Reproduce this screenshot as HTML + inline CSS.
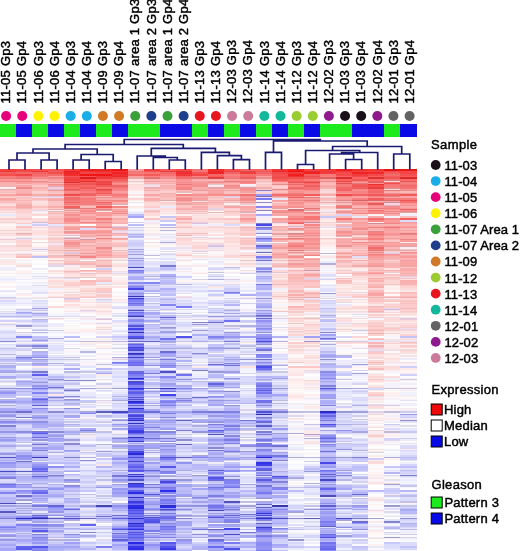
<!DOCTYPE html><html><head><meta charset="utf-8"><style>html,body{margin:0;padding:0;background:#fff;width:520px;height:551px;overflow:hidden}svg{position:absolute;left:0;top:0}text{font-family:"Liberation Sans",sans-serif;stroke:#000;stroke-width:0.45px;paint-order:stroke}</style></head><body>
<svg width="520" height="551" viewBox="0 0 520 551" shape-rendering="crispEdges"><g style="filter:blur(0.45px)">
<path fill="#f04242" d="M0 169h16.02v1h-16.02zM16.02 174h16.02v2h-16.02zM304.37 169h16.02v1h-16.02z"/>
<path fill="#f63f3f" d="M0 170h16.02v1h-16.02zM352.42 171h16.02v1h-16.02zM368.44 171h16.02v1h-16.02z"/>
<path fill="#ed3636" d="M0 171h16.02v1h-16.02zM368.44 170h16.02v1h-16.02z"/>
<path fill="#f35d5d" d="M0 172h16.02v2h-16.02zM160.19 169h16.02v1h-16.02zM400.48 218h16.02v2h-16.02z"/>
<path fill="#f34e4e" d="M0 174h16.02v2h-16.02zM48.06 172h16.02v2h-16.02zM272.33 176h16.02v1h-16.02z"/>
<path fill="#f97e7e" d="M0 176h16.02v1h-16.02zM80.1 200h16.02v1h-16.02zM384.46 187h16.02v1h-16.02z"/>
<path fill="#f37b7b" d="M0 177h16.02v1h-16.02zM384.46 186h16.02v1h-16.02z"/>
<path fill="#ea7e7e" d="M0 178h16.02v1h-16.02zM240.29 181h16.02v1h-16.02z"/>
<path fill="#ff9696" d="M0 179h16.02v2h-16.02zM16.02 179h16.02v1h-16.02zM384.46 209h16.02v1h-16.02zM400.48 203h16.02v1h-16.02z"/>
<path fill="#f08a8a" d="M0 181h16.02v1h-16.02zM16.02 181h16.02v1h-16.02zM304.37 233h16.02v1h-16.02zM336.4 192h16.02v1h-16.02z"/>
<path fill="#f6abab" d="M0 182h16.02v1h-16.02zM16.02 193h16.02v1h-16.02zM400.48 270h16.02v1h-16.02z"/>
<path fill="#fcb1b1" d="M0 183h16.02v1h-16.02zM16.02 192h16.02v1h-16.02z"/>
<path fill="#f9b1b1" d="M0 184h16.02v2h-16.02zM16.02 191h16.02v1h-16.02zM80.1 214h16.02v2h-16.02zM96.12 256h16.02v2h-16.02zM112.13 214h16.02v2h-16.02zM160.19 186h16.02v2h-16.02zM240.29 214h16.02v2h-16.02zM272.33 226h16.02v1h-16.02zM368.44 260h16.02v1h-16.02zM368.44 280h16.02v2h-16.02zM400.48 224h16.02v2h-16.02zM400.48 259h16.02v1h-16.02zM400.48 282h16.02v2h-16.02z"/>
<path fill="#e1babd" d="M0 186h16.02v1h-16.02z"/>
<path fill="#fff0f0" d="M0 187h16.02v1h-16.02zM0 226h16.02v1h-16.02zM16.02 272h16.02v1h-16.02zM32.04 366h16.02v2h-16.02zM48.06 210h16.02v1h-16.02zM48.06 259h16.02v1h-16.02zM64.08 290h16.02v2h-16.02zM80.1 300h16.02v2h-16.02zM80.1 304h16.02v2h-16.02zM80.1 342h16.02v1h-16.02zM96.12 326h16.02v1h-16.02zM96.12 338h16.02v2h-16.02zM96.12 346h16.02v2h-16.02zM112.13 224h16.02v2h-16.02zM128.15 183h16.02v1h-16.02zM144.17 216h16.02v2h-16.02zM144.17 224h16.02v2h-16.02zM160.19 212h16.02v1h-16.02zM160.19 228h16.02v2h-16.02zM176.21 214h16.02v2h-16.02zM192.23 240h16.02v2h-16.02zM208.25 213h16.02v1h-16.02zM208.25 223h16.02v1h-16.02zM208.25 240h16.02v2h-16.02zM224.27 204h16.02v1h-16.02zM224.27 282h16.02v2h-16.02zM240.29 259h16.02v1h-16.02zM240.29 280h16.02v2h-16.02zM272.33 216h16.02v2h-16.02zM272.33 290h16.02v2h-16.02zM272.33 306h16.02v2h-16.02zM288.35 363h16.02v1h-16.02zM288.35 378h16.02v1h-16.02zM288.35 383h16.02v1h-16.02zM304.37 344h16.02v1h-16.02zM304.37 368h16.02v2h-16.02zM304.37 388h16.02v1h-16.02zM336.4 237h16.02v1h-16.02zM336.4 277h16.02v1h-16.02zM336.4 310h16.02v1h-16.02zM336.4 324h16.02v1h-16.02zM336.4 327h16.02v1h-16.02zM352.42 300h16.02v2h-16.02zM352.42 310h16.02v1h-16.02zM352.42 320h16.02v2h-16.02zM368.44 400h16.02v1h-16.02zM368.44 426h16.02v1h-16.02zM368.44 544h16.02v2h-16.02zM384.46 286h16.02v2h-16.02zM384.46 302h16.02v1h-16.02zM384.46 313h16.02v1h-16.02zM384.46 322h16.02v1h-16.02zM384.46 344h16.02v1h-16.02zM384.46 392h16.02v4h-16.02zM400.48 213h16.02v1h-16.02z"/>
<path fill="#ffedf0" d="M0 188h16.02v1h-16.02zM112.13 205h16.02v1h-16.02zM272.33 242h16.02v1h-16.02zM400.48 248h16.02v1h-16.02z"/>
<path fill="#dbb1b4" d="M0 189h16.02v1h-16.02zM112.13 204h16.02v1h-16.02z"/>
<path fill="#f9bdbd" d="M0 190h16.02v1h-16.02zM0 206h16.02v2h-16.02zM16.02 256h16.02v2h-16.02zM48.06 256h16.02v2h-16.02zM80.1 206h16.02v2h-16.02zM112.13 245h16.02v1h-16.02zM112.13 256h16.02v2h-16.02zM240.29 216h16.02v2h-16.02zM288.35 280h16.02v2h-16.02zM368.44 290h16.02v2h-16.02zM368.44 306h16.02v2h-16.02z"/>
<path fill="#fcc0c0" d="M0 191h16.02v1h-16.02zM32.04 206h16.02v2h-16.02zM96.12 237h16.02v1h-16.02zM112.13 244h16.02v1h-16.02zM176.21 216h16.02v2h-16.02zM400.48 293h16.02v1h-16.02z"/>
<path fill="#f6c0c0" d="M0 192h16.02v1h-16.02zM16.02 227h16.02v1h-16.02zM176.21 213h16.02v1h-16.02zM208.25 204h16.02v1h-16.02zM368.44 309h16.02v1h-16.02zM400.48 342h16.02v1h-16.02z"/>
<path fill="#ffcccc" d="M0 193h16.02v1h-16.02zM64.08 249h16.02v1h-16.02zM64.08 260h16.02v1h-16.02zM112.13 242h16.02v1h-16.02zM160.19 192h16.02v1h-16.02zM176.21 223h16.02v1h-16.02zM192.23 210h16.02v1h-16.02zM240.29 223h16.02v1h-16.02zM240.29 226h16.02v1h-16.02zM240.29 239h16.02v1h-16.02zM272.33 231h16.02v1h-16.02zM288.35 285h16.02v1h-16.02zM304.37 296h16.02v1h-16.02zM352.42 235h16.02v1h-16.02zM352.42 249h16.02v1h-16.02zM352.42 261h16.02v1h-16.02zM352.42 297h16.02v1h-16.02zM368.44 298h16.02v1h-16.02zM368.44 363h16.02v1h-16.02zM400.48 343h16.02v1h-16.02z"/>
<path fill="#f9a2a2" d="M0 194h16.02v2h-16.02zM0 198h16.02v2h-16.02zM64.08 216h16.02v2h-16.02zM64.08 222h16.02v1h-16.02zM96.12 220h16.02v2h-16.02zM128.15 176h16.02v2h-16.02zM304.37 193h16.02v1h-16.02zM304.37 274h16.02v2h-16.02zM336.4 256h16.02v2h-16.02zM400.48 244h16.02v1h-16.02zM400.48 263h16.02v3h-16.02z"/>
<path fill="#f6c3c3" d="M0 196h16.02v1h-16.02zM48.06 192h16.02v1h-16.02zM64.08 261h16.02v1h-16.02zM80.1 297h16.02v1h-16.02zM112.13 243h16.02v1h-16.02zM144.17 196h16.02v1h-16.02zM160.19 190h16.02v1h-16.02zM240.29 238h16.02v1h-16.02zM288.35 284h16.02v1h-16.02z"/>
<path fill="#ffcfcf" d="M0 197h16.02v1h-16.02zM32.04 191h16.02v1h-16.02zM64.08 284h16.02v1h-16.02zM80.1 296h16.02v1h-16.02zM144.17 197h16.02v1h-16.02zM160.19 191h16.02v1h-16.02zM176.21 212h16.02v1h-16.02zM176.21 226h16.02v1h-16.02zM288.35 296h16.02v1h-16.02zM288.35 298h16.02v1h-16.02zM288.35 308h16.02v1h-16.02zM288.35 342h16.02v1h-16.02zM304.37 272h16.02v1h-16.02zM336.4 263h16.02v2h-16.02zM368.44 327h16.02v1h-16.02z"/>
<path fill="#f3b1b1" d="M0 200h16.02v1h-16.02zM80.1 245h16.02v1h-16.02zM80.1 250h16.02v1h-16.02zM208.25 200h16.02v1h-16.02z"/>
<path fill="#ffbdbd" d="M0 201h16.02v1h-16.02zM48.06 191h16.02v1h-16.02zM80.1 251h16.02v1h-16.02zM80.1 254h16.02v1h-16.02zM144.17 182h16.02v1h-16.02zM144.17 189h16.02v1h-16.02zM192.23 191h16.02v1h-16.02zM208.25 201h16.02v1h-16.02zM224.27 191h16.02v1h-16.02zM256.31 179h16.02v1h-16.02zM272.33 192h16.02v1h-16.02zM352.42 252h16.02v1h-16.02zM368.44 279h16.02v1h-16.02z"/>
<path fill="#f0c0c0" d="M0 202h16.02v1h-16.02z"/>
<path fill="#ffd5d5" d="M0 203h16.02v1h-16.02zM48.06 233h16.02v1h-16.02zM48.06 253h16.02v1h-16.02zM64.08 273h16.02v1h-16.02zM176.21 239h16.02v1h-16.02zM192.23 212h16.02v1h-16.02zM304.37 325h16.02v1h-16.02zM304.37 331h16.02v1h-16.02zM320.38 189h16.02v1h-16.02zM320.38 203h16.02v1h-16.02zM336.4 249h16.02v1h-16.02zM336.4 272h16.02v1h-16.02zM336.4 279h16.02v1h-16.02zM352.42 267h16.02v1h-16.02zM368.44 332h16.02v1h-16.02zM384.46 293h16.02v1h-16.02zM400.48 310h16.02v1h-16.02zM400.48 347h16.02v1h-16.02z"/>
<path fill="#f9dbdb" d="M0 204h16.02v1h-16.02zM0 210h16.02v1h-16.02zM0 246h16.02v1h-16.02zM48.06 271h16.02v1h-16.02zM112.13 265h16.02v1h-16.02zM128.15 184h16.02v1h-16.02zM176.21 243h16.02v1h-16.02zM224.27 242h16.02v1h-16.02zM240.29 264h16.02v1h-16.02zM288.35 332h16.02v1h-16.02zM320.38 208h16.02v1h-16.02zM384.46 324h16.02v1h-16.02zM400.48 339h16.02v1h-16.02z"/>
<path fill="#ffe1e1" d="M0 205h16.02v1h-16.02zM0 211h16.02v1h-16.02zM0 247h16.02v1h-16.02zM32.04 201h16.02v2h-16.02zM32.04 230h16.02v1h-16.02zM48.06 261h16.02v1h-16.02zM48.06 270h16.02v1h-16.02zM48.06 296h16.02v1h-16.02zM112.13 264h16.02v1h-16.02zM128.15 179h16.02v1h-16.02zM128.15 186h16.02v1h-16.02zM128.15 189h16.02v1h-16.02zM192.23 226h16.02v1h-16.02zM192.23 243h16.02v2h-16.02zM208.25 235h16.02v1h-16.02zM224.27 230h16.02v1h-16.02zM224.27 236h16.02v1h-16.02zM272.33 261h16.02v1h-16.02zM288.35 313h16.02v1h-16.02zM288.35 333h16.02v1h-16.02zM304.37 211h16.02v1h-16.02zM320.38 223h16.02v1h-16.02zM336.4 209h16.02v1h-16.02zM336.4 309h16.02v1h-16.02zM336.4 319h16.02v1h-16.02zM352.42 259h16.02v1h-16.02zM352.42 276h16.02v1h-16.02zM352.42 343h16.02v1h-16.02zM368.44 356h16.02v1h-16.02zM368.44 378h16.02v1h-16.02zM384.46 359h16.02v1h-16.02zM400.48 313h16.02v1h-16.02z"/>
<path fill="#fccccc" d="M0 208h16.02v2h-16.02zM48.06 238h16.02v1h-16.02zM112.13 216h16.02v2h-16.02zM144.17 192h16.02v1h-16.02zM144.17 206h16.02v2h-16.02zM208.25 198h16.02v2h-16.02zM256.31 185h16.02v1h-16.02zM288.35 286h16.02v2h-16.02zM304.37 304h16.02v2h-16.02zM352.42 240h16.02v2h-16.02zM368.44 282h16.02v2h-16.02zM384.46 329h16.02v1h-16.02zM400.48 304h16.02v4h-16.02z"/>
<path fill="#f6dbdb" d="M0 212h16.02v1h-16.02zM288.35 327h16.02v1h-16.02zM352.42 284h16.02v1h-16.02zM368.44 461h16.02v1h-16.02z"/>
<path fill="#ffeded" d="M0 213h16.02v1h-16.02zM0 216h16.02v2h-16.02zM0 228h16.02v2h-16.02zM16.02 294h16.02v2h-16.02zM32.04 226h16.02v1h-16.02zM32.04 228h16.02v2h-16.02zM32.04 254h16.02v1h-16.02zM48.06 272h16.02v1h-16.02zM48.06 285h16.02v1h-16.02zM64.08 288h16.02v2h-16.02zM80.1 308h16.02v1h-16.02zM80.1 330h16.02v1h-16.02zM96.12 303h16.02v1h-16.02zM96.12 313h16.02v1h-16.02zM96.12 343h16.02v1h-16.02zM96.12 374h16.02v2h-16.02zM112.13 258h16.02v1h-16.02zM112.13 267h16.02v1h-16.02zM112.13 280h16.02v2h-16.02zM112.13 300h16.02v2h-16.02zM144.17 239h16.02v1h-16.02zM160.19 201h16.02v1h-16.02zM176.21 193h16.02v1h-16.02zM176.21 256h16.02v2h-16.02zM192.23 366h16.02v2h-16.02zM224.27 203h16.02v1h-16.02zM224.27 251h16.02v1h-16.02zM240.29 262h16.02v1h-16.02zM256.31 218h16.02v2h-16.02zM288.35 304h16.02v2h-16.02zM288.35 322h16.02v1h-16.02zM288.35 325h16.02v1h-16.02zM288.35 338h16.02v1h-16.02zM288.35 348h16.02v1h-16.02zM288.35 359h16.02v1h-16.02zM288.35 368h16.02v3h-16.02zM288.35 380h16.02v2h-16.02zM288.35 419h16.02v1h-16.02zM304.37 320h16.02v2h-16.02zM304.37 347h16.02v1h-16.02zM304.37 382h16.02v1h-16.02zM304.37 394h16.02v2h-16.02zM320.38 205h16.02v1h-16.02zM320.38 220h16.02v2h-16.02zM320.38 245h16.02v1h-16.02zM336.4 284h16.02v1h-16.02zM336.4 286h16.02v2h-16.02zM336.4 330h16.02v1h-16.02zM352.42 268h16.02v2h-16.02zM352.42 280h16.02v2h-16.02zM368.44 365h16.02v1h-16.02zM368.44 419h16.02v1h-16.02zM368.44 460h16.02v1h-16.02zM384.46 288h16.02v2h-16.02zM384.46 332h16.02v1h-16.02zM384.46 355h16.02v2h-16.02zM384.46 381h16.02v1h-16.02zM384.46 419h16.02v1h-16.02zM400.48 322h16.02v1h-16.02zM400.48 333h16.02v1h-16.02z"/>
<path fill="#eaeafc" d="M0 214h16.02v2h-16.02zM0 278h16.02v2h-16.02zM32.04 304h16.02v2h-16.02zM48.06 324h16.02v1h-16.02zM48.06 368h16.02v2h-16.02zM64.08 360h16.02v2h-16.02zM80.1 392h16.02v4h-16.02zM96.12 282h16.02v2h-16.02zM96.12 488h16.02v2h-16.02zM128.15 228h16.02v2h-16.02zM160.19 206h16.02v2h-16.02zM160.19 240h16.02v2h-16.02zM176.21 268h16.02v2h-16.02zM176.21 298h16.02v1h-16.02zM176.21 328h16.02v1h-16.02zM192.23 298h16.02v1h-16.02zM192.23 376h16.02v2h-16.02zM192.23 394h16.02v2h-16.02zM208.25 366h16.02v2h-16.02zM208.25 394h16.02v2h-16.02zM224.27 353h16.02v1h-16.02zM224.27 472h16.02v2h-16.02zM240.29 468h16.02v2h-16.02zM272.33 406h16.02v2h-16.02zM288.35 492h16.02v2h-16.02zM288.35 535h16.02v1h-16.02zM288.35 548h16.02v2h-16.02zM304.37 464h16.02v2h-16.02zM304.37 490h16.02v2h-16.02zM304.37 524h16.02v2h-16.02zM320.38 428h16.02v2h-16.02zM336.4 304h16.02v2h-16.02zM336.4 360h16.02v2h-16.02zM336.4 383h16.02v2h-16.02zM336.4 394h16.02v2h-16.02zM352.42 216h16.02v2h-16.02zM352.42 530h16.02v2h-16.02zM368.44 550h16.02v1h-16.02zM400.48 358h16.02v2h-16.02z"/>
<path fill="#fccfcf" d="M0 218h16.02v2h-16.02zM48.06 214h16.02v2h-16.02zM48.06 246h16.02v1h-16.02zM48.06 248h16.02v2h-16.02zM64.08 282h16.02v2h-16.02zM80.1 290h16.02v2h-16.02zM96.12 279h16.02v1h-16.02zM208.25 206h16.02v2h-16.02zM224.27 212h16.02v2h-16.02zM272.33 186h16.02v2h-16.02zM272.33 280h16.02v2h-16.02zM368.44 314h16.02v1h-16.02zM368.44 334h16.02v2h-16.02zM384.46 306h16.02v2h-16.02z"/>
<path fill="#fce1e1" d="M0 220h16.02v2h-16.02zM16.02 248h16.02v2h-16.02zM32.04 231h16.02v1h-16.02zM32.04 238h16.02v1h-16.02zM48.06 282h16.02v2h-16.02zM64.08 286h16.02v2h-16.02zM192.23 214h16.02v2h-16.02zM192.23 231h16.02v1h-16.02zM192.23 256h16.02v2h-16.02zM208.25 220h16.02v2h-16.02zM224.27 245h16.02v2h-16.02zM240.29 366h16.02v2h-16.02zM288.35 268h16.02v2h-16.02zM304.37 338h16.02v1h-16.02zM304.37 443h16.02v1h-16.02zM336.4 288h16.02v2h-16.02zM352.42 282h16.02v2h-16.02zM352.42 286h16.02v4h-16.02zM368.44 354h16.02v1h-16.02zM384.46 268h16.02v2h-16.02z"/>
<path fill="#f3d5d5" d="M0 222h16.02v1h-16.02zM48.06 237h16.02v1h-16.02zM208.25 238h16.02v1h-16.02zM304.37 302h16.02v1h-16.02zM384.46 299h16.02v1h-16.02zM384.46 327h16.02v1h-16.02zM384.46 330h16.02v1h-16.02zM400.48 330h16.02v1h-16.02z"/>
<path fill="#ffeaea" d="M0 223h16.02v1h-16.02zM0 255h16.02v1h-16.02zM0 263h16.02v1h-16.02zM32.04 235h16.02v1h-16.02zM48.06 236h16.02v1h-16.02zM48.06 279h16.02v1h-16.02zM80.1 286h16.02v2h-16.02zM96.12 276h16.02v1h-16.02zM96.12 328h16.02v1h-16.02zM128.15 206h16.02v2h-16.02zM176.21 236h16.02v1h-16.02zM176.21 252h16.02v1h-16.02zM208.25 242h16.02v1h-16.02zM224.27 252h16.02v1h-16.02zM240.29 261h16.02v1h-16.02zM256.31 208h16.02v1h-16.02zM272.33 224h16.02v2h-16.02zM272.33 278h16.02v1h-16.02zM272.33 293h16.02v1h-16.02zM288.35 303h16.02v1h-16.02zM288.35 326h16.02v1h-16.02zM288.35 344h16.02v1h-16.02zM288.35 372h16.02v1h-16.02zM304.37 430h16.02v1h-16.02zM304.37 432h16.02v1h-16.02zM320.38 213h16.02v1h-16.02zM320.38 231h16.02v2h-16.02zM320.38 240h16.02v2h-16.02zM336.4 293h16.02v1h-16.02zM336.4 328h16.02v1h-16.02zM352.42 285h16.02v1h-16.02zM352.42 327h16.02v1h-16.02zM368.44 313h16.02v1h-16.02zM368.44 498h16.02v1h-16.02zM368.44 530h16.02v2h-16.02zM384.46 298h16.02v1h-16.02zM384.46 346h16.02v1h-16.02zM400.48 331h16.02v1h-16.02zM400.48 344h16.02v1h-16.02zM400.48 368h16.02v2h-16.02z"/>
<path fill="#fff6f6" d="M0 224h16.02v2h-16.02zM0 244h16.02v1h-16.02zM0 252h16.02v1h-16.02zM0 265h16.02v1h-16.02zM0 282h16.02v2h-16.02zM16.02 251h16.02v1h-16.02zM16.02 276h16.02v1h-16.02zM32.04 243h16.02v1h-16.02zM48.06 274h16.02v2h-16.02zM48.06 300h16.02v2h-16.02zM64.08 293h16.02v1h-16.02zM64.08 330h16.02v1h-16.02zM64.08 406h16.02v2h-16.02zM80.1 260h16.02v1h-16.02zM80.1 328h16.02v1h-16.02zM96.12 309h16.02v1h-16.02zM96.12 325h16.02v1h-16.02zM96.12 356h16.02v1h-16.02zM96.12 366h16.02v2h-16.02zM112.13 262h16.02v1h-16.02zM144.17 228h16.02v2h-16.02zM144.17 231h16.02v2h-16.02zM144.17 243h16.02v1h-16.02zM144.17 247h16.02v1h-16.02zM160.19 214h16.02v2h-16.02zM176.21 261h16.02v1h-16.02zM176.21 270h16.02v1h-16.02zM192.23 280h16.02v2h-16.02zM240.29 328h16.02v1h-16.02zM240.29 343h16.02v1h-16.02zM288.35 354h16.02v2h-16.02zM288.35 392h16.02v2h-16.02zM304.37 405h16.02v1h-16.02zM304.37 409h16.02v1h-16.02zM304.37 437h16.02v1h-16.02zM320.38 228h16.02v2h-16.02zM320.38 280h16.02v2h-16.02zM336.4 298h16.02v1h-16.02zM336.4 316h16.02v1h-16.02zM336.4 347h16.02v1h-16.02zM352.42 290h16.02v2h-16.02zM352.42 322h16.02v1h-16.02zM368.44 383h16.02v1h-16.02zM368.44 409h16.02v1h-16.02zM368.44 416h16.02v1h-16.02zM368.44 445h16.02v1h-16.02zM368.44 450h16.02v1h-16.02zM368.44 464h16.02v2h-16.02zM384.46 290h16.02v2h-16.02zM384.46 406h16.02v2h-16.02zM400.48 357h16.02v1h-16.02zM400.48 371h16.02v1h-16.02z"/>
<path fill="#fcf0f0" d="M0 227h16.02v1h-16.02zM0 236h16.02v1h-16.02zM16.02 271h16.02v1h-16.02zM64.08 331h16.02v1h-16.02zM80.1 329h16.02v1h-16.02zM96.12 324h16.02v1h-16.02zM112.13 296h16.02v1h-16.02zM144.17 246h16.02v1h-16.02zM208.25 254h16.02v1h-16.02zM240.29 329h16.02v1h-16.02zM272.33 343h16.02v1h-16.02zM288.35 382h16.02v1h-16.02zM288.35 387h16.02v1h-16.02zM288.35 398h16.02v1h-16.02zM352.42 347h16.02v1h-16.02zM368.44 417h16.02v1h-16.02zM368.44 444h16.02v1h-16.02zM384.46 435h16.02v1h-16.02z"/>
<path fill="#f3d2d2" d="M0 230h16.02v1h-16.02zM16.02 230h16.02v1h-16.02zM48.06 263h16.02v1h-16.02zM224.27 227h16.02v1h-16.02zM320.38 197h16.02v1h-16.02zM320.38 222h16.02v1h-16.02zM384.46 343h16.02v1h-16.02z"/>
<path fill="#ffe7e7" d="M0 231h16.02v2h-16.02zM0 234h16.02v1h-16.02zM0 249h16.02v1h-16.02zM0 251h16.02v1h-16.02zM0 260h16.02v1h-16.02zM16.02 264h16.02v1h-16.02zM48.06 293h16.02v1h-16.02zM80.1 276h16.02v1h-16.02zM96.12 211h16.02v1h-16.02zM112.13 249h16.02v1h-16.02zM128.15 180h16.02v1h-16.02zM160.19 210h16.02v1h-16.02zM176.21 230h16.02v1h-16.02zM176.21 245h16.02v1h-16.02zM208.25 231h16.02v1h-16.02zM208.25 239h16.02v1h-16.02zM224.27 226h16.02v1h-16.02zM224.27 235h16.02v1h-16.02zM224.27 243h16.02v2h-16.02zM224.27 247h16.02v1h-16.02zM224.27 254h16.02v1h-16.02zM272.33 299h16.02v1h-16.02zM272.33 310h16.02v1h-16.02zM288.35 330h16.02v1h-16.02zM288.35 352h16.02v1h-16.02zM288.35 397h16.02v1h-16.02zM304.37 323h16.02v1h-16.02zM304.37 329h16.02v1h-16.02zM304.37 381h16.02v1h-16.02zM320.38 196h16.02v1h-16.02zM320.38 234h16.02v1h-16.02zM352.42 309h16.02v1h-16.02zM368.44 316h16.02v1h-16.02zM368.44 398h16.02v1h-16.02zM368.44 482h16.02v1h-16.02zM400.48 242h16.02v1h-16.02zM400.48 315h16.02v1h-16.02z"/>
<path fill="#f0d2d2" d="M0 233h16.02v1h-16.02zM320.38 212h16.02v1h-16.02zM400.48 345h16.02v1h-16.02z"/>
<path fill="#f6dede" d="M0 235h16.02v1h-16.02zM0 254h16.02v1h-16.02zM32.04 227h16.02v1h-16.02zM32.04 255h16.02v1h-16.02zM112.13 266h16.02v1h-16.02zM272.33 292h16.02v1h-16.02zM320.38 204h16.02v1h-16.02zM368.44 499h16.02v1h-16.02z"/>
<path fill="#fff3f3" d="M0 237h16.02v1h-16.02zM0 286h16.02v2h-16.02zM16.02 236h16.02v1h-16.02zM16.02 270h16.02v1h-16.02zM32.04 246h16.02v1h-16.02zM48.06 290h16.02v2h-16.02zM48.06 294h16.02v2h-16.02zM64.08 236h16.02v1h-16.02zM64.08 303h16.02v1h-16.02zM64.08 310h16.02v1h-16.02zM80.1 303h16.02v1h-16.02zM96.12 285h16.02v1h-16.02zM112.13 261h16.02v1h-16.02zM112.13 268h16.02v2h-16.02zM112.13 279h16.02v1h-16.02zM112.13 297h16.02v1h-16.02zM128.15 191h16.02v1h-16.02zM176.21 280h16.02v2h-16.02zM192.23 252h16.02v1h-16.02zM208.25 255h16.02v1h-16.02zM224.27 216h16.02v2h-16.02zM224.27 265h16.02v1h-16.02zM240.29 271h16.02v1h-16.02zM256.31 204h16.02v2h-16.02zM272.33 342h16.02v1h-16.02zM288.35 384h16.02v3h-16.02zM288.35 399h16.02v1h-16.02zM304.37 315h16.02v1h-16.02zM304.37 354h16.02v1h-16.02zM320.38 236h16.02v2h-16.02zM320.38 247h16.02v1h-16.02zM336.4 368h16.02v2h-16.02zM352.42 303h16.02v3h-16.02zM352.42 328h16.02v1h-16.02zM352.42 366h16.02v2h-16.02zM368.44 214h16.02v2h-16.02zM368.44 384h16.02v1h-16.02zM368.44 415h16.02v1h-16.02zM368.44 457h16.02v1h-16.02zM368.44 468h16.02v2h-16.02zM368.44 472h16.02v3h-16.02zM368.44 532h16.02v2h-16.02zM384.46 334h16.02v2h-16.02zM384.46 409h16.02v1h-16.02zM384.46 434h16.02v1h-16.02zM384.46 458h16.02v2h-16.02zM400.48 370h16.02v1h-16.02zM400.48 372h16.02v1h-16.02z"/>
<path fill="#ffe4ed" d="M0 238h16.02v1h-16.02zM96.12 293h16.02v1h-16.02z"/>
<path fill="#e7ccd5" d="M0 239h16.02v1h-16.02zM96.12 292h16.02v1h-16.02z"/>
<path fill="#fce7e7" d="M0 240h16.02v2h-16.02zM0 256h16.02v2h-16.02zM0 261h16.02v2h-16.02zM48.06 273h16.02v1h-16.02zM48.06 394h16.02v2h-16.02zM64.08 268h16.02v2h-16.02zM96.12 304h16.02v2h-16.02zM96.12 312h16.02v1h-16.02zM96.12 342h16.02v1h-16.02zM112.13 274h16.02v2h-16.02zM144.17 238h16.02v1h-16.02zM176.21 237h16.02v1h-16.02zM208.25 256h16.02v2h-16.02zM208.25 286h16.02v2h-16.02zM224.27 248h16.02v2h-16.02zM224.27 253h16.02v1h-16.02zM288.35 373h16.02v1h-16.02zM304.37 334h16.02v2h-16.02zM304.37 433h16.02v1h-16.02zM320.38 233h16.02v1h-16.02zM320.38 244h16.02v1h-16.02zM336.4 268h16.02v2h-16.02zM368.44 304h16.02v2h-16.02zM400.48 290h16.02v2h-16.02z"/>
<path fill="#f3e4e7" d="M0 242h16.02v1h-16.02zM192.23 273h16.02v1h-16.02zM304.37 349h16.02v1h-16.02zM304.37 387h16.02v1h-16.02zM352.42 333h16.02v1h-16.02zM368.44 420h16.02v1h-16.02zM400.48 355h16.02v1h-16.02z"/>
<path fill="#fff6f9" d="M0 243h16.02v1h-16.02zM32.04 212h16.02v1h-16.02zM80.1 322h16.02v1h-16.02zM96.12 315h16.02v1h-16.02zM304.37 348h16.02v1h-16.02zM368.44 421h16.02v2h-16.02zM368.44 515h16.02v1h-16.02zM400.48 354h16.02v1h-16.02zM400.48 391h16.02v1h-16.02z"/>
<path fill="#f0dee1" d="M0 245h16.02v1h-16.02zM304.37 358h16.02v1h-16.02zM368.44 358h16.02v1h-16.02z"/>
<path fill="#fce4e4" d="M0 248h16.02v1h-16.02zM16.02 220h16.02v2h-16.02zM48.06 292h16.02v1h-16.02zM64.08 274h16.02v2h-16.02zM64.08 280h16.02v2h-16.02zM80.1 294h16.02v2h-16.02zM80.1 306h16.02v2h-16.02zM96.12 286h16.02v2h-16.02zM112.13 282h16.02v2h-16.02zM112.13 286h16.02v2h-16.02zM128.15 194h16.02v2h-16.02zM176.21 224h16.02v2h-16.02zM176.21 228h16.02v2h-16.02zM176.21 231h16.02v1h-16.02zM192.23 216h16.02v2h-16.02zM208.25 214h16.02v4h-16.02zM208.25 228h16.02v2h-16.02zM272.33 298h16.02v1h-16.02zM288.35 353h16.02v1h-16.02zM288.35 360h16.02v2h-16.02zM288.35 374h16.02v2h-16.02zM288.35 396h16.02v1h-16.02zM304.37 290h16.02v2h-16.02zM304.37 360h16.02v2h-16.02zM304.37 363h16.02v1h-16.02zM320.38 218h16.02v2h-16.02zM320.38 230h16.02v1h-16.02zM320.38 235h16.02v1h-16.02zM320.38 242h16.02v2h-16.02zM320.38 256h16.02v2h-16.02zM336.4 306h16.02v2h-16.02zM368.44 355h16.02v1h-16.02zM368.44 374h16.02v2h-16.02zM384.46 347h16.02v1h-16.02z"/>
<path fill="#f9dede" d="M0 250h16.02v1h-16.02zM16.02 265h16.02v1h-16.02zM96.12 311h16.02v1h-16.02zM160.19 211h16.02v1h-16.02zM176.21 244h16.02v1h-16.02zM192.23 239h16.02v1h-16.02zM208.25 230h16.02v1h-16.02zM240.29 253h16.02v1h-16.02zM304.37 328h16.02v1h-16.02zM352.42 279h16.02v1h-16.02zM400.48 314h16.02v1h-16.02zM400.48 352h16.02v1h-16.02z"/>
<path fill="#f9eded" d="M0 253h16.02v1h-16.02zM96.12 308h16.02v1h-16.02zM304.37 408h16.02v1h-16.02zM336.4 346h16.02v1h-16.02zM368.44 390h16.02v1h-16.02zM400.48 373h16.02v1h-16.02zM400.48 396h16.02v1h-16.02z"/>
<path fill="#fcfcff" d="M0 258h16.02v1h-16.02zM0 306h16.02v2h-16.02zM0 310h16.02v1h-16.02zM0 343h16.02v1h-16.02zM16.02 280h16.02v2h-16.02zM16.02 292h16.02v1h-16.02zM16.02 362h16.02v1h-16.02zM16.02 366h16.02v2h-16.02zM32.04 258h16.02v1h-16.02zM32.04 272h16.02v1h-16.02zM32.04 299h16.02v1h-16.02zM48.06 304h16.02v2h-16.02zM48.06 329h16.02v1h-16.02zM48.06 334h16.02v2h-16.02zM48.06 354h16.02v1h-16.02zM64.08 339h16.02v1h-16.02zM64.08 342h16.02v2h-16.02zM64.08 353h16.02v1h-16.02zM64.08 472h16.02v2h-16.02zM80.1 315h16.02v1h-16.02zM80.1 354h16.02v1h-16.02zM80.1 357h16.02v2h-16.02zM80.1 383h16.02v2h-16.02zM80.1 387h16.02v1h-16.02zM80.1 399h16.02v1h-16.02zM80.1 427h16.02v1h-16.02zM96.12 360h16.02v2h-16.02zM96.12 378h16.02v1h-16.02zM96.12 399h16.02v1h-16.02zM96.12 404h16.02v1h-16.02zM96.12 523h16.02v1h-16.02zM112.13 304h16.02v2h-16.02zM112.13 317h16.02v1h-16.02zM112.13 327h16.02v1h-16.02zM112.13 333h16.02v1h-16.02zM112.13 350h16.02v1h-16.02zM112.13 355h16.02v1h-16.02zM112.13 443h16.02v1h-16.02zM112.13 501h16.02v1h-16.02zM128.15 203h16.02v1h-16.02zM128.15 220h16.02v2h-16.02zM144.17 252h16.02v1h-16.02zM144.17 260h16.02v1h-16.02zM144.17 294h16.02v2h-16.02zM160.19 250h16.02v1h-16.02zM160.19 260h16.02v1h-16.02zM160.19 311h16.02v1h-16.02zM176.21 294h16.02v2h-16.02zM192.23 268h16.02v2h-16.02zM192.23 277h16.02v1h-16.02zM192.23 293h16.02v1h-16.02zM192.23 363h16.02v1h-16.02zM192.23 387h16.02v1h-16.02zM192.23 405h16.02v1h-16.02zM192.23 483h16.02v1h-16.02zM208.25 236h16.02v1h-16.02zM208.25 273h16.02v1h-16.02zM224.27 374h16.02v2h-16.02zM240.29 268h16.02v2h-16.02zM240.29 306h16.02v2h-16.02zM240.29 538h16.02v1h-16.02zM272.33 326h16.02v1h-16.02zM272.33 332h16.02v2h-16.02zM272.33 339h16.02v1h-16.02zM272.33 349h16.02v1h-16.02zM288.35 402h16.02v1h-16.02zM288.35 417h16.02v1h-16.02zM288.35 420h16.02v1h-16.02zM288.35 466h16.02v2h-16.02zM288.35 494h16.02v1h-16.02zM304.37 256h16.02v2h-16.02zM304.37 451h16.02v1h-16.02zM304.37 456h16.02v1h-16.02zM304.37 481h16.02v1h-16.02zM304.37 497h16.02v1h-16.02zM304.37 501h16.02v2h-16.02zM304.37 530h16.02v2h-16.02zM304.37 541h16.02v1h-16.02zM320.38 260h16.02v1h-16.02zM336.4 303h16.02v1h-16.02zM336.4 358h16.02v1h-16.02zM336.4 370h16.02v1h-16.02zM336.4 387h16.02v1h-16.02zM336.4 402h16.02v1h-16.02zM336.4 435h16.02v1h-16.02zM352.42 349h16.02v1h-16.02zM352.42 497h16.02v1h-16.02zM368.44 453h16.02v1h-16.02zM368.44 503h16.02v1h-16.02zM368.44 506h16.02v1h-16.02zM368.44 508h16.02v1h-16.02zM368.44 513h16.02v1h-16.02zM368.44 528h16.02v1h-16.02zM368.44 542h16.02v2h-16.02zM384.46 445h16.02v4h-16.02zM384.46 451h16.02v1h-16.02zM384.46 464h16.02v2h-16.02zM384.46 498h16.02v1h-16.02zM384.46 510h16.02v1h-16.02zM384.46 514h16.02v1h-16.02zM384.46 517h16.02v2h-16.02zM384.46 535h16.02v1h-16.02zM384.46 541h16.02v1h-16.02zM400.48 401h16.02v1h-16.02zM400.48 423h16.02v1h-16.02zM400.48 427h16.02v1h-16.02zM400.48 441h16.02v1h-16.02zM400.48 461h16.02v1h-16.02zM400.48 488h16.02v2h-16.02zM400.48 541h16.02v1h-16.02z"/>
<path fill="#ededf6" d="M0 259h16.02v1h-16.02zM0 342h16.02v1h-16.02zM80.1 355h16.02v2h-16.02zM80.1 398h16.02v1h-16.02zM112.13 326h16.02v1h-16.02zM192.23 292h16.02v1h-16.02zM288.35 403h16.02v1h-16.02zM304.37 449h16.02v1h-16.02zM320.38 261h16.02v1h-16.02zM352.42 381h16.02v1h-16.02z"/>
<path fill="#f9eaea" d="M0 264h16.02v1h-16.02zM32.04 247h16.02v1h-16.02zM128.15 190h16.02v1h-16.02zM144.17 233h16.02v1h-16.02zM240.29 258h16.02v1h-16.02zM272.33 302h16.02v1h-16.02zM352.42 302h16.02v1h-16.02zM368.44 385h16.02v1h-16.02zM368.44 451h16.02v1h-16.02zM368.44 475h16.02v1h-16.02z"/>
<path fill="#fcf6ff" d="M0 266h16.02v1h-16.02zM64.08 345h16.02v1h-16.02zM80.1 364h16.02v1h-16.02zM96.12 355h16.02v1h-16.02zM112.13 353h16.02v1h-16.02zM240.29 308h16.02v1h-16.02zM352.42 352h16.02v1h-16.02zM352.42 358h16.02v1h-16.02zM384.46 414h16.02v1h-16.02z"/>
<path fill="#f0edf6" d="M0 267h16.02v1h-16.02zM48.06 326h16.02v1h-16.02zM64.08 344h16.02v1h-16.02zM80.1 365h16.02v1h-16.02zM80.1 520h16.02v1h-16.02zM96.12 354h16.02v1h-16.02zM176.21 259h16.02v1h-16.02zM208.25 237h16.02v1h-16.02zM224.27 259h16.02v1h-16.02zM240.29 293h16.02v1h-16.02zM240.29 309h16.02v1h-16.02zM384.46 476h16.02v1h-16.02z"/>
<path fill="#ededfc" d="M0 268h16.02v2h-16.02zM0 304h16.02v2h-16.02zM32.04 268h16.02v2h-16.02zM32.04 282h16.02v2h-16.02zM32.04 290h16.02v2h-16.02zM64.08 392h16.02v2h-16.02zM80.1 379h16.02v1h-16.02zM80.1 466h16.02v2h-16.02zM80.1 530h16.02v2h-16.02zM96.12 428h16.02v2h-16.02zM96.12 460h16.02v1h-16.02zM96.12 544h16.02v2h-16.02zM112.13 382h16.02v1h-16.02zM112.13 385h16.02v1h-16.02zM144.17 366h16.02v2h-16.02zM160.19 392h16.02v2h-16.02zM176.21 282h16.02v2h-16.02zM192.23 282h16.02v2h-16.02zM192.23 288h16.02v2h-16.02zM192.23 304h16.02v2h-16.02zM192.23 374h16.02v2h-16.02zM208.25 224h16.02v2h-16.02zM224.27 280h16.02v2h-16.02zM240.29 392h16.02v2h-16.02zM240.29 460h16.02v1h-16.02zM240.29 462h16.02v2h-16.02zM288.35 428h16.02v2h-16.02zM304.37 542h16.02v2h-16.02zM320.38 286h16.02v2h-16.02zM352.42 374h16.02v2h-16.02zM400.48 405h16.02v1h-16.02zM400.48 479h16.02v1h-16.02zM400.48 492h16.02v2h-16.02z"/>
<path fill="#f6eded" d="M0 270h16.02v1h-16.02zM16.02 263h16.02v1h-16.02zM64.08 318h16.02v1h-16.02zM128.15 200h16.02v1h-16.02zM176.21 265h16.02v1h-16.02zM192.23 266h16.02v1h-16.02zM336.4 314h16.02v1h-16.02zM368.44 373h16.02v1h-16.02zM368.44 514h16.02v1h-16.02zM368.44 522h16.02v1h-16.02z"/>
<path fill="#fffcfc" d="M0 271h16.02v1h-16.02zM0 274h16.02v2h-16.02zM0 293h16.02v1h-16.02zM16.02 258h16.02v1h-16.02zM16.02 268h16.02v2h-16.02zM16.02 306h16.02v2h-16.02zM16.02 331h16.02v1h-16.02zM32.04 216h16.02v2h-16.02zM32.04 240h16.02v2h-16.02zM32.04 260h16.02v1h-16.02zM32.04 270h16.02v1h-16.02zM48.06 268h16.02v2h-16.02zM48.06 310h16.02v1h-16.02zM64.08 319h16.02v1h-16.02zM64.08 322h16.02v1h-16.02zM64.08 324h16.02v1h-16.02zM80.1 224h16.02v2h-16.02zM80.1 268h16.02v2h-16.02zM80.1 278h16.02v2h-16.02zM80.1 325h16.02v1h-16.02zM80.1 347h16.02v1h-16.02zM96.12 344h16.02v1h-16.02zM96.12 352h16.02v1h-16.02zM112.13 276h16.02v1h-16.02zM112.13 290h16.02v2h-16.02zM112.13 298h16.02v1h-16.02zM128.15 196h16.02v1h-16.02zM128.15 201h16.02v1h-16.02zM144.17 226h16.02v1h-16.02zM176.21 263h16.02v1h-16.02zM176.21 334h16.02v2h-16.02zM192.23 254h16.02v1h-16.02zM192.23 271h16.02v1h-16.02zM192.23 274h16.02v2h-16.02zM224.27 261h16.02v1h-16.02zM240.29 300h16.02v2h-16.02zM240.29 318h16.02v1h-16.02zM272.33 350h16.02v1h-16.02zM288.35 365h16.02v1h-16.02zM288.35 391h16.02v1h-16.02zM288.35 401h16.02v1h-16.02zM288.35 409h16.02v1h-16.02zM288.35 451h16.02v1h-16.02zM288.35 462h16.02v2h-16.02zM304.37 374h16.02v2h-16.02zM304.37 421h16.02v2h-16.02zM304.37 455h16.02v1h-16.02zM320.38 249h16.02v1h-16.02zM320.38 251h16.02v1h-16.02zM320.38 282h16.02v2h-16.02zM336.4 315h16.02v1h-16.02zM336.4 338h16.02v1h-16.02zM336.4 376h16.02v2h-16.02zM352.42 334h16.02v2h-16.02zM352.42 338h16.02v1h-16.02zM352.42 344h16.02v1h-16.02zM352.42 357h16.02v1h-16.02zM368.44 372h16.02v1h-16.02zM368.44 403h16.02v1h-16.02zM368.44 424h16.02v1h-16.02zM368.44 428h16.02v2h-16.02zM368.44 454h16.02v1h-16.02zM368.44 485h16.02v1h-16.02zM368.44 488h16.02v2h-16.02zM368.44 523h16.02v1h-16.02zM368.44 540h16.02v1h-16.02zM384.46 374h16.02v2h-16.02zM384.46 461h16.02v1h-16.02zM384.46 530h16.02v2h-16.02zM400.48 360h16.02v2h-16.02zM400.48 376h16.02v2h-16.02zM400.48 381h16.02v1h-16.02z"/>
<path fill="#fff9fc" d="M0 272h16.02v1h-16.02zM0 322h16.02v1h-16.02zM64.08 328h16.02v1h-16.02zM112.13 311h16.02v1h-16.02zM160.19 232h16.02v1h-16.02zM176.21 264h16.02v1h-16.02zM176.21 371h16.02v1h-16.02zM224.27 262h16.02v1h-16.02zM240.29 442h16.02v1h-16.02zM256.31 200h16.02v1h-16.02zM256.31 212h16.02v1h-16.02zM272.33 325h16.02v1h-16.02zM272.33 344h16.02v1h-16.02zM288.35 341h16.02v1h-16.02zM336.4 344h16.02v1h-16.02zM384.46 443h16.02v1h-16.02zM384.46 539h16.02v1h-16.02z"/>
<path fill="#f9f0f3" d="M0 273h16.02v1h-16.02zM384.46 436h16.02v1h-16.02zM384.46 442h16.02v1h-16.02zM400.48 390h16.02v1h-16.02z"/>
<path fill="#f0f0f9" d="M0 276h16.02v1h-16.02zM48.06 323h16.02v1h-16.02zM80.1 538h16.02v1h-16.02zM96.12 398h16.02v1h-16.02zM112.13 332h16.02v1h-16.02zM112.13 351h16.02v1h-16.02zM224.27 276h16.02v1h-16.02zM224.27 296h16.02v1h-16.02zM240.29 284h16.02v1h-16.02zM288.35 522h16.02v1h-16.02zM288.35 533h16.02v1h-16.02zM304.37 480h16.02v1h-16.02zM320.38 270h16.02v1h-16.02zM368.44 529h16.02v1h-16.02zM400.48 384h16.02v1h-16.02z"/>
<path fill="#f6f6ff" d="M0 277h16.02v1h-16.02zM0 294h16.02v2h-16.02zM0 398h16.02v1h-16.02zM16.02 274h16.02v2h-16.02zM16.02 282h16.02v2h-16.02zM16.02 368h16.02v2h-16.02zM16.02 418h16.02v1h-16.02zM16.02 443h16.02v1h-16.02zM32.04 274h16.02v2h-16.02zM32.04 277h16.02v1h-16.02zM32.04 279h16.02v1h-16.02zM32.04 334h16.02v2h-16.02zM32.04 349h16.02v1h-16.02zM48.06 267h16.02v1h-16.02zM48.06 314h16.02v1h-16.02zM48.06 331h16.02v1h-16.02zM48.06 333h16.02v1h-16.02zM48.06 370h16.02v1h-16.02zM48.06 372h16.02v1h-16.02zM48.06 464h16.02v2h-16.02zM64.08 427h16.02v1h-16.02zM80.1 320h16.02v2h-16.02zM80.1 333h16.02v1h-16.02zM80.1 348h16.02v1h-16.02zM80.1 360h16.02v2h-16.02zM80.1 403h16.02v1h-16.02zM80.1 441h16.02v1h-16.02zM80.1 455h16.02v1h-16.02zM80.1 458h16.02v2h-16.02zM80.1 492h16.02v2h-16.02zM80.1 533h16.02v1h-16.02zM96.12 340h16.02v1h-16.02zM96.12 389h16.02v1h-16.02zM96.12 406h16.02v2h-16.02zM96.12 430h16.02v1h-16.02zM96.12 524h16.02v2h-16.02zM112.13 303h16.02v1h-16.02zM112.13 324h16.02v1h-16.02zM144.17 236h16.02v1h-16.02zM144.17 323h16.02v1h-16.02zM144.17 389h16.02v1h-16.02zM144.17 398h16.02v1h-16.02zM160.19 226h16.02v1h-16.02zM160.19 231h16.02v1h-16.02zM160.19 368h16.02v2h-16.02zM160.19 430h16.02v1h-16.02zM176.21 274h16.02v2h-16.02zM176.21 278h16.02v1h-16.02zM176.21 308h16.02v1h-16.02zM176.21 310h16.02v1h-16.02zM176.21 330h16.02v1h-16.02zM176.21 333h16.02v1h-16.02zM176.21 372h16.02v1h-16.02zM176.21 460h16.02v1h-16.02zM192.23 258h16.02v1h-16.02zM192.23 285h16.02v1h-16.02zM192.23 294h16.02v3h-16.02zM192.23 436h16.02v1h-16.02zM192.23 453h16.02v1h-16.02zM192.23 541h16.02v1h-16.02zM208.25 292h16.02v1h-16.02zM208.25 306h16.02v2h-16.02zM208.25 343h16.02v1h-16.02zM208.25 353h16.02v1h-16.02zM208.25 380h16.02v1h-16.02zM224.27 404h16.02v1h-16.02zM240.29 278h16.02v1h-16.02zM240.29 288h16.02v2h-16.02zM240.29 302h16.02v1h-16.02zM240.29 355h16.02v1h-16.02zM240.29 371h16.02v1h-16.02zM240.29 404h16.02v1h-16.02zM240.29 472h16.02v2h-16.02zM240.29 475h16.02v1h-16.02zM240.29 499h16.02v2h-16.02zM240.29 528h16.02v1h-16.02zM256.31 211h16.02v1h-16.02zM256.31 242h16.02v1h-16.02zM256.31 253h16.02v1h-16.02zM272.33 304h16.02v2h-16.02zM272.33 312h16.02v2h-16.02zM272.33 334h16.02v2h-16.02zM288.35 406h16.02v2h-16.02zM288.35 438h16.02v1h-16.02zM288.35 445h16.02v2h-16.02zM288.35 458h16.02v2h-16.02zM288.35 464h16.02v2h-16.02zM288.35 468h16.02v2h-16.02zM288.35 503h16.02v1h-16.02zM288.35 513h16.02v1h-16.02zM288.35 532h16.02v1h-16.02zM288.35 538h16.02v1h-16.02zM304.37 288h16.02v2h-16.02zM304.37 458h16.02v2h-16.02zM304.37 517h16.02v1h-16.02zM320.38 258h16.02v2h-16.02zM320.38 268h16.02v2h-16.02zM320.38 340h16.02v1h-16.02zM336.4 483h16.02v1h-16.02zM352.42 372h16.02v1h-16.02zM352.42 378h16.02v1h-16.02zM352.42 418h16.02v1h-16.02zM352.42 437h16.02v1h-16.02zM352.42 483h16.02v1h-16.02zM368.44 319h16.02v1h-16.02zM384.46 336h16.02v2h-16.02zM384.46 420h16.02v1h-16.02zM384.46 454h16.02v1h-16.02zM384.46 507h16.02v1h-16.02zM384.46 524h16.02v2h-16.02zM400.48 413h16.02v1h-16.02zM400.48 434h16.02v1h-16.02zM400.48 483h16.02v1h-16.02zM400.48 487h16.02v1h-16.02zM400.48 533h16.02v1h-16.02zM400.48 539h16.02v1h-16.02zM400.48 550h16.02v1h-16.02z"/>
<path fill="#f3f3ff" d="M0 280h16.02v2h-16.02zM0 308h16.02v1h-16.02zM0 328h16.02v1h-16.02zM16.02 300h16.02v2h-16.02zM16.02 304h16.02v2h-16.02zM16.02 323h16.02v1h-16.02zM16.02 352h16.02v1h-16.02zM16.02 379h16.02v1h-16.02zM16.02 501h16.02v2h-16.02zM32.04 288h16.02v2h-16.02zM32.04 318h16.02v1h-16.02zM32.04 327h16.02v1h-16.02zM48.06 336h16.02v2h-16.02zM64.08 314h16.02v1h-16.02zM64.08 320h16.02v2h-16.02zM64.08 366h16.02v2h-16.02zM64.08 387h16.02v1h-16.02zM80.1 381h16.02v1h-16.02zM80.1 456h16.02v1h-16.02zM80.1 462h16.02v2h-16.02zM80.1 508h16.02v1h-16.02zM96.12 365h16.02v1h-16.02zM96.12 382h16.02v1h-16.02zM96.12 396h16.02v1h-16.02zM96.12 423h16.02v1h-16.02zM96.12 449h16.02v1h-16.02zM96.12 537h16.02v1h-16.02zM112.13 314h16.02v1h-16.02zM128.15 226h16.02v1h-16.02zM144.17 280h16.02v2h-16.02zM144.17 302h16.02v1h-16.02zM144.17 455h16.02v1h-16.02zM160.19 256h16.02v2h-16.02zM160.19 272h16.02v1h-16.02zM160.19 474h16.02v1h-16.02zM176.21 292h16.02v1h-16.02zM176.21 320h16.02v2h-16.02zM176.21 362h16.02v1h-16.02zM176.21 497h16.02v1h-16.02zM192.23 300h16.02v2h-16.02zM192.23 345h16.02v2h-16.02zM192.23 372h16.02v1h-16.02zM192.23 380h16.02v1h-16.02zM192.23 418h16.02v1h-16.02zM192.23 423h16.02v1h-16.02zM192.23 474h16.02v1h-16.02zM192.23 532h16.02v1h-16.02zM192.23 538h16.02v1h-16.02zM208.25 258h16.02v1h-16.02zM208.25 282h16.02v2h-16.02zM208.25 314h16.02v1h-16.02zM224.27 299h16.02v1h-16.02zM224.27 323h16.02v2h-16.02zM224.27 541h16.02v1h-16.02zM240.29 224h16.02v2h-16.02zM240.29 330h16.02v1h-16.02zM240.29 368h16.02v2h-16.02zM240.29 372h16.02v1h-16.02zM240.29 385h16.02v1h-16.02zM240.29 509h16.02v1h-16.02zM240.29 527h16.02v1h-16.02zM240.29 530h16.02v2h-16.02zM240.29 540h16.02v1h-16.02zM256.31 220h16.02v2h-16.02zM272.33 320h16.02v2h-16.02zM272.33 360h16.02v2h-16.02zM288.35 455h16.02v1h-16.02zM288.35 501h16.02v1h-16.02zM304.37 439h16.02v1h-16.02zM304.37 484h16.02v1h-16.02zM304.37 504h16.02v1h-16.02zM304.37 523h16.02v1h-16.02zM304.37 548h16.02v2h-16.02zM320.38 284h16.02v1h-16.02zM336.4 405h16.02v1h-16.02zM336.4 538h16.02v1h-16.02zM352.42 376h16.02v2h-16.02zM352.42 394h16.02v2h-16.02zM368.44 492h16.02v2h-16.02zM368.44 524h16.02v2h-16.02zM384.46 216h16.02v2h-16.02zM384.46 379h16.02v1h-16.02zM384.46 385h16.02v1h-16.02zM384.46 468h16.02v2h-16.02zM384.46 481h16.02v1h-16.02zM384.46 487h16.02v1h-16.02zM384.46 513h16.02v1h-16.02zM384.46 550h16.02v1h-16.02zM400.48 392h16.02v2h-16.02zM400.48 404h16.02v1h-16.02zM400.48 437h16.02v1h-16.02zM400.48 444h16.02v1h-16.02zM400.48 481h16.02v1h-16.02zM400.48 530h16.02v2h-16.02z"/>
<path fill="#ffffff" d="M0 284h16.02v1h-16.02zM0 288h16.02v2h-16.02zM32.04 261h16.02v2h-16.02zM32.04 265h16.02v2h-16.02zM48.06 302h16.02v2h-16.02zM48.06 320h16.02v3h-16.02zM64.08 347h16.02v1h-16.02zM80.1 314h16.02v1h-16.02zM80.1 336h16.02v2h-16.02zM96.12 317h16.02v1h-16.02zM96.12 392h16.02v2h-16.02zM112.13 288h16.02v2h-16.02zM144.17 240h16.02v2h-16.02zM144.17 256h16.02v2h-16.02zM160.19 222h16.02v2h-16.02zM160.19 252h16.02v1h-16.02zM192.23 261h16.02v2h-16.02zM192.23 550h16.02v1h-16.02zM224.27 270h16.02v1h-16.02zM224.27 274h16.02v2h-16.02zM240.29 274h16.02v2h-16.02zM288.35 461h16.02v1h-16.02zM288.35 484h16.02v1h-16.02zM288.35 497h16.02v1h-16.02zM288.35 523h16.02v1h-16.02zM304.37 392h16.02v2h-16.02zM304.37 447h16.02v2h-16.02zM304.37 544h16.02v2h-16.02zM336.4 332h16.02v1h-16.02zM336.4 334h16.02v2h-16.02zM352.42 350h16.02v1h-16.02zM352.42 472h16.02v2h-16.02zM368.44 336h16.02v2h-16.02zM368.44 447h16.02v1h-16.02zM368.44 486h16.02v2h-16.02zM368.44 517h16.02v1h-16.02zM400.48 406h16.02v2h-16.02z"/>
<path fill="#fcf9fc" d="M0 285h16.02v1h-16.02zM16.02 284h16.02v1h-16.02zM48.06 298h16.02v2h-16.02zM48.06 312h16.02v1h-16.02zM64.08 350h16.02v1h-16.02zM112.13 277h16.02v1h-16.02zM144.17 248h16.02v1h-16.02zM176.21 262h16.02v1h-16.02zM208.25 252h16.02v2h-16.02zM240.29 276h16.02v1h-16.02zM256.31 234h16.02v2h-16.02zM272.33 322h16.02v1h-16.02zM304.37 390h16.02v1h-16.02zM304.37 400h16.02v4h-16.02zM304.37 420h16.02v1h-16.02zM336.4 350h16.02v2h-16.02zM336.4 380h16.02v1h-16.02zM352.42 345h16.02v1h-16.02zM352.42 386h16.02v1h-16.02zM368.44 471h16.02v1h-16.02zM384.46 402h16.02v2h-16.02z"/>
<path fill="#e7e7fc" d="M0 290h16.02v2h-16.02zM0 334h16.02v2h-16.02zM0 353h16.02v1h-16.02zM16.02 468h16.02v2h-16.02zM48.06 224h16.02v2h-16.02zM48.06 360h16.02v2h-16.02zM64.08 374h16.02v2h-16.02zM64.08 437h16.02v1h-16.02zM80.1 415h16.02v1h-16.02zM80.1 468h16.02v2h-16.02zM96.12 300h16.02v2h-16.02zM96.12 434h16.02v2h-16.02zM112.13 334h16.02v2h-16.02zM112.13 387h16.02v1h-16.02zM112.13 392h16.02v2h-16.02zM128.15 212h16.02v2h-16.02zM176.21 288h16.02v2h-16.02zM192.23 530h16.02v2h-16.02zM208.25 406h16.02v2h-16.02zM240.29 290h16.02v2h-16.02zM272.33 198h16.02v2h-16.02zM272.33 374h16.02v2h-16.02zM288.35 336h16.02v2h-16.02zM288.35 534h16.02v1h-16.02zM304.37 488h16.02v2h-16.02zM336.4 392h16.02v2h-16.02zM336.4 542h16.02v2h-16.02zM352.42 402h16.02v1h-16.02zM352.42 406h16.02v2h-16.02zM368.44 546h16.02v2h-16.02zM400.48 428h16.02v2h-16.02z"/>
<path fill="#fcf6f6" d="M0 292h16.02v1h-16.02zM16.02 259h16.02v1h-16.02zM32.04 245h16.02v1h-16.02zM32.04 253h16.02v1h-16.02zM64.08 325h16.02v2h-16.02zM80.1 324h16.02v1h-16.02zM96.12 380h16.02v1h-16.02zM272.33 351h16.02v1h-16.02zM288.35 356h16.02v1h-16.02zM288.35 364h16.02v1h-16.02zM288.35 390h16.02v1h-16.02zM288.35 400h16.02v1h-16.02zM304.37 453h16.02v2h-16.02zM304.37 474h16.02v1h-16.02zM336.4 353h16.02v1h-16.02zM368.44 425h16.02v1h-16.02zM368.44 484h16.02v1h-16.02zM368.44 541h16.02v1h-16.02z"/>
<path fill="#f0f0ff" d="M0 296h16.02v1h-16.02zM16.02 302h16.02v1h-16.02zM16.02 308h16.02v1h-16.02zM16.02 351h16.02v1h-16.02zM16.02 354h16.02v1h-16.02zM32.04 311h16.02v1h-16.02zM32.04 328h16.02v1h-16.02zM32.04 430h16.02v1h-16.02zM48.06 288h16.02v2h-16.02zM48.06 352h16.02v1h-16.02zM48.06 362h16.02v1h-16.02zM48.06 516h16.02v1h-16.02zM64.08 358h16.02v1h-16.02zM80.1 350h16.02v1h-16.02zM80.1 353h16.02v1h-16.02zM80.1 378h16.02v1h-16.02zM80.1 410h16.02v1h-16.02zM80.1 433h16.02v1h-16.02zM80.1 503h16.02v1h-16.02zM96.12 385h16.02v1h-16.02zM96.12 427h16.02v1h-16.02zM96.12 461h16.02v1h-16.02zM96.12 494h16.02v1h-16.02zM112.13 340h16.02v1h-16.02zM112.13 383h16.02v2h-16.02zM128.15 238h16.02v1h-16.02zM144.17 259h16.02v1h-16.02zM144.17 358h16.02v1h-16.02zM144.17 456h16.02v1h-16.02zM176.21 285h16.02v1h-16.02zM176.21 312h16.02v1h-16.02zM176.21 517h16.02v1h-16.02zM192.23 359h16.02v1h-16.02zM192.23 454h16.02v1h-16.02zM208.25 263h16.02v1h-16.02zM208.25 277h16.02v1h-16.02zM224.27 308h16.02v1h-16.02zM240.29 324h16.02v1h-16.02zM240.29 411h16.02v2h-16.02zM240.29 419h16.02v1h-16.02zM240.29 461h16.02v1h-16.02zM240.29 483h16.02v1h-16.02zM256.31 265h16.02v1h-16.02zM272.33 268h16.02v2h-16.02zM272.33 527h16.02v1h-16.02zM288.35 456h16.02v1h-16.02zM288.35 517h16.02v1h-16.02zM288.35 521h16.02v1h-16.02zM304.37 425h16.02v1h-16.02zM304.37 479h16.02v1h-16.02zM304.37 495h16.02v1h-16.02zM304.37 520h16.02v1h-16.02zM304.37 538h16.02v1h-16.02zM336.4 354h16.02v1h-16.02zM336.4 385h16.02v1h-16.02zM336.4 410h16.02v1h-16.02zM336.4 442h16.02v1h-16.02zM336.4 453h16.02v2h-16.02zM336.4 481h16.02v1h-16.02zM336.4 499h16.02v2h-16.02zM336.4 528h16.02v1h-16.02zM352.42 331h16.02v1h-16.02zM352.42 389h16.02v1h-16.02zM352.42 396h16.02v1h-16.02zM352.42 414h16.02v1h-16.02zM352.42 417h16.02v1h-16.02zM352.42 435h16.02v1h-16.02zM352.42 475h16.02v1h-16.02zM384.46 456h16.02v1h-16.02zM400.48 214h16.02v2h-16.02zM400.48 478h16.02v1h-16.02zM400.48 504h16.02v1h-16.02z"/>
<path fill="#cfcfea" d="M0 297h16.02v1h-16.02zM16.02 419h16.02v1h-16.02zM32.04 326h16.02v1h-16.02zM96.12 383h16.02v1h-16.02zM240.29 498h16.02v1h-16.02zM352.42 415h16.02v2h-16.02z"/>
<path fill="#e1d5e7" d="M0 298h16.02v1h-16.02zM80.1 434h16.02v1h-16.02z"/>
<path fill="#f3eafc" d="M0 299h16.02v1h-16.02zM112.13 272h16.02v1h-16.02z"/>
<path fill="#d8d8fc" d="M0 300h16.02v2h-16.02zM0 406h16.02v2h-16.02zM0 443h16.02v1h-16.02zM0 488h16.02v2h-16.02zM32.04 406h16.02v2h-16.02zM48.06 374h16.02v2h-16.02zM64.08 447h16.02v3h-16.02zM64.08 454h16.02v1h-16.02zM64.08 492h16.02v2h-16.02zM80.1 420h16.02v2h-16.02zM80.1 488h16.02v2h-16.02zM96.12 474h16.02v1h-16.02zM96.12 509h16.02v1h-16.02zM96.12 542h16.02v2h-16.02zM112.13 364h16.02v1h-16.02zM112.13 376h16.02v2h-16.02zM112.13 394h16.02v2h-16.02zM112.13 468h16.02v2h-16.02zM144.17 350h16.02v1h-16.02zM160.19 334h16.02v2h-16.02zM176.21 304h16.02v2h-16.02zM176.21 325h16.02v1h-16.02zM176.21 422h16.02v1h-16.02zM176.21 546h16.02v2h-16.02zM192.23 417h16.02v1h-16.02zM224.27 376h16.02v2h-16.02zM288.35 542h16.02v2h-16.02zM320.38 348h16.02v2h-16.02zM336.4 214h16.02v2h-16.02zM336.4 546h16.02v2h-16.02zM336.4 550h16.02v1h-16.02zM352.42 423h16.02v1h-16.02zM352.42 542h16.02v2h-16.02zM368.44 388h16.02v1h-16.02zM400.48 447h16.02v1h-16.02zM400.48 548h16.02v2h-16.02z"/>
<path fill="#e7e7ff" d="M0 302h16.02v1h-16.02zM0 314h16.02v1h-16.02zM16.02 373h16.02v1h-16.02zM32.04 323h16.02v1h-16.02zM48.06 339h16.02v1h-16.02zM48.06 523h16.02v1h-16.02zM64.08 340h16.02v1h-16.02zM64.08 385h16.02v1h-16.02zM64.08 435h16.02v1h-16.02zM64.08 484h16.02v1h-16.02zM64.08 533h16.02v1h-16.02zM80.1 405h16.02v1h-16.02zM80.1 423h16.02v1h-16.02zM80.1 438h16.02v1h-16.02zM80.1 474h16.02v1h-16.02zM80.1 484h16.02v1h-16.02zM80.1 519h16.02v1h-16.02zM80.1 526h16.02v1h-16.02zM96.12 414h16.02v1h-16.02zM96.12 445h16.02v1h-16.02zM96.12 477h16.02v1h-16.02zM96.12 481h16.02v1h-16.02zM96.12 533h16.02v1h-16.02zM112.13 380h16.02v1h-16.02zM112.13 401h16.02v1h-16.02zM112.13 450h16.02v1h-16.02zM144.17 309h16.02v1h-16.02zM144.17 343h16.02v1h-16.02zM144.17 387h16.02v1h-16.02zM160.19 285h16.02v1h-16.02zM160.19 477h16.02v1h-16.02zM176.21 302h16.02v1h-16.02zM176.21 344h16.02v1h-16.02zM176.21 441h16.02v1h-16.02zM192.23 328h16.02v1h-16.02zM192.23 332h16.02v1h-16.02zM192.23 517h16.02v1h-16.02zM208.25 284h16.02v1h-16.02zM224.27 314h16.02v1h-16.02zM224.27 342h16.02v1h-16.02zM224.27 380h16.02v1h-16.02zM240.29 391h16.02v1h-16.02zM240.29 510h16.02v1h-16.02zM256.31 333h16.02v1h-16.02zM272.33 357h16.02v1h-16.02zM288.35 479h16.02v1h-16.02zM288.35 504h16.02v1h-16.02zM288.35 509h16.02v1h-16.02zM288.35 536h16.02v1h-16.02zM304.37 477h16.02v1h-16.02zM304.37 527h16.02v1h-16.02zM304.37 534h16.02v1h-16.02zM320.38 322h16.02v1h-16.02zM320.38 433h16.02v1h-16.02zM336.4 390h16.02v1h-16.02zM336.4 504h16.02v1h-16.02zM336.4 514h16.02v1h-16.02zM352.42 365h16.02v1h-16.02zM352.42 382h16.02v1h-16.02zM352.42 401h16.02v1h-16.02zM352.42 413h16.02v1h-16.02zM352.42 451h16.02v1h-16.02zM384.46 523h16.02v1h-16.02zM400.48 452h16.02v1h-16.02zM400.48 528h16.02v1h-16.02z"/>
<path fill="#e1e1f9" d="M0 303h16.02v1h-16.02zM48.06 345h16.02v1h-16.02zM80.1 439h16.02v1h-16.02zM144.17 267h16.02v1h-16.02zM144.17 342h16.02v1h-16.02zM192.23 333h16.02v1h-16.02zM272.33 451h16.02v1h-16.02zM320.38 323h16.02v1h-16.02zM336.4 398h16.02v1h-16.02zM336.4 451h16.02v1h-16.02z"/>
<path fill="#f0f0fc" d="M0 309h16.02v1h-16.02zM0 329h16.02v1h-16.02zM16.02 224h16.02v2h-16.02zM16.02 286h16.02v4h-16.02zM32.04 286h16.02v2h-16.02zM48.06 373h16.02v1h-16.02zM96.12 376h16.02v2h-16.02zM96.12 394h16.02v2h-16.02zM96.12 530h16.02v2h-16.02zM112.13 360h16.02v2h-16.02zM144.17 220h16.02v2h-16.02zM192.23 224h16.02v2h-16.02zM192.23 344h16.02v1h-16.02zM192.23 360h16.02v2h-16.02zM208.25 259h16.02v1h-16.02zM208.25 288h16.02v2h-16.02zM208.25 462h16.02v2h-16.02zM224.27 294h16.02v2h-16.02zM224.27 306h16.02v2h-16.02zM240.29 286h16.02v2h-16.02zM240.29 334h16.02v2h-16.02zM240.29 360h16.02v2h-16.02zM240.29 406h16.02v2h-16.02zM256.31 216h16.02v2h-16.02zM272.33 288h16.02v2h-16.02zM288.35 488h16.02v2h-16.02zM288.35 520h16.02v1h-16.02zM304.37 550h16.02v1h-16.02zM320.38 294h16.02v2h-16.02zM336.4 452h16.02v1h-16.02zM336.4 462h16.02v2h-16.02zM336.4 548h16.02v2h-16.02zM352.42 360h16.02v2h-16.02zM384.46 421h16.02v1h-16.02zM384.46 486h16.02v1h-16.02zM400.48 394h16.02v2h-16.02zM400.48 462h16.02v2h-16.02z"/>
<path fill="#dedef0" d="M0 311h16.02v1h-16.02zM32.04 276h16.02v1h-16.02zM32.04 285h16.02v1h-16.02zM112.13 344h16.02v1h-16.02zM192.23 284h16.02v1h-16.02zM240.29 357h16.02v1h-16.02zM272.33 327h16.02v1h-16.02zM304.37 516h16.02v1h-16.02zM352.42 314h16.02v1h-16.02zM352.42 362h16.02v1h-16.02zM400.48 425h16.02v1h-16.02z"/>
<path fill="#ededff" d="M0 312h16.02v1h-16.02zM0 379h16.02v1h-16.02zM16.02 299h16.02v1h-16.02zM16.02 339h16.02v1h-16.02zM16.02 347h16.02v1h-16.02zM16.02 387h16.02v1h-16.02zM16.02 447h16.02v2h-16.02zM32.04 461h16.02v1h-16.02zM32.04 503h16.02v1h-16.02zM32.04 533h16.02v1h-16.02zM48.06 325h16.02v1h-16.02zM48.06 344h16.02v1h-16.02zM48.06 351h16.02v1h-16.02zM48.06 364h16.02v1h-16.02zM48.06 390h16.02v1h-16.02zM48.06 453h16.02v2h-16.02zM48.06 483h16.02v1h-16.02zM64.08 379h16.02v1h-16.02zM64.08 423h16.02v1h-16.02zM80.1 389h16.02v1h-16.02zM80.1 495h16.02v2h-16.02zM80.1 498h16.02v1h-16.02zM96.12 370h16.02v1h-16.02zM96.12 420h16.02v1h-16.02zM96.12 441h16.02v1h-16.02zM96.12 484h16.02v1h-16.02zM112.13 370h16.02v1h-16.02zM112.13 378h16.02v1h-16.02zM112.13 391h16.02v1h-16.02zM144.17 266h16.02v1h-16.02zM144.17 277h16.02v1h-16.02zM144.17 292h16.02v1h-16.02zM144.17 344h16.02v1h-16.02zM144.17 404h16.02v1h-16.02zM160.19 237h16.02v1h-16.02zM160.19 296h16.02v1h-16.02zM176.21 299h16.02v1h-16.02zM176.21 329h16.02v1h-16.02zM176.21 364h16.02v1h-16.02zM176.21 433h16.02v1h-16.02zM176.21 435h16.02v1h-16.02zM176.21 483h16.02v1h-16.02zM192.23 299h16.02v1h-16.02zM192.23 308h16.02v1h-16.02zM192.23 371h16.02v1h-16.02zM208.25 278h16.02v1h-16.02zM224.27 351h16.02v2h-16.02zM240.29 338h16.02v1h-16.02zM240.29 340h16.02v1h-16.02zM240.29 427h16.02v1h-16.02zM240.29 504h16.02v1h-16.02zM240.29 521h16.02v2h-16.02zM256.31 222h16.02v1h-16.02zM256.31 250h16.02v1h-16.02zM256.31 266h16.02v1h-16.02zM256.31 408h16.02v1h-16.02zM256.31 442h16.02v1h-16.02zM272.33 340h16.02v1h-16.02zM272.33 373h16.02v1h-16.02zM272.33 381h16.02v1h-16.02zM272.33 401h16.02v2h-16.02zM272.33 419h16.02v1h-16.02zM272.33 450h16.02v1h-16.02zM288.35 448h16.02v1h-16.02zM288.35 474h16.02v1h-16.02zM288.35 486h16.02v1h-16.02zM288.35 541h16.02v1h-16.02zM320.38 318h16.02v1h-16.02zM320.38 346h16.02v1h-16.02zM336.4 364h16.02v1h-16.02zM336.4 378h16.02v1h-16.02zM336.4 382h16.02v1h-16.02zM336.4 389h16.02v1h-16.02zM336.4 397h16.02v1h-16.02zM336.4 510h16.02v1h-16.02zM336.4 541h16.02v1h-16.02zM352.42 408h16.02v1h-16.02zM352.42 420h16.02v1h-16.02zM384.46 471h16.02v1h-16.02zM384.46 497h16.02v1h-16.02zM384.46 503h16.02v1h-16.02zM400.48 410h16.02v1h-16.02zM400.48 477h16.02v1h-16.02zM400.48 515h16.02v1h-16.02z"/>
<path fill="#cfcfed" d="M0 313h16.02v1h-16.02zM48.06 455h16.02v1h-16.02zM80.1 502h16.02v1h-16.02zM96.12 384h16.02v1h-16.02zM96.12 440h16.02v1h-16.02zM112.13 403h16.02v1h-16.02zM240.29 520h16.02v1h-16.02zM240.29 523h16.02v1h-16.02zM400.48 438h16.02v1h-16.02z"/>
<path fill="#dbdbf6" d="M0 315h16.02v1h-16.02zM0 331h16.02v1h-16.02zM32.04 292h16.02v1h-16.02zM80.1 404h16.02v1h-16.02zM96.12 390h16.02v1h-16.02zM96.12 540h16.02v1h-16.02zM112.13 409h16.02v1h-16.02zM112.13 423h16.02v1h-16.02zM176.21 452h16.02v1h-16.02zM192.23 329h16.02v1h-16.02zM272.33 405h16.02v1h-16.02zM304.37 498h16.02v1h-16.02zM352.42 400h16.02v1h-16.02zM352.42 427h16.02v1h-16.02zM352.42 443h16.02v1h-16.02z"/>
<path fill="#bdbdea" d="M0 316h16.02v1h-16.02zM16.02 445h16.02v1h-16.02zM64.08 505h16.02v1h-16.02zM144.17 460h16.02v1h-16.02zM192.23 354h16.02v1h-16.02zM208.25 341h16.02v1h-16.02zM224.27 344h16.02v1h-16.02zM272.33 426h16.02v1h-16.02zM400.48 496h16.02v1h-16.02z"/>
<path fill="#dbdbff" d="M0 317h16.02v1h-16.02zM0 449h16.02v1h-16.02zM0 537h16.02v1h-16.02zM16.02 314h16.02v1h-16.02zM16.02 425h16.02v1h-16.02zM16.02 444h16.02v1h-16.02zM16.02 483h16.02v1h-16.02zM16.02 504h16.02v1h-16.02zM32.04 523h16.02v1h-16.02zM48.06 470h16.02v1h-16.02zM80.1 396h16.02v1h-16.02zM80.1 424h16.02v1h-16.02zM80.1 479h16.02v2h-16.02zM96.12 433h16.02v1h-16.02zM112.13 513h16.02v1h-16.02zM128.15 255h16.02v1h-16.02zM144.17 430h16.02v1h-16.02zM144.17 451h16.02v1h-16.02zM144.17 461h16.02v1h-16.02zM176.21 354h16.02v1h-16.02zM176.21 533h16.02v1h-16.02zM192.23 325h16.02v1h-16.02zM192.23 352h16.02v1h-16.02zM192.23 355h16.02v1h-16.02zM192.23 424h16.02v1h-16.02zM208.25 302h16.02v1h-16.02zM208.25 309h16.02v1h-16.02zM208.25 325h16.02v1h-16.02zM208.25 329h16.02v1h-16.02zM208.25 373h16.02v1h-16.02zM208.25 423h16.02v1h-16.02zM208.25 533h16.02v1h-16.02zM224.27 349h16.02v1h-16.02zM224.27 446h16.02v1h-16.02zM224.27 453h16.02v1h-16.02zM224.27 500h16.02v1h-16.02zM240.29 358h16.02v1h-16.02zM240.29 507h16.02v1h-16.02zM240.29 534h16.02v1h-16.02zM256.31 232h16.02v1h-16.02zM256.31 249h16.02v1h-16.02zM256.31 358h16.02v1h-16.02zM320.38 431h16.02v1h-16.02zM336.4 372h16.02v1h-16.02zM336.4 416h16.02v1h-16.02zM336.4 439h16.02v2h-16.02zM336.4 477h16.02v1h-16.02zM336.4 512h16.02v1h-16.02zM336.4 532h16.02v1h-16.02zM352.42 499h16.02v2h-16.02zM400.48 474h16.02v1h-16.02zM400.48 500h16.02v1h-16.02zM400.48 522h16.02v1h-16.02z"/>
<path fill="#fcf9ff" d="M0 318h16.02v1h-16.02zM16.02 329h16.02v1h-16.02zM16.02 396h16.02v1h-16.02zM48.06 327h16.02v1h-16.02zM80.1 521h16.02v1h-16.02zM112.13 293h16.02v1h-16.02zM112.13 319h16.02v1h-16.02zM128.15 209h16.02v1h-16.02zM144.17 418h16.02v1h-16.02zM160.19 246h16.02v1h-16.02zM176.21 258h16.02v1h-16.02zM176.21 314h16.02v1h-16.02zM192.23 327h16.02v1h-16.02zM192.23 442h16.02v1h-16.02zM208.25 265h16.02v2h-16.02zM208.25 297h16.02v1h-16.02zM224.27 258h16.02v1h-16.02zM272.33 314h16.02v1h-16.02zM272.33 370h16.02v1h-16.02zM288.35 452h16.02v1h-16.02zM288.35 481h16.02v1h-16.02zM288.35 526h16.02v1h-16.02zM304.37 413h16.02v1h-16.02zM304.37 417h16.02v1h-16.02zM320.38 277h16.02v1h-16.02zM336.4 436h16.02v1h-16.02zM336.4 522h16.02v1h-16.02zM352.42 385h16.02v1h-16.02zM368.44 410h16.02v1h-16.02zM368.44 536h16.02v1h-16.02zM384.46 373h16.02v1h-16.02zM384.46 389h16.02v1h-16.02zM384.46 397h16.02v1h-16.02zM384.46 474h16.02v1h-16.02zM384.46 477h16.02v2h-16.02zM400.48 535h16.02v2h-16.02z"/>
<path fill="#f3f0f6" d="M0 319h16.02v1h-16.02zM112.13 352h16.02v1h-16.02zM176.21 342h16.02v1h-16.02zM208.25 264h16.02v1h-16.02zM208.25 298h16.02v1h-16.02zM272.33 353h16.02v1h-16.02zM304.37 496h16.02v1h-16.02zM384.46 396h16.02v1h-16.02zM400.48 383h16.02v1h-16.02z"/>
<path fill="#d2d2f9" d="M0 320h16.02v2h-16.02zM0 442h16.02v1h-16.02zM16.02 544h16.02v2h-16.02zM48.06 460h16.02v1h-16.02zM48.06 468h16.02v2h-16.02zM64.08 455h16.02v1h-16.02zM96.12 425h16.02v1h-16.02zM112.13 368h16.02v2h-16.02zM128.15 274h16.02v2h-16.02zM144.17 274h16.02v2h-16.02zM144.17 288h16.02v2h-16.02zM160.19 320h16.02v2h-16.02zM176.21 366h16.02v2h-16.02zM176.21 394h16.02v2h-16.02zM192.23 490h16.02v2h-16.02zM192.23 542h16.02v2h-16.02zM208.25 360h16.02v2h-16.02zM208.25 464h16.02v2h-16.02zM240.29 312h16.02v2h-16.02zM240.29 382h16.02v1h-16.02zM240.29 492h16.02v2h-16.02zM272.33 398h16.02v1h-16.02zM272.33 462h16.02v2h-16.02zM272.33 498h16.02v1h-16.02zM320.38 311h16.02v1h-16.02zM320.38 408h16.02v1h-16.02zM336.4 417h16.02v1h-16.02zM336.4 420h16.02v2h-16.02zM336.4 544h16.02v2h-16.02zM352.42 428h16.02v2h-16.02z"/>
<path fill="#f3e7e7" d="M0 323h16.02v1h-16.02zM112.13 299h16.02v1h-16.02zM192.23 255h16.02v1h-16.02zM368.44 370h16.02v1h-16.02z"/>
<path fill="#d2d2f0" d="M0 324h16.02v1h-16.02zM48.06 365h16.02v1h-16.02zM80.1 475h16.02v1h-16.02zM96.12 498h16.02v1h-16.02zM144.17 386h16.02v1h-16.02zM224.27 381h16.02v1h-16.02zM288.35 537h16.02v1h-16.02z"/>
<path fill="#eaeaff" d="M0 325h16.02v1h-16.02zM0 345h16.02v2h-16.02zM0 355h16.02v2h-16.02zM32.04 302h16.02v1h-16.02zM32.04 333h16.02v1h-16.02zM32.04 441h16.02v1h-16.02zM32.04 511h16.02v2h-16.02zM48.06 341h16.02v1h-16.02zM64.08 356h16.02v1h-16.02zM64.08 420h16.02v1h-16.02zM64.08 436h16.02v1h-16.02zM64.08 538h16.02v1h-16.02zM80.1 414h16.02v1h-16.02zM96.12 413h16.02v1h-16.02zM96.12 446h16.02v1h-16.02zM96.12 499h16.02v2h-16.02zM96.12 534h16.02v1h-16.02zM112.13 330h16.02v1h-16.02zM112.13 386h16.02v1h-16.02zM112.13 402h16.02v1h-16.02zM112.13 449h16.02v1h-16.02zM128.15 231h16.02v2h-16.02zM144.17 265h16.02v1h-16.02zM144.17 297h16.02v1h-16.02zM144.17 381h16.02v1h-16.02zM160.19 255h16.02v1h-16.02zM160.19 271h16.02v1h-16.02zM160.19 314h16.02v1h-16.02zM176.21 327h16.02v1h-16.02zM176.21 358h16.02v1h-16.02zM176.21 436h16.02v1h-16.02zM176.21 513h16.02v1h-16.02zM192.23 314h16.02v1h-16.02zM192.23 461h16.02v1h-16.02zM208.25 379h16.02v1h-16.02zM208.25 389h16.02v1h-16.02zM224.27 390h16.02v1h-16.02zM240.29 317h16.02v1h-16.02zM240.29 347h16.02v1h-16.02zM240.29 349h16.02v2h-16.02zM240.29 353h16.02v1h-16.02zM240.29 389h16.02v1h-16.02zM240.29 435h16.02v2h-16.02zM240.29 441h16.02v1h-16.02zM240.29 450h16.02v1h-16.02zM256.31 230h16.02v1h-16.02zM256.31 353h16.02v1h-16.02zM256.31 430h16.02v1h-16.02zM272.33 404h16.02v1h-16.02zM272.33 504h16.02v1h-16.02zM288.35 519h16.02v1h-16.02zM304.37 510h16.02v1h-16.02zM304.37 519h16.02v1h-16.02zM320.38 262h16.02v1h-16.02zM320.38 313h16.02v1h-16.02zM320.38 345h16.02v1h-16.02zM320.38 362h16.02v1h-16.02zM336.4 503h16.02v1h-16.02zM336.4 534h16.02v1h-16.02zM352.42 403h16.02v1h-16.02zM352.42 442h16.02v1h-16.02zM352.42 504h16.02v1h-16.02zM368.44 340h16.02v1h-16.02zM384.46 425h16.02v1h-16.02zM384.46 485h16.02v1h-16.02zM384.46 533h16.02v1h-16.02zM400.48 433h16.02v1h-16.02zM400.48 439h16.02v1h-16.02zM400.48 517h16.02v1h-16.02z"/>
<path fill="#f3eaf3" d="M0 326h16.02v1h-16.02zM96.12 331h16.02v1h-16.02zM96.12 402h16.02v1h-16.02zM144.17 272h16.02v1h-16.02zM304.37 415h16.02v1h-16.02zM400.48 418h16.02v1h-16.02z"/>
<path fill="#f9f0f9" d="M0 327h16.02v1h-16.02zM32.04 250h16.02v1h-16.02zM80.1 345h16.02v1h-16.02zM304.37 399h16.02v1h-16.02zM304.37 414h16.02v1h-16.02z"/>
<path fill="#e4e4ff" d="M0 330h16.02v1h-16.02zM0 351h16.02v1h-16.02zM0 362h16.02v1h-16.02zM0 404h16.02v1h-16.02zM0 533h16.02v1h-16.02zM16.02 340h16.02v1h-16.02zM32.04 293h16.02v1h-16.02zM32.04 317h16.02v1h-16.02zM32.04 358h16.02v1h-16.02zM48.06 356h16.02v1h-16.02zM48.06 442h16.02v1h-16.02zM48.06 450h16.02v1h-16.02zM64.08 381h16.02v1h-16.02zM80.1 504h16.02v1h-16.02zM80.1 510h16.02v1h-16.02zM80.1 514h16.02v1h-16.02zM96.12 391h16.02v1h-16.02zM96.12 436h16.02v1h-16.02zM96.12 450h16.02v1h-16.02zM96.12 478h16.02v1h-16.02zM96.12 497h16.02v1h-16.02zM96.12 541h16.02v1h-16.02zM112.13 408h16.02v1h-16.02zM112.13 427h16.02v1h-16.02zM112.13 435h16.02v2h-16.02zM144.17 262h16.02v1h-16.02zM144.17 311h16.02v1h-16.02zM144.17 378h16.02v1h-16.02zM144.17 453h16.02v1h-16.02zM144.17 483h16.02v1h-16.02zM144.17 497h16.02v1h-16.02zM160.19 343h16.02v1h-16.02zM160.19 478h16.02v1h-16.02zM160.19 541h16.02v1h-16.02zM176.21 316h16.02v1h-16.02zM176.21 339h16.02v1h-16.02zM176.21 383h16.02v1h-16.02zM176.21 408h16.02v1h-16.02zM176.21 453h16.02v2h-16.02zM192.23 317h16.02v1h-16.02zM192.23 323h16.02v1h-16.02zM192.23 331h16.02v1h-16.02zM192.23 433h16.02v1h-16.02zM192.23 481h16.02v1h-16.02zM192.23 514h16.02v1h-16.02zM192.23 526h16.02v1h-16.02zM208.25 357h16.02v1h-16.02zM224.27 285h16.02v1h-16.02zM224.27 523h16.02v1h-16.02zM240.29 314h16.02v1h-16.02zM256.31 262h16.02v1h-16.02zM272.33 383h16.02v1h-16.02zM272.33 391h16.02v1h-16.02zM272.33 421h16.02v1h-16.02zM272.33 424h16.02v1h-16.02zM272.33 461h16.02v1h-16.02zM272.33 494h16.02v1h-16.02zM304.37 514h16.02v1h-16.02zM320.38 278h16.02v1h-16.02zM320.38 327h16.02v1h-16.02zM320.38 331h16.02v1h-16.02zM320.38 333h16.02v1h-16.02zM336.4 399h16.02v1h-16.02zM336.4 456h16.02v1h-16.02zM352.42 425h16.02v2h-16.02zM352.42 438h16.02v1h-16.02zM352.42 453h16.02v2h-16.02zM352.42 480h16.02v1h-16.02zM400.48 454h16.02v1h-16.02z"/>
<path fill="#d5d5f6" d="M0 332h16.02v1h-16.02zM16.02 315h16.02v1h-16.02zM48.06 498h16.02v1h-16.02zM64.08 496h16.02v1h-16.02zM80.1 397h16.02v1h-16.02zM112.13 405h16.02v1h-16.02zM240.29 416h16.02v1h-16.02zM304.37 513h16.02v1h-16.02zM304.37 529h16.02v1h-16.02zM352.42 440h16.02v1h-16.02zM352.42 532h16.02v1h-16.02z"/>
<path fill="#dedeff" d="M0 333h16.02v1h-16.02zM0 339h16.02v1h-16.02zM0 380h16.02v1h-16.02zM16.02 494h16.02v1h-16.02zM16.02 521h16.02v1h-16.02zM32.04 309h16.02v1h-16.02zM32.04 324h16.02v1h-16.02zM48.06 403h16.02v2h-16.02zM48.06 410h16.02v1h-16.02zM64.08 373h16.02v1h-16.02zM64.08 478h16.02v1h-16.02zM64.08 497h16.02v1h-16.02zM80.1 453h16.02v1h-16.02zM80.1 461h16.02v1h-16.02zM80.1 513h16.02v1h-16.02zM112.13 397h16.02v1h-16.02zM112.13 404h16.02v1h-16.02zM112.13 414h16.02v1h-16.02zM112.13 421h16.02v1h-16.02zM112.13 471h16.02v1h-16.02zM128.15 248h16.02v1h-16.02zM128.15 342h16.02v1h-16.02zM144.17 271h16.02v1h-16.02zM144.17 318h16.02v1h-16.02zM144.17 331h16.02v1h-16.02zM144.17 408h16.02v1h-16.02zM144.17 449h16.02v1h-16.02zM144.17 511h16.02v2h-16.02zM160.19 357h16.02v1h-16.02zM176.21 323h16.02v1h-16.02zM176.21 349h16.02v1h-16.02zM176.21 431h16.02v1h-16.02zM176.21 450h16.02v1h-16.02zM176.21 471h16.02v1h-16.02zM176.21 477h16.02v2h-16.02zM176.21 511h16.02v1h-16.02zM192.23 339h16.02v1h-16.02zM192.23 408h16.02v1h-16.02zM192.23 427h16.02v1h-16.02zM208.25 340h16.02v1h-16.02zM208.25 435h16.02v1h-16.02zM208.25 449h16.02v1h-16.02zM224.27 303h16.02v1h-16.02zM224.27 312h16.02v1h-16.02zM224.27 317h16.02v1h-16.02zM224.27 345h16.02v2h-16.02zM224.27 445h16.02v1h-16.02zM224.27 454h16.02v1h-16.02zM240.29 333h16.02v1h-16.02zM240.29 344h16.02v1h-16.02zM240.29 417h16.02v1h-16.02zM240.29 449h16.02v1h-16.02zM240.29 513h16.02v1h-16.02zM272.33 387h16.02v1h-16.02zM272.33 427h16.02v1h-16.02zM272.33 431h16.02v2h-16.02zM288.35 528h16.02v1h-16.02zM304.37 512h16.02v1h-16.02zM320.38 302h16.02v1h-16.02zM320.38 527h16.02v1h-16.02zM336.4 413h16.02v1h-16.02zM336.4 423h16.02v1h-16.02zM336.4 471h16.02v1h-16.02zM352.42 484h16.02v1h-16.02zM352.42 519h16.02v2h-16.02zM352.42 541h16.02v1h-16.02zM384.46 520h16.02v1h-16.02zM384.46 529h16.02v1h-16.02zM400.48 421h16.02v1h-16.02zM400.48 484h16.02v1h-16.02zM400.48 497h16.02v1h-16.02zM400.48 521h16.02v1h-16.02z"/>
<path fill="#e4e4fc" d="M0 336h16.02v2h-16.02zM0 352h16.02v1h-16.02zM16.02 434h16.02v2h-16.02zM48.06 347h16.02v1h-16.02zM64.08 530h16.02v2h-16.02zM80.1 366h16.02v2h-16.02zM80.1 472h16.02v2h-16.02zM96.12 548h16.02v2h-16.02zM112.13 374h16.02v2h-16.02zM112.13 498h16.02v2h-16.02zM192.23 392h16.02v2h-16.02zM240.29 394h16.02v2h-16.02zM256.31 282h16.02v2h-16.02zM256.31 374h16.02v2h-16.02zM272.33 422h16.02v1h-16.02zM272.33 548h16.02v2h-16.02zM304.37 428h16.02v2h-16.02zM304.37 472h16.02v2h-16.02zM320.38 306h16.02v2h-16.02zM336.4 450h16.02v1h-16.02zM336.4 490h16.02v2h-16.02zM384.46 548h16.02v2h-16.02zM400.48 453h16.02v1h-16.02z"/>
<path fill="#c9c9f0" d="M0 338h16.02v1h-16.02zM48.06 383h16.02v1h-16.02zM224.27 302h16.02v1h-16.02zM224.27 455h16.02v1h-16.02zM240.29 512h16.02v1h-16.02zM272.33 386h16.02v1h-16.02zM352.42 485h16.02v1h-16.02z"/>
<path fill="#d8d8ff" d="M0 340h16.02v1h-16.02zM0 349h16.02v1h-16.02zM0 479h16.02v1h-16.02zM0 482h16.02v1h-16.02zM16.02 324h16.02v1h-16.02zM16.02 348h16.02v1h-16.02zM16.02 405h16.02v1h-16.02zM16.02 415h16.02v1h-16.02zM16.02 514h16.02v1h-16.02zM32.04 312h16.02v1h-16.02zM32.04 370h16.02v1h-16.02zM32.04 485h16.02v1h-16.02zM48.06 381h16.02v1h-16.02zM48.06 502h16.02v1h-16.02zM64.08 441h16.02v1h-16.02zM64.08 504h16.02v1h-16.02zM64.08 541h16.02v1h-16.02zM80.1 471h16.02v1h-16.02zM80.1 483h16.02v1h-16.02zM80.1 486h16.02v1h-16.02zM80.1 517h16.02v1h-16.02zM96.12 513h16.02v1h-16.02zM96.12 527h16.02v1h-16.02zM112.13 453h16.02v2h-16.02zM112.13 523h16.02v1h-16.02zM128.15 250h16.02v1h-16.02zM144.17 349h16.02v1h-16.02zM144.17 352h16.02v1h-16.02zM144.17 514h16.02v1h-16.02zM144.17 532h16.02v1h-16.02zM144.17 541h16.02v1h-16.02zM160.19 264h16.02v1h-16.02zM160.19 312h16.02v1h-16.02zM160.19 399h16.02v1h-16.02zM176.21 397h16.02v1h-16.02zM176.21 449h16.02v1h-16.02zM176.21 503h16.02v1h-16.02zM176.21 520h16.02v1h-16.02zM192.23 349h16.02v1h-16.02zM192.23 385h16.02v1h-16.02zM192.23 513h16.02v1h-16.02zM192.23 536h16.02v1h-16.02zM208.25 311h16.02v1h-16.02zM208.25 323h16.02v1h-16.02zM208.25 363h16.02v1h-16.02zM224.27 398h16.02v1h-16.02zM224.27 477h16.02v2h-16.02zM240.29 327h16.02v1h-16.02zM240.29 365h16.02v1h-16.02zM256.31 299h16.02v1h-16.02zM256.31 302h16.02v1h-16.02zM256.31 309h16.02v1h-16.02zM256.31 476h16.02v1h-16.02zM272.33 414h16.02v1h-16.02zM272.33 470h16.02v1h-16.02zM320.38 350h16.02v1h-16.02zM320.38 399h16.02v1h-16.02zM320.38 443h16.02v1h-16.02zM336.4 415h16.02v1h-16.02zM336.4 478h16.02v1h-16.02zM352.42 390h16.02v1h-16.02zM352.42 456h16.02v1h-16.02zM400.48 416h16.02v1h-16.02zM400.48 507h16.02v1h-16.02zM400.48 527h16.02v1h-16.02z"/>
<path fill="#8d8dd2" d="M0 341h16.02v1h-16.02zM144.17 533h16.02v1h-16.02z"/>
<path fill="#dedef6" d="M0 344h16.02v1h-16.02zM32.04 303h16.02v1h-16.02zM96.12 447h16.02v1h-16.02zM96.12 535h16.02v1h-16.02zM176.21 359h16.02v1h-16.02zM240.29 388h16.02v1h-16.02zM304.37 511h16.02v1h-16.02zM336.4 391h16.02v1h-16.02zM336.4 511h16.02v1h-16.02z"/>
<path fill="#e4e4f9" d="M0 347h16.02v1h-16.02zM48.06 340h16.02v1h-16.02zM48.06 353h16.02v1h-16.02zM112.13 381h16.02v1h-16.02zM160.19 236h16.02v1h-16.02zM240.29 339h16.02v1h-16.02zM240.29 341h16.02v1h-16.02zM288.35 449h16.02v1h-16.02zM304.37 476h16.02v1h-16.02zM336.4 396h16.02v1h-16.02zM336.4 540h16.02v1h-16.02zM368.44 341h16.02v1h-16.02zM384.46 470h16.02v1h-16.02z"/>
<path fill="#c0c0ed" d="M0 348h16.02v1h-16.02zM16.02 515h16.02v1h-16.02zM48.06 503h16.02v1h-16.02zM80.1 445h16.02v1h-16.02zM80.1 487h16.02v1h-16.02zM96.12 432h16.02v1h-16.02zM112.13 455h16.02v1h-16.02zM160.19 313h16.02v1h-16.02zM160.19 398h16.02v1h-16.02zM224.27 347h16.02v1h-16.02zM336.4 432h16.02v1h-16.02zM336.4 438h16.02v1h-16.02zM336.4 513h16.02v1h-16.02zM400.48 501h16.02v1h-16.02z"/>
<path fill="#d8d8f6" d="M0 350h16.02v1h-16.02zM0 450h16.02v1h-16.02zM48.06 501h16.02v1h-16.02zM64.08 453h16.02v1h-16.02zM80.1 422h16.02v1h-16.02zM80.1 485h16.02v1h-16.02zM96.12 437h16.02v1h-16.02zM176.21 317h16.02v1h-16.02zM240.29 379h16.02v1h-16.02zM272.33 420h16.02v1h-16.02zM288.35 470h16.02v1h-16.02zM352.42 452h16.02v1h-16.02zM384.46 508h16.02v1h-16.02zM400.48 450h16.02v1h-16.02z"/>
<path fill="#b7b7e1" d="M0 354h16.02v1h-16.02zM272.33 341h16.02v1h-16.02zM272.33 403h16.02v1h-16.02zM352.42 450h16.02v1h-16.02zM400.48 529h16.02v1h-16.02z"/>
<path fill="#d5d5f0" d="M0 357h16.02v1h-16.02zM16.02 338h16.02v1h-16.02zM128.15 230h16.02v1h-16.02zM128.15 233h16.02v1h-16.02zM160.19 254h16.02v1h-16.02zM160.19 270h16.02v1h-16.02zM240.29 410h16.02v1h-16.02zM240.29 434h16.02v1h-16.02zM288.35 475h16.02v1h-16.02zM320.38 312h16.02v1h-16.02zM352.42 421h16.02v1h-16.02zM400.48 476h16.02v1h-16.02z"/>
<path fill="#cfcfff" d="M0 358h16.02v1h-16.02zM0 435h16.02v2h-16.02zM0 507h16.02v1h-16.02zM16.02 370h16.02v1h-16.02zM16.02 475h16.02v1h-16.02zM48.06 401h16.02v1h-16.02zM48.06 414h16.02v1h-16.02zM48.06 513h16.02v1h-16.02zM64.08 364h16.02v1h-16.02zM64.08 456h16.02v1h-16.02zM64.08 475h16.02v1h-16.02zM80.1 537h16.02v1h-16.02zM144.17 385h16.02v1h-16.02zM144.17 402h16.02v1h-16.02zM144.17 474h16.02v1h-16.02zM144.17 481h16.02v1h-16.02zM160.19 349h16.02v1h-16.02zM160.19 387h16.02v1h-16.02zM160.19 409h16.02v1h-16.02zM160.19 494h16.02v1h-16.02zM176.21 356h16.02v1h-16.02zM176.21 378h16.02v1h-16.02zM192.23 444h16.02v1h-16.02zM192.23 449h16.02v1h-16.02zM192.23 509h16.02v1h-16.02zM192.23 519h16.02v1h-16.02zM208.25 354h16.02v1h-16.02zM208.25 410h16.02v1h-16.02zM256.31 416h16.02v1h-16.02zM256.31 506h16.02v1h-16.02zM256.31 522h16.02v1h-16.02zM272.33 379h16.02v1h-16.02zM272.33 416h16.02v1h-16.02zM272.33 515h16.02v1h-16.02zM272.33 539h16.02v1h-16.02zM304.37 470h16.02v1h-16.02zM304.37 486h16.02v1h-16.02zM336.4 509h16.02v1h-16.02zM352.42 430h16.02v1h-16.02zM352.42 445h16.02v1h-16.02zM352.42 502h16.02v1h-16.02zM352.42 537h16.02v1h-16.02zM400.48 494h16.02v1h-16.02z"/>
<path fill="#b4b4ea" d="M0 359h16.02v1h-16.02zM48.06 388h16.02v1h-16.02zM48.06 532h16.02v1h-16.02zM48.06 540h16.02v1h-16.02zM320.38 499h16.02v1h-16.02z"/>
<path fill="#c3c3f9" d="M0 360h16.02v2h-16.02zM32.04 314h16.02v2h-16.02zM32.04 336h16.02v3h-16.02zM32.04 544h16.02v2h-16.02zM48.06 428h16.02v2h-16.02zM64.08 488h16.02v2h-16.02zM64.08 524h16.02v2h-16.02zM112.13 524h16.02v2h-16.02zM112.13 542h16.02v2h-16.02zM144.17 326h16.02v1h-16.02zM160.19 290h16.02v2h-16.02zM160.19 462h16.02v2h-16.02zM208.25 344h16.02v1h-16.02zM208.25 428h16.02v2h-16.02zM224.27 468h16.02v2h-16.02zM240.29 524h16.02v2h-16.02zM256.31 236h16.02v2h-16.02zM256.31 300h16.02v2h-16.02zM272.33 490h16.02v2h-16.02zM272.33 524h16.02v2h-16.02zM272.33 550h16.02v1h-16.02zM320.38 329h16.02v1h-16.02zM320.38 455h16.02v1h-16.02zM336.4 366h16.02v2h-16.02zM336.4 468h16.02v2h-16.02zM352.42 458h16.02v2h-16.02zM352.42 490h16.02v2h-16.02zM352.42 526h16.02v1h-16.02zM352.42 546h16.02v2h-16.02zM400.48 336h16.02v2h-16.02zM400.48 546h16.02v2h-16.02z"/>
<path fill="#bdbde7" d="M0 363h16.02v1h-16.02zM144.17 310h16.02v1h-16.02zM192.23 409h16.02v1h-16.02zM192.23 480h16.02v1h-16.02zM208.25 437h16.02v1h-16.02zM240.29 315h16.02v1h-16.02zM272.33 425h16.02v1h-16.02z"/>
<path fill="#e1e1ff" d="M0 364h16.02v1h-16.02zM0 373h16.02v1h-16.02zM0 418h16.02v1h-16.02zM0 451h16.02v1h-16.02zM16.02 436h16.02v1h-16.02zM16.02 522h16.02v1h-16.02zM48.06 349h16.02v1h-16.02zM48.06 358h16.02v1h-16.02zM48.06 382h16.02v1h-16.02zM48.06 409h16.02v1h-16.02zM48.06 499h16.02v2h-16.02zM64.08 414h16.02v1h-16.02zM64.08 442h16.02v1h-16.02zM64.08 452h16.02v1h-16.02zM64.08 477h16.02v1h-16.02zM64.08 527h16.02v1h-16.02zM80.1 370h16.02v1h-16.02zM80.1 447h16.02v1h-16.02zM80.1 500h16.02v1h-16.02zM96.12 452h16.02v1h-16.02zM96.12 504h16.02v1h-16.02zM112.13 338h16.02v1h-16.02zM112.13 422h16.02v1h-16.02zM128.15 247h16.02v1h-16.02zM144.17 400h16.02v1h-16.02zM160.19 248h16.02v1h-16.02zM160.19 325h16.02v2h-16.02zM176.21 340h16.02v1h-16.02zM176.21 350h16.02v1h-16.02zM176.21 384h16.02v1h-16.02zM176.21 403h16.02v1h-16.02zM176.21 427h16.02v1h-16.02zM192.23 303h16.02v1h-16.02zM192.23 487h16.02v1h-16.02zM208.25 313h16.02v1h-16.02zM208.25 436h16.02v1h-16.02zM224.27 329h16.02v1h-16.02zM224.27 499h16.02v1h-16.02zM240.29 378h16.02v1h-16.02zM240.29 485h16.02v2h-16.02zM240.29 497h16.02v1h-16.02zM256.31 261h16.02v1h-16.02zM256.31 345h16.02v2h-16.02zM256.31 373h16.02v1h-16.02zM256.31 381h16.02v1h-16.02zM272.33 384h16.02v1h-16.02zM288.35 471h16.02v1h-16.02zM304.37 499h16.02v1h-16.02zM304.37 528h16.02v1h-16.02zM320.38 358h16.02v1h-16.02zM320.38 497h16.02v1h-16.02zM336.4 461h16.02v1h-16.02zM336.4 497h16.02v1h-16.02zM352.42 410h16.02v1h-16.02zM352.42 433h16.02v1h-16.02zM352.42 441h16.02v1h-16.02zM352.42 447h16.02v2h-16.02zM352.42 479h16.02v1h-16.02zM352.42 533h16.02v1h-16.02zM384.46 500h16.02v1h-16.02zM384.46 509h16.02v1h-16.02zM400.48 430h16.02v1h-16.02zM400.48 451h16.02v1h-16.02z"/>
<path fill="#aeaee1" d="M0 365h16.02v1h-16.02zM16.02 505h16.02v1h-16.02zM176.21 348h16.02v1h-16.02zM176.21 402h16.02v1h-16.02zM176.21 470h16.02v1h-16.02zM192.23 426h16.02v1h-16.02zM240.29 535h16.02v1h-16.02z"/>
<path fill="#aeaef6" d="M0 366h16.02v2h-16.02zM16.02 452h16.02v1h-16.02zM32.04 410h16.02v1h-16.02zM32.04 508h16.02v2h-16.02zM48.06 424h16.02v2h-16.02zM48.06 548h16.02v2h-16.02zM64.08 368h16.02v2h-16.02zM64.08 466h16.02v2h-16.02zM144.17 376h16.02v2h-16.02zM144.17 548h16.02v2h-16.02zM160.19 274h16.02v2h-16.02zM160.19 288h16.02v2h-16.02zM240.29 294h16.02v2h-16.02zM240.29 542h16.02v2h-16.02zM240.29 546h16.02v2h-16.02zM256.31 288h16.02v2h-16.02zM272.33 492h16.02v2h-16.02zM320.38 401h16.02v1h-16.02z"/>
<path fill="#c9c9f9" d="M0 368h16.02v2h-16.02zM0 494h16.02v1h-16.02zM16.02 374h16.02v2h-16.02zM16.02 394h16.02v2h-16.02zM16.02 406h16.02v2h-16.02zM64.08 376h16.02v2h-16.02zM80.1 542h16.02v2h-16.02zM80.1 546h16.02v2h-16.02zM96.12 454h16.02v1h-16.02zM112.13 336h16.02v2h-16.02zM112.13 399h16.02v1h-16.02zM112.13 466h16.02v2h-16.02zM128.15 366h16.02v4h-16.02zM128.15 472h16.02v2h-16.02zM144.17 490h16.02v2h-16.02zM144.17 550h16.02v1h-16.02zM160.19 220h16.02v2h-16.02zM160.19 336h16.02v2h-16.02zM176.21 530h16.02v2h-16.02zM208.25 290h16.02v2h-16.02zM224.27 462h16.02v2h-16.02zM224.27 488h16.02v2h-16.02zM320.38 216h16.02v2h-16.02zM320.38 316h16.02v1h-16.02zM320.38 336h16.02v2h-16.02zM336.4 374h16.02v2h-16.02zM384.46 490h16.02v2h-16.02zM384.46 542h16.02v2h-16.02zM400.48 458h16.02v2h-16.02z"/>
<path fill="#ababf9" d="M0 370h16.02v1h-16.02zM144.17 444h16.02v1h-16.02zM272.33 496h16.02v1h-16.02z"/>
<path fill="#a5a5f3" d="M0 371h16.02v1h-16.02zM16.02 529h16.02v1h-16.02zM32.04 498h16.02v1h-16.02zM48.06 440h16.02v1h-16.02zM64.08 416h16.02v1h-16.02zM144.17 313h16.02v1h-16.02zM144.17 421h16.02v1h-16.02zM144.17 445h16.02v1h-16.02zM192.23 421h16.02v1h-16.02zM208.25 405h16.02v1h-16.02zM256.31 539h16.02v1h-16.02zM272.33 511h16.02v1h-16.02z"/>
<path fill="#a8a8db" d="M0 372h16.02v1h-16.02zM48.06 338h16.02v1h-16.02zM64.08 415h16.02v1h-16.02zM352.42 432h16.02v1h-16.02z"/>
<path fill="#dbdbfc" d="M0 374h16.02v2h-16.02zM16.02 427h16.02v1h-16.02zM80.1 228h16.02v2h-16.02zM80.1 464h16.02v2h-16.02zM128.15 256h16.02v2h-16.02zM144.17 351h16.02v1h-16.02zM144.17 360h16.02v2h-16.02zM144.17 374h16.02v2h-16.02zM160.19 262h16.02v2h-16.02zM160.19 306h16.02v2h-16.02zM160.19 374h16.02v2h-16.02zM176.21 300h16.02v2h-16.02zM176.21 376h16.02v2h-16.02zM176.21 406h16.02v2h-16.02zM176.21 472h16.02v2h-16.02zM192.23 290h16.02v2h-16.02zM192.23 306h16.02v2h-16.02zM192.23 356h16.02v2h-16.02zM192.23 406h16.02v2h-16.02zM192.23 524h16.02v2h-16.02zM208.25 300h16.02v2h-16.02zM208.25 333h16.02v1h-16.02zM224.27 224h16.02v2h-16.02zM240.29 476h16.02v1h-16.02zM256.31 274h16.02v2h-16.02zM256.31 290h16.02v2h-16.02zM256.31 297h16.02v1h-16.02zM272.33 358h16.02v2h-16.02zM288.35 472h16.02v2h-16.02zM320.38 406h16.02v2h-16.02zM336.4 427h16.02v1h-16.02zM336.4 464h16.02v2h-16.02zM336.4 524h16.02v2h-16.02zM384.46 428h16.02v2h-16.02zM384.46 544h16.02v4h-16.02zM400.48 220h16.02v2h-16.02zM400.48 446h16.02v1h-16.02zM400.48 498h16.02v2h-16.02zM400.48 542h16.02v4h-16.02z"/>
<path fill="#a8a8f6" d="M0 376h16.02v2h-16.02zM0 409h16.02v1h-16.02zM0 550h16.02v1h-16.02zM16.02 540h16.02v2h-16.02zM48.06 448h16.02v2h-16.02zM80.1 428h16.02v2h-16.02zM112.13 490h16.02v2h-16.02zM112.13 495h16.02v1h-16.02zM128.15 550h16.02v1h-16.02zM144.17 312h16.02v1h-16.02zM160.19 355h16.02v1h-16.02zM160.19 451h16.02v1h-16.02zM160.19 461h16.02v1h-16.02zM160.19 550h16.02v1h-16.02zM176.21 542h16.02v2h-16.02zM192.23 420h16.02v1h-16.02zM208.25 404h16.02v1h-16.02zM224.27 546h16.02v2h-16.02zM256.31 214h16.02v2h-16.02zM256.31 322h16.02v1h-16.02zM256.31 394h16.02v2h-16.02zM256.31 538h16.02v1h-16.02zM272.33 510h16.02v1h-16.02zM272.33 544h16.02v2h-16.02zM320.38 376h16.02v2h-16.02zM320.38 464h16.02v2h-16.02zM336.4 488h16.02v2h-16.02z"/>
<path fill="#babade" d="M0 378h16.02v1h-16.02zM80.1 352h16.02v1h-16.02zM176.21 284h16.02v1h-16.02z"/>
<path fill="#cfcff3" d="M0 381h16.02v1h-16.02zM0 448h16.02v1h-16.02zM32.04 325h16.02v1h-16.02zM48.06 408h16.02v1h-16.02zM64.08 476h16.02v1h-16.02zM80.1 501h16.02v1h-16.02zM112.13 415h16.02v1h-16.02zM144.17 330h16.02v1h-16.02zM176.21 426h16.02v1h-16.02zM240.29 332h16.02v1h-16.02zM352.42 446h16.02v1h-16.02zM352.42 501h16.02v1h-16.02z"/>
<path fill="#e1e1f0" d="M0 382h16.02v1h-16.02zM0 385h16.02v1h-16.02zM80.1 385h16.02v2h-16.02zM96.12 379h16.02v1h-16.02zM112.13 313h16.02v1h-16.02zM112.13 316h16.02v1h-16.02zM352.42 348h16.02v1h-16.02zM384.46 499h16.02v1h-16.02zM400.48 400h16.02v1h-16.02zM400.48 460h16.02v1h-16.02z"/>
<path fill="#f9f9ff" d="M0 383h16.02v2h-16.02zM16.02 278h16.02v1h-16.02zM16.02 318h16.02v1h-16.02zM32.04 284h16.02v1h-16.02zM32.04 294h16.02v2h-16.02zM32.04 331h16.02v1h-16.02zM32.04 350h16.02v1h-16.02zM48.06 317h16.02v1h-16.02zM48.06 366h16.02v2h-16.02zM48.06 406h16.02v2h-16.02zM64.08 334h16.02v2h-16.02zM64.08 362h16.02v1h-16.02zM64.08 370h16.02v1h-16.02zM64.08 483h16.02v1h-16.02zM64.08 521h16.02v2h-16.02zM80.1 334h16.02v2h-16.02zM80.1 368h16.02v2h-16.02zM80.1 373h16.02v1h-16.02zM80.1 390h16.02v1h-16.02zM80.1 539h16.02v2h-16.02zM96.12 349h16.02v1h-16.02zM96.12 408h16.02v1h-16.02zM96.12 418h16.02v1h-16.02zM96.12 442h16.02v2h-16.02zM112.13 309h16.02v1h-16.02zM112.13 312h16.02v1h-16.02zM112.13 328h16.02v1h-16.02zM112.13 345h16.02v2h-16.02zM112.13 349h16.02v1h-16.02zM112.13 356h16.02v1h-16.02zM112.13 366h16.02v2h-16.02zM112.13 389h16.02v1h-16.02zM112.13 502h16.02v1h-16.02zM128.15 210h16.02v1h-16.02zM128.15 223h16.02v1h-16.02zM144.17 237h16.02v1h-16.02zM144.17 251h16.02v1h-16.02zM144.17 442h16.02v1h-16.02zM176.21 273h16.02v1h-16.02zM176.21 418h16.02v1h-16.02zM192.23 278h16.02v1h-16.02zM192.23 310h16.02v2h-16.02zM192.23 320h16.02v2h-16.02zM192.23 435h16.02v1h-16.02zM208.25 260h16.02v1h-16.02zM208.25 280h16.02v2h-16.02zM208.25 523h16.02v1h-16.02zM224.27 277h16.02v1h-16.02zM224.27 297h16.02v1h-16.02zM224.27 330h16.02v1h-16.02zM224.27 461h16.02v1h-16.02zM240.29 251h16.02v1h-16.02zM240.29 282h16.02v2h-16.02zM240.29 285h16.02v1h-16.02zM240.29 304h16.02v2h-16.02zM240.29 323h16.02v1h-16.02zM240.29 356h16.02v1h-16.02zM240.29 374h16.02v2h-16.02zM240.29 387h16.02v1h-16.02zM240.29 438h16.02v1h-16.02zM240.29 503h16.02v1h-16.02zM256.31 499h16.02v2h-16.02zM272.33 366h16.02v2h-16.02zM272.33 443h16.02v1h-16.02zM288.35 410h16.02v1h-16.02zM288.35 424h16.02v1h-16.02zM288.35 441h16.02v1h-16.02zM288.35 498h16.02v1h-16.02zM288.35 530h16.02v2h-16.02zM288.35 550h16.02v1h-16.02zM304.37 376h16.02v2h-16.02zM304.37 445h16.02v1h-16.02zM304.37 460h16.02v1h-16.02zM304.37 462h16.02v2h-16.02zM304.37 482h16.02v1h-16.02zM320.38 252h16.02v1h-16.02zM320.38 271h16.02v1h-16.02zM320.38 292h16.02v1h-16.02zM336.4 274h16.02v2h-16.02zM336.4 349h16.02v1h-16.02zM336.4 530h16.02v2h-16.02zM352.42 315h16.02v1h-16.02zM352.42 363h16.02v1h-16.02zM352.42 371h16.02v1h-16.02zM352.42 380h16.02v1h-16.02zM352.42 538h16.02v1h-16.02zM352.42 544h16.02v2h-16.02zM368.44 466h16.02v2h-16.02zM368.44 519h16.02v1h-16.02zM368.44 548h16.02v2h-16.02zM384.46 400h16.02v2h-16.02zM384.46 452h16.02v1h-16.02zM384.46 504h16.02v1h-16.02zM384.46 536h16.02v1h-16.02zM400.48 385h16.02v1h-16.02zM400.48 424h16.02v1h-16.02zM400.48 442h16.02v1h-16.02z"/>
<path fill="#dedefc" d="M0 386h16.02v1h-16.02zM0 480h16.02v1h-16.02zM16.02 310h16.02v2h-16.02zM16.02 426h16.02v1h-16.02zM16.02 472h16.02v2h-16.02zM32.04 300h16.02v2h-16.02zM32.04 368h16.02v2h-16.02zM80.1 376h16.02v2h-16.02zM80.1 406h16.02v2h-16.02zM80.1 544h16.02v2h-16.02zM96.12 462h16.02v2h-16.02zM96.12 492h16.02v2h-16.02zM112.13 320h16.02v2h-16.02zM112.13 406h16.02v2h-16.02zM144.17 406h16.02v2h-16.02zM160.19 286h16.02v2h-16.02zM176.21 286h16.02v2h-16.02zM176.21 392h16.02v2h-16.02zM192.23 336h16.02v2h-16.02zM192.23 351h16.02v1h-16.02zM192.23 364h16.02v2h-16.02zM192.23 462h16.02v2h-16.02zM192.23 472h16.02v2h-16.02zM208.25 304h16.02v2h-16.02zM208.25 327h16.02v1h-16.02zM208.25 368h16.02v2h-16.02zM224.27 286h16.02v2h-16.02zM240.29 380h16.02v1h-16.02zM240.29 397h16.02v1h-16.02zM240.29 477h16.02v1h-16.02zM240.29 548h16.02v2h-16.02zM272.33 355h16.02v1h-16.02zM288.35 524h16.02v2h-16.02zM320.38 274h16.02v2h-16.02zM320.38 325h16.02v1h-16.02zM336.4 428h16.02v2h-16.02zM352.42 392h16.02v2h-16.02zM352.42 398h16.02v1h-16.02zM352.42 510h16.02v1h-16.02z"/>
<path fill="#dbdbf9" d="M0 387h16.02v1h-16.02zM0 481h16.02v1h-16.02zM48.06 348h16.02v1h-16.02zM112.13 339h16.02v1h-16.02zM192.23 302h16.02v1h-16.02zM192.23 350h16.02v1h-16.02zM208.25 326h16.02v1h-16.02zM240.29 381h16.02v1h-16.02zM240.29 396h16.02v1h-16.02zM272.33 354h16.02v1h-16.02zM320.38 324h16.02v1h-16.02zM352.42 399h16.02v1h-16.02zM384.46 501h16.02v1h-16.02z"/>
<path fill="#9090d5" d="M0 388h16.02v1h-16.02zM192.23 534h16.02v1h-16.02z"/>
<path fill="#d2d2ff" d="M0 389h16.02v1h-16.02zM0 504h16.02v1h-16.02zM0 523h16.02v1h-16.02zM16.02 451h16.02v1h-16.02zM16.02 460h16.02v1h-16.02zM16.02 470h16.02v1h-16.02zM16.02 509h16.02v1h-16.02zM48.06 389h16.02v1h-16.02zM48.06 413h16.02v1h-16.02zM48.06 417h16.02v2h-16.02zM48.06 420h16.02v1h-16.02zM48.06 430h16.02v1h-16.02zM48.06 533h16.02v1h-16.02zM48.06 536h16.02v1h-16.02zM48.06 541h16.02v1h-16.02zM64.08 382h16.02v1h-16.02zM64.08 388h16.02v1h-16.02zM64.08 413h16.02v1h-16.02zM64.08 438h16.02v1h-16.02zM64.08 445h16.02v1h-16.02zM80.1 534h16.02v1h-16.02zM96.12 503h16.02v1h-16.02zM112.13 410h16.02v1h-16.02zM144.17 278h16.02v1h-16.02zM144.17 284h16.02v1h-16.02zM144.17 355h16.02v2h-16.02zM160.19 418h16.02v1h-16.02zM160.19 435h16.02v2h-16.02zM176.21 390h16.02v1h-16.02zM176.21 410h16.02v1h-16.02zM176.21 414h16.02v1h-16.02zM176.21 421h16.02v1h-16.02zM176.21 438h16.02v1h-16.02zM176.21 445h16.02v1h-16.02zM176.21 475h16.02v1h-16.02zM192.23 396h16.02v1h-16.02zM192.23 507h16.02v1h-16.02zM208.25 351h16.02v1h-16.02zM208.25 358h16.02v1h-16.02zM224.27 339h16.02v1h-16.02zM224.27 356h16.02v1h-16.02zM224.27 362h16.02v1h-16.02zM224.27 434h16.02v1h-16.02zM224.27 474h16.02v1h-16.02zM224.27 527h16.02v1h-16.02zM256.31 273h16.02v1h-16.02zM256.31 351h16.02v1h-16.02zM256.31 399h16.02v1h-16.02zM256.31 437h16.02v1h-16.02zM256.31 505h16.02v1h-16.02zM256.31 521h16.02v1h-16.02zM272.33 364h16.02v1h-16.02zM272.33 389h16.02v1h-16.02zM272.33 397h16.02v1h-16.02zM272.33 413h16.02v1h-16.02zM272.33 474h16.02v1h-16.02zM272.33 500h16.02v1h-16.02zM288.35 476h16.02v1h-16.02zM320.38 498h16.02v1h-16.02zM352.42 404h16.02v1h-16.02zM352.42 460h16.02v1h-16.02zM352.42 514h16.02v1h-16.02zM400.48 456h16.02v1h-16.02zM400.48 471h16.02v1h-16.02zM400.48 519h16.02v1h-16.02z"/>
<path fill="#b4b4ff" d="M0 390h16.02v1h-16.02zM0 502h16.02v1h-16.02zM112.13 516h16.02v1h-16.02zM128.15 311h16.02v1h-16.02zM128.15 339h16.02v2h-16.02zM144.17 505h16.02v1h-16.02zM160.19 362h16.02v1h-16.02zM160.19 397h16.02v1h-16.02zM160.19 447h16.02v2h-16.02zM192.23 413h16.02v1h-16.02zM192.23 496h16.02v1h-16.02zM208.25 401h16.02v1h-16.02zM208.25 438h16.02v1h-16.02zM224.27 379h16.02v1h-16.02zM224.27 410h16.02v1h-16.02zM256.31 314h16.02v1h-16.02zM256.31 404h16.02v1h-16.02zM256.31 433h16.02v1h-16.02zM256.31 533h16.02v1h-16.02zM272.33 410h16.02v1h-16.02zM320.38 421h16.02v1h-16.02z"/>
<path fill="#a2a2ed" d="M0 391h16.02v1h-16.02zM16.02 312h16.02v1h-16.02zM32.04 521h16.02v1h-16.02zM112.13 517h16.02v1h-16.02zM208.25 338h16.02v1h-16.02zM256.31 325h16.02v1h-16.02zM256.31 532h16.02v1h-16.02zM320.38 356h16.02v1h-16.02z"/>
<path fill="#9393f3" d="M0 392h16.02v2h-16.02zM0 462h16.02v2h-16.02zM112.13 458h16.02v2h-16.02zM128.15 358h16.02v1h-16.02zM160.19 366h16.02v2h-16.02zM176.21 462h16.02v2h-16.02zM256.31 336h16.02v2h-16.02zM256.31 546h16.02v4h-16.02z"/>
<path fill="#babaf6" d="M0 394h16.02v2h-16.02zM0 500h16.02v1h-16.02zM16.02 360h16.02v2h-16.02zM144.17 317h16.02v1h-16.02zM144.17 383h16.02v1h-16.02zM144.17 466h16.02v2h-16.02zM224.27 550h16.02v1h-16.02zM256.31 294h16.02v2h-16.02zM272.33 521h16.02v1h-16.02zM320.38 448h16.02v1h-16.02zM352.42 535h16.02v1h-16.02zM400.48 512h16.02v1h-16.02z"/>
<path fill="#c0c0f6" d="M0 396h16.02v1h-16.02zM32.04 339h16.02v1h-16.02zM144.17 333h16.02v1h-16.02zM176.21 535h16.02v1h-16.02zM192.23 451h16.02v1h-16.02zM240.29 362h16.02v1h-16.02zM272.33 449h16.02v1h-16.02zM352.42 487h16.02v1h-16.02zM352.42 527h16.02v1h-16.02z"/>
<path fill="#c6c6fc" d="M0 397h16.02v1h-16.02zM32.04 391h16.02v1h-16.02zM96.12 515h16.02v1h-16.02zM128.15 262h16.02v1h-16.02zM128.15 265h16.02v1h-16.02zM176.21 534h16.02v1h-16.02zM192.23 450h16.02v1h-16.02zM240.29 363h16.02v1h-16.02zM272.33 448h16.02v1h-16.02zM352.42 486h16.02v1h-16.02zM352.42 517h16.02v1h-16.02z"/>
<path fill="#b4b4db" d="M0 399h16.02v1h-16.02zM160.19 475h16.02v1h-16.02zM192.23 419h16.02v1h-16.02z"/>
<path fill="#aeaeff" d="M0 400h16.02v1h-16.02zM0 441h16.02v1h-16.02zM16.02 423h16.02v1h-16.02zM32.04 387h16.02v1h-16.02zM32.04 404h16.02v1h-16.02zM32.04 535h16.02v2h-16.02zM48.06 434h16.02v1h-16.02zM80.1 431h16.02v1h-16.02zM128.15 297h16.02v1h-16.02zM144.17 426h16.02v1h-16.02zM144.17 516h16.02v1h-16.02zM208.25 420h16.02v1h-16.02zM208.25 425h16.02v1h-16.02zM224.27 424h16.02v1h-16.02zM224.27 514h16.02v1h-16.02zM224.27 518h16.02v1h-16.02zM256.31 285h16.02v1h-16.02zM256.31 343h16.02v1h-16.02zM256.31 403h16.02v1h-16.02zM256.31 508h16.02v1h-16.02zM256.31 516h16.02v1h-16.02zM272.33 508h16.02v1h-16.02zM320.38 450h16.02v1h-16.02zM320.38 486h16.02v1h-16.02z"/>
<path fill="#9999ea" d="M0 401h16.02v1h-16.02zM0 440h16.02v1h-16.02zM32.04 540h16.02v1h-16.02z"/>
<path fill="#9999e1" d="M0 402h16.02v1h-16.02zM0 416h16.02v1h-16.02zM32.04 382h16.02v1h-16.02zM48.06 526h16.02v1h-16.02zM208.25 386h16.02v1h-16.02zM208.25 416h16.02v1h-16.02zM208.25 515h16.02v1h-16.02zM240.29 516h16.02v1h-16.02z"/>
<path fill="#c3c3ff" d="M0 403h16.02v1h-16.02zM0 413h16.02v1h-16.02zM0 461h16.02v1h-16.02zM0 538h16.02v1h-16.02zM16.02 439h16.02v1h-16.02zM16.02 481h16.02v1h-16.02zM32.04 383h16.02v2h-16.02zM32.04 420h16.02v1h-16.02zM32.04 451h16.02v1h-16.02zM32.04 454h16.02v1h-16.02zM48.06 437h16.02v1h-16.02zM48.06 444h16.02v1h-16.02zM48.06 527h16.02v1h-16.02zM64.08 470h16.02v1h-16.02zM112.13 474h16.02v1h-16.02zM128.15 261h16.02v1h-16.02zM144.17 325h16.02v1h-16.02zM144.17 339h16.02v2h-16.02zM144.17 423h16.02v1h-16.02zM160.19 333h16.02v1h-16.02zM160.19 373h16.02v1h-16.02zM160.19 382h16.02v1h-16.02zM176.21 504h16.02v1h-16.02zM176.21 514h16.02v1h-16.02zM208.25 346h16.02v1h-16.02zM208.25 481h16.02v1h-16.02zM208.25 514h16.02v1h-16.02zM224.27 358h16.02v1h-16.02zM224.27 536h16.02v1h-16.02zM224.27 538h16.02v1h-16.02zM240.29 533h16.02v1h-16.02zM256.31 331h16.02v1h-16.02zM256.31 435h16.02v1h-16.02zM256.31 460h16.02v1h-16.02zM256.31 471h16.02v1h-16.02zM272.33 441h16.02v1h-16.02zM320.38 453h16.02v1h-16.02zM336.4 526h16.02v1h-16.02zM400.48 508h16.02v1h-16.02z"/>
<path fill="#b1b1e1" d="M0 405h16.02v1h-16.02zM0 419h16.02v1h-16.02zM256.31 347h16.02v1h-16.02z"/>
<path fill="#ababf6" d="M0 408h16.02v1h-16.02zM0 530h16.02v2h-16.02zM16.02 526h16.02v2h-16.02zM32.04 462h16.02v2h-16.02zM112.13 462h16.02v2h-16.02zM112.13 494h16.02v1h-16.02zM128.15 278h16.02v2h-16.02zM144.17 336h16.02v2h-16.02zM144.17 468h16.02v2h-16.02zM144.17 492h16.02v2h-16.02zM160.19 354h16.02v1h-16.02zM208.25 458h16.02v2h-16.02zM208.25 548h16.02v2h-16.02zM256.31 323h16.02v1h-16.02zM256.31 458h16.02v2h-16.02zM256.31 524h16.02v2h-16.02zM320.38 514h16.02v2h-16.02zM320.38 530h16.02v2h-16.02zM336.4 472h16.02v2h-16.02z"/>
<path fill="#a8a8ff" d="M0 410h16.02v1h-16.02zM16.02 410h16.02v1h-16.02zM16.02 485h16.02v1h-16.02zM32.04 356h16.02v1h-16.02zM32.04 416h16.02v1h-16.02zM32.04 423h16.02v1h-16.02zM32.04 456h16.02v1h-16.02zM64.08 481h16.02v1h-16.02zM64.08 487h16.02v1h-16.02zM128.15 351h16.02v1h-16.02zM128.15 404h16.02v1h-16.02zM128.15 435h16.02v1h-16.02zM144.17 433h16.02v1h-16.02zM176.21 389h16.02v1h-16.02zM176.21 401h16.02v1h-16.02zM208.25 471h16.02v1h-16.02zM208.25 497h16.02v1h-16.02zM224.27 442h16.02v1h-16.02zM224.27 450h16.02v1h-16.02zM256.31 363h16.02v1h-16.02zM256.31 438h16.02v1h-16.02zM256.31 454h16.02v1h-16.02zM320.38 379h16.02v1h-16.02z"/>
<path fill="#8d8de7" d="M0 411h16.02v1h-16.02zM32.04 417h16.02v1h-16.02zM32.04 528h16.02v1h-16.02zM64.08 486h16.02v1h-16.02zM112.13 535h16.02v1h-16.02zM208.25 535h16.02v1h-16.02zM240.29 445h16.02v1h-16.02zM320.38 378h16.02v1h-16.02z"/>
<path fill="#8d8ddb" d="M0 412h16.02v1h-16.02zM16.02 431h16.02v1h-16.02z"/>
<path fill="#a8a8fc" d="M0 414h16.02v1h-16.02zM0 528h16.02v1h-16.02zM16.02 359h16.02v1h-16.02zM32.04 449h16.02v1h-16.02zM160.19 385h16.02v1h-16.02zM160.19 514h16.02v1h-16.02zM352.42 507h16.02v1h-16.02z"/>
<path fill="#9696ed" d="M0 415h16.02v1h-16.02zM0 529h16.02v1h-16.02zM0 535h16.02v1h-16.02zM48.06 511h16.02v1h-16.02zM160.19 515h16.02v1h-16.02z"/>
<path fill="#c6c6ff" d="M0 417h16.02v1h-16.02zM0 444h16.02v1h-16.02zM16.02 385h16.02v1h-16.02zM16.02 413h16.02v1h-16.02zM16.02 420h16.02v1h-16.02zM16.02 430h16.02v1h-16.02zM32.04 481h16.02v2h-16.02zM48.06 519h16.02v1h-16.02zM64.08 425h16.02v1h-16.02zM80.1 528h16.02v1h-16.02zM96.12 470h16.02v1h-16.02zM112.13 511h16.02v1h-16.02zM144.17 534h16.02v1h-16.02zM144.17 538h16.02v1h-16.02zM160.19 267h16.02v1h-16.02zM160.19 381h16.02v1h-16.02zM176.21 481h16.02v1h-16.02zM192.23 430h16.02v1h-16.02zM208.25 387h16.02v1h-16.02zM208.25 417h16.02v2h-16.02zM208.25 475h16.02v1h-16.02zM224.27 340h16.02v1h-16.02zM224.27 401h16.02v1h-16.02zM224.27 431h16.02v2h-16.02zM224.27 456h16.02v1h-16.02zM272.33 486h16.02v1h-16.02z"/>
<path fill="#b7b7ff" d="M0 420h16.02v1h-16.02zM0 470h16.02v1h-16.02zM16.02 313h16.02v1h-16.02zM48.06 514h16.02v1h-16.02zM64.08 535h16.02v1h-16.02zM112.13 425h16.02v1h-16.02zM112.13 447h16.02v1h-16.02zM112.13 477h16.02v1h-16.02zM112.13 509h16.02v1h-16.02zM144.17 485h16.02v2h-16.02zM160.19 316h16.02v1h-16.02zM160.19 340h16.02v1h-16.02zM160.19 370h16.02v1h-16.02zM160.19 423h16.02v1h-16.02zM160.19 454h16.02v1h-16.02zM160.19 511h16.02v2h-16.02zM160.19 521h16.02v2h-16.02zM160.19 535h16.02v2h-16.02zM176.21 399h16.02v1h-16.02zM176.21 508h16.02v1h-16.02zM192.23 410h16.02v1h-16.02zM208.25 339h16.02v1h-16.02zM224.27 364h16.02v1h-16.02zM224.27 414h16.02v1h-16.02zM224.27 427h16.02v1h-16.02zM224.27 437h16.02v1h-16.02zM224.27 494h16.02v1h-16.02zM256.31 324h16.02v1h-16.02zM256.31 327h16.02v1h-16.02zM256.31 397h16.02v1h-16.02zM256.31 483h16.02v2h-16.02zM272.33 454h16.02v1h-16.02zM272.33 513h16.02v1h-16.02zM272.33 519h16.02v1h-16.02zM272.33 537h16.02v1h-16.02zM320.38 387h16.02v1h-16.02zM320.38 427h16.02v1h-16.02zM320.38 504h16.02v1h-16.02z"/>
<path fill="#8a8ade" d="M0 421h16.02v1h-16.02zM64.08 534h16.02v1h-16.02zM160.19 520h16.02v1h-16.02zM160.19 523h16.02v1h-16.02zM160.19 534h16.02v1h-16.02zM176.21 509h16.02v1h-16.02zM224.27 436h16.02v1h-16.02z"/>
<path fill="#8a8ae7" d="M0 422h16.02v1h-16.02zM160.19 496h16.02v1h-16.02zM224.27 507h16.02v1h-16.02zM320.38 372h16.02v1h-16.02z"/>
<path fill="#a5a5ff" d="M0 423h16.02v1h-16.02zM32.04 389h16.02v1h-16.02zM32.04 436h16.02v1h-16.02zM32.04 529h16.02v1h-16.02zM64.08 519h16.02v1h-16.02zM80.1 412h16.02v1h-16.02zM112.13 519h16.02v1h-16.02zM128.15 352h16.02v1h-16.02zM128.15 421h16.02v2h-16.02zM128.15 424h16.02v1h-16.02zM128.15 436h16.02v1h-16.02zM144.17 410h16.02v1h-16.02zM144.17 439h16.02v1h-16.02zM160.19 364h16.02v1h-16.02zM160.19 497h16.02v1h-16.02zM208.25 534h16.02v1h-16.02zM224.27 506h16.02v1h-16.02zM240.29 444h16.02v1h-16.02zM320.38 475h16.02v1h-16.02zM320.38 477h16.02v1h-16.02zM320.38 481h16.02v1h-16.02zM320.38 494h16.02v1h-16.02z"/>
<path fill="#d5d5ff" d="M0 424h16.02v1h-16.02zM16.02 317h16.02v1h-16.02zM16.02 365h16.02v1h-16.02zM16.02 416h16.02v1h-16.02zM16.02 498h16.02v1h-16.02zM16.02 532h16.02v1h-16.02zM32.04 414h16.02v1h-16.02zM32.04 486h16.02v1h-16.02zM48.06 399h16.02v1h-16.02zM48.06 427h16.02v1h-16.02zM48.06 535h16.02v1h-16.02zM64.08 461h16.02v1h-16.02zM64.08 495h16.02v1h-16.02zM64.08 507h16.02v1h-16.02zM80.1 444h16.02v1h-16.02zM96.12 438h16.02v1h-16.02zM96.12 521h16.02v1h-16.02zM96.12 529h16.02v1h-16.02zM112.13 497h16.02v1h-16.02zM128.15 253h16.02v1h-16.02zM128.15 259h16.02v1h-16.02zM144.17 346h16.02v1h-16.02zM144.17 362h16.02v1h-16.02zM144.17 397h16.02v1h-16.02zM144.17 415h16.02v2h-16.02zM160.19 303h16.02v1h-16.02zM160.19 308h16.02v1h-16.02zM160.19 329h16.02v2h-16.02zM176.21 346h16.02v1h-16.02zM176.21 380h16.02v1h-16.02zM176.21 446h16.02v1h-16.02zM176.21 499h16.02v2h-16.02zM176.21 507h16.02v1h-16.02zM176.21 519h16.02v1h-16.02zM176.21 538h16.02v1h-16.02zM192.23 391h16.02v1h-16.02zM192.23 399h16.02v2h-16.02zM192.23 403h16.02v1h-16.02zM192.23 415h16.02v1h-16.02zM192.23 470h16.02v1h-16.02zM192.23 510h16.02v1h-16.02zM192.23 535h16.02v1h-16.02zM208.25 317h16.02v1h-16.02zM208.25 331h16.02v1h-16.02zM208.25 398h16.02v1h-16.02zM208.25 498h16.02v1h-16.02zM208.25 538h16.02v1h-16.02zM224.27 311h16.02v1h-16.02zM224.27 504h16.02v1h-16.02zM240.29 415h16.02v1h-16.02zM240.29 447h16.02v1h-16.02zM240.29 455h16.02v2h-16.02zM256.31 226h16.02v1h-16.02zM304.37 508h16.02v1h-16.02zM320.38 309h16.02v1h-16.02zM320.38 314h16.02v1h-16.02zM336.4 425h16.02v1h-16.02zM336.4 433h16.02v1h-16.02zM336.4 474h16.02v1h-16.02zM336.4 484h16.02v1h-16.02zM336.4 507h16.02v1h-16.02zM352.42 471h16.02v1h-16.02zM400.48 415h16.02v1h-16.02z"/>
<path fill="#8484cc" d="M0 425h16.02v1h-16.02zM0 478h16.02v1h-16.02z"/>
<path fill="#8181d5" d="M0 426h16.02v1h-16.02zM16.02 357h16.02v1h-16.02zM272.33 487h16.02v1h-16.02zM320.38 385h16.02v1h-16.02zM320.38 405h16.02v1h-16.02z"/>
<path fill="#c0c0ff" d="M0 427h16.02v1h-16.02zM0 430h16.02v1h-16.02zM0 475h16.02v1h-16.02zM0 510h16.02v1h-16.02zM0 519h16.02v1h-16.02zM16.02 356h16.02v1h-16.02zM16.02 389h16.02v1h-16.02zM16.02 537h16.02v2h-16.02zM32.04 341h16.02v1h-16.02zM32.04 344h16.02v1h-16.02zM32.04 347h16.02v1h-16.02zM32.04 419h16.02v1h-16.02zM32.04 514h16.02v1h-16.02zM48.06 477h16.02v1h-16.02zM48.06 504h16.02v1h-16.02zM64.08 529h16.02v1h-16.02zM80.1 507h16.02v1h-16.02zM96.12 519h16.02v1h-16.02zM112.13 444h16.02v1h-16.02zM128.15 237h16.02v1h-16.02zM128.15 266h16.02v1h-16.02zM128.15 284h16.02v1h-16.02zM128.15 370h16.02v1h-16.02zM144.17 364h16.02v1h-16.02zM144.17 477h16.02v1h-16.02zM144.17 499h16.02v2h-16.02zM160.19 425h16.02v1h-16.02zM176.21 536h16.02v1h-16.02zM208.25 414h16.02v1h-16.02zM208.25 433h16.02v1h-16.02zM208.25 451h16.02v1h-16.02zM224.27 382h16.02v1h-16.02zM224.27 385h16.02v2h-16.02zM240.29 494h16.02v1h-16.02zM256.31 279h16.02v1h-16.02zM256.31 312h16.02v1h-16.02zM256.31 319h16.02v1h-16.02zM272.33 447h16.02v1h-16.02zM272.33 483h16.02v1h-16.02zM320.38 380h16.02v1h-16.02zM320.38 404h16.02v1h-16.02zM320.38 456h16.02v1h-16.02zM352.42 495h16.02v1h-16.02zM352.42 528h16.02v1h-16.02z"/>
<path fill="#babaf9" d="M0 428h16.02v2h-16.02zM0 472h16.02v2h-16.02zM0 490h16.02v2h-16.02zM0 515h16.02v1h-16.02zM0 542h16.02v2h-16.02zM0 546h16.02v2h-16.02zM16.02 398h16.02v2h-16.02zM48.06 376h16.02v2h-16.02zM48.06 462h16.02v2h-16.02zM48.06 550h16.02v1h-16.02zM64.08 462h16.02v2h-16.02zM64.08 490h16.02v2h-16.02zM64.08 500h16.02v1h-16.02zM64.08 515h16.02v1h-16.02zM112.13 472h16.02v2h-16.02zM112.13 548h16.02v2h-16.02zM144.17 428h16.02v2h-16.02zM144.17 488h16.02v2h-16.02zM160.19 224h16.02v2h-16.02zM176.21 492h16.02v2h-16.02zM192.23 464h16.02v4h-16.02zM208.25 374h16.02v2h-16.02zM208.25 492h16.02v2h-16.02zM240.29 490h16.02v2h-16.02zM272.33 376h16.02v2h-16.02zM320.38 366h16.02v2h-16.02zM336.4 486h16.02v1h-16.02zM352.42 534h16.02v1h-16.02zM368.44 490h16.02v2h-16.02zM400.48 513h16.02v1h-16.02z"/>
<path fill="#9696e1" d="M0 431h16.02v1h-16.02zM0 539h16.02v1h-16.02zM176.21 515h16.02v1h-16.02z"/>
<path fill="#9696e4" d="M0 432h16.02v1h-16.02zM0 453h16.02v1h-16.02zM32.04 526h16.02v1h-16.02zM160.19 445h16.02v1h-16.02z"/>
<path fill="#bdbdff" d="M0 433h16.02v1h-16.02zM32.04 373h16.02v1h-16.02zM32.04 438h16.02v1h-16.02zM32.04 494h16.02v1h-16.02zM32.04 501h16.02v1h-16.02zM48.06 497h16.02v1h-16.02zM64.08 517h16.02v1h-16.02zM112.13 456h16.02v1h-16.02zM112.13 532h16.02v1h-16.02zM128.15 318h16.02v1h-16.02zM144.17 441h16.02v1h-16.02zM160.19 277h16.02v1h-16.02zM160.19 318h16.02v1h-16.02zM160.19 379h16.02v1h-16.02zM176.21 487h16.02v1h-16.02zM208.25 390h16.02v1h-16.02zM208.25 455h16.02v2h-16.02zM208.25 503h16.02v1h-16.02zM224.27 333h16.02v1h-16.02zM224.27 373h16.02v1h-16.02zM224.27 535h16.02v1h-16.02zM240.29 422h16.02v1h-16.02zM240.29 515h16.02v1h-16.02zM256.31 259h16.02v1h-16.02zM256.31 311h16.02v1h-16.02zM256.31 371h16.02v1h-16.02zM256.31 447h16.02v2h-16.02zM272.33 444h16.02v1h-16.02zM272.33 479h16.02v2h-16.02zM272.33 507h16.02v1h-16.02zM272.33 534h16.02v1h-16.02zM320.38 384h16.02v1h-16.02zM336.4 431h16.02v1h-16.02z"/>
<path fill="#c6c6f3" d="M0 434h16.02v1h-16.02zM16.02 404h16.02v1h-16.02zM144.17 347h16.02v1h-16.02zM144.17 396h16.02v1h-16.02zM144.17 417h16.02v1h-16.02zM160.19 437h16.02v1h-16.02zM192.23 445h16.02v1h-16.02zM192.23 511h16.02v1h-16.02zM208.25 330h16.02v1h-16.02zM208.25 359h16.02v1h-16.02z"/>
<path fill="#9c9cde" d="M0 437h16.02v1h-16.02zM144.17 357h16.02v1h-16.02zM336.4 536h16.02v1h-16.02z"/>
<path fill="#b1b1ff" d="M0 438h16.02v1h-16.02zM16.02 454h16.02v1h-16.02zM16.02 497h16.02v1h-16.02zM32.04 475h16.02v1h-16.02zM32.04 479h16.02v1h-16.02zM32.04 541h16.02v1h-16.02zM96.12 507h16.02v1h-16.02zM112.13 439h16.02v1h-16.02zM112.13 481h16.02v1h-16.02zM128.15 273h16.02v1h-16.02zM128.15 413h16.02v1h-16.02zM160.19 470h16.02v1h-16.02zM224.27 516h16.02v1h-16.02zM256.31 424h16.02v1h-16.02zM256.31 534h16.02v1h-16.02zM320.38 485h16.02v1h-16.02zM320.38 502h16.02v1h-16.02zM320.38 507h16.02v1h-16.02z"/>
<path fill="#9c9cea" d="M0 439h16.02v1h-16.02zM32.04 474h16.02v1h-16.02zM112.13 424h16.02v1h-16.02z"/>
<path fill="#a8a8e7" d="M0 445h16.02v2h-16.02zM32.04 363h16.02v1h-16.02zM64.08 400h16.02v1h-16.02zM224.27 419h16.02v1h-16.02zM256.31 379h16.02v1h-16.02z"/>
<path fill="#ccccff" d="M0 447h16.02v1h-16.02zM0 455h16.02v1h-16.02zM0 508h16.02v1h-16.02zM16.02 344h16.02v1h-16.02zM16.02 390h16.02v1h-16.02zM16.02 507h16.02v1h-16.02zM16.02 511h16.02v1h-16.02zM16.02 534h16.02v1h-16.02zM32.04 446h16.02v1h-16.02zM48.06 520h16.02v1h-16.02zM48.06 529h16.02v1h-16.02zM64.08 401h16.02v2h-16.02zM64.08 405h16.02v1h-16.02zM64.08 410h16.02v1h-16.02zM64.08 503h16.02v1h-16.02zM64.08 512h16.02v1h-16.02zM96.12 410h16.02v1h-16.02zM96.12 417h16.02v1h-16.02zM112.13 514h16.02v1h-16.02zM112.13 521h16.02v1h-16.02zM128.15 308h16.02v1h-16.02zM128.15 380h16.02v1h-16.02zM128.15 442h16.02v1h-16.02zM144.17 315h16.02v1h-16.02zM144.17 329h16.02v1h-16.02zM144.17 390h16.02v1h-16.02zM160.19 279h16.02v1h-16.02zM160.19 345h16.02v1h-16.02zM160.19 350h16.02v1h-16.02zM160.19 410h16.02v1h-16.02zM176.21 425h16.02v1h-16.02zM176.21 456h16.02v1h-16.02zM192.23 477h16.02v2h-16.02zM192.23 494h16.02v1h-16.02zM192.23 504h16.02v1h-16.02zM208.25 445h16.02v1h-16.02zM208.25 512h16.02v1h-16.02zM240.29 402h16.02v1h-16.02zM240.29 424h16.02v1h-16.02zM256.31 270h16.02v1h-16.02zM256.31 317h16.02v1h-16.02zM256.31 415h16.02v1h-16.02zM272.33 503h16.02v1h-16.02zM320.38 353h16.02v1h-16.02zM320.38 410h16.02v1h-16.02zM336.4 537h16.02v1h-16.02zM352.42 508h16.02v1h-16.02zM384.46 526h16.02v1h-16.02z"/>
<path fill="#babaff" d="M0 452h16.02v1h-16.02zM0 513h16.02v1h-16.02zM16.02 433h16.02v1h-16.02zM32.04 354h16.02v1h-16.02zM32.04 497h16.02v1h-16.02zM32.04 527h16.02v1h-16.02zM48.06 386h16.02v1h-16.02zM48.06 396h16.02v1h-16.02zM64.08 433h16.02v1h-16.02zM64.08 536h16.02v1h-16.02zM96.12 486h16.02v1h-16.02zM112.13 478h16.02v1h-16.02zM112.13 485h16.02v1h-16.02zM112.13 504h16.02v1h-16.02zM128.15 317h16.02v1h-16.02zM128.15 481h16.02v2h-16.02zM144.17 372h16.02v1h-16.02zM144.17 413h16.02v1h-16.02zM160.19 358h16.02v1h-16.02zM160.19 416h16.02v1h-16.02zM160.19 439h16.02v2h-16.02zM160.19 444h16.02v1h-16.02zM160.19 533h16.02v1h-16.02zM176.21 387h16.02v1h-16.02zM176.21 413h16.02v1h-16.02zM208.25 349h16.02v1h-16.02zM208.25 442h16.02v1h-16.02zM224.27 423h16.02v1h-16.02zM224.27 503h16.02v1h-16.02zM240.29 421h16.02v1h-16.02zM240.29 471h16.02v1h-16.02zM256.31 364h16.02v1h-16.02zM256.31 419h16.02v1h-16.02zM256.31 423h16.02v1h-16.02zM256.31 427h16.02v1h-16.02zM272.33 453h16.02v1h-16.02zM272.33 522h16.02v1h-16.02zM288.35 510h16.02v1h-16.02zM320.38 391h16.02v1h-16.02zM320.38 447h16.02v1h-16.02zM320.38 510h16.02v1h-16.02zM320.38 529h16.02v1h-16.02zM320.38 541h16.02v1h-16.02zM400.48 511h16.02v1h-16.02z"/>
<path fill="#9999de" d="M0 454h16.02v1h-16.02zM208.25 371h16.02v1h-16.02zM304.37 471h16.02v1h-16.02z"/>
<path fill="#c9c9ff" d="M0 456h16.02v1h-16.02zM0 496h16.02v1h-16.02zM0 541h16.02v1h-16.02zM16.02 380h16.02v1h-16.02zM16.02 408h16.02v1h-16.02zM16.02 512h16.02v1h-16.02zM32.04 362h16.02v1h-16.02zM32.04 380h16.02v1h-16.02zM32.04 397h16.02v1h-16.02zM32.04 413h16.02v1h-16.02zM32.04 445h16.02v1h-16.02zM32.04 507h16.02v1h-16.02zM48.06 378h16.02v1h-16.02zM48.06 384h16.02v1h-16.02zM48.06 433h16.02v1h-16.02zM48.06 474h16.02v1h-16.02zM48.06 485h16.02v2h-16.02zM64.08 391h16.02v1h-16.02zM64.08 397h16.02v1h-16.02zM64.08 409h16.02v1h-16.02zM64.08 430h16.02v1h-16.02zM96.12 372h16.02v1h-16.02zM96.12 517h16.02v1h-16.02zM112.13 487h16.02v1h-16.02zM128.15 235h16.02v1h-16.02zM128.15 444h16.02v1h-16.02zM160.19 298h16.02v1h-16.02zM176.21 404h16.02v1h-16.02zM192.23 340h16.02v1h-16.02zM192.23 379h16.02v1h-16.02zM192.23 389h16.02v1h-16.02zM192.23 499h16.02v2h-16.02zM192.23 503h16.02v1h-16.02zM208.25 370h16.02v1h-16.02zM208.25 446h16.02v1h-16.02zM208.25 511h16.02v1h-16.02zM208.25 537h16.02v1h-16.02zM224.27 370h16.02v1h-16.02zM224.27 402h16.02v1h-16.02zM224.27 418h16.02v1h-16.02zM224.27 511h16.02v2h-16.02zM240.29 517h16.02v1h-16.02zM240.29 519h16.02v1h-16.02zM256.31 244h16.02v1h-16.02zM256.31 378h16.02v1h-16.02zM272.33 485h16.02v1h-16.02zM320.38 370h16.02v1h-16.02zM320.38 483h16.02v1h-16.02zM336.4 448h16.02v1h-16.02zM352.42 476h16.02v1h-16.02z"/>
<path fill="#5454ba" d="M0 457h16.02v1h-16.02z"/>
<path fill="#bdbdf9" d="M0 458h16.02v2h-16.02zM16.02 464h16.02v2h-16.02zM16.02 542h16.02v2h-16.02zM32.04 472h16.02v2h-16.02zM48.06 472h16.02v2h-16.02zM64.08 336h16.02v2h-16.02zM64.08 544h16.02v2h-16.02zM128.15 214h16.02v2h-16.02zM128.15 224h16.02v2h-16.02zM144.17 316h16.02v1h-16.02zM144.17 382h16.02v1h-16.02zM144.17 507h16.02v1h-16.02zM160.19 268h16.02v2h-16.02zM160.19 280h16.02v2h-16.02zM160.19 294h16.02v2h-16.02zM160.19 414h16.02v1h-16.02zM176.21 468h16.02v2h-16.02zM192.23 458h16.02v2h-16.02zM192.23 468h16.02v2h-16.02zM208.25 320h16.02v2h-16.02zM208.25 466h16.02v2h-16.02zM224.27 360h16.02v2h-16.02zM224.27 530h16.02v2h-16.02zM240.29 452h16.02v2h-16.02zM256.31 292h16.02v1h-16.02zM272.33 434h16.02v2h-16.02zM272.33 458h16.02v2h-16.02zM272.33 520h16.02v1h-16.02zM288.35 490h16.02v2h-16.02zM304.37 468h16.02v2h-16.02zM320.38 320h16.02v2h-16.02zM320.38 423h16.02v1h-16.02zM352.42 466h16.02v2h-16.02z"/>
<path fill="#b1b1f0" d="M0 460h16.02v1h-16.02zM16.02 536h16.02v1h-16.02zM224.27 537h16.02v1h-16.02zM256.31 278h16.02v1h-16.02z"/>
<path fill="#a2a2f6" d="M0 464h16.02v2h-16.02zM16.02 492h16.02v2h-16.02zM48.06 509h16.02v1h-16.02zM112.13 544h16.02v2h-16.02zM128.15 216h16.02v2h-16.02zM144.17 502h16.02v1h-16.02zM144.17 546h16.02v2h-16.02zM176.21 522h16.02v1h-16.02zM192.23 488h16.02v2h-16.02zM224.27 497h16.02v1h-16.02zM224.27 524h16.02v2h-16.02zM240.29 466h16.02v2h-16.02zM256.31 240h16.02v2h-16.02zM256.31 541h16.02v1h-16.02zM272.33 394h16.02v2h-16.02zM304.37 336h16.02v2h-16.02zM320.38 334h16.02v2h-16.02zM320.38 396h16.02v1h-16.02zM320.38 472h16.02v2h-16.02z"/>
<path fill="#a5a5f6" d="M0 466h16.02v2h-16.02zM0 516h16.02v1h-16.02zM0 544h16.02v2h-16.02zM0 548h16.02v2h-16.02zM48.06 530h16.02v2h-16.02zM48.06 546h16.02v2h-16.02zM64.08 546h16.02v2h-16.02zM112.13 428h16.02v2h-16.02zM112.13 526h16.02v1h-16.02zM128.15 294h16.02v2h-16.02zM128.15 406h16.02v2h-16.02zM144.17 320h16.02v2h-16.02zM144.17 435h16.02v1h-16.02zM160.19 450h16.02v1h-16.02zM176.21 485h16.02v1h-16.02zM176.21 524h16.02v2h-16.02zM208.25 550h16.02v1h-16.02zM224.27 492h16.02v2h-16.02zM256.31 306h16.02v2h-16.02zM256.31 540h16.02v1h-16.02z"/>
<path fill="#d5d5f9" d="M0 468h16.02v2h-16.02zM16.02 320h16.02v2h-16.02zM64.08 446h16.02v1h-16.02zM96.12 336h16.02v2h-16.02zM96.12 475h16.02v1h-16.02zM112.13 365h16.02v1h-16.02zM128.15 240h16.02v2h-16.02zM144.17 319h16.02v1h-16.02zM176.21 324h16.02v1h-16.02zM176.21 423h16.02v1h-16.02zM176.21 458h16.02v2h-16.02zM208.25 268h16.02v2h-16.02zM208.25 408h16.02v1h-16.02zM224.27 300h16.02v2h-16.02zM224.27 355h16.02v1h-16.02zM272.33 542h16.02v2h-16.02zM288.35 507h16.02v1h-16.02zM304.37 537h16.02v1h-16.02zM320.38 360h16.02v2h-16.02zM320.38 368h16.02v2h-16.02zM336.4 336h16.02v2h-16.02zM336.4 466h16.02v2h-16.02zM352.42 422h16.02v1h-16.02zM352.42 524h16.02v2h-16.02zM352.42 550h16.02v1h-16.02zM368.44 389h16.02v1h-16.02zM400.48 472h16.02v2h-16.02z"/>
<path fill="#4b4bbd" d="M0 471h16.02v1h-16.02zM0 503h16.02v1h-16.02z"/>
<path fill="#ababed" d="M0 474h16.02v1h-16.02zM144.17 440h16.02v1h-16.02zM176.21 537h16.02v1h-16.02zM208.25 443h16.02v1h-16.02zM208.25 454h16.02v1h-16.02zM224.27 383h16.02v2h-16.02zM240.29 423h16.02v1h-16.02z"/>
<path fill="#9c9cff" d="M0 476h16.02v1h-16.02zM32.04 477h16.02v1h-16.02zM160.19 353h16.02v1h-16.02zM160.19 389h16.02v1h-16.02zM160.19 504h16.02v1h-16.02zM224.27 293h16.02v1h-16.02zM224.27 438h16.02v1h-16.02zM256.31 487h16.02v1h-16.02zM320.38 445h16.02v1h-16.02z"/>
<path fill="#8181e7" d="M0 477h16.02v1h-16.02z"/>
<path fill="#a8a8e1" d="M0 483h16.02v1h-16.02zM32.04 313h16.02v1h-16.02zM208.25 499h16.02v1h-16.02zM224.27 505h16.02v1h-16.02zM240.29 457h16.02v1h-16.02z"/>
<path fill="#7272e7" d="M0 484h16.02v1h-16.02zM320.38 470h16.02v1h-16.02z"/>
<path fill="#8484fc" d="M0 485h16.02v1h-16.02zM128.15 313h16.02v1h-16.02zM256.31 389h16.02v1h-16.02z"/>
<path fill="#8787f0" d="M0 486h16.02v1h-16.02z"/>
<path fill="#8a8af3" d="M0 487h16.02v1h-16.02zM32.04 466h16.02v2h-16.02zM128.15 320h16.02v2h-16.02zM128.15 376h16.02v2h-16.02zM128.15 458h16.02v2h-16.02zM128.15 530h16.02v2h-16.02zM160.19 492h16.02v2h-16.02zM224.27 471h16.02v1h-16.02zM256.31 228h16.02v2h-16.02zM256.31 268h16.02v2h-16.02zM256.31 544h16.02v2h-16.02zM320.38 550h16.02v1h-16.02z"/>
<path fill="#8181f0" d="M0 492h16.02v2h-16.02zM208.25 336h16.02v2h-16.02zM224.27 521h16.02v1h-16.02z"/>
<path fill="#ccccfc" d="M0 495h16.02v1h-16.02zM64.08 511h16.02v1h-16.02zM112.13 460h16.02v1h-16.02zM160.19 346h16.02v1h-16.02zM176.21 417h16.02v1h-16.02zM176.21 527h16.02v1h-16.02zM320.38 317h16.02v1h-16.02z"/>
<path fill="#babaf0" d="M0 497h16.02v1h-16.02zM0 509h16.02v1h-16.02zM48.06 521h16.02v1h-16.02zM64.08 404h16.02v1h-16.02zM96.12 416h16.02v1h-16.02zM176.21 405h16.02v1h-16.02zM176.21 424h16.02v1h-16.02zM224.27 403h16.02v1h-16.02zM240.29 425h16.02v1h-16.02zM384.46 527h16.02v1h-16.02z"/>
<path fill="#b1b1f3" d="M0 498h16.02v1h-16.02zM16.02 478h16.02v1h-16.02zM32.04 352h16.02v1h-16.02zM272.33 437h16.02v1h-16.02z"/>
<path fill="#b7b7fc" d="M0 499h16.02v1h-16.02zM64.08 499h16.02v1h-16.02zM160.19 453h16.02v1h-16.02zM176.21 529h16.02v1h-16.02zM224.27 397h16.02v1h-16.02zM256.31 277h16.02v1h-16.02zM320.38 365h16.02v1h-16.02z"/>
<path fill="#b7b7f6" d="M0 501h16.02v1h-16.02zM0 514h16.02v1h-16.02zM16.02 466h16.02v2h-16.02zM32.04 360h16.02v2h-16.02zM48.06 544h16.02v2h-16.02zM64.08 548h16.02v2h-16.02zM96.12 368h16.02v2h-16.02zM96.12 466h16.02v2h-16.02zM144.17 370h16.02v1h-16.02zM144.17 458h16.02v2h-16.02zM144.17 506h16.02v1h-16.02zM160.19 282h16.02v2h-16.02zM160.19 360h16.02v2h-16.02zM160.19 464h16.02v2h-16.02zM176.21 490h16.02v2h-16.02zM208.25 376h16.02v2h-16.02zM208.25 402h16.02v2h-16.02zM224.27 394h16.02v2h-16.02zM240.29 428h16.02v2h-16.02zM256.31 293h16.02v1h-16.02zM320.38 422h16.02v1h-16.02zM336.4 487h16.02v1h-16.02zM384.46 472h16.02v2h-16.02zM400.48 490h16.02v2h-16.02z"/>
<path fill="#a2a2de" d="M0 505h16.02v1h-16.02zM320.38 398h16.02v1h-16.02z"/>
<path fill="#a2a2e1" d="M0 506h16.02v1h-16.02zM208.25 513h16.02v1h-16.02zM336.4 508h16.02v1h-16.02z"/>
<path fill="#5757c0" d="M0 511h16.02v2h-16.02z"/>
<path fill="#9f9ff3" d="M0 517h16.02v1h-16.02zM48.06 508h16.02v1h-16.02zM144.17 434h16.02v1h-16.02zM144.17 447h16.02v1h-16.02zM144.17 503h16.02v1h-16.02zM224.27 416h16.02v1h-16.02zM224.27 496h16.02v1h-16.02zM320.38 397h16.02v1h-16.02z"/>
<path fill="#7b7bd2" d="M0 518h16.02v1h-16.02z"/>
<path fill="#c3c3f6" d="M0 520h16.02v1h-16.02zM64.08 510h16.02v1h-16.02z"/>
<path fill="#c6c6f9" d="M0 521h16.02v1h-16.02zM0 524h16.02v2h-16.02zM16.02 550h16.02v1h-16.02zM32.04 320h16.02v2h-16.02zM32.04 394h16.02v2h-16.02zM32.04 458h16.02v2h-16.02zM48.06 458h16.02v2h-16.02zM48.06 490h16.02v2h-16.02zM80.1 400h16.02v2h-16.02zM80.1 490h16.02v2h-16.02zM96.12 455h16.02v1h-16.02zM96.12 458h16.02v2h-16.02zM112.13 398h16.02v1h-16.02zM128.15 306h16.02v2h-16.02zM144.17 327h16.02v1h-16.02zM144.17 464h16.02v2h-16.02zM160.19 216h16.02v2h-16.02zM176.21 464h16.02v4h-16.02zM176.21 544h16.02v2h-16.02zM176.21 548h16.02v2h-16.02zM208.25 334h16.02v2h-16.02zM208.25 345h16.02v1h-16.02zM224.27 392h16.02v2h-16.02zM240.29 550h16.02v1h-16.02zM256.31 280h16.02v2h-16.02zM272.33 466h16.02v2h-16.02zM272.33 472h16.02v2h-16.02zM288.35 546h16.02v2h-16.02zM320.38 328h16.02v1h-16.02zM320.38 454h16.02v1h-16.02zM336.4 492h16.02v2h-16.02zM384.46 466h16.02v2h-16.02z"/>
<path fill="#c6c6f6" d="M0 522h16.02v1h-16.02zM16.02 440h16.02v1h-16.02zM32.04 453h16.02v1h-16.02zM48.06 415h16.02v2h-16.02zM112.13 461h16.02v1h-16.02zM160.19 347h16.02v1h-16.02zM160.19 408h16.02v1h-16.02zM160.19 539h16.02v1h-16.02zM176.21 526h16.02v1h-16.02zM208.25 355h16.02v1h-16.02zM352.42 503h16.02v1h-16.02z"/>
<path fill="#9090fc" d="M0 526h16.02v1h-16.02zM128.15 271h16.02v1h-16.02zM128.15 448h16.02v1h-16.02zM320.38 436h16.02v1h-16.02z"/>
<path fill="#7e7eea" d="M0 527h16.02v1h-16.02zM320.38 522h16.02v1h-16.02z"/>
<path fill="#c3c3ea" d="M0 532h16.02v1h-16.02zM48.06 359h16.02v1h-16.02zM96.12 476h16.02v1h-16.02zM160.19 324h16.02v1h-16.02zM224.27 343h16.02v1h-16.02z"/>
<path fill="#a5a5fc" d="M0 534h16.02v1h-16.02zM48.06 510h16.02v1h-16.02z"/>
<path fill="#9999d5" d="M0 536h16.02v1h-16.02zM128.15 343h16.02v1h-16.02zM192.23 324h16.02v1h-16.02zM336.4 412h16.02v1h-16.02z"/>
<path fill="#9696db" d="M0 540h16.02v1h-16.02z"/>
<path fill="#f34848" d="M16.02 169h16.02v1h-16.02zM16.02 171h16.02v1h-16.02zM272.33 172h16.02v2h-16.02z"/>
<path fill="#f04848" d="M16.02 170h16.02v1h-16.02zM96.12 182h16.02v1h-16.02z"/>
<path fill="#f36969" d="M16.02 172h16.02v2h-16.02zM128.15 174h16.02v2h-16.02zM160.19 172h16.02v2h-16.02zM208.25 174h16.02v2h-16.02zM368.44 191h16.02v1h-16.02zM384.46 194h16.02v2h-16.02z"/>
<path fill="#f67272" d="M16.02 176h16.02v1h-16.02zM160.19 174h16.02v2h-16.02zM304.37 188h16.02v2h-16.02z"/>
<path fill="#f36f6f" d="M16.02 177h16.02v1h-16.02z"/>
<path fill="#e47575" d="M16.02 178h16.02v1h-16.02z"/>
<path fill="#ff9999" d="M16.02 180h16.02v1h-16.02zM48.06 176h16.02v1h-16.02zM96.12 226h16.02v1h-16.02zM128.15 170h16.02v1h-16.02zM304.37 232h16.02v1h-16.02z"/>
<path fill="#f69c9c" d="M16.02 182h16.02v1h-16.02zM352.42 196h16.02v1h-16.02zM352.42 222h16.02v1h-16.02zM384.46 245h16.02v1h-16.02z"/>
<path fill="#f99f9f" d="M16.02 183h16.02v1h-16.02zM80.1 216h16.02v2h-16.02zM96.12 213h16.02v1h-16.02zM128.15 169h16.02v1h-16.02zM192.23 198h16.02v2h-16.02zM304.37 230h16.02v2h-16.02zM384.46 220h16.02v2h-16.02zM384.46 228h16.02v2h-16.02z"/>
<path fill="#ffbaba" d="M16.02 184h16.02v1h-16.02zM32.04 189h16.02v1h-16.02zM64.08 209h16.02v1h-16.02zM64.08 211h16.02v1h-16.02zM80.1 234h16.02v1h-16.02zM80.1 247h16.02v2h-16.02zM160.19 182h16.02v1h-16.02zM208.25 180h16.02v1h-16.02zM208.25 203h16.02v1h-16.02zM240.29 193h16.02v1h-16.02zM240.29 210h16.02v1h-16.02zM272.33 204h16.02v1h-16.02zM272.33 244h16.02v1h-16.02zM272.33 249h16.02v1h-16.02zM288.35 267h16.02v1h-16.02zM304.37 292h16.02v1h-16.02zM320.38 184h16.02v1h-16.02zM400.48 254h16.02v1h-16.02z"/>
<path fill="#f0abab" d="M16.02 185h16.02v1h-16.02zM80.1 242h16.02v1h-16.02zM288.35 266h16.02v1h-16.02zM304.37 266h16.02v1h-16.02zM352.42 265h16.02v1h-16.02zM368.44 278h16.02v1h-16.02z"/>
<path fill="#ffa2a2" d="M16.02 186h16.02v1h-16.02zM64.08 233h16.02v1h-16.02zM80.1 205h16.02v1h-16.02zM112.13 210h16.02v1h-16.02zM112.13 212h16.02v1h-16.02zM288.35 201h16.02v1h-16.02zM304.37 234h16.02v1h-16.02zM304.37 254h16.02v1h-16.02zM320.38 179h16.02v1h-16.02zM352.42 205h16.02v1h-16.02zM352.42 212h16.02v1h-16.02zM352.42 238h16.02v1h-16.02zM352.42 243h16.02v1h-16.02zM368.44 209h16.02v1h-16.02zM368.44 253h16.02v1h-16.02zM400.48 235h16.02v1h-16.02z"/>
<path fill="#ed8d8d" d="M16.02 187h16.02v1h-16.02zM96.12 248h16.02v1h-16.02zM176.21 200h16.02v1h-16.02zM336.4 196h16.02v1h-16.02zM352.42 204h16.02v1h-16.02zM352.42 242h16.02v1h-16.02zM368.44 252h16.02v1h-16.02z"/>
<path fill="#e78d8d" d="M16.02 188h16.02v1h-16.02z"/>
<path fill="#ffb1b1" d="M16.02 189h16.02v1h-16.02zM64.08 247h16.02v1h-16.02zM96.12 246h16.02v1h-16.02zM96.12 250h16.02v1h-16.02zM144.17 179h16.02v1h-16.02zM160.19 179h16.02v1h-16.02zM192.23 180h16.02v1h-16.02zM304.37 203h16.02v1h-16.02zM304.37 262h16.02v1h-16.02zM336.4 213h16.02v1h-16.02zM336.4 252h16.02v1h-16.02zM352.42 245h16.02v1h-16.02zM368.44 201h16.02v1h-16.02zM368.44 262h16.02v1h-16.02zM368.44 292h16.02v1h-16.02zM384.46 239h16.02v1h-16.02zM400.48 231h16.02v1h-16.02z"/>
<path fill="#f9b4b4" d="M16.02 190h16.02v1h-16.02zM96.12 244h16.02v1h-16.02zM224.27 198h16.02v2h-16.02zM272.33 227h16.02v1h-16.02zM272.33 240h16.02v2h-16.02zM288.35 278h16.02v1h-16.02zM288.35 306h16.02v2h-16.02zM304.37 260h16.02v2h-16.02zM320.38 182h16.02v1h-16.02zM336.4 224h16.02v2h-16.02zM336.4 228h16.02v2h-16.02zM352.42 220h16.02v2h-16.02zM368.44 224h16.02v2h-16.02zM368.44 261h16.02v1h-16.02zM384.46 224h16.02v2h-16.02zM384.46 264h16.02v3h-16.02z"/>
<path fill="#f69696" d="M16.02 194h16.02v2h-16.02zM80.1 233h16.02v1h-16.02zM176.21 180h16.02v1h-16.02zM192.23 183h16.02v1h-16.02zM240.29 218h16.02v2h-16.02zM304.37 240h16.02v2h-16.02z"/>
<path fill="#ffd2d2" d="M16.02 196h16.02v1h-16.02zM16.02 210h16.02v1h-16.02zM16.02 235h16.02v1h-16.02zM16.02 255h16.02v1h-16.02zM32.04 192h16.02v1h-16.02zM48.06 251h16.02v1h-16.02zM64.08 258h16.02v1h-16.02zM80.1 265h16.02v1h-16.02zM96.12 272h16.02v1h-16.02zM96.12 297h16.02v1h-16.02zM160.19 203h16.02v1h-16.02zM176.21 234h16.02v1h-16.02zM224.27 210h16.02v1h-16.02zM240.29 231h16.02v2h-16.02zM272.33 202h16.02v1h-16.02zM272.33 235h16.02v1h-16.02zM272.33 267h16.02v1h-16.02zM288.35 254h16.02v1h-16.02zM288.35 293h16.02v1h-16.02zM304.37 251h16.02v1h-16.02zM336.4 259h16.02v1h-16.02zM336.4 267h16.02v1h-16.02zM352.42 262h16.02v1h-16.02zM368.44 277h16.02v1h-16.02zM368.44 322h16.02v1h-16.02zM368.44 324h16.02v1h-16.02zM368.44 328h16.02v1h-16.02zM384.46 251h16.02v1h-16.02zM384.46 260h16.02v1h-16.02zM400.48 326h16.02v1h-16.02z"/>
<path fill="#f0bdbd" d="M16.02 197h16.02v1h-16.02zM48.06 250h16.02v1h-16.02zM224.27 211h16.02v1h-16.02zM336.4 262h16.02v1h-16.02z"/>
<path fill="#fcc6c6" d="M16.02 198h16.02v2h-16.02zM48.06 203h16.02v2h-16.02zM48.06 216h16.02v2h-16.02zM96.12 228h16.02v2h-16.02zM144.17 218h16.02v2h-16.02zM240.29 228h16.02v2h-16.02zM240.29 235h16.02v1h-16.02zM288.35 282h16.02v2h-16.02zM304.37 282h16.02v4h-16.02zM304.37 300h16.02v2h-16.02zM304.37 366h16.02v2h-16.02zM368.44 300h16.02v2h-16.02zM368.44 394h16.02v2h-16.02z"/>
<path fill="#f6b7b7" d="M16.02 200h16.02v1h-16.02zM64.08 263h16.02v1h-16.02zM80.1 263h16.02v1h-16.02zM112.13 255h16.02v1h-16.02zM160.19 196h16.02v1h-16.02zM272.33 265h16.02v1h-16.02zM288.35 258h16.02v1h-16.02zM288.35 277h16.02v1h-16.02zM368.44 284h16.02v1h-16.02z"/>
<path fill="#ffc0c0" d="M16.02 201h16.02v2h-16.02zM64.08 254h16.02v1h-16.02zM64.08 262h16.02v1h-16.02zM80.1 243h16.02v1h-16.02zM112.13 208h16.02v1h-16.02zM160.19 189h16.02v1h-16.02zM192.23 192h16.02v1h-16.02zM192.23 205h16.02v1h-16.02zM224.27 189h16.02v1h-16.02zM240.29 203h16.02v1h-16.02zM272.33 191h16.02v1h-16.02zM272.33 264h16.02v1h-16.02zM288.35 251h16.02v1h-16.02zM288.35 261h16.02v2h-16.02zM304.37 196h16.02v1h-16.02zM304.37 267h16.02v1h-16.02zM336.4 203h16.02v2h-16.02zM352.42 264h16.02v1h-16.02zM368.44 267h16.02v1h-16.02z"/>
<path fill="#f6baba" d="M16.02 203h16.02v1h-16.02zM400.48 292h16.02v1h-16.02z"/>
<path fill="#ffb4b4" d="M16.02 204h16.02v1h-16.02zM96.12 196h16.02v1h-16.02zM160.19 180h16.02v1h-16.02zM176.21 196h16.02v1h-16.02zM272.33 197h16.02v1h-16.02zM304.37 204h16.02v1h-16.02z"/>
<path fill="#f3a8a8" d="M16.02 205h16.02v1h-16.02zM304.37 263h16.02v1h-16.02zM352.42 231h16.02v1h-16.02zM352.42 244h16.02v1h-16.02z"/>
<path fill="#f9abab" d="M16.02 206h16.02v2h-16.02zM48.06 198h16.02v2h-16.02zM112.13 198h16.02v2h-16.02zM112.13 218h16.02v2h-16.02zM112.13 228h16.02v2h-16.02zM144.17 198h16.02v2h-16.02zM176.21 209h16.02v1h-16.02zM192.23 188h16.02v1h-16.02zM192.23 206h16.02v2h-16.02zM240.29 208h16.02v1h-16.02zM272.33 182h16.02v1h-16.02zM304.37 206h16.02v2h-16.02zM304.37 236h16.02v1h-16.02zM304.37 252h16.02v1h-16.02zM320.38 194h16.02v2h-16.02zM336.4 220h16.02v2h-16.02zM336.4 240h16.02v2h-16.02zM368.44 216h16.02v2h-16.02zM368.44 240h16.02v2h-16.02zM400.48 268h16.02v2h-16.02z"/>
<path fill="#f3baba" d="M16.02 208h16.02v1h-16.02zM144.17 211h16.02v1h-16.02zM352.42 273h16.02v1h-16.02zM368.44 339h16.02v1h-16.02zM400.48 308h16.02v1h-16.02z"/>
<path fill="#ffc9c9" d="M16.02 209h16.02v1h-16.02zM16.02 226h16.02v1h-16.02zM48.06 193h16.02v1h-16.02zM48.06 208h16.02v1h-16.02zM112.13 253h16.02v1h-16.02zM144.17 191h16.02v1h-16.02zM208.25 205h16.02v1h-16.02zM256.31 189h16.02v1h-16.02zM272.33 232h16.02v1h-16.02zM304.37 277h16.02v1h-16.02zM368.44 296h16.02v1h-16.02zM368.44 308h16.02v1h-16.02zM368.44 338h16.02v1h-16.02zM384.46 278h16.02v1h-16.02zM384.46 296h16.02v1h-16.02zM400.48 251h16.02v1h-16.02zM400.48 302h16.02v1h-16.02zM400.48 309h16.02v1h-16.02z"/>
<path fill="#f9cfcf" d="M16.02 211h16.02v1h-16.02zM32.04 209h16.02v1h-16.02zM48.06 247h16.02v1h-16.02zM64.08 272h16.02v1h-16.02zM176.21 238h16.02v1h-16.02zM224.27 208h16.02v1h-16.02zM256.31 182h16.02v1h-16.02zM304.37 330h16.02v1h-16.02zM336.4 251h16.02v1h-16.02z"/>
<path fill="#f9d2d2" d="M16.02 212h16.02v1h-16.02zM64.08 297h16.02v1h-16.02zM192.23 247h16.02v1h-16.02zM208.25 227h16.02v1h-16.02zM224.27 223h16.02v1h-16.02zM384.46 292h16.02v1h-16.02zM400.48 350h16.02v1h-16.02z"/>
<path fill="#fcd5d5" d="M16.02 213h16.02v1h-16.02zM32.04 214h16.02v2h-16.02zM48.06 240h16.02v2h-16.02zM64.08 224h16.02v2h-16.02zM64.08 294h16.02v2h-16.02zM80.1 266h16.02v2h-16.02zM128.15 198h16.02v2h-16.02zM224.27 256h16.02v2h-16.02zM256.31 192h16.02v2h-16.02zM288.35 328h16.02v1h-16.02zM288.35 334h16.02v2h-16.02zM288.35 346h16.02v2h-16.02zM304.37 343h16.02v1h-16.02zM320.38 214h16.02v2h-16.02zM352.42 306h16.02v2h-16.02zM352.42 336h16.02v2h-16.02zM368.44 303h16.02v1h-16.02zM368.44 360h16.02v2h-16.02zM368.44 366h16.02v2h-16.02zM368.44 376h16.02v2h-16.02zM368.44 392h16.02v2h-16.02zM384.46 280h16.02v4h-16.02zM400.48 299h16.02v1h-16.02z"/>
<path fill="#fcdede" d="M16.02 214h16.02v2h-16.02zM32.04 203h16.02v1h-16.02zM32.04 218h16.02v2h-16.02zM32.04 233h16.02v1h-16.02zM64.08 304h16.02v2h-16.02zM96.12 306h16.02v2h-16.02zM112.13 240h16.02v2h-16.02zM128.15 187h16.02v2h-16.02zM144.17 205h16.02v1h-16.02zM160.19 208h16.02v1h-16.02zM192.23 227h16.02v3h-16.02zM208.25 234h16.02v1h-16.02zM224.27 220h16.02v2h-16.02zM224.27 231h16.02v1h-16.02zM224.27 237h16.02v1h-16.02zM272.33 274h16.02v2h-16.02zM272.33 277h16.02v1h-16.02zM272.33 286h16.02v2h-16.02zM272.33 294h16.02v2h-16.02zM336.4 300h16.02v2h-16.02zM336.4 320h16.02v2h-16.02zM352.42 325h16.02v1h-16.02zM384.46 358h16.02v1h-16.02zM384.46 368h16.02v2h-16.02zM384.46 376h16.02v2h-16.02zM400.48 320h16.02v2h-16.02z"/>
<path fill="#fcdbdb" d="M16.02 216h16.02v2h-16.02zM16.02 228h16.02v2h-16.02zM32.04 204h16.02v2h-16.02zM48.06 280h16.02v2h-16.02zM48.06 286h16.02v2h-16.02zM48.06 306h16.02v2h-16.02zM80.1 288h16.02v2h-16.02zM96.12 259h16.02v1h-16.02zM144.17 204h16.02v1h-16.02zM144.17 214h16.02v2h-16.02zM160.19 209h16.02v1h-16.02zM160.19 218h16.02v2h-16.02zM192.23 218h16.02v4h-16.02zM192.23 235h16.02v1h-16.02zM224.27 228h16.02v2h-16.02zM224.27 240h16.02v2h-16.02zM240.29 256h16.02v2h-16.02zM272.33 276h16.02v1h-16.02zM288.35 300h16.02v2h-16.02zM288.35 314h16.02v2h-16.02zM304.37 357h16.02v1h-16.02zM320.38 224h16.02v2h-16.02zM352.42 324h16.02v1h-16.02zM368.44 320h16.02v2h-16.02zM368.44 406h16.02v2h-16.02zM368.44 462h16.02v2h-16.02zM384.46 315h16.02v1h-16.02zM384.46 320h16.02v2h-16.02zM400.48 288h16.02v2h-16.02z"/>
<path fill="#fcc9c9" d="M16.02 218h16.02v2h-16.02zM96.12 262h16.02v1h-16.02zM96.12 288h16.02v4h-16.02zM96.12 294h16.02v2h-16.02zM176.21 211h16.02v1h-16.02zM208.25 218h16.02v2h-16.02zM240.29 234h16.02v1h-16.02zM288.35 366h16.02v2h-16.02zM304.37 308h16.02v1h-16.02zM320.38 206h16.02v2h-16.02zM352.42 214h16.02v2h-16.02zM368.44 352h16.02v1h-16.02zM384.46 240h16.02v2h-16.02zM384.46 300h16.02v2h-16.02zM384.46 328h16.02v1h-16.02zM400.48 294h16.02v2h-16.02z"/>
<path fill="#ffdbdb" d="M16.02 222h16.02v1h-16.02zM64.08 296h16.02v1h-16.02zM80.1 259h16.02v1h-16.02zM112.13 247h16.02v1h-16.02zM144.17 203h16.02v1h-16.02zM144.17 213h16.02v1h-16.02zM176.21 254h16.02v1h-16.02zM192.23 201h16.02v1h-16.02zM208.25 226h16.02v1h-16.02zM224.27 222h16.02v1h-16.02zM224.27 232h16.02v1h-16.02zM224.27 239h16.02v1h-16.02zM240.29 249h16.02v1h-16.02zM272.33 237h16.02v1h-16.02zM288.35 310h16.02v1h-16.02zM304.37 319h16.02v1h-16.02zM304.37 327h16.02v1h-16.02zM320.38 191h16.02v2h-16.02zM336.4 271h16.02v1h-16.02zM368.44 344h16.02v1h-16.02zM368.44 434h16.02v1h-16.02zM384.46 189h16.02v1h-16.02zM384.46 276h16.02v1h-16.02zM384.46 318h16.02v1h-16.02zM400.48 324h16.02v1h-16.02zM400.48 351h16.02v1h-16.02z"/>
<path fill="#f6cccc" d="M16.02 223h16.02v1h-16.02zM16.02 245h16.02v1h-16.02zM48.06 231h16.02v1h-16.02zM48.06 252h16.02v1h-16.02zM192.23 213h16.02v1h-16.02zM288.35 318h16.02v1h-16.02zM304.37 324h16.02v1h-16.02zM368.44 435h16.02v1h-16.02z"/>
<path fill="#ffe4e4" d="M16.02 231h16.02v1h-16.02zM32.04 239h16.02v1h-16.02zM48.06 262h16.02v1h-16.02zM64.08 276h16.02v1h-16.02zM80.1 292h16.02v1h-16.02zM96.12 310h16.02v1h-16.02zM160.19 205h16.02v1h-16.02zM176.21 242h16.02v1h-16.02zM192.23 230h16.02v1h-16.02zM192.23 238h16.02v1h-16.02zM192.23 249h16.02v1h-16.02zM240.29 252h16.02v1h-16.02zM240.29 265h16.02v1h-16.02zM272.33 262h16.02v1h-16.02zM288.35 351h16.02v1h-16.02zM304.37 303h16.02v1h-16.02zM304.37 332h16.02v1h-16.02zM304.37 339h16.02v1h-16.02zM304.37 362h16.02v1h-16.02zM304.37 442h16.02v1h-16.02zM320.38 209h16.02v1h-16.02zM352.42 278h16.02v1h-16.02zM368.44 386h16.02v1h-16.02zM368.44 437h16.02v1h-16.02zM384.46 285h16.02v1h-16.02zM384.46 325h16.02v2h-16.02zM384.46 331h16.02v1h-16.02zM384.46 342h16.02v1h-16.02zM400.48 338h16.02v1h-16.02zM400.48 353h16.02v1h-16.02z"/>
<path fill="#ffdede" d="M16.02 232h16.02v1h-16.02zM16.02 247h16.02v1h-16.02zM32.04 232h16.02v1h-16.02zM48.06 254h16.02v1h-16.02zM96.12 258h16.02v1h-16.02zM112.13 251h16.02v1h-16.02zM128.15 185h16.02v1h-16.02zM176.21 232h16.02v1h-16.02zM192.23 232h16.02v1h-16.02zM240.29 245h16.02v2h-16.02zM240.29 254h16.02v1h-16.02zM272.33 259h16.02v1h-16.02zM272.33 297h16.02v1h-16.02zM288.35 231h16.02v1h-16.02zM304.37 310h16.02v1h-16.02zM304.37 356h16.02v1h-16.02zM320.38 239h16.02v1h-16.02zM368.44 381h16.02v1h-16.02zM400.48 279h16.02v1h-16.02z"/>
<path fill="#e7b4b4" d="M16.02 233h16.02v1h-16.02z"/>
<path fill="#f3c3c3" d="M16.02 234h16.02v1h-16.02zM336.4 248h16.02v1h-16.02zM336.4 278h16.02v1h-16.02z"/>
<path fill="#f6e7e7" d="M16.02 237h16.02v1h-16.02zM112.13 263h16.02v1h-16.02zM304.37 404h16.02v1h-16.02zM336.4 317h16.02v1h-16.02z"/>
<path fill="#e1cfe1" d="M16.02 238h16.02v1h-16.02z"/>
<path fill="#eddbf0" d="M16.02 239h16.02v1h-16.02zM48.06 197h16.02v1h-16.02z"/>
<path fill="#fcd2d2" d="M16.02 240h16.02v2h-16.02zM48.06 228h16.02v2h-16.02zM64.08 300h16.02v2h-16.02zM80.1 274h16.02v2h-16.02zM96.12 278h16.02v1h-16.02zM176.21 220h16.02v2h-16.02zM272.33 282h16.02v2h-16.02zM288.35 224h16.02v2h-16.02zM288.35 272h16.02v2h-16.02zM288.35 288h16.02v2h-16.02zM288.35 329h16.02v1h-16.02zM304.37 306h16.02v2h-16.02zM304.37 342h16.02v1h-16.02zM336.4 250h16.02v1h-16.02zM352.42 294h16.02v2h-16.02zM368.44 302h16.02v1h-16.02zM384.46 304h16.02v2h-16.02zM400.48 286h16.02v2h-16.02zM400.48 334h16.02v2h-16.02z"/>
<path fill="#f9d5d5" d="M16.02 242h16.02v1h-16.02zM192.23 242h16.02v1h-16.02zM224.27 238h16.02v1h-16.02zM272.33 270h16.02v1h-16.02zM336.4 342h16.02v1h-16.02zM384.46 319h16.02v1h-16.02zM400.48 325h16.02v1h-16.02z"/>
<path fill="#ffd8d8" d="M16.02 243h16.02v2h-16.02zM32.04 208h16.02v1h-16.02zM48.06 230h16.02v1h-16.02zM48.06 234h16.02v1h-16.02zM64.08 270h16.02v1h-16.02zM80.1 285h16.02v1h-16.02zM96.12 267h16.02v1h-16.02zM192.23 246h16.02v1h-16.02zM224.27 209h16.02v1h-16.02zM256.31 183h16.02v1h-16.02zM272.33 209h16.02v1h-16.02zM272.33 271h16.02v1h-16.02zM272.33 285h16.02v1h-16.02zM288.35 232h16.02v1h-16.02zM288.35 319h16.02v1h-16.02zM320.38 201h16.02v1h-16.02zM336.4 343h16.02v1h-16.02zM352.42 236h16.02v1h-16.02zM384.46 181h16.02v1h-16.02z"/>
<path fill="#f3cccc" d="M16.02 246h16.02v1h-16.02zM80.1 258h16.02v1h-16.02zM288.35 311h16.02v1h-16.02z"/>
<path fill="#f0dbdb" d="M16.02 250h16.02v1h-16.02zM32.04 242h16.02v1h-16.02zM304.37 317h16.02v1h-16.02z"/>
<path fill="#f9f0f6" d="M16.02 252h16.02v1h-16.02zM80.1 362h16.02v1h-16.02zM96.12 362h16.02v1h-16.02zM96.12 386h16.02v1h-16.02zM288.35 404h16.02v1h-16.02zM320.38 266h16.02v1h-16.02zM336.4 408h16.02v1h-16.02zM352.42 355h16.02v1h-16.02zM368.44 438h16.02v3h-16.02z"/>
<path fill="#f6eaf0" d="M16.02 253h16.02v1h-16.02zM32.04 297h16.02v1h-16.02zM64.08 267h16.02v1h-16.02zM176.21 266h16.02v1h-16.02zM192.23 265h16.02v1h-16.02zM304.37 427h16.02v1h-16.02zM320.38 210h16.02v1h-16.02zM368.44 441h16.02v1h-16.02zM368.44 477h16.02v2h-16.02zM400.48 408h16.02v1h-16.02z"/>
<path fill="#f6c6c6" d="M16.02 254h16.02v1h-16.02zM96.12 273h16.02v1h-16.02zM176.21 227h16.02v1h-16.02zM240.29 222h16.02v1h-16.02zM240.29 233h16.02v1h-16.02zM336.4 265h16.02v2h-16.02zM352.42 263h16.02v1h-16.02zM384.46 261h16.02v1h-16.02z"/>
<path fill="#f6edf0" d="M16.02 260h16.02v1h-16.02zM80.1 299h16.02v1h-16.02zM240.29 297h16.02v1h-16.02zM336.4 345h16.02v1h-16.02zM368.44 423h16.02v1h-16.02zM368.44 455h16.02v1h-16.02zM368.44 481h16.02v1h-16.02zM384.46 370h16.02v1h-16.02zM400.48 380h16.02v1h-16.02z"/>
<path fill="#fff9f9" d="M16.02 261h16.02v2h-16.02zM16.02 290h16.02v2h-16.02zM16.02 296h16.02v1h-16.02zM16.02 330h16.02v1h-16.02zM32.04 244h16.02v1h-16.02zM32.04 252h16.02v1h-16.02zM32.04 280h16.02v2h-16.02zM64.08 309h16.02v1h-16.02zM64.08 327h16.02v1h-16.02zM80.1 298h16.02v1h-16.02zM96.12 320h16.02v2h-16.02zM96.12 334h16.02v2h-16.02zM96.12 357h16.02v1h-16.02zM96.12 381h16.02v1h-16.02zM112.13 285h16.02v1h-16.02zM112.13 294h16.02v2h-16.02zM128.15 218h16.02v2h-16.02zM144.17 244h16.02v1h-16.02zM160.19 245h16.02v1h-16.02zM192.23 267h16.02v1h-16.02zM208.25 211h16.02v1h-16.02zM208.25 233h16.02v1h-16.02zM240.29 236h16.02v1h-16.02zM240.29 296h16.02v1h-16.02zM272.33 300h16.02v2h-16.02zM272.33 303h16.02v1h-16.02zM272.33 309h16.02v1h-16.02zM272.33 328h16.02v1h-16.02zM288.35 316h16.02v1h-16.02zM288.35 357h16.02v1h-16.02zM288.35 376h16.02v2h-16.02zM288.35 389h16.02v1h-16.02zM288.35 434h16.02v1h-16.02zM288.35 442h16.02v2h-16.02zM288.35 482h16.02v1h-16.02zM304.37 316h16.02v1h-16.02zM304.37 379h16.02v1h-16.02zM304.37 452h16.02v1h-16.02zM304.37 475h16.02v1h-16.02zM320.38 254h16.02v1h-16.02zM336.4 313h16.02v1h-16.02zM336.4 352h16.02v1h-16.02zM352.42 319h16.02v1h-16.02zM352.42 332h16.02v1h-16.02zM352.42 346h16.02v1h-16.02zM352.42 368h16.02v2h-16.02zM352.42 462h16.02v2h-16.02zM368.44 371h16.02v1h-16.02zM368.44 391h16.02v1h-16.02zM368.44 448h16.02v1h-16.02zM368.44 496h16.02v1h-16.02zM368.44 505h16.02v1h-16.02zM368.44 520h16.02v1h-16.02zM368.44 534h16.02v2h-16.02zM368.44 539h16.02v1h-16.02zM384.46 294h16.02v2h-16.02zM384.46 338h16.02v1h-16.02zM384.46 351h16.02v2h-16.02zM384.46 437h16.02v1h-16.02zM384.46 460h16.02v1h-16.02zM384.46 462h16.02v2h-16.02zM400.48 316h16.02v1h-16.02zM400.48 386h16.02v1h-16.02zM400.48 397h16.02v1h-16.02z"/>
<path fill="#f0e1e4" d="M16.02 266h16.02v1h-16.02zM112.13 271h16.02v1h-16.02zM352.42 299h16.02v1h-16.02zM368.44 500h16.02v1h-16.02z"/>
<path fill="#fff3f6" d="M16.02 267h16.02v1h-16.02zM32.04 296h16.02v1h-16.02zM112.13 270h16.02v1h-16.02zM176.21 251h16.02v1h-16.02zM192.23 272h16.02v1h-16.02zM272.33 363h16.02v1h-16.02zM304.37 352h16.02v1h-16.02zM304.37 440h16.02v1h-16.02zM352.42 298h16.02v1h-16.02zM368.44 359h16.02v1h-16.02zM368.44 479h16.02v1h-16.02zM368.44 501h16.02v1h-16.02zM400.48 348h16.02v1h-16.02z"/>
<path fill="#fceded" d="M16.02 273h16.02v1h-16.02zM48.06 258h16.02v1h-16.02zM64.08 302h16.02v1h-16.02zM80.1 309h16.02v1h-16.02zM80.1 343h16.02v1h-16.02zM112.13 278h16.02v1h-16.02zM144.17 230h16.02v1h-16.02zM288.35 324h16.02v1h-16.02zM288.35 371h16.02v1h-16.02zM304.37 389h16.02v1h-16.02zM320.38 246h16.02v1h-16.02zM368.44 382h16.02v1h-16.02zM368.44 401h16.02v1h-16.02zM368.44 456h16.02v1h-16.02zM384.46 357h16.02v1h-16.02zM384.46 408h16.02v1h-16.02z"/>
<path fill="#fcf3f3" d="M16.02 277h16.02v1h-16.02zM64.08 308h16.02v1h-16.02zM288.35 435h16.02v1h-16.02zM288.35 483h16.02v1h-16.02zM304.37 378h16.02v1h-16.02zM368.44 504h16.02v1h-16.02z"/>
<path fill="#ededf9" d="M16.02 279h16.02v1h-16.02zM16.02 293h16.02v1h-16.02zM16.02 319h16.02v1h-16.02zM48.06 332h16.02v1h-16.02zM112.13 325h16.02v1h-16.02zM192.23 297h16.02v1h-16.02zM192.23 404h16.02v1h-16.02zM288.35 447h16.02v1h-16.02zM384.46 378h16.02v1h-16.02zM400.48 480h16.02v1h-16.02zM400.48 538h16.02v1h-16.02z"/>
<path fill="#f9f3f9" d="M16.02 285h16.02v1h-16.02zM32.04 236h16.02v1h-16.02zM64.08 351h16.02v1h-16.02zM96.12 358h16.02v1h-16.02zM112.13 342h16.02v1h-16.02zM160.19 239h16.02v1h-16.02zM176.21 343h16.02v1h-16.02zM208.25 270h16.02v1h-16.02zM240.29 184h16.02v1h-16.02zM272.33 330h16.02v2h-16.02zM288.35 436h16.02v1h-16.02zM304.37 397h16.02v1h-16.02zM304.37 418h16.02v1h-16.02zM352.42 317h16.02v1h-16.02zM384.46 386h16.02v2h-16.02zM384.46 399h16.02v1h-16.02zM400.48 399h16.02v1h-16.02z"/>
<path fill="#f9f0f0" d="M16.02 297h16.02v1h-16.02zM96.12 353h16.02v1h-16.02zM128.15 197h16.02v1h-16.02zM144.17 245h16.02v1h-16.02zM160.19 244h16.02v1h-16.02zM224.27 260h16.02v1h-16.02zM272.33 324h16.02v1h-16.02zM288.35 340h16.02v1h-16.02zM288.35 388h16.02v1h-16.02zM320.38 255h16.02v1h-16.02zM352.42 339h16.02v1h-16.02zM352.42 356h16.02v1h-16.02zM368.44 402h16.02v1h-16.02zM384.46 538h16.02v1h-16.02zM400.48 387h16.02v1h-16.02z"/>
<path fill="#e4e4f6" d="M16.02 298h16.02v1h-16.02zM16.02 303h16.02v1h-16.02zM80.1 509h16.02v1h-16.02zM176.21 432h16.02v1h-16.02zM192.23 358h16.02v1h-16.02zM288.35 500h16.02v1h-16.02zM336.4 404h16.02v1h-16.02zM336.4 539h16.02v1h-16.02z"/>
<path fill="#cccce7" d="M16.02 309h16.02v1h-16.02zM64.08 426h16.02v1h-16.02zM96.12 422h16.02v1h-16.02zM400.48 412h16.02v1h-16.02z"/>
<path fill="#b7b7ea" d="M16.02 316h16.02v1h-16.02zM144.17 353h16.02v1h-16.02zM176.21 381h16.02v1h-16.02zM336.4 479h16.02v1h-16.02z"/>
<path fill="#e7e7f9" d="M16.02 322h16.02v1h-16.02zM48.06 391h16.02v1h-16.02zM112.13 379h16.02v1h-16.02zM112.13 390h16.02v1h-16.02zM224.27 322h16.02v1h-16.02zM304.37 478h16.02v1h-16.02zM304.37 539h16.02v1h-16.02zM336.4 455h16.02v1h-16.02zM352.42 409h16.02v1h-16.02zM352.42 434h16.02v1h-16.02z"/>
<path fill="#9999d8" d="M16.02 325h16.02v1h-16.02zM128.15 258h16.02v1h-16.02zM208.25 372h16.02v1h-16.02zM304.37 509h16.02v1h-16.02z"/>
<path fill="#9c99c9" d="M16.02 326h16.02v1h-16.02z"/>
<path fill="#f6f3ff" d="M16.02 327h16.02v1h-16.02zM64.08 398h16.02v1h-16.02zM112.13 418h16.02v1h-16.02zM160.19 442h16.02v1h-16.02zM208.25 528h16.02v1h-16.02zM288.35 432h16.02v1h-16.02zM384.46 410h16.02v1h-16.02z"/>
<path fill="#e1deed" d="M16.02 328h16.02v1h-16.02zM16.02 397h16.02v1h-16.02zM64.08 316h16.02v1h-16.02zM288.35 515h16.02v1h-16.02zM336.4 403h16.02v1h-16.02zM384.46 475h16.02v1h-16.02z"/>
<path fill="#d5cfe4" d="M16.02 332h16.02v1h-16.02zM64.08 419h16.02v1h-16.02zM96.12 299h16.02v1h-16.02z"/>
<path fill="#f6f0ff" d="M16.02 333h16.02v1h-16.02zM80.1 451h16.02v1h-16.02zM96.12 322h16.02v1h-16.02zM144.17 254h16.02v1h-16.02zM240.29 408h16.02v1h-16.02zM272.33 319h16.02v1h-16.02zM384.46 413h16.02v1h-16.02z"/>
<path fill="#e1e1fc" d="M16.02 334h16.02v2h-16.02zM32.04 306h16.02v2h-16.02zM48.06 346h16.02v1h-16.02zM64.08 394h16.02v2h-16.02zM64.08 468h16.02v2h-16.02zM80.1 374h16.02v2h-16.02zM80.1 448h16.02v2h-16.02zM80.1 550h16.02v1h-16.02zM96.12 468h16.02v2h-16.02zM96.12 490h16.02v2h-16.02zM96.12 550h16.02v1h-16.02zM112.13 306h16.02v2h-16.02zM112.13 372h16.02v2h-16.02zM128.15 280h16.02v2h-16.02zM144.17 304h16.02v2h-16.02zM144.17 394h16.02v2h-16.02zM160.19 258h16.02v1h-16.02zM176.21 290h16.02v2h-16.02zM176.21 442h16.02v2h-16.02zM192.23 286h16.02v2h-16.02zM208.25 274h16.02v2h-16.02zM224.27 268h16.02v2h-16.02zM240.29 464h16.02v2h-16.02zM240.29 479h16.02v3h-16.02zM240.29 488h16.02v2h-16.02zM272.33 368h16.02v2h-16.02zM272.33 423h16.02v1h-16.02zM288.35 544h16.02v2h-16.02zM304.37 492h16.02v2h-16.02zM320.38 288h16.02v4h-16.02zM320.38 304h16.02v2h-16.02zM336.4 419h16.02v1h-16.02zM352.42 256h16.02v2h-16.02zM352.42 488h16.02v2h-16.02zM400.48 468h16.02v2h-16.02z"/>
<path fill="#8484f3" d="M16.02 336h16.02v2h-16.02zM144.17 282h16.02v2h-16.02zM160.19 304h16.02v2h-16.02zM160.19 376h16.02v2h-16.02zM160.19 472h16.02v2h-16.02zM208.25 472h16.02v2h-16.02zM224.27 482h16.02v2h-16.02z"/>
<path fill="#d5d5f3" d="M16.02 341h16.02v1h-16.02zM32.04 316h16.02v1h-16.02zM32.04 322h16.02v1h-16.02zM48.06 451h16.02v1h-16.02zM64.08 526h16.02v1h-16.02zM144.17 308h16.02v1h-16.02zM144.17 380h16.02v1h-16.02zM176.21 303h16.02v1h-16.02zM176.21 409h16.02v1h-16.02zM240.29 351h16.02v2h-16.02zM240.29 390h16.02v1h-16.02zM240.29 440h16.02v1h-16.02zM256.31 263h16.02v1h-16.02zM288.35 505h16.02v1h-16.02zM304.37 535h16.02v1h-16.02zM320.38 330h16.02v1h-16.02zM352.42 383h16.02v1h-16.02zM352.42 439h16.02v1h-16.02zM384.46 532h16.02v1h-16.02z"/>
<path fill="#f9f0fc" d="M16.02 342h16.02v1h-16.02zM64.08 333h16.02v1h-16.02zM272.33 317h16.02v1h-16.02z"/>
<path fill="#ede7f0" d="M16.02 343h16.02v1h-16.02zM80.1 416h16.02v1h-16.02zM272.33 316h16.02v1h-16.02zM320.38 296h16.02v1h-16.02z"/>
<path fill="#9f9fe1" d="M16.02 345h16.02v1h-16.02zM16.02 513h16.02v1h-16.02zM32.04 447h16.02v1h-16.02zM176.21 357h16.02v1h-16.02zM192.23 388h16.02v1h-16.02zM192.23 498h16.02v1h-16.02zM224.27 371h16.02v1h-16.02z"/>
<path fill="#9f9fd2" d="M16.02 346h16.02v1h-16.02z"/>
<path fill="#d2d2f6" d="M16.02 349h16.02v1h-16.02zM80.1 425h16.02v1h-16.02zM80.1 478h16.02v1h-16.02zM144.17 270h16.02v1h-16.02zM176.21 355h16.02v1h-16.02zM192.23 384h16.02v1h-16.02zM208.25 324h16.02v1h-16.02zM208.25 328h16.02v1h-16.02zM224.27 399h16.02v1h-16.02zM224.27 444h16.02v1h-16.02zM256.31 308h16.02v1h-16.02zM320.38 303h16.02v1h-16.02zM336.4 422h16.02v1h-16.02zM352.42 449h16.02v1h-16.02z"/>
<path fill="#d2d2ed" d="M16.02 350h16.02v1h-16.02zM128.15 227h16.02v1h-16.02zM240.29 413h16.02v1h-16.02z"/>
<path fill="#eaeaf9" d="M16.02 353h16.02v1h-16.02zM64.08 315h16.02v1h-16.02zM64.08 386h16.02v1h-16.02zM128.15 239h16.02v1h-16.02zM208.25 262h16.02v1h-16.02zM240.29 418h16.02v1h-16.02zM288.35 444h16.02v1h-16.02z"/>
<path fill="#c6c6e7" d="M16.02 355h16.02v1h-16.02zM48.06 482h16.02v1h-16.02zM64.08 359h16.02v1h-16.02zM64.08 422h16.02v1h-16.02zM96.12 495h16.02v1h-16.02zM176.21 313h16.02v1h-16.02z"/>
<path fill="#9999ed" d="M16.02 358h16.02v1h-16.02zM208.25 440h16.02v1h-16.02zM352.42 506h16.02v1h-16.02z"/>
<path fill="#cfcfe4" d="M16.02 363h16.02v1h-16.02z"/>
<path fill="#c9c9f3" d="M16.02 364h16.02v1h-16.02zM32.04 484h16.02v1h-16.02zM48.06 534h16.02v1h-16.02zM128.15 252h16.02v1h-16.02zM176.21 447h16.02v2h-16.02zM208.25 303h16.02v1h-16.02zM240.29 414h16.02v1h-16.02zM336.4 373h16.02v1h-16.02z"/>
<path fill="#aeaee7" d="M16.02 371h16.02v1h-16.02zM80.1 535h16.02v1h-16.02zM272.33 514h16.02v1h-16.02zM336.4 506h16.02v1h-16.02z"/>
<path fill="#b1b1de" d="M16.02 372h16.02v1h-16.02zM64.08 434h16.02v1h-16.02zM64.08 539h16.02v1h-16.02zM160.19 342h16.02v1h-16.02zM192.23 515h16.02v2h-16.02zM240.29 316h16.02v1h-16.02zM320.38 263h16.02v1h-16.02zM336.4 505h16.02v1h-16.02z"/>
<path fill="#c0c0f9" d="M16.02 376h16.02v2h-16.02zM32.04 256h16.02v2h-16.02zM32.04 488h16.02v2h-16.02zM48.06 392h16.02v2h-16.02zM48.06 492h16.02v2h-16.02zM112.13 464h16.02v2h-16.02zM128.15 290h16.02v2h-16.02zM144.17 392h16.02v2h-16.02zM144.17 524h16.02v2h-16.02zM176.21 488h16.02v2h-16.02zM192.23 544h16.02v2h-16.02zM208.25 392h16.02v2h-16.02zM224.27 406h16.02v2h-16.02zM224.27 532h16.02v2h-16.02zM240.29 544h16.02v2h-16.02zM256.31 360h16.02v2h-16.02zM256.31 406h16.02v2h-16.02zM272.33 464h16.02v2h-16.02zM352.42 468h16.02v2h-16.02zM400.48 466h16.02v2h-16.02zM400.48 524h16.02v2h-16.02z"/>
<path fill="#e1e1f6" d="M16.02 378h16.02v1h-16.02zM16.02 449h16.02v1h-16.02zM48.06 350h16.02v1h-16.02zM80.1 499h16.02v1h-16.02zM112.13 371h16.02v1h-16.02zM144.17 258h16.02v1h-16.02zM144.17 264h16.02v1h-16.02zM176.21 512h16.02v1h-16.02zM224.27 350h16.02v1h-16.02zM240.29 482h16.02v1h-16.02zM240.29 541h16.02v1h-16.02zM256.31 231h16.02v1h-16.02z"/>
<path fill="#a2a2e4" d="M16.02 381h16.02v1h-16.02zM192.23 501h16.02v2h-16.02zM224.27 510h16.02v1h-16.02z"/>
<path fill="#b1b1f6" d="M16.02 382h16.02v1h-16.02zM16.02 462h16.02v2h-16.02zM16.02 476h16.02v2h-16.02zM16.02 530h16.02v2h-16.02zM32.04 426h16.02v2h-16.02zM112.13 441h16.02v1h-16.02zM112.13 530h16.02v2h-16.02zM144.17 290h16.02v2h-16.02zM176.21 360h16.02v2h-16.02zM176.21 550h16.02v1h-16.02zM192.23 334h16.02v2h-16.02zM192.23 546h16.02v4h-16.02zM208.25 490h16.02v2h-16.02zM208.25 530h16.02v2h-16.02zM208.25 544h16.02v2h-16.02zM256.31 304h16.02v2h-16.02zM256.31 428h16.02v2h-16.02zM320.38 458h16.02v2h-16.02zM320.38 492h16.02v2h-16.02z"/>
<path fill="#b4b4f9" d="M16.02 383h16.02v1h-16.02zM16.02 479h16.02v1h-16.02zM208.25 526h16.02v1h-16.02zM336.4 356h16.02v1h-16.02z"/>
<path fill="#b7b7f0" d="M16.02 384h16.02v1h-16.02zM16.02 480h16.02v1h-16.02zM224.27 457h16.02v1h-16.02zM352.42 477h16.02v1h-16.02z"/>
<path fill="#c9c9ea" d="M16.02 386h16.02v1h-16.02zM176.21 434h16.02v1h-16.02zM272.33 372h16.02v1h-16.02zM336.4 379h16.02v1h-16.02zM400.48 432h16.02v1h-16.02z"/>
<path fill="#8d8dde" d="M16.02 388h16.02v1h-16.02z"/>
<path fill="#b1b1ea" d="M16.02 391h16.02v1h-16.02zM64.08 403h16.02v1h-16.02zM128.15 234h16.02v1h-16.02z"/>
<path fill="#ccccf9" d="M16.02 392h16.02v2h-16.02zM48.06 542h16.02v2h-16.02zM64.08 550h16.02v1h-16.02zM96.12 511h16.02v1h-16.02zM128.15 243h16.02v1h-16.02zM144.17 306h16.02v2h-16.02zM144.17 368h16.02v2h-16.02zM176.21 352h16.02v2h-16.02zM176.21 428h16.02v2h-16.02zM192.23 368h16.02v2h-16.02zM192.23 428h16.02v2h-16.02zM192.23 438h16.02v4h-16.02zM192.23 521h16.02v1h-16.02zM208.25 294h16.02v2h-16.02zM224.27 288h16.02v4h-16.02zM224.27 318h16.02v1h-16.02zM224.27 490h16.02v2h-16.02zM240.29 320h16.02v2h-16.02zM240.29 398h16.02v4h-16.02zM272.33 530h16.02v2h-16.02zM320.38 392h16.02v2h-16.02zM320.38 468h16.02v2h-16.02zM352.42 548h16.02v2h-16.02z"/>
<path fill="#b1b1fc" d="M16.02 400h16.02v1h-16.02zM32.04 365h16.02v1h-16.02zM32.04 520h16.02v1h-16.02zM128.15 322h16.02v1h-16.02zM144.17 425h16.02v1h-16.02zM144.17 527h16.02v1h-16.02zM208.25 426h16.02v1h-16.02zM320.38 357h16.02v1h-16.02z"/>
<path fill="#a8a8f0" d="M16.02 401h16.02v2h-16.02zM32.04 355h16.02v1h-16.02zM48.06 447h16.02v1h-16.02zM112.13 446h16.02v1h-16.02zM112.13 508h16.02v1h-16.02zM208.25 453h16.02v1h-16.02zM272.33 517h16.02v1h-16.02zM336.4 495h16.02v1h-16.02z"/>
<path fill="#b4b4fc" d="M16.02 403h16.02v1h-16.02zM48.06 446h16.02v1h-16.02zM128.15 276h16.02v1h-16.02zM208.25 452h16.02v1h-16.02zM272.33 516h16.02v1h-16.02zM336.4 494h16.02v1h-16.02z"/>
<path fill="#aeaeea" d="M16.02 409h16.02v1h-16.02zM48.06 487h16.02v1h-16.02zM80.1 536h16.02v1h-16.02zM160.19 299h16.02v1h-16.02zM192.23 341h16.02v1h-16.02zM320.38 482h16.02v1h-16.02z"/>
<path fill="#6f6fd8" d="M16.02 411h16.02v1h-16.02zM144.17 411h16.02v1h-16.02zM144.17 438h16.02v1h-16.02zM160.19 391h16.02v1h-16.02z"/>
<path fill="#7272c9" d="M16.02 412h16.02v1h-16.02zM32.04 444h16.02v1h-16.02zM112.13 515h16.02v1h-16.02z"/>
<path fill="#c6c6f0" d="M16.02 414h16.02v1h-16.02zM16.02 482h16.02v1h-16.02zM112.13 512h16.02v1h-16.02zM192.23 512h16.02v1h-16.02zM336.4 441h16.02v1h-16.02zM336.4 476h16.02v1h-16.02z"/>
<path fill="#7878c6" d="M16.02 417h16.02v1h-16.02zM32.04 371h16.02v1h-16.02z"/>
<path fill="#9393de" d="M16.02 421h16.02v1h-16.02zM32.04 385h16.02v1h-16.02zM176.21 480h16.02v1h-16.02zM176.21 505h16.02v1h-16.02zM192.23 431h16.02v1h-16.02z"/>
<path fill="#9393e7" d="M16.02 422h16.02v1h-16.02zM32.04 386h16.02v1h-16.02zM128.15 293h16.02v1h-16.02zM256.31 342h16.02v1h-16.02zM256.31 509h16.02v1h-16.02z"/>
<path fill="#ccccf3" d="M16.02 424h16.02v1h-16.02zM80.1 481h16.02v2h-16.02zM96.12 512h16.02v1h-16.02zM96.12 526h16.02v1h-16.02zM160.19 302h16.02v1h-16.02zM176.21 451h16.02v1h-16.02zM208.25 308h16.02v1h-16.02zM240.29 364h16.02v1h-16.02zM272.33 430h16.02v1h-16.02zM336.4 533h16.02v1h-16.02zM352.42 540h16.02v1h-16.02z"/>
<path fill="#cfcff9" d="M16.02 428h16.02v2h-16.02zM16.02 488h16.02v2h-16.02zM32.04 224h16.02v2h-16.02zM32.04 376h16.02v2h-16.02zM32.04 428h16.02v2h-16.02zM48.06 456h16.02v1h-16.02zM64.08 458h16.02v2h-16.02zM64.08 464h16.02v2h-16.02zM96.12 268h16.02v2h-16.02zM96.12 472h16.02v2h-16.02zM160.19 300h16.02v2h-16.02zM176.21 276h16.02v1h-16.02zM192.23 382h16.02v2h-16.02zM192.23 492h16.02v2h-16.02zM224.27 366h16.02v4h-16.02zM224.27 544h16.02v2h-16.02zM272.33 468h16.02v2h-16.02zM272.33 540h16.02v2h-16.02zM304.37 466h16.02v2h-16.02zM336.4 406h16.02v2h-16.02zM336.4 458h16.02v2h-16.02zM336.4 517h16.02v1h-16.02zM352.42 464h16.02v2h-16.02zM368.44 458h16.02v2h-16.02zM384.46 488h16.02v2h-16.02zM384.46 492h16.02v2h-16.02zM400.48 366h16.02v2h-16.02zM400.48 374h16.02v2h-16.02z"/>
<path fill="#8d8de1" d="M16.02 432h16.02v1h-16.02zM48.06 515h16.02v1h-16.02zM128.15 272h16.02v1h-16.02zM256.31 482h16.02v1h-16.02z"/>
<path fill="#c0c0ea" d="M16.02 437h16.02v1h-16.02zM80.1 446h16.02v1h-16.02zM240.29 345h16.02v1h-16.02zM240.29 487h16.02v1h-16.02zM256.31 372h16.02v1h-16.02zM256.31 380h16.02v1h-16.02zM288.35 529h16.02v1h-16.02z"/>
<path fill="#babaf3" d="M16.02 438h16.02v1h-16.02zM32.04 443h16.02v1h-16.02zM96.12 471h16.02v1h-16.02zM96.12 514h16.02v1h-16.02zM320.38 382h16.02v1h-16.02z"/>
<path fill="#cfcffc" d="M16.02 441h16.02v1h-16.02zM96.12 510h16.02v1h-16.02zM128.15 242h16.02v1h-16.02zM128.15 245h16.02v1h-16.02zM160.19 292h16.02v1h-16.02zM160.19 538h16.02v1h-16.02zM192.23 520h16.02v1h-16.02zM208.25 483h16.02v1h-16.02zM224.27 319h16.02v1h-16.02zM336.4 445h16.02v2h-16.02z"/>
<path fill="#c6c6e4" d="M16.02 442h16.02v1h-16.02zM32.04 310h16.02v1h-16.02zM96.12 388h16.02v1h-16.02zM176.21 332h16.02v1h-16.02zM240.29 354h16.02v1h-16.02zM304.37 424h16.02v1h-16.02zM400.48 486h16.02v1h-16.02z"/>
<path fill="#c0c0e4" d="M16.02 446h16.02v1h-16.02zM32.04 502h16.02v1h-16.02zM80.1 494h16.02v1h-16.02zM96.12 485h16.02v1h-16.02zM240.29 526h16.02v1h-16.02z"/>
<path fill="#c0c0f0" d="M16.02 450h16.02v1h-16.02zM48.06 419h16.02v1h-16.02zM48.06 421h16.02v1h-16.02zM64.08 365h16.02v1h-16.02zM64.08 412h16.02v1h-16.02zM144.17 285h16.02v1h-16.02zM160.19 309h16.02v1h-16.02zM192.23 401h16.02v2h-16.02zM192.23 471h16.02v1h-16.02zM256.31 398h16.02v1h-16.02zM272.33 396h16.02v1h-16.02zM320.38 308h16.02v1h-16.02zM352.42 515h16.02v1h-16.02z"/>
<path fill="#b1b1f9" d="M16.02 453h16.02v1h-16.02zM32.04 411h16.02v1h-16.02zM240.29 537h16.02v1h-16.02zM256.31 503h16.02v1h-16.02zM320.38 400h16.02v1h-16.02zM320.38 538h16.02v1h-16.02z"/>
<path fill="#9090e4" d="M16.02 455h16.02v1h-16.02zM320.38 503h16.02v1h-16.02z"/>
<path fill="#8d8df0" d="M16.02 456h16.02v1h-16.02zM32.04 400h16.02v1h-16.02z"/>
<path fill="#9696f9" d="M16.02 457h16.02v1h-16.02z"/>
<path fill="#9696f3" d="M16.02 458h16.02v2h-16.02zM32.04 538h16.02v2h-16.02zM32.04 542h16.02v2h-16.02zM48.06 488h16.02v2h-16.02zM112.13 488h16.02v2h-16.02zM224.27 336h16.02v2h-16.02zM256.31 194h16.02v2h-16.02z"/>
<path fill="#6f6fc3" d="M16.02 461h16.02v1h-16.02zM192.23 397h16.02v1h-16.02zM208.25 539h16.02v1h-16.02z"/>
<path fill="#5d5dba" d="M16.02 471h16.02v1h-16.02z"/>
<path fill="#babaed" d="M16.02 474h16.02v1h-16.02zM144.17 384h16.02v1h-16.02zM144.17 480h16.02v1h-16.02zM176.21 474h16.02v1h-16.02zM176.21 501h16.02v1h-16.02zM224.27 338h16.02v1h-16.02zM272.33 475h16.02v1h-16.02zM352.42 536h16.02v1h-16.02z"/>
<path fill="#9393ea" d="M16.02 484h16.02v1h-16.02zM32.04 402h16.02v1h-16.02zM320.38 435h16.02v1h-16.02z"/>
<path fill="#a8a8f9" d="M16.02 486h16.02v1h-16.02zM16.02 528h16.02v1h-16.02zM32.04 435h16.02v1h-16.02zM64.08 417h16.02v1h-16.02zM64.08 451h16.02v1h-16.02zM208.25 520h16.02v1h-16.02z"/>
<path fill="#9f9ff0" d="M16.02 487h16.02v1h-16.02zM64.08 450h16.02v1h-16.02zM224.27 420h16.02v1h-16.02z"/>
<path fill="#9090f3" d="M16.02 490h16.02v2h-16.02zM128.15 282h16.02v2h-16.02zM128.15 334h16.02v2h-16.02zM144.17 544h16.02v2h-16.02zM208.25 488h16.02v2h-16.02zM256.31 320h16.02v2h-16.02zM256.31 472h16.02v2h-16.02z"/>
<path fill="#7272c0" d="M16.02 495h16.02v1h-16.02zM256.31 359h16.02v1h-16.02z"/>
<path fill="#6f6fd2" d="M16.02 496h16.02v1h-16.02z"/>
<path fill="#9f9fde" d="M16.02 499h16.02v1h-16.02zM64.08 439h16.02v1h-16.02z"/>
<path fill="#a2a2cf" d="M16.02 500h16.02v1h-16.02zM352.42 373h16.02v1h-16.02zM368.44 518h16.02v1h-16.02z"/>
<path fill="#8787c0" d="M16.02 503h16.02v1h-16.02z"/>
<path fill="#ababe7" d="M16.02 506h16.02v1h-16.02zM48.06 400h16.02v1h-16.02zM112.13 520h16.02v1h-16.02zM128.15 309h16.02v1h-16.02zM144.17 403h16.02v1h-16.02zM160.19 386h16.02v1h-16.02z"/>
<path fill="#a8a8e4" d="M16.02 508h16.02v1h-16.02zM176.21 411h16.02v1h-16.02zM224.27 526h16.02v1h-16.02zM288.35 477h16.02v1h-16.02zM352.42 431h16.02v1h-16.02z"/>
<path fill="#ababea" d="M16.02 510h16.02v1h-16.02zM64.08 431h16.02v1h-16.02zM224.27 433h16.02v1h-16.02z"/>
<path fill="#9393f6" d="M16.02 516h16.02v1h-16.02zM32.04 401h16.02v1h-16.02z"/>
<path fill="#9090f0" d="M16.02 517h16.02v1h-16.02zM128.15 330h16.02v1h-16.02z"/>
<path fill="#2d2dc0" d="M16.02 518h16.02v1h-16.02z"/>
<path fill="#8a8aff" d="M16.02 519h16.02v1h-16.02zM48.06 507h16.02v1h-16.02zM128.15 390h16.02v1h-16.02zM128.15 477h16.02v1h-16.02zM208.25 516h16.02v1h-16.02zM224.27 486h16.02v1h-16.02z"/>
<path fill="#9393d2" d="M16.02 520h16.02v1h-16.02zM64.08 479h16.02v1h-16.02zM256.31 344h16.02v1h-16.02z"/>
<path fill="#c3c3ed" d="M16.02 523h16.02v1h-16.02zM352.42 498h16.02v1h-16.02zM400.48 506h16.02v1h-16.02zM400.48 526h16.02v1h-16.02z"/>
<path fill="#8181f3" d="M16.02 524h16.02v2h-16.02zM32.04 392h16.02v2h-16.02zM32.04 550h16.02v1h-16.02zM128.15 360h16.02v2h-16.02zM128.15 394h16.02v2h-16.02zM160.19 488h16.02v2h-16.02zM224.27 520h16.02v1h-16.02zM272.33 488h16.02v2h-16.02zM320.38 544h16.02v2h-16.02z"/>
<path fill="#b4b4e7" d="M16.02 533h16.02v1h-16.02zM128.15 251h16.02v1h-16.02zM144.17 540h16.02v1h-16.02zM192.23 414h16.02v1h-16.02zM256.31 272h16.02v1h-16.02zM320.38 315h16.02v1h-16.02zM400.48 523h16.02v1h-16.02z"/>
<path fill="#b4b4ed" d="M16.02 535h16.02v1h-16.02zM32.04 396h16.02v1h-16.02zM48.06 484h16.02v1h-16.02zM64.08 502h16.02v1h-16.02zM144.17 314h16.02v1h-16.02zM144.17 539h16.02v1h-16.02zM240.29 403h16.02v1h-16.02zM272.33 484h16.02v1h-16.02z"/>
<path fill="#a8a8ea" d="M16.02 539h16.02v1h-16.02zM32.04 418h16.02v1h-16.02zM64.08 471h16.02v1h-16.02zM208.25 347h16.02v1h-16.02zM320.38 381h16.02v1h-16.02z"/>
<path fill="#6060ed" d="M16.02 546h16.02v2h-16.02zM256.31 468h16.02v2h-16.02zM320.38 488h16.02v2h-16.02z"/>
<path fill="#5d5ded" d="M16.02 548h16.02v2h-16.02zM32.04 374h16.02v2h-16.02zM128.15 466h16.02v2h-16.02z"/>
<path fill="#f35151" d="M32.04 169h16.02v1h-16.02zM224.27 169h16.02v1h-16.02zM272.33 174h16.02v2h-16.02zM400.48 174h16.02v2h-16.02z"/>
<path fill="#fc4e4e" d="M32.04 170h16.02v1h-16.02z"/>
<path fill="#e73939" d="M32.04 171h16.02v1h-16.02z"/>
<path fill="#f36363" d="M32.04 172h16.02v2h-16.02zM224.27 172h16.02v2h-16.02zM240.29 169h16.02v1h-16.02zM256.31 169h16.02v1h-16.02zM256.31 172h16.02v2h-16.02zM336.4 189h16.02v1h-16.02zM352.42 194h16.02v2h-16.02z"/>
<path fill="#f36c6c" d="M32.04 174h16.02v2h-16.02zM48.06 174h16.02v2h-16.02zM64.08 198h16.02v2h-16.02zM368.44 218h16.02v2h-16.02zM384.46 174h16.02v2h-16.02z"/>
<path fill="#f07878" d="M32.04 176h16.02v1h-16.02z"/>
<path fill="#fc8484" d="M32.04 177h16.02v1h-16.02zM112.13 189h16.02v1h-16.02z"/>
<path fill="#ea8d8d" d="M32.04 178h16.02v1h-16.02zM272.33 212h16.02v1h-16.02zM368.44 242h16.02v1h-16.02z"/>
<path fill="#ffabab" d="M32.04 179h16.02v2h-16.02zM208.25 179h16.02v1h-16.02zM272.33 213h16.02v1h-16.02zM272.33 246h16.02v1h-16.02zM288.35 213h16.02v1h-16.02zM304.37 226h16.02v1h-16.02zM304.37 249h16.02v1h-16.02zM336.4 210h16.02v1h-16.02zM368.44 243h16.02v2h-16.02zM368.44 251h16.02v1h-16.02zM384.46 191h16.02v1h-16.02zM400.48 232h16.02v1h-16.02z"/>
<path fill="#ea9090" d="M32.04 181h16.02v1h-16.02zM368.44 245h16.02v1h-16.02z"/>
<path fill="#f09c9c" d="M32.04 182h16.02v1h-16.02zM224.27 182h16.02v1h-16.02z"/>
<path fill="#ffaeae" d="M32.04 183h16.02v1h-16.02zM64.08 226h16.02v1h-16.02zM96.12 253h16.02v1h-16.02zM208.25 189h16.02v1h-16.02zM224.27 183h16.02v1h-16.02zM288.35 249h16.02v1h-16.02zM304.37 258h16.02v1h-16.02zM336.4 230h16.02v1h-16.02zM336.4 243h16.02v2h-16.02zM352.42 209h16.02v1h-16.02zM384.46 192h16.02v1h-16.02z"/>
<path fill="#f3b7b7" d="M32.04 184h16.02v1h-16.02zM48.06 213h16.02v1h-16.02zM96.12 243h16.02v1h-16.02zM256.31 181h16.02v1h-16.02zM288.35 270h16.02v1h-16.02zM304.37 276h16.02v1h-16.02zM352.42 250h16.02v1h-16.02zM368.44 311h16.02v1h-16.02zM384.46 263h16.02v1h-16.02zM400.48 284h16.02v1h-16.02z"/>
<path fill="#ffc6c6" d="M32.04 185h16.02v2h-16.02zM48.06 201h16.02v1h-16.02zM48.06 212h16.02v1h-16.02zM64.08 230h16.02v1h-16.02zM64.08 251h16.02v1h-16.02zM80.1 237h16.02v1h-16.02zM96.12 242h16.02v1h-16.02zM96.12 261h16.02v1h-16.02zM144.17 210h16.02v1h-16.02zM224.27 201h16.02v1h-16.02zM256.31 180h16.02v1h-16.02zM256.31 186h16.02v1h-16.02zM272.33 185h16.02v1h-16.02zM272.33 188h16.02v1h-16.02zM272.33 251h16.02v1h-16.02zM288.35 271h16.02v1h-16.02zM352.42 251h16.02v1h-16.02zM352.42 272h16.02v1h-16.02zM368.44 271h16.02v1h-16.02zM368.44 331h16.02v1h-16.02zM400.48 267h16.02v1h-16.02zM400.48 285h16.02v1h-16.02z"/>
<path fill="#f0b1b1" d="M32.04 187h16.02v1h-16.02zM80.1 270h16.02v1h-16.02zM144.17 200h16.02v1h-16.02zM192.23 204h16.02v1h-16.02z"/>
<path fill="#f6b1b1" d="M32.04 188h16.02v1h-16.02zM80.1 246h16.02v1h-16.02zM80.1 249h16.02v1h-16.02zM272.33 205h16.02v1h-16.02zM272.33 245h16.02v1h-16.02zM336.4 260h16.02v1h-16.02zM384.46 258h16.02v1h-16.02zM400.48 273h16.02v1h-16.02z"/>
<path fill="#f3bdbd" d="M32.04 190h16.02v1h-16.02zM176.21 222h16.02v1h-16.02zM352.42 248h16.02v1h-16.02z"/>
<path fill="#f6c9c9" d="M32.04 193h16.02v1h-16.02zM368.44 323h16.02v1h-16.02zM368.44 325h16.02v1h-16.02zM400.48 311h16.02v1h-16.02zM400.48 327h16.02v1h-16.02z"/>
<path fill="#f9aeae" d="M32.04 194h16.02v2h-16.02zM48.06 206h16.02v2h-16.02zM96.12 224h16.02v2h-16.02zM176.21 208h16.02v1h-16.02zM240.29 220h16.02v2h-16.02zM272.33 183h16.02v1h-16.02zM288.35 294h16.02v2h-16.02zM304.37 214h16.02v2h-16.02zM304.37 253h16.02v1h-16.02zM368.44 228h16.02v2h-16.02zM368.44 286h16.02v2h-16.02zM384.46 214h16.02v2h-16.02zM384.46 256h16.02v2h-16.02zM400.48 280h16.02v2h-16.02z"/>
<path fill="#e7ccd8" d="M32.04 196h16.02v1h-16.02z"/>
<path fill="#f6dbe7" d="M32.04 197h16.02v1h-16.02z"/>
<path fill="#f9baba" d="M32.04 198h16.02v2h-16.02zM48.06 218h16.02v2h-16.02zM64.08 256h16.02v2h-16.02zM80.1 280h16.02v2h-16.02zM96.12 236h16.02v1h-16.02zM112.13 220h16.02v2h-16.02zM272.33 228h16.02v2h-16.02zM320.38 198h16.02v2h-16.02zM336.4 280h16.02v2h-16.02zM368.44 368h16.02v2h-16.02z"/>
<path fill="#f3cfcf" d="M32.04 200h16.02v1h-16.02zM48.06 297h16.02v1h-16.02zM368.44 379h16.02v1h-16.02zM368.44 436h16.02v1h-16.02z"/>
<path fill="#eadbea" d="M32.04 210h16.02v1h-16.02z"/>
<path fill="#f3e4f3" d="M32.04 211h16.02v1h-16.02z"/>
<path fill="#f3e7ea" d="M32.04 213h16.02v1h-16.02zM272.33 329h16.02v1h-16.02zM272.33 362h16.02v1h-16.02zM400.48 317h16.02v1h-16.02z"/>
<path fill="#fcd8d8" d="M32.04 220h16.02v2h-16.02zM176.21 240h16.02v2h-16.02zM192.23 234h16.02v1h-16.02zM224.27 214h16.02v2h-16.02zM288.35 320h16.02v2h-16.02zM304.37 326h16.02v1h-16.02zM336.4 294h16.02v2h-16.02zM368.44 288h16.02v2h-16.02zM384.46 314h16.02v1h-16.02zM384.46 366h16.02v2h-16.02zM400.48 298h16.02v1h-16.02z"/>
<path fill="#ccc0de" d="M32.04 222h16.02v1h-16.02z"/>
<path fill="#f3e7ff" d="M32.04 223h16.02v1h-16.02zM224.27 327h16.02v1h-16.02z"/>
<path fill="#f9e4e4" d="M32.04 234h16.02v1h-16.02zM48.06 278h16.02v1h-16.02zM112.13 259h16.02v1h-16.02zM272.33 279h16.02v1h-16.02zM288.35 358h16.02v1h-16.02zM336.4 285h16.02v1h-16.02zM336.4 331h16.02v1h-16.02zM384.46 354h16.02v1h-16.02zM400.48 332h16.02v1h-16.02z"/>
<path fill="#f6f3f6" d="M32.04 237h16.02v1h-16.02zM384.46 383h16.02v1h-16.02z"/>
<path fill="#f3eaff" d="M32.04 248h16.02v1h-16.02zM48.06 538h16.02v1h-16.02zM240.29 272h16.02v1h-16.02zM384.46 404h16.02v1h-16.02zM384.46 430h16.02v1h-16.02zM384.46 433h16.02v1h-16.02zM384.46 494h16.02v1h-16.02z"/>
<path fill="#cfc6de" d="M32.04 249h16.02v1h-16.02z"/>
<path fill="#f0e7f3" d="M32.04 251h16.02v1h-16.02zM192.23 342h16.02v1h-16.02z"/>
<path fill="#f3f3f9" d="M32.04 259h16.02v1h-16.02zM48.06 328h16.02v1h-16.02zM80.1 443h16.02v1h-16.02zM112.13 318h16.02v1h-16.02zM192.23 276h16.02v1h-16.02zM272.33 338h16.02v1h-16.02zM304.37 444h16.02v1h-16.02zM368.44 509h16.02v1h-16.02zM368.44 512h16.02v1h-16.02z"/>
<path fill="#f9f9fc" d="M32.04 263h16.02v2h-16.02zM64.08 338h16.02v1h-16.02zM96.12 350h16.02v1h-16.02zM288.35 460h16.02v1h-16.02zM304.37 391h16.02v1h-16.02zM304.37 446h16.02v1h-16.02zM304.37 450h16.02v1h-16.02zM336.4 359h16.02v1h-16.02zM352.42 387h16.02v1h-16.02zM368.44 507h16.02v1h-16.02z"/>
<path fill="#fcfcfc" d="M32.04 267h16.02v1h-16.02zM80.1 327h16.02v1h-16.02zM128.15 205h16.02v1h-16.02zM368.44 470h16.02v1h-16.02zM368.44 495h16.02v1h-16.02zM384.46 540h16.02v1h-16.02z"/>
<path fill="#fcf9f9" d="M32.04 271h16.02v1h-16.02zM48.06 308h16.02v1h-16.02zM48.06 311h16.02v1h-16.02zM64.08 346h16.02v1h-16.02zM192.23 260h16.02v1h-16.02zM192.23 270h16.02v1h-16.02zM224.27 271h16.02v1h-16.02zM240.29 277h16.02v1h-16.02zM240.29 319h16.02v1h-16.02zM304.37 423h16.02v1h-16.02zM336.4 333h16.02v1h-16.02zM336.4 339h16.02v1h-16.02zM352.42 351h16.02v1h-16.02zM368.44 446h16.02v1h-16.02zM368.44 516h16.02v1h-16.02zM384.46 391h16.02v1h-16.02z"/>
<path fill="#edeaf3" d="M32.04 273h16.02v1h-16.02zM80.1 338h16.02v1h-16.02zM288.35 422h16.02v1h-16.02zM288.35 480h16.02v1h-16.02zM368.44 537h16.02v1h-16.02zM400.48 440h16.02v1h-16.02z"/>
<path fill="#e7e7f6" d="M32.04 278h16.02v1h-16.02zM112.13 302h16.02v1h-16.02zM144.17 454h16.02v1h-16.02zM192.23 434h16.02v1h-16.02zM192.23 539h16.02v2h-16.02zM208.25 293h16.02v1h-16.02zM240.29 405h16.02v1h-16.02zM400.48 532h16.02v1h-16.02z"/>
<path fill="#e4e4f0" d="M32.04 298h16.02v1h-16.02zM112.13 354h16.02v1h-16.02zM112.13 500h16.02v1h-16.02zM160.19 247h16.02v1h-16.02zM160.19 253h16.02v1h-16.02zM192.23 362h16.02v1h-16.02zM304.37 500h16.02v1h-16.02zM384.46 519h16.02v1h-16.02z"/>
<path fill="#a2a2db" d="M32.04 308h16.02v1h-16.02zM144.17 448h16.02v1h-16.02zM240.29 506h16.02v1h-16.02zM272.33 433h16.02v1h-16.02zM336.4 470h16.02v1h-16.02z"/>
<path fill="#b7b7de" d="M32.04 319h16.02v1h-16.02zM32.04 460h16.02v1h-16.02zM144.17 276h16.02v1h-16.02zM336.4 355h16.02v1h-16.02z"/>
<path fill="#d8d8f0" d="M32.04 329h16.02v1h-16.02zM80.1 497h16.02v1h-16.02zM144.17 345h16.02v1h-16.02zM160.19 297h16.02v1h-16.02zM240.29 373h16.02v1h-16.02zM272.33 526h16.02v1h-16.02z"/>
<path fill="#c3c3e1" d="M32.04 330h16.02v1h-16.02zM96.12 431h16.02v1h-16.02zM176.21 373h16.02v1h-16.02z"/>
<path fill="#babae1" d="M32.04 332h16.02v1h-16.02zM80.1 351h16.02v1h-16.02zM112.13 448h16.02v1h-16.02zM240.29 426h16.02v1h-16.02zM320.38 363h16.02v1h-16.02zM336.4 480h16.02v1h-16.02z"/>
<path fill="#9f9fe4" d="M32.04 340h16.02v1h-16.02zM48.06 436h16.02v1h-16.02zM160.19 383h16.02v1h-16.02z"/>
<path fill="#f9f6ff" d="M32.04 342h16.02v1h-16.02zM48.06 342h16.02v1h-16.02zM64.08 312h16.02v1h-16.02zM64.08 317h16.02v1h-16.02zM64.08 349h16.02v1h-16.02zM80.1 339h16.02v2h-16.02zM80.1 522h16.02v1h-16.02zM96.12 457h16.02v1h-16.02zM96.12 538h16.02v1h-16.02zM112.13 483h16.02v1h-16.02zM160.19 235h16.02v1h-16.02zM224.27 389h16.02v1h-16.02zM240.29 431h16.02v2h-16.02zM272.33 533h16.02v1h-16.02zM288.35 423h16.02v1h-16.02zM288.35 514h16.02v1h-16.02zM304.37 410h16.02v1h-16.02zM304.37 507h16.02v1h-16.02zM320.38 299h16.02v1h-16.02zM336.4 340h16.02v1h-16.02zM336.4 521h16.02v1h-16.02zM352.42 513h16.02v1h-16.02zM384.46 417h16.02v1h-16.02z"/>
<path fill="#eae4f0" d="M32.04 343h16.02v1h-16.02zM176.21 319h16.02v1h-16.02zM304.37 372h16.02v1h-16.02zM320.38 343h16.02v1h-16.02z"/>
<path fill="#8484d8" d="M32.04 345h16.02v1h-16.02zM64.08 516h16.02v1h-16.02zM272.33 482h16.02v1h-16.02z"/>
<path fill="#8484d5" d="M32.04 346h16.02v1h-16.02zM32.04 450h16.02v1h-16.02z"/>
<path fill="#a5a5d2" d="M32.04 348h16.02v1h-16.02zM208.25 522h16.02v1h-16.02zM288.35 512h16.02v1h-16.02z"/>
<path fill="#b4b4d8" d="M32.04 351h16.02v1h-16.02zM160.19 230h16.02v1h-16.02zM304.37 483h16.02v1h-16.02z"/>
<path fill="#babafc" d="M32.04 353h16.02v1h-16.02z"/>
<path fill="#9090ea" d="M32.04 357h16.02v1h-16.02z"/>
<path fill="#9f9fd5" d="M32.04 359h16.02v1h-16.02zM80.1 505h16.02v1h-16.02z"/>
<path fill="#a5a5f0" d="M32.04 364h16.02v1h-16.02zM128.15 323h16.02v1h-16.02zM144.17 424h16.02v1h-16.02zM144.17 436h16.02v1h-16.02zM160.19 396h16.02v1h-16.02z"/>
<path fill="#7878d2" d="M32.04 372h16.02v1h-16.02z"/>
<path fill="#b7b7f3" d="M32.04 378h16.02v1h-16.02zM48.06 423h16.02v1h-16.02zM48.06 479h16.02v2h-16.02zM144.17 324h16.02v1h-16.02zM144.17 479h16.02v1h-16.02zM160.19 427h16.02v1h-16.02z"/>
<path fill="#c0c0fc" d="M32.04 379h16.02v1h-16.02zM160.19 426h16.02v1h-16.02zM320.38 383h16.02v1h-16.02zM320.38 449h16.02v1h-16.02z"/>
<path fill="#b7b7ed" d="M32.04 381h16.02v1h-16.02zM64.08 474h16.02v1h-16.02zM192.23 495h16.02v1h-16.02zM304.37 487h16.02v1h-16.02z"/>
<path fill="#7575db" d="M32.04 388h16.02v1h-16.02zM128.15 425h16.02v1h-16.02zM320.38 476h16.02v1h-16.02z"/>
<path fill="#bdbdf3" d="M32.04 390h16.02v1h-16.02zM48.06 385h16.02v1h-16.02zM64.08 513h16.02v1h-16.02zM112.13 486h16.02v1h-16.02zM128.15 263h16.02v2h-16.02zM160.19 323h16.02v1h-16.02zM192.23 378h16.02v1h-16.02zM192.23 447h16.02v1h-16.02z"/>
<path fill="#8181ff" d="M32.04 398h16.02v1h-16.02z"/>
<path fill="#6363e1" d="M32.04 399h16.02v1h-16.02z"/>
<path fill="#ababff" d="M32.04 403h16.02v1h-16.02zM32.04 409h16.02v1h-16.02zM32.04 519h16.02v1h-16.02zM128.15 292h16.02v1h-16.02zM192.23 528h16.02v1h-16.02zM208.25 365h16.02v1h-16.02zM208.25 413h16.02v1h-16.02zM208.25 441h16.02v1h-16.02zM208.25 486h16.02v1h-16.02zM208.25 494h16.02v1h-16.02zM224.27 508h16.02v1h-16.02zM256.31 474h16.02v1h-16.02zM320.38 434h16.02v1h-16.02z"/>
<path fill="#6060cc" d="M32.04 405h16.02v1h-16.02z"/>
<path fill="#8787e1" d="M32.04 408h16.02v1h-16.02zM32.04 537h16.02v1h-16.02zM272.33 509h16.02v1h-16.02z"/>
<path fill="#b1b1ed" d="M32.04 412h16.02v1h-16.02zM48.06 528h16.02v1h-16.02zM64.08 424h16.02v1h-16.02zM160.19 380h16.02v1h-16.02zM320.38 452h16.02v1h-16.02z"/>
<path fill="#ababe4" d="M32.04 415h16.02v1h-16.02zM112.13 496h16.02v1h-16.02zM144.17 348h16.02v1h-16.02zM160.19 328h16.02v1h-16.02zM160.19 348h16.02v1h-16.02zM192.23 537h16.02v1h-16.02z"/>
<path fill="#9090db" d="M32.04 421h16.02v1h-16.02zM48.06 379h16.02v1h-16.02zM336.4 449h16.02v1h-16.02zM336.4 527h16.02v1h-16.02z"/>
<path fill="#9090e7" d="M32.04 422h16.02v1h-16.02zM64.08 480h16.02v1h-16.02z"/>
<path fill="#a8a8f3" d="M32.04 424h16.02v1h-16.02zM48.06 495h16.02v1h-16.02zM144.17 526h16.02v1h-16.02zM144.17 529h16.02v1h-16.02zM208.25 500h16.02v1h-16.02zM208.25 519h16.02v1h-16.02zM256.31 502h16.02v1h-16.02zM272.33 497h16.02v1h-16.02z"/>
<path fill="#aeaef9" d="M32.04 425h16.02v1h-16.02zM32.04 499h16.02v1h-16.02zM48.06 441h16.02v1h-16.02zM48.06 494h16.02v1h-16.02zM144.17 420h16.02v1h-16.02zM144.17 437h16.02v1h-16.02zM144.17 528h16.02v1h-16.02zM208.25 501h16.02v1h-16.02zM208.25 518h16.02v1h-16.02zM256.31 452h16.02v1h-16.02zM320.38 402h16.02v1h-16.02zM320.38 461h16.02v1h-16.02zM320.38 533h16.02v1h-16.02z"/>
<path fill="#7b7bbd" d="M32.04 431h16.02v1h-16.02z"/>
<path fill="#7272fc" d="M32.04 432h16.02v1h-16.02z"/>
<path fill="#5a5ae1" d="M32.04 433h16.02v1h-16.02z"/>
<path fill="#a2a2f3" d="M32.04 434h16.02v1h-16.02zM112.13 527h16.02v1h-16.02zM160.19 460h16.02v1h-16.02zM176.21 484h16.02v1h-16.02zM176.21 523h16.02v1h-16.02zM208.25 521h16.02v1h-16.02z"/>
<path fill="#6c6cd5" d="M32.04 437h16.02v1h-16.02z"/>
<path fill="#9393e1" d="M32.04 439h16.02v1h-16.02zM128.15 319h16.02v1h-16.02zM256.31 418h16.02v1h-16.02zM272.33 535h16.02v1h-16.02zM336.4 430h16.02v1h-16.02z"/>
<path fill="#9696cf" d="M32.04 440h16.02v1h-16.02zM192.23 432h16.02v1h-16.02z"/>
<path fill="#c3c3fc" d="M32.04 442h16.02v1h-16.02zM48.06 478h16.02v1h-16.02zM48.06 481h16.02v1h-16.02zM144.17 332h16.02v1h-16.02zM144.17 478h16.02v1h-16.02zM160.19 322h16.02v1h-16.02zM192.23 446h16.02v1h-16.02z"/>
<path fill="#9c9cf0" d="M32.04 448h16.02v1h-16.02zM48.06 438h16.02v1h-16.02zM160.19 384h16.02v1h-16.02z"/>
<path fill="#c9c9fc" d="M32.04 452h16.02v1h-16.02z"/>
<path fill="#aeaeed" d="M32.04 455h16.02v1h-16.02zM32.04 483h16.02v1h-16.02zM64.08 528h16.02v1h-16.02zM112.13 510h16.02v1h-16.02zM128.15 236h16.02v1h-16.02zM208.25 419h16.02v1h-16.02zM224.27 539h16.02v1h-16.02z"/>
<path fill="#3939b7" d="M32.04 457h16.02v1h-16.02z"/>
<path fill="#9999f3" d="M32.04 464h16.02v2h-16.02zM112.13 492h16.02v2h-16.02zM160.19 530h16.02v2h-16.02zM256.31 490h16.02v2h-16.02zM272.33 428h16.02v2h-16.02zM320.38 374h16.02v2h-16.02zM320.38 518h16.02v2h-16.02z"/>
<path fill="#6666f0" d="M32.04 468h16.02v2h-16.02zM32.04 492h16.02v2h-16.02zM128.15 544h16.02v2h-16.02zM256.31 529h16.02v1h-16.02z"/>
<path fill="#7e7eff" d="M32.04 470h16.02v1h-16.02zM128.15 456h16.02v1h-16.02z"/>
<path fill="#6060e1" d="M32.04 471h16.02v1h-16.02z"/>
<path fill="#6363d5" d="M32.04 476h16.02v1h-16.02z"/>
<path fill="#9f9fed" d="M32.04 478h16.02v1h-16.02zM160.19 363h16.02v1h-16.02z"/>
<path fill="#b4b4f0" d="M32.04 480h16.02v1h-16.02zM48.06 445h16.02v1h-16.02zM80.1 529h16.02v1h-16.02zM144.17 338h16.02v1h-16.02zM240.29 495h16.02v1h-16.02zM256.31 330h16.02v1h-16.02z"/>
<path fill="#9696d8" d="M32.04 487h16.02v1h-16.02zM176.21 506h16.02v1h-16.02zM256.31 477h16.02v1h-16.02zM272.33 388h16.02v1h-16.02z"/>
<path fill="#7b7bf0" d="M32.04 490h16.02v2h-16.02zM144.17 530h16.02v2h-16.02zM256.31 444h16.02v1h-16.02zM256.31 550h16.02v1h-16.02z"/>
<path fill="#a2a2ea" d="M32.04 495h16.02v2h-16.02zM144.17 501h16.02v1h-16.02zM160.19 276h16.02v1h-16.02zM160.19 341h16.02v1h-16.02zM240.29 470h16.02v1h-16.02zM256.31 326h16.02v1h-16.02zM272.33 452h16.02v1h-16.02zM288.35 511h16.02v1h-16.02zM320.38 511h16.02v1h-16.02z"/>
<path fill="#aeaef0" d="M32.04 500h16.02v1h-16.02zM112.13 457h16.02v1h-16.02zM160.19 424h16.02v1h-16.02zM208.25 502h16.02v1h-16.02z"/>
<path fill="#a2a2ff" d="M32.04 504h16.02v1h-16.02zM112.13 534h16.02v1h-16.02zM112.13 538h16.02v1h-16.02zM144.17 536h16.02v1h-16.02zM160.19 390h16.02v1h-16.02zM160.19 412h16.02v1h-16.02zM160.19 433h16.02v1h-16.02zM160.19 498h16.02v1h-16.02zM192.23 456h16.02v1h-16.02zM224.27 413h16.02v1h-16.02zM224.27 441h16.02v1h-16.02zM224.27 484h16.02v1h-16.02zM256.31 387h16.02v1h-16.02zM256.31 410h16.02v1h-16.02zM256.31 413h16.02v1h-16.02zM320.38 373h16.02v1h-16.02zM320.38 478h16.02v1h-16.02z"/>
<path fill="#7b7bde" d="M32.04 505h16.02v1h-16.02zM144.17 432h16.02v1h-16.02zM224.27 440h16.02v1h-16.02zM224.27 451h16.02v1h-16.02z"/>
<path fill="#7b7bcf" d="M32.04 506h16.02v1h-16.02zM160.19 266h16.02v1h-16.02z"/>
<path fill="#bdbde4" d="M32.04 510h16.02v1h-16.02zM112.13 451h16.02v1h-16.02zM144.17 293h16.02v1h-16.02zM144.17 296h16.02v1h-16.02zM272.33 400h16.02v1h-16.02z"/>
<path fill="#b4b4de" d="M32.04 513h16.02v1h-16.02zM80.1 432h16.02v1h-16.02zM96.12 444h16.02v1h-16.02zM112.13 341h16.02v1h-16.02zM192.23 460h16.02v1h-16.02z"/>
<path fill="#6969c9" d="M32.04 515h16.02v1h-16.02zM48.06 505h16.02v1h-16.02zM256.31 318h16.02v1h-16.02zM352.42 494h16.02v1h-16.02z"/>
<path fill="#9090ff" d="M32.04 516h16.02v1h-16.02zM112.13 541h16.02v1h-16.02zM128.15 355h16.02v2h-16.02zM128.15 396h16.02v1h-16.02zM128.15 400h16.02v1h-16.02zM128.15 450h16.02v1h-16.02zM256.31 239h16.02v1h-16.02zM256.31 247h16.02v1h-16.02zM256.31 478h16.02v1h-16.02z"/>
<path fill="#5151d2" d="M32.04 517h16.02v1h-16.02zM128.15 399h16.02v1h-16.02zM128.15 479h16.02v1h-16.02z"/>
<path fill="#3030b1" d="M32.04 518h16.02v1h-16.02z"/>
<path fill="#a5a5db" d="M32.04 522h16.02v1h-16.02zM128.15 249h16.02v1h-16.02zM224.27 313h16.02v1h-16.02zM240.29 484h16.02v1h-16.02z"/>
<path fill="#7e7ef0" d="M32.04 524h16.02v2h-16.02zM96.12 546h16.02v2h-16.02zM128.15 300h16.02v2h-16.02zM128.15 374h16.02v2h-16.02zM128.15 468h16.02v2h-16.02zM176.21 306h16.02v2h-16.02zM256.31 530h16.02v2h-16.02z"/>
<path fill="#5a5aed" d="M32.04 530h16.02v2h-16.02zM128.15 392h16.02v2h-16.02zM128.15 490h16.02v2h-16.02z"/>
<path fill="#aeaed8" d="M32.04 532h16.02v1h-16.02zM48.06 363h16.02v1h-16.02zM80.1 457h16.02v1h-16.02zM304.37 438h16.02v1h-16.02z"/>
<path fill="#7e7edb" d="M32.04 534h16.02v1h-16.02zM144.17 427h16.02v1h-16.02zM160.19 471h16.02v1h-16.02zM224.27 425h16.02v1h-16.02z"/>
<path fill="#5454ed" d="M32.04 546h16.02v2h-16.02zM160.19 546h16.02v2h-16.02zM176.21 336h16.02v2h-16.02z"/>
<path fill="#8787f3" d="M32.04 548h16.02v2h-16.02zM128.15 286h16.02v2h-16.02zM128.15 304h16.02v2h-16.02zM128.15 387h16.02v1h-16.02zM256.31 206h16.02v2h-16.02zM320.38 524h16.02v2h-16.02z"/>
<path fill="#f35454" d="M48.06 169h16.02v1h-16.02zM192.23 172h16.02v2h-16.02z"/>
<path fill="#f05454" d="M48.06 170h16.02v1h-16.02zM384.46 177h16.02v1h-16.02z"/>
<path fill="#f65a5a" d="M48.06 171h16.02v1h-16.02zM352.42 187h16.02v1h-16.02zM384.46 176h16.02v1h-16.02z"/>
<path fill="#ed8484" d="M48.06 177h16.02v1h-16.02zM64.08 204h16.02v1h-16.02z"/>
<path fill="#ea8787" d="M48.06 178h16.02v1h-16.02zM80.1 222h16.02v1h-16.02zM288.35 200h16.02v1h-16.02zM400.48 234h16.02v1h-16.02z"/>
<path fill="#ff9f9f" d="M48.06 179h16.02v1h-16.02zM96.12 223h16.02v1h-16.02zM96.12 249h16.02v1h-16.02zM304.37 242h16.02v1h-16.02zM304.37 245h16.02v1h-16.02zM336.4 197h16.02v1h-16.02zM352.42 201h16.02v1h-16.02zM368.44 226h16.02v1h-16.02zM384.46 212h16.02v1h-16.02zM400.48 226h16.02v1h-16.02zM400.48 253h16.02v1h-16.02z"/>
<path fill="#f6a5a5" d="M48.06 180h16.02v1h-16.02zM112.13 238h16.02v1h-16.02zM368.44 259h16.02v1h-16.02zM384.46 230h16.02v1h-16.02z"/>
<path fill="#f9a8a8" d="M48.06 181h16.02v1h-16.02zM64.08 240h16.02v2h-16.02zM80.1 240h16.02v2h-16.02zM96.12 198h16.02v2h-16.02zM176.21 218h16.02v2h-16.02zM272.33 220h16.02v2h-16.02zM272.33 256h16.02v2h-16.02zM304.37 220h16.02v2h-16.02zM304.37 228h16.02v2h-16.02zM304.37 265h16.02v1h-16.02zM368.44 258h16.02v1h-16.02zM384.46 231h16.02v1h-16.02zM400.48 206h16.02v2h-16.02z"/>
<path fill="#e79696" d="M48.06 182h16.02v1h-16.02zM336.4 246h16.02v1h-16.02z"/>
<path fill="#ffb7b7" d="M48.06 183h16.02v1h-16.02zM80.1 252h16.02v1h-16.02zM144.17 180h16.02v1h-16.02zM176.21 202h16.02v1h-16.02zM288.35 237h16.02v1h-16.02zM288.35 253h16.02v1h-16.02zM336.4 201h16.02v1h-16.02zM336.4 247h16.02v1h-16.02zM352.42 230h16.02v1h-16.02zM352.42 254h16.02v1h-16.02zM368.44 230h16.02v1h-16.02zM384.46 236h16.02v1h-16.02zM384.46 247h16.02v2h-16.02zM400.48 191h16.02v2h-16.02zM400.48 296h16.02v1h-16.02z"/>
<path fill="#f09090" d="M48.06 184h16.02v1h-16.02zM400.48 252h16.02v1h-16.02z"/>
<path fill="#ff9c9c" d="M48.06 185h16.02v1h-16.02zM80.1 209h16.02v1h-16.02zM96.12 205h16.02v1h-16.02zM96.12 208h16.02v1h-16.02zM112.13 191h16.02v1h-16.02zM224.27 179h16.02v2h-16.02zM256.31 176h16.02v1h-16.02zM304.37 209h16.02v1h-16.02zM352.42 182h16.02v1h-16.02zM384.46 210h16.02v1h-16.02z"/>
<path fill="#d8abbd" d="M48.06 186h16.02v1h-16.02z"/>
<path fill="#f6c9de" d="M48.06 187h16.02v1h-16.02z"/>
<path fill="#f3ccde" d="M48.06 188h16.02v1h-16.02z"/>
<path fill="#deb7c9" d="M48.06 189h16.02v1h-16.02z"/>
<path fill="#eda2a2" d="M48.06 190h16.02v1h-16.02zM272.33 193h16.02v1h-16.02zM272.33 248h16.02v1h-16.02z"/>
<path fill="#f99c9c" d="M48.06 194h16.02v2h-16.02zM64.08 228h16.02v2h-16.02zM80.1 218h16.02v2h-16.02zM96.12 254h16.02v1h-16.02zM272.33 206h16.02v2h-16.02zM272.33 218h16.02v2h-16.02zM288.35 220h16.02v2h-16.02zM400.48 240h16.02v2h-16.02z"/>
<path fill="#decce1" d="M48.06 196h16.02v1h-16.02z"/>
<path fill="#edabab" d="M48.06 200h16.02v1h-16.02zM64.08 250h16.02v1h-16.02zM96.12 265h16.02v1h-16.02zM112.13 209h16.02v1h-16.02z"/>
<path fill="#f9c3c3" d="M48.06 202h16.02v1h-16.02zM48.06 205h16.02v1h-16.02zM368.44 353h16.02v1h-16.02zM400.48 303h16.02v1h-16.02z"/>
<path fill="#edaeae" d="M48.06 209h16.02v1h-16.02zM80.1 236h16.02v1h-16.02zM144.17 190h16.02v1h-16.02zM256.31 187h16.02v2h-16.02z"/>
<path fill="#e4bdbd" d="M48.06 211h16.02v1h-16.02zM176.21 192h16.02v1h-16.02z"/>
<path fill="#fcc3c3" d="M48.06 220h16.02v2h-16.02zM80.1 282h16.02v2h-16.02zM96.12 270h16.02v1h-16.02zM160.19 198h16.02v2h-16.02zM176.21 206h16.02v2h-16.02zM224.27 192h16.02v1h-16.02zM224.27 218h16.02v2h-16.02zM240.29 240h16.02v4h-16.02zM288.35 240h16.02v2h-16.02zM304.37 268h16.02v2h-16.02zM304.37 294h16.02v2h-16.02zM336.4 255h16.02v1h-16.02zM336.4 282h16.02v2h-16.02zM352.42 274h16.02v2h-16.02zM368.44 268h16.02v2h-16.02zM368.44 274h16.02v2h-16.02zM384.46 274h16.02v2h-16.02zM400.48 300h16.02v2h-16.02z"/>
<path fill="#ffc3c3" d="M48.06 222h16.02v1h-16.02zM80.1 244h16.02v1h-16.02zM80.1 271h16.02v1h-16.02zM96.12 264h16.02v1h-16.02zM144.17 201h16.02v1h-16.02zM160.19 184h16.02v1h-16.02zM176.21 205h16.02v1h-16.02zM208.25 196h16.02v1h-16.02zM288.35 259h16.02v1h-16.02zM368.44 310h16.02v1h-16.02zM368.44 347h16.02v1h-16.02zM384.46 262h16.02v1h-16.02zM384.46 271h16.02v1h-16.02z"/>
<path fill="#f3b4b4" d="M48.06 223h16.02v1h-16.02zM160.19 185h16.02v1h-16.02zM160.19 188h16.02v1h-16.02zM192.23 193h16.02v1h-16.02zM368.44 270h16.02v1h-16.02zM368.44 346h16.02v1h-16.02zM384.46 270h16.02v1h-16.02z"/>
<path fill="#e7ccde" d="M48.06 226h16.02v1h-16.02z"/>
<path fill="#edd2e4" d="M48.06 227h16.02v1h-16.02zM384.46 252h16.02v1h-16.02z"/>
<path fill="#f9cccc" d="M48.06 232h16.02v1h-16.02zM64.08 259h16.02v1h-16.02zM96.12 296h16.02v1h-16.02zM144.17 193h16.02v1h-16.02zM160.19 202h16.02v1h-16.02zM288.35 343h16.02v1h-16.02zM336.4 258h16.02v1h-16.02zM368.44 276h16.02v1h-16.02zM368.44 315h16.02v1h-16.02zM400.48 346h16.02v1h-16.02z"/>
<path fill="#f3c9c9" d="M48.06 235h16.02v1h-16.02zM176.21 255h16.02v1h-16.02zM240.29 247h16.02v2h-16.02zM272.33 236h16.02v1h-16.02zM336.4 270h16.02v1h-16.02z"/>
<path fill="#f9c6c6" d="M48.06 239h16.02v1h-16.02zM96.12 263h16.02v1h-16.02zM304.37 309h16.02v1h-16.02zM352.42 296h16.02v1h-16.02zM384.46 279h16.02v1h-16.02z"/>
<path fill="#eacfd8" d="M48.06 242h16.02v1h-16.02z"/>
<path fill="#fce4ed" d="M48.06 243h16.02v1h-16.02z"/>
<path fill="#f9e4ed" d="M48.06 244h16.02v1h-16.02z"/>
<path fill="#edd5e1" d="M48.06 245h16.02v1h-16.02z"/>
<path fill="#edc0c0" d="M48.06 255h16.02v1h-16.02zM112.13 246h16.02v1h-16.02zM240.29 255h16.02v1h-16.02zM304.37 318h16.02v1h-16.02z"/>
<path fill="#f0c6c6" d="M48.06 260h16.02v1h-16.02zM192.23 233h16.02v1h-16.02zM272.33 258h16.02v1h-16.02zM272.33 296h16.02v1h-16.02zM400.48 278h16.02v1h-16.02z"/>
<path fill="#ead5e7" d="M48.06 264h16.02v1h-16.02zM400.48 329h16.02v1h-16.02z"/>
<path fill="#ead5e4" d="M48.06 265h16.02v1h-16.02z"/>
<path fill="#dbdbed" d="M48.06 266h16.02v1h-16.02zM160.19 251h16.02v1h-16.02zM192.23 386h16.02v1h-16.02zM288.35 416h16.02v1h-16.02zM384.46 511h16.02v1h-16.02z"/>
<path fill="#f9f3ff" d="M48.06 276h16.02v1h-16.02zM64.08 418h16.02v1h-16.02zM80.1 417h16.02v1h-16.02zM96.12 298h16.02v1h-16.02zM112.13 431h16.02v1h-16.02zM176.21 318h16.02v1h-16.02zM192.23 318h16.02v1h-16.02zM224.27 266h16.02v1h-16.02zM224.27 278h16.02v1h-16.02zM288.35 413h16.02v2h-16.02zM304.37 373h16.02v1h-16.02zM320.38 342h16.02v1h-16.02zM384.46 441h16.02v1h-16.02zM400.48 503h16.02v1h-16.02z"/>
<path fill="#ded8ea" d="M48.06 277h16.02v1h-16.02zM288.35 415h16.02v1h-16.02zM336.4 323h16.02v1h-16.02z"/>
<path fill="#f6e1e1" d="M48.06 284h16.02v1h-16.02zM160.19 213h16.02v1h-16.02zM240.29 270h16.02v1h-16.02zM288.35 418h16.02v1h-16.02zM304.37 355h16.02v1h-16.02zM336.4 276h16.02v1h-16.02zM384.46 380h16.02v1h-16.02z"/>
<path fill="#fffcff" d="M48.06 309h16.02v1h-16.02zM80.1 326h16.02v1h-16.02zM80.1 442h16.02v1h-16.02zM96.12 351h16.02v1h-16.02zM128.15 204h16.02v1h-16.02zM192.23 313h16.02v1h-16.02zM240.29 292h16.02v1h-16.02zM336.4 401h16.02v1h-16.02zM368.44 494h16.02v1h-16.02zM384.46 423h16.02v1h-16.02zM400.48 402h16.02v1h-16.02z"/>
<path fill="#f9f6f9" d="M48.06 313h16.02v1h-16.02zM128.15 192h16.02v1h-16.02zM128.15 208h16.02v1h-16.02zM288.35 430h16.02v1h-16.02zM336.4 381h16.02v1h-16.02zM400.48 398h16.02v1h-16.02zM400.48 540h16.02v1h-16.02z"/>
<path fill="#f3f3fc" d="M48.06 315h16.02v1h-16.02zM80.1 349h16.02v1h-16.02zM112.13 329h16.02v1h-16.02zM128.15 211h16.02v1h-16.02zM144.17 250h16.02v1h-16.02zM160.19 273h16.02v1h-16.02zM176.21 279h16.02v1h-16.02zM176.21 311h16.02v1h-16.02zM192.23 373h16.02v1h-16.02zM208.25 342h16.02v1h-16.02zM240.29 250h16.02v1h-16.02zM240.29 370h16.02v1h-16.02zM288.35 425h16.02v1h-16.02zM288.35 439h16.02v2h-16.02zM288.35 454h16.02v1h-16.02zM288.35 502h16.02v1h-16.02zM336.4 482h16.02v1h-16.02zM352.42 379h16.02v1h-16.02zM352.42 436h16.02v1h-16.02zM384.46 384h16.02v1h-16.02zM384.46 449h16.02v1h-16.02zM384.46 455h16.02v1h-16.02zM400.48 435h16.02v2h-16.02zM400.48 482h16.02v1h-16.02z"/>
<path fill="#d5d5ea" d="M48.06 316h16.02v1h-16.02zM96.12 409h16.02v1h-16.02zM208.25 352h16.02v1h-16.02zM240.29 439h16.02v1h-16.02zM368.44 452h16.02v1h-16.02z"/>
<path fill="#edd8e1" d="M48.06 318h16.02v1h-16.02z"/>
<path fill="#fceaf0" d="M48.06 319h16.02v1h-16.02zM400.48 363h16.02v1h-16.02z"/>
<path fill="#c9c9e4" d="M48.06 330h16.02v1h-16.02zM80.1 372h16.02v1h-16.02zM96.12 341h16.02v1h-16.02zM352.42 419h16.02v1h-16.02z"/>
<path fill="#e7e1f0" d="M48.06 343h16.02v1h-16.02zM112.13 430h16.02v1h-16.02z"/>
<path fill="#e4e4f3" d="M48.06 355h16.02v1h-16.02zM144.17 261h16.02v1h-16.02zM192.23 259h16.02v1h-16.02zM192.23 452h16.02v1h-16.02zM224.27 331h16.02v1h-16.02zM272.33 442h16.02v1h-16.02zM400.48 443h16.02v1h-16.02z"/>
<path fill="#d2d2f3" d="M48.06 357h16.02v1h-16.02zM48.06 402h16.02v1h-16.02zM64.08 532h16.02v1h-16.02zM80.1 511h16.02v2h-16.02zM128.15 246h16.02v1h-16.02zM144.17 401h16.02v1h-16.02zM144.17 482h16.02v1h-16.02zM176.21 455h16.02v1h-16.02zM192.23 316h16.02v1h-16.02zM192.23 338h16.02v1h-16.02zM224.27 315h16.02v1h-16.02zM224.27 498h16.02v1h-16.02zM304.37 515h16.02v1h-16.02zM320.38 279h16.02v1h-16.02zM352.42 481h16.02v1h-16.02zM400.48 455h16.02v1h-16.02z"/>
<path fill="#f6f6fc" d="M48.06 371h16.02v1h-16.02zM80.1 332h16.02v1h-16.02zM80.1 391h16.02v1h-16.02zM96.12 316h16.02v1h-16.02zM176.21 272h16.02v1h-16.02zM192.23 263h16.02v1h-16.02zM240.29 279h16.02v1h-16.02zM240.29 386h16.02v1h-16.02zM336.4 348h16.02v1h-16.02zM368.44 318h16.02v1h-16.02zM368.44 502h16.02v1h-16.02zM384.46 453h16.02v1h-16.02z"/>
<path fill="#bdbded" d="M48.06 380h16.02v1h-16.02zM48.06 398h16.02v1h-16.02zM48.06 471h16.02v1h-16.02zM48.06 537h16.02v1h-16.02zM64.08 506h16.02v1h-16.02zM80.1 516h16.02v1h-16.02zM144.17 363h16.02v1h-16.02zM176.21 498h16.02v1h-16.02zM192.23 348h16.02v1h-16.02zM192.23 398h16.02v1h-16.02zM240.29 454h16.02v1h-16.02zM320.38 351h16.02v1h-16.02zM336.4 485h16.02v1h-16.02zM400.48 470h16.02v1h-16.02z"/>
<path fill="#7272d2" d="M48.06 387h16.02v1h-16.02z"/>
<path fill="#7e7ed5" d="M48.06 397h16.02v1h-16.02zM256.31 446h16.02v1h-16.02z"/>
<path fill="#c6c6ed" d="M48.06 405h16.02v1h-16.02zM80.1 371h16.02v1h-16.02zM80.1 452h16.02v1h-16.02zM208.25 356h16.02v1h-16.02zM224.27 328h16.02v1h-16.02zM400.48 485h16.02v1h-16.02z"/>
<path fill="#8a8acc" d="M48.06 411h16.02v1h-16.02zM64.08 443h16.02v1h-16.02zM208.25 448h16.02v1h-16.02z"/>
<path fill="#8a8ad2" d="M48.06 412h16.02v1h-16.02zM48.06 431h16.02v1h-16.02zM64.08 444h16.02v1h-16.02zM224.27 435h16.02v1h-16.02z"/>
<path fill="#bdbdfc" d="M48.06 422h16.02v1h-16.02zM144.17 371h16.02v1h-16.02zM192.23 484h16.02v1h-16.02zM272.33 436h16.02v1h-16.02z"/>
<path fill="#b1b1e7" d="M48.06 426h16.02v1h-16.02zM64.08 389h16.02v1h-16.02zM160.19 419h16.02v1h-16.02zM224.27 310h16.02v1h-16.02zM224.27 357h16.02v1h-16.02zM352.42 405h16.02v1h-16.02z"/>
<path fill="#8a8ad5" d="M48.06 432h16.02v1h-16.02z"/>
<path fill="#9c9ced" d="M48.06 435h16.02v1h-16.02zM320.38 484h16.02v1h-16.02z"/>
<path fill="#a5a5f9" d="M48.06 439h16.02v1h-16.02zM144.17 446h16.02v1h-16.02zM160.19 421h16.02v1h-16.02zM224.27 417h16.02v1h-16.02zM224.27 421h16.02v1h-16.02z"/>
<path fill="#babae4" d="M48.06 443h16.02v1h-16.02zM48.06 522h16.02v1h-16.02zM96.12 415h16.02v1h-16.02zM112.13 426h16.02v1h-16.02zM160.19 315h16.02v1h-16.02zM352.42 424h16.02v1h-16.02z"/>
<path fill="#ababd8" d="M48.06 452h16.02v1h-16.02zM80.1 411h16.02v1h-16.02zM256.31 267h16.02v1h-16.02zM256.31 409h16.02v1h-16.02zM384.46 457h16.02v1h-16.02z"/>
<path fill="#d2d2fc" d="M48.06 457h16.02v1h-16.02zM80.1 477h16.02v1h-16.02zM176.21 277h16.02v1h-16.02zM192.23 523h16.02v1h-16.02zM272.33 399h16.02v1h-16.02zM272.33 499h16.02v1h-16.02z"/>
<path fill="#d5d5fc" d="M48.06 461h16.02v1h-16.02zM64.08 428h16.02v2h-16.02zM96.12 424h16.02v1h-16.02zM112.13 417h16.02v1h-16.02zM112.13 550h16.02v1h-16.02zM128.15 268h16.02v2h-16.02zM144.17 268h16.02v2h-16.02zM144.17 286h16.02v2h-16.02zM144.17 299h16.02v3h-16.02zM144.17 334h16.02v2h-16.02zM176.21 368h16.02v2h-16.02zM208.25 409h16.02v1h-16.02zM224.27 354h16.02v1h-16.02zM240.29 376h16.02v2h-16.02zM240.29 383h16.02v1h-16.02zM272.33 392h16.02v2h-16.02zM288.35 506h16.02v1h-16.02zM304.37 536h16.02v1h-16.02zM304.37 546h16.02v2h-16.02zM320.38 300h16.02v2h-16.02zM320.38 310h16.02v1h-16.02zM320.38 409h16.02v1h-16.02zM336.4 516h16.02v1h-16.02zM384.46 439h16.02v1h-16.02zM400.48 464h16.02v2h-16.02z"/>
<path fill="#8d8df3" d="M48.06 466h16.02v2h-16.02zM48.06 524h16.02v2h-16.02zM128.15 462h16.02v2h-16.02zM224.27 428h16.02v2h-16.02zM224.27 470h16.02v1h-16.02zM256.31 542h16.02v2h-16.02z"/>
<path fill="#8181d2" d="M48.06 475h16.02v1h-16.02z"/>
<path fill="#9f9fe7" d="M48.06 476h16.02v1h-16.02zM112.13 484h16.02v1h-16.02zM208.25 348h16.02v1h-16.02zM224.27 372h16.02v1h-16.02z"/>
<path fill="#a8a8ed" d="M48.06 496h16.02v1h-16.02zM64.08 432h16.02v1h-16.02zM64.08 537h16.02v1h-16.02zM112.13 445h16.02v1h-16.02zM160.19 319h16.02v1h-16.02zM160.19 378h16.02v1h-16.02zM224.27 422h16.02v1h-16.02zM256.31 258h16.02v1h-16.02zM272.33 512h16.02v1h-16.02zM272.33 523h16.02v1h-16.02z"/>
<path fill="#6666de" d="M48.06 506h16.02v1h-16.02z"/>
<path fill="#9999db" d="M48.06 512h16.02v1h-16.02zM208.25 316h16.02v1h-16.02zM400.48 414h16.02v1h-16.02z"/>
<path fill="#c9c9e7" d="M48.06 517h16.02v1h-16.02zM80.1 402h16.02v1h-16.02zM224.27 309h16.02v1h-16.02z"/>
<path fill="#5a5abd" d="M48.06 518h16.02v1h-16.02z"/>
<path fill="#bab1d5" d="M48.06 539h16.02v1h-16.02z"/>
<path fill="#f03f3f" d="M64.08 169h16.02v1h-16.02zM64.08 179h16.02v1h-16.02zM96.12 172h16.02v2h-16.02zM144.17 169h16.02v1h-16.02zM240.29 172h16.02v2h-16.02z"/>
<path fill="#f93c3c" d="M64.08 170h16.02v1h-16.02z"/>
<path fill="#e72727" d="M64.08 171h16.02v1h-16.02z"/>
<path fill="#f02727" d="M64.08 172h16.02v2h-16.02z"/>
<path fill="#f03030" d="M64.08 174h16.02v2h-16.02zM112.13 174h16.02v2h-16.02zM176.21 172h16.02v2h-16.02zM352.42 169h16.02v1h-16.02z"/>
<path fill="#f95454" d="M64.08 176h16.02v1h-16.02z"/>
<path fill="#ed4848" d="M64.08 177h16.02v1h-16.02z"/>
<path fill="#f34545" d="M64.08 178h16.02v1h-16.02zM192.23 174h16.02v2h-16.02zM400.48 172h16.02v2h-16.02z"/>
<path fill="#ed3f3f" d="M64.08 180h16.02v1h-16.02zM368.44 187h16.02v1h-16.02z"/>
<path fill="#f64848" d="M64.08 181h16.02v1h-16.02z"/>
<path fill="#d83030" d="M64.08 182h16.02v1h-16.02z"/>
<path fill="#ff6666" d="M64.08 183h16.02v1h-16.02zM400.48 179h16.02v1h-16.02z"/>
<path fill="#ea5151" d="M64.08 184h16.02v1h-16.02zM288.35 178h16.02v1h-16.02z"/>
<path fill="#fc6060" d="M64.08 185h16.02v1h-16.02zM352.42 177h16.02v1h-16.02z"/>
<path fill="#f06363" d="M64.08 186h16.02v1h-16.02zM112.13 180h16.02v1h-16.02z"/>
<path fill="#f96f6f" d="M64.08 187h16.02v1h-16.02zM288.35 222h16.02v1h-16.02z"/>
<path fill="#ff6c6c" d="M64.08 188h16.02v1h-16.02zM384.46 179h16.02v1h-16.02zM400.48 201h16.02v1h-16.02z"/>
<path fill="#e75454" d="M64.08 189h16.02v1h-16.02zM400.48 181h16.02v1h-16.02z"/>
<path fill="#e76f6f" d="M64.08 190h16.02v1h-16.02zM176.21 178h16.02v1h-16.02z"/>
<path fill="#ff8787" d="M64.08 191h16.02v1h-16.02zM288.35 211h16.02v1h-16.02zM368.44 235h16.02v1h-16.02z"/>
<path fill="#fc8a8a" d="M64.08 192h16.02v1h-16.02zM240.29 183h16.02v1h-16.02zM288.35 244h16.02v1h-16.02z"/>
<path fill="#f08181" d="M64.08 193h16.02v1h-16.02z"/>
<path fill="#f34b4b" d="M64.08 194h16.02v2h-16.02zM96.12 183h16.02v1h-16.02zM176.21 169h16.02v1h-16.02zM336.4 172h16.02v4h-16.02zM336.4 194h16.02v2h-16.02zM368.44 174h16.02v2h-16.02z"/>
<path fill="#ff9090" d="M64.08 196h16.02v1h-16.02zM176.21 185h16.02v1h-16.02zM240.29 179h16.02v1h-16.02zM288.35 192h16.02v1h-16.02zM288.35 239h16.02v1h-16.02zM288.35 247h16.02v1h-16.02zM304.37 201h16.02v1h-16.02zM368.44 183h16.02v1h-16.02z"/>
<path fill="#e77272" d="M64.08 197h16.02v1h-16.02z"/>
<path fill="#f37575" d="M64.08 200h16.02v1h-16.02zM192.23 170h16.02v1h-16.02zM384.46 184h16.02v1h-16.02z"/>
<path fill="#f67878" d="M64.08 201h16.02v1h-16.02zM80.1 198h16.02v2h-16.02zM112.13 194h16.02v2h-16.02zM192.23 171h16.02v1h-16.02zM224.27 176h16.02v1h-16.02zM256.31 174h16.02v2h-16.02zM320.38 174h16.02v2h-16.02zM336.4 185h16.02v1h-16.02zM384.46 185h16.02v1h-16.02zM384.46 198h16.02v2h-16.02z"/>
<path fill="#ea6969" d="M64.08 202h16.02v1h-16.02z"/>
<path fill="#ff7b7b" d="M64.08 203h16.02v1h-16.02zM352.42 181h16.02v1h-16.02z"/>
<path fill="#ff9393" d="M64.08 205h16.02v1h-16.02zM240.29 180h16.02v1h-16.02zM384.46 222h16.02v1h-16.02zM384.46 226h16.02v1h-16.02zM400.48 208h16.02v1h-16.02z"/>
<path fill="#f36060" d="M64.08 206h16.02v2h-16.02zM80.1 194h16.02v2h-16.02zM304.37 174h16.02v2h-16.02z"/>
<path fill="#d87b7b" d="M64.08 208h16.02v1h-16.02z"/>
<path fill="#ea9f9f" d="M64.08 210h16.02v1h-16.02zM192.23 190h16.02v1h-16.02zM288.35 263h16.02v1h-16.02z"/>
<path fill="#f39f9f" d="M64.08 212h16.02v1h-16.02zM64.08 227h16.02v1h-16.02zM96.12 252h16.02v1h-16.02zM272.33 200h16.02v1h-16.02zM272.33 247h16.02v1h-16.02zM272.33 254h16.02v1h-16.02zM352.42 210h16.02v1h-16.02zM352.42 227h16.02v1h-16.02zM400.48 222h16.02v1h-16.02z"/>
<path fill="#ffa8a8" d="M64.08 213h16.02v1h-16.02zM96.12 233h16.02v2h-16.02zM192.23 179h16.02v1h-16.02zM192.23 187h16.02v1h-16.02zM208.25 183h16.02v1h-16.02zM224.27 184h16.02v1h-16.02zM240.29 201h16.02v1h-16.02zM320.38 180h16.02v1h-16.02zM336.4 234h16.02v1h-16.02z"/>
<path fill="#f69090" d="M64.08 214h16.02v2h-16.02zM64.08 242h16.02v1h-16.02zM192.23 185h16.02v1h-16.02zM240.29 189h16.02v1h-16.02zM272.33 211h16.02v1h-16.02zM288.35 206h16.02v2h-16.02zM288.35 216h16.02v2h-16.02zM304.37 239h16.02v1h-16.02z"/>
<path fill="#f68787" d="M64.08 218h16.02v2h-16.02zM176.21 188h16.02v1h-16.02zM176.21 194h16.02v2h-16.02zM240.29 198h16.02v2h-16.02zM368.44 220h16.02v2h-16.02z"/>
<path fill="#f68a8a" d="M64.08 220h16.02v2h-16.02zM112.13 196h16.02v1h-16.02zM160.19 176h16.02v1h-16.02zM224.27 194h16.02v2h-16.02zM384.46 218h16.02v2h-16.02z"/>
<path fill="#f6a2a2" d="M64.08 223h16.02v1h-16.02zM208.25 190h16.02v1h-16.02zM400.48 196h16.02v1h-16.02z"/>
<path fill="#e49c9c" d="M64.08 231h16.02v1h-16.02z"/>
<path fill="#f09696" d="M64.08 232h16.02v1h-16.02zM304.37 248h16.02v1h-16.02zM368.44 273h16.02v1h-16.02z"/>
<path fill="#f9d8e7" d="M64.08 234h16.02v1h-16.02z"/>
<path fill="#e1c3d2" d="M64.08 235h16.02v1h-16.02z"/>
<path fill="#eacfcf" d="M64.08 237h16.02v1h-16.02z"/>
<path fill="#cf9cae" d="M64.08 238h16.02v1h-16.02z"/>
<path fill="#fcc6db" d="M64.08 239h16.02v1h-16.02z"/>
<path fill="#f99393" d="M64.08 243h16.02v1h-16.02zM240.29 188h16.02v1h-16.02zM272.33 210h16.02v1h-16.02zM304.37 238h16.02v1h-16.02z"/>
<path fill="#f39696" d="M64.08 244h16.02v1h-16.02zM240.29 190h16.02v1h-16.02zM240.29 196h16.02v1h-16.02zM304.37 247h16.02v1h-16.02z"/>
<path fill="#fc9f9f" d="M64.08 245h16.02v1h-16.02zM96.12 230h16.02v1h-16.02zM112.13 192h16.02v1h-16.02zM240.29 191h16.02v1h-16.02zM304.37 246h16.02v1h-16.02zM368.44 264h16.02v1h-16.02z"/>
<path fill="#f0a2a2" d="M64.08 246h16.02v1h-16.02zM160.19 181h16.02v1h-16.02zM176.21 203h16.02v1h-16.02zM304.37 202h16.02v1h-16.02zM384.46 238h16.02v1h-16.02z"/>
<path fill="#f0b7b7" d="M64.08 248h16.02v1h-16.02z"/>
<path fill="#eac9de" d="M64.08 252h16.02v1h-16.02z"/>
<path fill="#e1c0d5" d="M64.08 253h16.02v1h-16.02z"/>
<path fill="#e49999" d="M64.08 255h16.02v1h-16.02zM336.4 202h16.02v1h-16.02z"/>
<path fill="#e1c0c6" d="M64.08 264h16.02v1h-16.02z"/>
<path fill="#ffe7ed" d="M64.08 265h16.02v1h-16.02zM400.48 247h16.02v1h-16.02z"/>
<path fill="#f9edf6" d="M64.08 266h16.02v1h-16.02zM304.37 312h16.02v1h-16.02z"/>
<path fill="#edbdbd" d="M64.08 271h16.02v1h-16.02zM352.42 237h16.02v1h-16.02zM384.46 277h16.02v1h-16.02z"/>
<path fill="#edc6c6" d="M64.08 277h16.02v1h-16.02zM384.46 284h16.02v1h-16.02z"/>
<path fill="#e4dbea" d="M64.08 278h16.02v1h-16.02zM80.1 419h16.02v1h-16.02z"/>
<path fill="#f6edfc" d="M64.08 279h16.02v1h-16.02zM176.21 249h16.02v1h-16.02z"/>
<path fill="#f9c9c9" d="M64.08 285h16.02v1h-16.02zM176.21 210h16.02v1h-16.02zM240.29 230h16.02v1h-16.02zM256.31 184h16.02v1h-16.02zM288.35 309h16.02v1h-16.02zM368.44 326h16.02v1h-16.02z"/>
<path fill="#f0d8d8" d="M64.08 292h16.02v1h-16.02z"/>
<path fill="#d8c0db" d="M64.08 298h16.02v1h-16.02zM96.12 319h16.02v1h-16.02z"/>
<path fill="#ead2ed" d="M64.08 299h16.02v1h-16.02z"/>
<path fill="#fceaea" d="M64.08 306h16.02v2h-16.02zM80.1 331h16.02v1h-16.02zM96.12 274h16.02v2h-16.02zM96.12 464h16.02v2h-16.02zM176.21 253h16.02v1h-16.02zM224.27 250h16.02v1h-16.02zM288.35 339h16.02v1h-16.02zM288.35 394h16.02v2h-16.02zM304.37 406h16.02v2h-16.02zM304.37 431h16.02v1h-16.02zM336.4 290h16.02v2h-16.02zM368.44 418h16.02v1h-16.02zM384.46 345h16.02v1h-16.02zM384.46 360h16.02v2h-16.02zM384.46 418h16.02v1h-16.02z"/>
<path fill="#f9e7e7" d="M64.08 311h16.02v1h-16.02zM80.1 302h16.02v1h-16.02zM224.27 264h16.02v1h-16.02zM288.35 379h16.02v1h-16.02zM304.37 383h16.02v1h-16.02zM384.46 303h16.02v1h-16.02zM384.46 323h16.02v1h-16.02z"/>
<path fill="#f0edf3" d="M64.08 313h16.02v1h-16.02zM304.37 416h16.02v1h-16.02zM304.37 533h16.02v1h-16.02z"/>
<path fill="#f9f6f6" d="M64.08 323h16.02v1h-16.02zM384.46 390h16.02v1h-16.02z"/>
<path fill="#f9f3f6" d="M64.08 329h16.02v1h-16.02zM80.1 312h16.02v1h-16.02zM240.29 443h16.02v1h-16.02zM256.31 201h16.02v1h-16.02zM256.31 213h16.02v1h-16.02zM272.33 345h16.02v2h-16.02zM288.35 405h16.02v1h-16.02zM288.35 408h16.02v1h-16.02zM320.38 248h16.02v1h-16.02zM384.46 364h16.02v2h-16.02zM400.48 365h16.02v1h-16.02z"/>
<path fill="#f0eaf3" d="M64.08 332h16.02v1h-16.02zM80.1 344h16.02v1h-16.02zM96.12 482h16.02v1h-16.02zM224.27 272h16.02v1h-16.02zM240.29 310h16.02v1h-16.02zM304.37 398h16.02v1h-16.02zM352.42 316h16.02v1h-16.02zM384.46 426h16.02v1h-16.02z"/>
<path fill="#cccced" d="M64.08 341h16.02v1h-16.02zM96.12 501h16.02v1h-16.02zM144.17 379h16.02v1h-16.02zM192.23 315h16.02v1h-16.02zM240.29 348h16.02v1h-16.02zM240.29 437h16.02v1h-16.02zM384.46 424h16.02v1h-16.02z"/>
<path fill="#dbd8ea" d="M64.08 348h16.02v1h-16.02zM80.1 523h16.02v1h-16.02zM336.4 523h16.02v1h-16.02z"/>
<path fill="#f6f6f9" d="M64.08 352h16.02v1h-16.02zM80.1 382h16.02v1h-16.02zM144.17 253h16.02v1h-16.02zM288.35 495h16.02v2h-16.02z"/>
<path fill="#f9f3fc" d="M64.08 354h16.02v1h-16.02zM112.13 432h16.02v1h-16.02zM224.27 273h16.02v1h-16.02zM240.29 311h16.02v1h-16.02zM384.46 427h16.02v1h-16.02z"/>
<path fill="#f3edf3" d="M64.08 355h16.02v1h-16.02zM112.13 433h16.02v1h-16.02zM240.29 185h16.02v1h-16.02z"/>
<path fill="#c6c6ea" d="M64.08 357h16.02v1h-16.02zM64.08 384h16.02v1h-16.02zM64.08 421h16.02v1h-16.02zM96.12 496h16.02v1h-16.02zM160.19 284h16.02v1h-16.02zM304.37 526h16.02v1h-16.02z"/>
<path fill="#d2d2ea" d="M64.08 363h16.02v1h-16.02zM128.15 222h16.02v1h-16.02zM144.17 322h16.02v1h-16.02zM176.21 461h16.02v1h-16.02zM192.23 279h16.02v1h-16.02zM224.27 460h16.02v1h-16.02zM240.29 303h16.02v1h-16.02zM304.37 485h16.02v1h-16.02zM352.42 370h16.02v1h-16.02zM352.42 482h16.02v1h-16.02z"/>
<path fill="#bdbdde" d="M64.08 371h16.02v1h-16.02zM320.38 341h16.02v1h-16.02z"/>
<path fill="#babae7" d="M64.08 372h16.02v1h-16.02zM176.21 510h16.02v1h-16.02zM176.21 532h16.02v1h-16.02z"/>
<path fill="#dbdbf3" d="M64.08 378h16.02v1h-16.02zM112.13 331h16.02v1h-16.02zM176.21 326h16.02v1h-16.02zM256.31 251h16.02v1h-16.02zM272.33 380h16.02v1h-16.02zM272.33 418h16.02v1h-16.02zM304.37 494h16.02v1h-16.02zM336.4 498h16.02v1h-16.02zM336.4 501h16.02v2h-16.02zM352.42 397h16.02v1h-16.02zM384.46 502h16.02v1h-16.02zM400.48 514h16.02v1h-16.02zM400.48 516h16.02v1h-16.02z"/>
<path fill="#8a8ac9" d="M64.08 380h16.02v1h-16.02zM288.35 518h16.02v1h-16.02z"/>
<path fill="#c3c3f3" d="M64.08 383h16.02v1h-16.02zM160.19 278h16.02v1h-16.02zM192.23 390h16.02v1h-16.02zM192.23 508h16.02v1h-16.02zM192.23 518h16.02v1h-16.02zM224.27 475h16.02v1h-16.02zM272.33 417h16.02v1h-16.02zM272.33 501h16.02v2h-16.02zM352.42 444h16.02v1h-16.02z"/>
<path fill="#7575cc" d="M64.08 390h16.02v1h-16.02zM112.13 475h16.02v1h-16.02z"/>
<path fill="#8a8ad8" d="M64.08 396h16.02v1h-16.02zM208.25 432h16.02v1h-16.02z"/>
<path fill="#9693c6" d="M64.08 399h16.02v1h-16.02z"/>
<path fill="#8d8dd8" d="M64.08 408h16.02v1h-16.02zM320.38 371h16.02v1h-16.02z"/>
<path fill="#c0c0f3" d="M64.08 411h16.02v1h-16.02zM192.23 476h16.02v1h-16.02z"/>
<path fill="#9f9fdb" d="M64.08 440h16.02v1h-16.02zM320.38 442h16.02v1h-16.02z"/>
<path fill="#7e7ecf" d="M64.08 457h16.02v1h-16.02z"/>
<path fill="#c3c3f0" d="M64.08 460h16.02v1h-16.02zM96.12 520h16.02v1h-16.02zM96.12 528h16.02v1h-16.02zM144.17 354h16.02v1h-16.02zM176.21 347h16.02v1h-16.02zM208.25 399h16.02v1h-16.02zM352.42 461h16.02v1h-16.02zM352.42 470h16.02v1h-16.02z"/>
<path fill="#aeaed5" d="M64.08 482h16.02v1h-16.02zM64.08 520h16.02v1h-16.02zM144.17 443h16.02v1h-16.02z"/>
<path fill="#9090cc" d="M64.08 485h16.02v1h-16.02z"/>
<path fill="#babaea" d="M64.08 494h16.02v1h-16.02zM144.17 450h16.02v1h-16.02zM176.21 502h16.02v1h-16.02zM208.25 532h16.02v1h-16.02zM256.31 303h16.02v1h-16.02z"/>
<path fill="#aeaef3" d="M64.08 498h16.02v1h-16.02zM208.25 527h16.02v1h-16.02zM224.27 396h16.02v1h-16.02zM256.31 276h16.02v1h-16.02z"/>
<path fill="#b4b4f6" d="M64.08 501h16.02v1h-16.02zM64.08 514h16.02v1h-16.02zM80.1 548h16.02v2h-16.02zM112.13 440h16.02v1h-16.02zM112.13 546h16.02v2h-16.02zM144.17 472h16.02v2h-16.02zM144.17 542h16.02v2h-16.02zM160.19 406h16.02v2h-16.02zM160.19 468h16.02v2h-16.02zM208.25 460h16.02v2h-16.02zM208.25 468h16.02v2h-16.02zM224.27 304h16.02v2h-16.02zM224.27 334h16.02v2h-16.02zM224.27 408h16.02v1h-16.02zM224.27 448h16.02v1h-16.02zM224.27 464h16.02v2h-16.02zM240.29 458h16.02v2h-16.02zM256.31 286h16.02v2h-16.02zM256.31 376h16.02v2h-16.02zM272.33 336h16.02v2h-16.02zM272.33 546h16.02v2h-16.02zM320.38 500h16.02v2h-16.02zM336.4 357h16.02v1h-16.02zM352.42 492h16.02v2h-16.02z"/>
<path fill="#9f9fff" d="M64.08 508h16.02v1h-16.02zM160.19 403h16.02v2h-16.02zM160.19 486h16.02v1h-16.02zM208.25 382h16.02v1h-16.02zM256.31 382h16.02v1h-16.02zM272.33 529h16.02v1h-16.02zM336.4 519h16.02v1h-16.02z"/>
<path fill="#6c6cdb" d="M64.08 509h16.02v1h-16.02zM160.19 352h16.02v1h-16.02z"/>
<path fill="#5151c6" d="M64.08 518h16.02v1h-16.02z"/>
<path fill="#c6c6e1" d="M64.08 523h16.02v1h-16.02zM176.21 419h16.02v1h-16.02zM208.25 272h16.02v1h-16.02zM352.42 496h16.02v1h-16.02z"/>
<path fill="#aeaee4" d="M64.08 540h16.02v1h-16.02zM176.21 391h16.02v1h-16.02zM192.23 425h16.02v1h-16.02zM272.33 365h16.02v1h-16.02zM272.33 471h16.02v1h-16.02zM336.4 424h16.02v1h-16.02z"/>
<path fill="#9f9ff6" d="M64.08 542h16.02v2h-16.02zM128.15 488h16.02v2h-16.02zM160.19 428h16.02v2h-16.02zM176.21 494h16.02v2h-16.02zM208.25 524h16.02v2h-16.02zM208.25 542h16.02v2h-16.02zM224.27 458h16.02v2h-16.02zM224.27 466h16.02v2h-16.02zM256.31 466h16.02v2h-16.02zM256.31 488h16.02v2h-16.02zM320.38 394h16.02v2h-16.02zM320.38 490h16.02v2h-16.02z"/>
<path fill="#f01b1b" d="M80.1 169h16.02v1h-16.02z"/>
<path fill="#e71e1e" d="M80.1 170h16.02v1h-16.02z"/>
<path fill="#f93333" d="M80.1 171h16.02v1h-16.02zM336.4 171h16.02v1h-16.02z"/>
<path fill="#f04545" d="M80.1 172h16.02v2h-16.02z"/>
<path fill="#ed1515" d="M80.1 174h16.02v2h-16.02zM96.12 174h16.02v2h-16.02zM112.13 169h16.02v1h-16.02zM384.46 169h16.02v1h-16.02z"/>
<path fill="#ff5151" d="M80.1 176h16.02v1h-16.02z"/>
<path fill="#d81e1e" d="M80.1 177h16.02v1h-16.02z"/>
<path fill="#db1e1e" d="M80.1 178h16.02v1h-16.02z"/>
<path fill="#ff4545" d="M80.1 179h16.02v1h-16.02z"/>
<path fill="#ff4848" d="M80.1 180h16.02v1h-16.02z"/>
<path fill="#e12a2a" d="M80.1 181h16.02v1h-16.02z"/>
<path fill="#f96060" d="M80.1 182h16.02v1h-16.02z"/>
<path fill="#ed5454" d="M80.1 183h16.02v1h-16.02z"/>
<path fill="#ed5757" d="M80.1 184h16.02v1h-16.02z"/>
<path fill="#f96666" d="M80.1 185h16.02v2h-16.02zM240.29 176h16.02v1h-16.02zM288.35 180h16.02v1h-16.02z"/>
<path fill="#f05d5d" d="M80.1 187h16.02v1h-16.02zM96.12 193h16.02v1h-16.02zM288.35 181h16.02v1h-16.02z"/>
<path fill="#ea5d5d" d="M80.1 188h16.02v1h-16.02zM96.12 186h16.02v1h-16.02z"/>
<path fill="#ff7575" d="M80.1 189h16.02v1h-16.02zM96.12 187h16.02v1h-16.02zM272.33 181h16.02v1h-16.02z"/>
<path fill="#ed6f6f" d="M80.1 190h16.02v1h-16.02z"/>
<path fill="#fc7e7e" d="M80.1 191h16.02v1h-16.02z"/>
<path fill="#ff7e7e" d="M80.1 192h16.02v1h-16.02zM288.35 183h16.02v1h-16.02zM288.35 196h16.02v1h-16.02zM320.38 176h16.02v1h-16.02z"/>
<path fill="#ea6c6c" d="M80.1 193h16.02v1h-16.02zM288.35 187h16.02v1h-16.02z"/>
<path fill="#fc9696" d="M80.1 196h16.02v1h-16.02zM176.21 183h16.02v1h-16.02zM224.27 187h16.02v1h-16.02zM288.35 203h16.02v1h-16.02zM336.4 193h16.02v1h-16.02z"/>
<path fill="#f38d8d" d="M80.1 197h16.02v1h-16.02zM176.21 182h16.02v1h-16.02zM224.27 186h16.02v1h-16.02zM288.35 202h16.02v1h-16.02z"/>
<path fill="#f37878" d="M80.1 201h16.02v1h-16.02z"/>
<path fill="#f67b7b" d="M80.1 202h16.02v2h-16.02zM96.12 194h16.02v2h-16.02zM96.12 218h16.02v2h-16.02zM128.15 172h16.02v2h-16.02zM288.35 218h16.02v2h-16.02zM336.4 184h16.02v1h-16.02zM400.48 198h16.02v2h-16.02z"/>
<path fill="#e78181" d="M80.1 204h16.02v1h-16.02z"/>
<path fill="#e77e7e" d="M80.1 208h16.02v1h-16.02z"/>
<path fill="#f98d8d" d="M80.1 210h16.02v1h-16.02zM160.19 177h16.02v1h-16.02z"/>
<path fill="#f38787" d="M80.1 211h16.02v1h-16.02zM176.21 187h16.02v1h-16.02zM400.48 211h16.02v1h-16.02z"/>
<path fill="#fc9c9c" d="M80.1 212h16.02v1h-16.02zM240.29 197h16.02v1h-16.02zM288.35 190h16.02v1h-16.02zM304.37 191h16.02v1h-16.02zM384.46 255h16.02v1h-16.02zM400.48 204h16.02v1h-16.02z"/>
<path fill="#f39393" d="M80.1 213h16.02v1h-16.02zM112.13 193h16.02v1h-16.02zM288.35 191h16.02v1h-16.02zM368.44 236h16.02v1h-16.02zM384.46 254h16.02v1h-16.02zM400.48 205h16.02v1h-16.02z"/>
<path fill="#f9b7b7" d="M80.1 220h16.02v2h-16.02zM96.12 216h16.02v2h-16.02zM96.12 240h16.02v2h-16.02zM112.13 235h16.02v1h-16.02zM160.19 194h16.02v2h-16.02zM288.35 274h16.02v2h-16.02zM288.35 290h16.02v2h-16.02zM304.37 280h16.02v2h-16.02zM352.42 206h16.02v2h-16.02zM384.46 267h16.02v1h-16.02zM400.48 228h16.02v2h-16.02zM400.48 274h16.02v2h-16.02z"/>
<path fill="#ffa5a5" d="M80.1 223h16.02v1h-16.02zM80.1 227h16.02v1h-16.02zM80.1 230h16.02v1h-16.02zM96.12 239h16.02v1h-16.02zM176.21 201h16.02v1h-16.02zM288.35 235h16.02v1h-16.02zM288.35 242h16.02v1h-16.02zM368.44 272h16.02v1h-16.02zM384.46 197h16.02v1h-16.02zM384.46 201h16.02v1h-16.02zM384.46 232h16.02v1h-16.02zM400.48 238h16.02v1h-16.02z"/>
<path fill="#f39999" d="M80.1 226h16.02v1h-16.02zM80.1 231h16.02v1h-16.02zM288.35 264h16.02v1h-16.02zM384.46 233h16.02v1h-16.02z"/>
<path fill="#f99696" d="M80.1 232h16.02v1h-16.02zM272.33 238h16.02v1h-16.02z"/>
<path fill="#f3abab" d="M80.1 235h16.02v1h-16.02zM304.37 205h16.02v1h-16.02zM304.37 293h16.02v1h-16.02zM320.38 185h16.02v1h-16.02zM400.48 297h16.02v1h-16.02z"/>
<path fill="#ffd5e1" d="M80.1 238h16.02v1h-16.02z"/>
<path fill="#cf99a5" d="M80.1 239h16.02v1h-16.02z"/>
<path fill="#ed9c9c" d="M80.1 253h16.02v1h-16.02zM336.4 253h16.02v1h-16.02z"/>
<path fill="#f0a8a8" d="M80.1 255h16.02v1h-16.02zM240.29 211h16.02v1h-16.02zM384.46 249h16.02v1h-16.02zM400.48 255h16.02v1h-16.02z"/>
<path fill="#f68484" d="M80.1 256h16.02v2h-16.02zM112.13 206h16.02v2h-16.02zM176.21 189h16.02v1h-16.02zM224.27 174h16.02v2h-16.02zM304.37 224h16.02v2h-16.02zM352.42 192h16.02v1h-16.02zM368.44 213h16.02v1h-16.02z"/>
<path fill="#e4c9c9" d="M80.1 261h16.02v1h-16.02z"/>
<path fill="#fcbdbd" d="M80.1 262h16.02v1h-16.02zM112.13 254h16.02v1h-16.02zM160.19 197h16.02v1h-16.02zM368.44 285h16.02v1h-16.02z"/>
<path fill="#f0baba" d="M80.1 264h16.02v1h-16.02zM176.21 235h16.02v1h-16.02zM240.29 227h16.02v1h-16.02zM288.35 299h16.02v1h-16.02zM304.37 273h16.02v1h-16.02z"/>
<path fill="#ffeaf0" d="M80.1 272h16.02v1h-16.02zM208.25 185h16.02v1h-16.02zM272.33 273h16.02v1h-16.02zM368.44 431h16.02v1h-16.02z"/>
<path fill="#e7c9cf" d="M80.1 273h16.02v1h-16.02z"/>
<path fill="#eac3c3" d="M80.1 277h16.02v1h-16.02z"/>
<path fill="#f3c6c6" d="M80.1 284h16.02v1h-16.02zM288.35 292h16.02v1h-16.02zM320.38 193h16.02v1h-16.02zM336.4 273h16.02v1h-16.02z"/>
<path fill="#f6d8d8" d="M80.1 293h16.02v1h-16.02zM224.27 234h16.02v1h-16.02zM224.27 255h16.02v1h-16.02zM288.35 350h16.02v1h-16.02zM336.4 308h16.02v1h-16.02zM352.42 308h16.02v1h-16.02z"/>
<path fill="#e4d2e4" d="M80.1 310h16.02v1h-16.02zM368.44 405h16.02v1h-16.02z"/>
<path fill="#f0def3" d="M80.1 311h16.02v1h-16.02z"/>
<path fill="#fcf6f9" d="M80.1 313h16.02v1h-16.02zM112.13 310h16.02v1h-16.02zM128.15 193h16.02v1h-16.02zM160.19 233h16.02v1h-16.02zM176.21 370h16.02v1h-16.02zM272.33 323h16.02v1h-16.02zM288.35 431h16.02v1h-16.02zM304.37 396h16.02v1h-16.02zM400.48 364h16.02v1h-16.02z"/>
<path fill="#eae1ed" d="M80.1 316h16.02v1h-16.02zM176.21 247h16.02v2h-16.02z"/>
<path fill="#f6eaf9" d="M80.1 317h16.02v1h-16.02z"/>
<path fill="#f3e7f0" d="M80.1 318h16.02v1h-16.02z"/>
<path fill="#f6eaf3" d="M80.1 319h16.02v1h-16.02zM80.1 436h16.02v1h-16.02zM320.38 211h16.02v1h-16.02z"/>
<path fill="#f6eaed" d="M80.1 323h16.02v1h-16.02zM96.12 314h16.02v1h-16.02zM208.25 232h16.02v1h-16.02z"/>
<path fill="#bdbadb" d="M80.1 341h16.02v1h-16.02z"/>
<path fill="#f9f3f3" d="M80.1 346h16.02v1h-16.02zM96.12 345h16.02v1h-16.02zM288.35 450h16.02v1h-16.02zM320.38 250h16.02v1h-16.02z"/>
<path fill="#dbdbea" d="M80.1 359h16.02v1h-16.02zM336.4 437h16.02v1h-16.02z"/>
<path fill="#fcf3f9" d="M80.1 363h16.02v1h-16.02zM272.33 347h16.02v1h-16.02zM336.4 409h16.02v1h-16.02zM352.42 354h16.02v1h-16.02z"/>
<path fill="#8787c3" d="M80.1 380h16.02v1h-16.02z"/>
<path fill="#a2a2d2" d="M80.1 388h16.02v1h-16.02zM176.21 496h16.02v1h-16.02zM336.4 388h16.02v1h-16.02z"/>
<path fill="#fcf6fc" d="M80.1 408h16.02v1h-16.02zM272.33 352h16.02v1h-16.02zM384.46 382h16.02v1h-16.02z"/>
<path fill="#f6f3f9" d="M80.1 409h16.02v1h-16.02zM112.13 292h16.02v1h-16.02zM240.29 539h16.02v1h-16.02zM384.46 372h16.02v1h-16.02z"/>
<path fill="#8787e4" d="M80.1 413h16.02v1h-16.02zM128.15 434h16.02v1h-16.02zM176.21 388h16.02v1h-16.02z"/>
<path fill="#f6edff" d="M80.1 418h16.02v1h-16.02zM192.23 236h16.02v1h-16.02zM240.29 299h16.02v1h-16.02zM352.42 340h16.02v1h-16.02zM400.48 378h16.02v1h-16.02zM400.48 389h16.02v1h-16.02zM400.48 449h16.02v1h-16.02z"/>
<path fill="#d5d5e7" d="M80.1 426h16.02v1h-16.02zM144.17 419h16.02v1h-16.02zM176.21 315h16.02v1h-16.02z"/>
<path fill="#7b7bdb" d="M80.1 430h16.02v1h-16.02zM208.25 424h16.02v1h-16.02zM256.31 284h16.02v1h-16.02z"/>
<path fill="#f3eaf9" d="M80.1 435h16.02v1h-16.02z"/>
<path fill="#f0e7f0" d="M80.1 437h16.02v1h-16.02zM96.12 403h16.02v1h-16.02zM368.44 526h16.02v1h-16.02z"/>
<path fill="#e1e1f3" d="M80.1 440h16.02v1h-16.02zM80.1 454h16.02v1h-16.02zM96.12 448h16.02v1h-16.02zM176.21 293h16.02v1h-16.02zM208.25 315h16.02v1h-16.02zM240.29 331h16.02v1h-16.02zM240.29 474h16.02v1h-16.02zM288.35 516h16.02v1h-16.02zM320.38 285h16.02v1h-16.02zM384.46 480h16.02v1h-16.02z"/>
<path fill="#e1dbea" d="M80.1 450h16.02v1h-16.02z"/>
<path fill="#8d8dcf" d="M80.1 460h16.02v1h-16.02z"/>
<path fill="#cfcff6" d="M80.1 470h16.02v1h-16.02zM96.12 439h16.02v1h-16.02zM112.13 416h16.02v1h-16.02zM112.13 452h16.02v1h-16.02zM112.13 522h16.02v1h-16.02zM144.17 298h16.02v1h-16.02zM176.21 396h16.02v1h-16.02zM208.25 310h16.02v1h-16.02zM272.33 415h16.02v1h-16.02zM336.4 414h16.02v1h-16.02zM352.42 391h16.02v1h-16.02zM384.46 438h16.02v1h-16.02zM400.48 417h16.02v1h-16.02z"/>
<path fill="#ccccf6" d="M80.1 476h16.02v1h-16.02zM96.12 502h16.02v1h-16.02zM128.15 244h16.02v1h-16.02zM192.23 522h16.02v1h-16.02zM336.4 447h16.02v1h-16.02z"/>
<path fill="#9c9ce4" d="M80.1 506h16.02v1h-16.02zM96.12 518h16.02v1h-16.02zM256.31 313h16.02v1h-16.02z"/>
<path fill="#dedef9" d="M80.1 515h16.02v1h-16.02zM144.17 263h16.02v1h-16.02zM160.19 249h16.02v1h-16.02zM160.19 259h16.02v1h-16.02zM176.21 382h16.02v1h-16.02zM224.27 284h16.02v1h-16.02zM240.29 478h16.02v1h-16.02zM272.33 356h16.02v1h-16.02zM272.33 382h16.02v1h-16.02zM320.38 326h16.02v1h-16.02zM320.38 432h16.02v1h-16.02zM336.4 418h16.02v1h-16.02zM352.42 455h16.02v1h-16.02z"/>
<path fill="#6969b7" d="M80.1 518h16.02v1h-16.02z"/>
<path fill="#6363ed" d="M80.1 524h16.02v2h-16.02zM128.15 428h16.02v2h-16.02z"/>
<path fill="#d8d8f3" d="M80.1 527h16.02v1h-16.02zM176.21 345h16.02v1h-16.02zM208.25 285h16.02v1h-16.02zM208.25 378h16.02v1h-16.02zM256.31 352h16.02v1h-16.02zM288.35 508h16.02v1h-16.02zM320.38 347h16.02v1h-16.02zM336.4 515h16.02v1h-16.02z"/>
<path fill="#8481bd" d="M80.1 532h16.02v1h-16.02z"/>
<path fill="#e7e7f3" d="M80.1 541h16.02v1h-16.02zM96.12 348h16.02v1h-16.02zM96.12 419h16.02v1h-16.02zM192.23 482h16.02v1h-16.02zM288.35 499h16.02v1h-16.02zM304.37 540h16.02v1h-16.02zM384.46 516h16.02v1h-16.02z"/>
<path fill="#f02121" d="M96.12 169h16.02v1h-16.02zM288.35 169h16.02v1h-16.02zM304.37 172h16.02v2h-16.02zM352.42 172h16.02v2h-16.02z"/>
<path fill="#ea2424" d="M96.12 170h16.02v1h-16.02z"/>
<path fill="#f32d2d" d="M96.12 171h16.02v1h-16.02z"/>
<path fill="#f03939" d="M96.12 176h16.02v2h-16.02zM176.21 174h16.02v2h-16.02zM288.35 172h16.02v2h-16.02zM320.38 169h16.02v1h-16.02z"/>
<path fill="#e43f3f" d="M96.12 178h16.02v1h-16.02zM160.19 171h16.02v1h-16.02z"/>
<path fill="#ff5d5d" d="M96.12 179h16.02v2h-16.02zM368.44 176h16.02v1h-16.02z"/>
<path fill="#e74848" d="M96.12 181h16.02v1h-16.02zM240.29 171h16.02v1h-16.02z"/>
<path fill="#e74242" d="M96.12 184h16.02v1h-16.02z"/>
<path fill="#fc5454" d="M96.12 185h16.02v1h-16.02z"/>
<path fill="#ff7272" d="M96.12 188h16.02v1h-16.02z"/>
<path fill="#de4848" d="M96.12 189h16.02v1h-16.02z"/>
<path fill="#ea5757" d="M96.12 190h16.02v1h-16.02zM400.48 200h16.02v1h-16.02z"/>
<path fill="#fc6666" d="M96.12 191h16.02v1h-16.02z"/>
<path fill="#f96969" d="M96.12 192h16.02v1h-16.02zM368.44 180h16.02v1h-16.02z"/>
<path fill="#e79393" d="M96.12 197h16.02v1h-16.02zM288.35 252h16.02v1h-16.02z"/>
<path fill="#f08787" d="M96.12 200h16.02v1h-16.02zM384.46 223h16.02v1h-16.02z"/>
<path fill="#fc9393" d="M96.12 201h16.02v1h-16.02zM176.21 186h16.02v1h-16.02z"/>
<path fill="#ed6969" d="M96.12 202h16.02v1h-16.02zM288.35 188h16.02v1h-16.02zM336.4 187h16.02v1h-16.02z"/>
<path fill="#fc7b7b" d="M96.12 203h16.02v1h-16.02zM368.44 249h16.02v1h-16.02z"/>
<path fill="#ea8181" d="M96.12 204h16.02v1h-16.02z"/>
<path fill="#f35a5a" d="M96.12 206h16.02v2h-16.02zM144.17 174h16.02v2h-16.02zM304.37 194h16.02v2h-16.02zM368.44 198h16.02v2h-16.02zM384.46 172h16.02v2h-16.02zM400.48 194h16.02v2h-16.02z"/>
<path fill="#ea8484" d="M96.12 209h16.02v1h-16.02zM304.37 255h16.02v1h-16.02z"/>
<path fill="#d8a5a5" d="M96.12 210h16.02v1h-16.02z"/>
<path fill="#f69999" d="M96.12 212h16.02v1h-16.02zM96.12 231h16.02v1h-16.02zM96.12 255h16.02v1h-16.02zM288.35 204h16.02v1h-16.02zM368.44 265h16.02v1h-16.02z"/>
<path fill="#f99999" d="M96.12 214h16.02v2h-16.02zM176.21 181h16.02v1h-16.02zM192.23 182h16.02v1h-16.02zM288.35 198h16.02v2h-16.02zM304.37 198h16.02v2h-16.02zM336.4 198h16.02v2h-16.02zM352.42 218h16.02v2h-16.02zM368.44 206h16.02v2h-16.02zM368.44 256h16.02v2h-16.02zM384.46 235h16.02v1h-16.02zM400.48 256h16.02v2h-16.02z"/>
<path fill="#ed8a8a" d="M96.12 222h16.02v1h-16.02zM112.13 190h16.02v1h-16.02zM256.31 177h16.02v1h-16.02zM304.37 235h16.02v1h-16.02zM384.46 211h16.02v1h-16.02zM384.46 213h16.02v1h-16.02z"/>
<path fill="#ed8787" d="M96.12 227h16.02v1h-16.02zM368.44 227h16.02v1h-16.02z"/>
<path fill="#f09999" d="M96.12 232h16.02v1h-16.02zM96.12 235h16.02v1h-16.02zM304.37 259h16.02v1h-16.02zM336.4 211h16.02v1h-16.02z"/>
<path fill="#e78787" d="M96.12 238h16.02v1h-16.02zM400.48 239h16.02v1h-16.02z"/>
<path fill="#fcb7b7" d="M96.12 245h16.02v1h-16.02zM112.13 234h16.02v1h-16.02zM288.35 279h16.02v1h-16.02zM320.38 183h16.02v1h-16.02zM336.4 261h16.02v1h-16.02zM384.46 259h16.02v1h-16.02z"/>
<path fill="#e79090" d="M96.12 247h16.02v1h-16.02z"/>
<path fill="#f3a5a5" d="M96.12 251h16.02v1h-16.02zM192.23 181h16.02v1h-16.02zM336.4 242h16.02v1h-16.02zM368.44 293h16.02v1h-16.02zM400.48 230h16.02v1h-16.02z"/>
<path fill="#f0b4b4" d="M96.12 260h16.02v1h-16.02zM384.46 297h16.02v1h-16.02z"/>
<path fill="#e4aeae" d="M96.12 266h16.02v1h-16.02z"/>
<path fill="#f9c0c0" d="M96.12 271h16.02v1h-16.02zM96.12 280h16.02v2h-16.02zM224.27 193h16.02v1h-16.02zM272.33 250h16.02v1h-16.02zM304.37 286h16.02v2h-16.02zM336.4 216h16.02v2h-16.02zM336.4 254h16.02v1h-16.02zM400.48 216h16.02v2h-16.02z"/>
<path fill="#f0cfcf" d="M96.12 277h16.02v1h-16.02zM288.35 331h16.02v1h-16.02zM304.37 333h16.02v1h-16.02zM336.4 329h16.02v1h-16.02zM368.44 317h16.02v1h-16.02z"/>
<path fill="#edd5d5" d="M96.12 284h16.02v1h-16.02z"/>
<path fill="#f3dbdb" d="M96.12 302h16.02v1h-16.02zM96.12 327h16.02v1h-16.02zM240.29 263h16.02v1h-16.02zM288.35 349h16.02v1h-16.02zM352.42 311h16.02v1h-16.02zM384.46 312h16.02v1h-16.02zM400.48 323h16.02v1h-16.02z"/>
<path fill="#e7d2ed" d="M96.12 318h16.02v1h-16.02z"/>
<path fill="#ded5e7" d="M96.12 323h16.02v1h-16.02zM96.12 400h16.02v1h-16.02z"/>
<path fill="#f3d8d8" d="M96.12 329h16.02v1h-16.02zM208.25 243h16.02v1h-16.02zM288.35 345h16.02v1h-16.02zM304.37 345h16.02v2h-16.02zM304.37 380h16.02v1h-16.02zM336.4 292h16.02v1h-16.02zM384.46 333h16.02v1h-16.02z"/>
<path fill="#f6f0f9" d="M96.12 330h16.02v1h-16.02zM96.12 483h16.02v1h-16.02zM112.13 323h16.02v1h-16.02zM192.23 343h16.02v1h-16.02zM320.38 297h16.02v1h-16.02zM336.4 362h16.02v1h-16.02z"/>
<path fill="#f6e7f0" d="M96.12 332h16.02v1h-16.02zM144.17 208h16.02v1h-16.02zM208.25 249h16.02v1h-16.02z"/>
<path fill="#f3e4ed" d="M96.12 333h16.02v1h-16.02zM144.17 223h16.02v1h-16.02z"/>
<path fill="#f3edf6" d="M96.12 359h16.02v1h-16.02zM160.19 238h16.02v1h-16.02zM304.37 419h16.02v1h-16.02zM384.46 415h16.02v2h-16.02z"/>
<path fill="#f6f0f6" d="M96.12 363h16.02v1h-16.02zM112.13 343h16.02v1h-16.02zM208.25 271h16.02v1h-16.02zM288.35 453h16.02v1h-16.02zM320.38 267h16.02v1h-16.02zM320.38 272h16.02v2h-16.02zM384.46 398h16.02v1h-16.02z"/>
<path fill="#c0c0e1" d="M96.12 364h16.02v1h-16.02zM144.17 303h16.02v1h-16.02zM240.29 501h16.02v1h-16.02z"/>
<path fill="#ccccea" d="M96.12 371h16.02v1h-16.02zM96.12 421h16.02v1h-16.02zM176.21 482h16.02v1h-16.02zM208.25 276h16.02v1h-16.02zM240.29 508h16.02v1h-16.02zM336.4 365h16.02v1h-16.02zM336.4 443h16.02v1h-16.02zM336.4 529h16.02v1h-16.02zM352.42 330h16.02v1h-16.02zM384.46 496h16.02v1h-16.02zM400.48 411h16.02v1h-16.02z"/>
<path fill="#a5a5e7" d="M96.12 373h16.02v1h-16.02zM128.15 260h16.02v1h-16.02zM144.17 535h16.02v1h-16.02zM208.25 474h16.02v1h-16.02zM256.31 461h16.02v1h-16.02zM400.48 509h16.02v1h-16.02z"/>
<path fill="#f6edf3" d="M96.12 387h16.02v1h-16.02zM288.35 427h16.02v1h-16.02zM368.44 433h16.02v1h-16.02z"/>
<path fill="#eaeaf6" d="M96.12 397h16.02v1h-16.02zM112.13 347h16.02v1h-16.02zM208.25 261h16.02v1h-16.02zM288.35 421h16.02v1h-16.02zM384.46 444h16.02v1h-16.02z"/>
<path fill="#f3e7fc" d="M96.12 401h16.02v1h-16.02z"/>
<path fill="#dedeed" d="M96.12 405h16.02v1h-16.02zM304.37 503h16.02v1h-16.02zM336.4 302h16.02v1h-16.02zM384.46 534h16.02v1h-16.02zM400.48 426h16.02v1h-16.02z"/>
<path fill="#6060bd" d="M96.12 411h16.02v1h-16.02zM176.21 457h16.02v1h-16.02z"/>
<path fill="#6060b1" d="M96.12 412h16.02v1h-16.02z"/>
<path fill="#d5d5ed" d="M96.12 426h16.02v1h-16.02zM176.21 363h16.02v1h-16.02zM224.27 298h16.02v1h-16.02zM256.31 264h16.02v1h-16.02zM352.42 474h16.02v1h-16.02z"/>
<path fill="#9c9cd5" d="M96.12 451h16.02v1h-16.02zM192.23 330h16.02v1h-16.02zM336.4 457h16.02v1h-16.02zM352.42 364h16.02v1h-16.02z"/>
<path fill="#c9c9ed" d="M96.12 453h16.02v1h-16.02zM96.12 532h16.02v1h-16.02zM160.19 540h16.02v1h-16.02zM176.21 338h16.02v1h-16.02zM176.21 341h16.02v1h-16.02zM240.29 511h16.02v1h-16.02zM272.33 385h16.02v1h-16.02zM400.48 431h16.02v1h-16.02z"/>
<path fill="#ccc9e1" d="M96.12 456h16.02v1h-16.02zM240.29 430h16.02v1h-16.02z"/>
<path fill="#c0c0e7" d="M96.12 479h16.02v2h-16.02zM240.29 346h16.02v1h-16.02z"/>
<path fill="#9999e4" d="M96.12 487h16.02v1h-16.02zM208.25 391h16.02v1h-16.02zM208.25 415h16.02v1h-16.02zM208.25 457h16.02v1h-16.02zM224.27 332h16.02v1h-16.02zM256.31 370h16.02v1h-16.02z"/>
<path fill="#4848a8" d="M96.12 505h16.02v1h-16.02z"/>
<path fill="#4545ba" d="M96.12 506h16.02v1h-16.02z"/>
<path fill="#d8d8f9" d="M96.12 508h16.02v1h-16.02zM176.21 322h16.02v1h-16.02zM192.23 416h16.02v1h-16.02zM208.25 332h16.02v1h-16.02zM240.29 448h16.02v1h-16.02zM256.31 296h16.02v1h-16.02zM336.4 426h16.02v1h-16.02zM352.42 511h16.02v1h-16.02zM400.48 520h16.02v1h-16.02z"/>
<path fill="#6f6fc9" d="M96.12 516h16.02v1h-16.02zM256.31 245h16.02v1h-16.02z"/>
<path fill="#d8d8ea" d="M96.12 522h16.02v1h-16.02z"/>
<path fill="#dedef3" d="M96.12 536h16.02v1h-16.02zM112.13 315h16.02v1h-16.02zM192.23 309h16.02v1h-16.02zM192.23 533h16.02v1h-16.02z"/>
<path fill="#dedbea" d="M96.12 539h16.02v1h-16.02zM352.42 512h16.02v1h-16.02z"/>
<path fill="#e41818" d="M112.13 170h16.02v1h-16.02z"/>
<path fill="#fc3333" d="M112.13 171h16.02v1h-16.02z"/>
<path fill="#f02424" d="M112.13 172h16.02v2h-16.02zM208.25 172h16.02v2h-16.02z"/>
<path fill="#e42d2d" d="M112.13 176h16.02v1h-16.02z"/>
<path fill="#fc4545" d="M112.13 177h16.02v1h-16.02z"/>
<path fill="#ea4b4b" d="M112.13 178h16.02v1h-16.02zM352.42 176h16.02v1h-16.02z"/>
<path fill="#fc5d5d" d="M112.13 179h16.02v1h-16.02z"/>
<path fill="#f66969" d="M112.13 181h16.02v1h-16.02zM176.21 177h16.02v1h-16.02z"/>
<path fill="#f38484" d="M112.13 182h16.02v1h-16.02zM352.42 191h16.02v1h-16.02zM352.42 202h16.02v1h-16.02zM368.44 254h16.02v1h-16.02z"/>
<path fill="#fc9090" d="M112.13 183h16.02v1h-16.02zM368.44 197h16.02v1h-16.02z"/>
<path fill="#ff8484" d="M112.13 184h16.02v1h-16.02zM192.23 176h16.02v1h-16.02zM288.35 185h16.02v2h-16.02zM352.42 189h16.02v1h-16.02zM368.44 211h16.02v1h-16.02zM368.44 246h16.02v1h-16.02z"/>
<path fill="#e76969" d="M112.13 185h16.02v1h-16.02zM288.35 184h16.02v1h-16.02z"/>
<path fill="#ed6666" d="M112.13 186h16.02v1h-16.02zM304.37 181h16.02v1h-16.02z"/>
<path fill="#fc7575" d="M112.13 187h16.02v1h-16.02z"/>
<path fill="#f07b7b" d="M112.13 188h16.02v1h-16.02z"/>
<path fill="#f68d8d" d="M112.13 197h16.02v1h-16.02zM176.21 198h16.02v2h-16.02zM208.25 194h16.02v2h-16.02zM288.35 228h16.02v2h-16.02zM288.35 256h16.02v2h-16.02zM352.42 228h16.02v2h-16.02zM384.46 206h16.02v2h-16.02z"/>
<path fill="#f08484" d="M112.13 200h16.02v1h-16.02zM368.44 196h16.02v1h-16.02z"/>
<path fill="#fc8d8d" d="M112.13 201h16.02v1h-16.02zM352.42 190h16.02v1h-16.02z"/>
<path fill="#fcabab" d="M112.13 202h16.02v1h-16.02zM112.13 239h16.02v1h-16.02zM192.23 203h16.02v1h-16.02zM400.48 237h16.02v1h-16.02z"/>
<path fill="#f6a8a8" d="M112.13 203h16.02v1h-16.02zM192.23 189h16.02v1h-16.02zM192.23 197h16.02v1h-16.02zM192.23 202h16.02v1h-16.02zM304.37 237h16.02v1h-16.02zM320.38 186h16.02v1h-16.02zM336.4 239h16.02v1h-16.02zM400.48 236h16.02v1h-16.02z"/>
<path fill="#f09393" d="M112.13 211h16.02v1h-16.02zM352.42 239h16.02v1h-16.02zM400.48 227h16.02v1h-16.02z"/>
<path fill="#ed9090" d="M112.13 213h16.02v1h-16.02zM208.25 182h16.02v1h-16.02zM224.27 185h16.02v1h-16.02zM288.35 234h16.02v1h-16.02zM288.35 243h16.02v1h-16.02z"/>
<path fill="#fcb4b4" d="M112.13 222h16.02v1h-16.02zM192.23 208h16.02v1h-16.02zM272.33 252h16.02v1h-16.02zM400.48 258h16.02v1h-16.02zM400.48 271h16.02v2h-16.02z"/>
<path fill="#f6aeae" d="M112.13 223h16.02v1h-16.02zM192.23 209h16.02v1h-16.02zM272.33 253h16.02v1h-16.02z"/>
<path fill="#edc6db" d="M112.13 226h16.02v1h-16.02z"/>
<path fill="#dbb1c6" d="M112.13 227h16.02v1h-16.02z"/>
<path fill="#eacfde" d="M112.13 230h16.02v1h-16.02z"/>
<path fill="#f3dbe7" d="M112.13 231h16.02v1h-16.02z"/>
<path fill="#ffd5e4" d="M112.13 232h16.02v1h-16.02zM384.46 204h16.02v1h-16.02z"/>
<path fill="#dbb4c0" d="M112.13 233h16.02v1h-16.02zM144.17 187h16.02v1h-16.02zM240.29 212h16.02v1h-16.02zM384.46 205h16.02v1h-16.02z"/>
<path fill="#fcedf3" d="M112.13 236h16.02v1h-16.02z"/>
<path fill="#f0e1e7" d="M112.13 237h16.02v1h-16.02z"/>
<path fill="#f9e1e1" d="M112.13 248h16.02v1h-16.02zM256.31 209h16.02v1h-16.02zM288.35 302h16.02v1h-16.02zM304.37 322h16.02v1h-16.02zM352.42 326h16.02v1h-16.02zM368.44 399h16.02v1h-16.02zM368.44 483h16.02v1h-16.02z"/>
<path fill="#eabdbd" d="M112.13 250h16.02v1h-16.02z"/>
<path fill="#f6bdbd" d="M112.13 252h16.02v1h-16.02zM208.25 197h16.02v1h-16.02zM368.44 330h16.02v1h-16.02z"/>
<path fill="#f0d5d5" d="M112.13 260h16.02v1h-16.02z"/>
<path fill="#e1d8ea" d="M112.13 273h16.02v1h-16.02zM192.23 237h16.02v1h-16.02zM400.48 448h16.02v1h-16.02z"/>
<path fill="#f3e4e4" d="M112.13 284h16.02v1h-16.02zM144.17 227h16.02v1h-16.02zM288.35 317h16.02v1h-16.02zM368.44 408h16.02v1h-16.02zM368.44 449h16.02v1h-16.02zM368.44 538h16.02v1h-16.02zM384.46 339h16.02v1h-16.02zM384.46 353h16.02v1h-16.02z"/>
<path fill="#d8d8ed" d="M112.13 308h16.02v1h-16.02zM192.23 437h16.02v1h-16.02zM240.29 384h16.02v1h-16.02z"/>
<path fill="#ede4f0" d="M112.13 322h16.02v1h-16.02zM336.4 363h16.02v1h-16.02z"/>
<path fill="#d2d2e7" d="M112.13 348h16.02v1h-16.02z"/>
<path fill="#b1aed5" d="M112.13 357h16.02v1h-16.02z"/>
<path fill="#f0e1f6" d="M112.13 358h16.02v1h-16.02z"/>
<path fill="#decfe4" d="M112.13 359h16.02v1h-16.02z"/>
<path fill="#7878e4" d="M112.13 362h16.02v1h-16.02zM256.31 440h16.02v1h-16.02zM256.31 536h16.02v1h-16.02z"/>
<path fill="#9393ff" d="M112.13 363h16.02v1h-16.02zM128.15 302h16.02v1h-16.02zM128.15 324h16.02v1h-16.02zM144.17 471h16.02v1h-16.02zM160.19 456h16.02v1h-16.02zM160.19 508h16.02v1h-16.02zM208.25 385h16.02v1h-16.02zM256.31 420h16.02v1h-16.02zM320.38 389h16.02v1h-16.02zM320.38 417h16.02v1h-16.02z"/>
<path fill="#9f9fcc" d="M112.13 388h16.02v1h-16.02z"/>
<path fill="#b7b7e7" d="M112.13 396h16.02v1h-16.02zM224.27 447h16.02v1h-16.02zM384.46 528h16.02v1h-16.02z"/>
<path fill="#a5a5d8" d="M112.13 400h16.02v1h-16.02zM144.17 452h16.02v1h-16.02z"/>
<path fill="#4848ae" d="M112.13 411h16.02v1h-16.02z"/>
<path fill="#4545c6" d="M112.13 412h16.02v1h-16.02z"/>
<path fill="#9696ff" d="M112.13 413h16.02v1h-16.02zM128.15 496h16.02v1h-16.02zM256.31 348h16.02v1h-16.02zM256.31 441h16.02v1h-16.02zM256.31 526h16.02v1h-16.02zM272.33 457h16.02v1h-16.02zM320.38 439h16.02v1h-16.02z"/>
<path fill="#b4b1d5" d="M112.13 419h16.02v1h-16.02z"/>
<path fill="#9090d2" d="M112.13 420h16.02v1h-16.02zM256.31 233h16.02v1h-16.02zM400.48 420h16.02v1h-16.02z"/>
<path fill="#cfcff0" d="M112.13 434h16.02v1h-16.02z"/>
<path fill="#b4b4e1" d="M112.13 437h16.02v1h-16.02zM208.25 312h16.02v1h-16.02z"/>
<path fill="#8787de" d="M112.13 438h16.02v1h-16.02zM192.23 497h16.02v1h-16.02z"/>
<path fill="#bdbddb" d="M112.13 442h16.02v1h-16.02z"/>
<path fill="#ababde" d="M112.13 470h16.02v1h-16.02zM160.19 356h16.02v1h-16.02zM176.21 385h16.02v1h-16.02zM336.4 496h16.02v1h-16.02z"/>
<path fill="#7b7bd5" d="M112.13 476h16.02v1h-16.02zM144.17 373h16.02v1h-16.02zM144.17 484h16.02v1h-16.02zM160.19 359h16.02v1h-16.02zM160.19 438h16.02v1h-16.02zM256.31 365h16.02v1h-16.02zM272.33 478h16.02v1h-16.02z"/>
<path fill="#9393e4" d="M112.13 479h16.02v2h-16.02zM112.13 505h16.02v1h-16.02zM144.17 504h16.02v1h-16.02zM160.19 449h16.02v1h-16.02zM272.33 536h16.02v1h-16.02z"/>
<path fill="#bab7d8" d="M112.13 482h16.02v1h-16.02z"/>
<path fill="#babadb" d="M112.13 503h16.02v1h-16.02zM320.38 253h16.02v1h-16.02z"/>
<path fill="#9393ed" d="M112.13 506h16.02v1h-16.02zM320.38 418h16.02v1h-16.02z"/>
<path fill="#a2a2fc" d="M112.13 507h16.02v1h-16.02zM320.38 419h16.02v1h-16.02z"/>
<path fill="#6060cf" d="M112.13 518h16.02v1h-16.02z"/>
<path fill="#7878ff" d="M112.13 528h16.02v1h-16.02zM128.15 522h16.02v1h-16.02zM160.19 483h16.02v1h-16.02z"/>
<path fill="#5454db" d="M112.13 529h16.02v1h-16.02z"/>
<path fill="#7272cf" d="M112.13 533h16.02v1h-16.02zM240.29 420h16.02v1h-16.02zM272.33 445h16.02v1h-16.02z"/>
<path fill="#8a8af6" d="M112.13 536h16.02v1h-16.02zM128.15 498h16.02v1h-16.02z"/>
<path fill="#8181ed" d="M112.13 537h16.02v1h-16.02zM160.19 401h16.02v1h-16.02z"/>
<path fill="#6363d2" d="M112.13 539h16.02v1h-16.02zM320.38 474h16.02v1h-16.02z"/>
<path fill="#6363db" d="M112.13 540h16.02v1h-16.02z"/>
<path fill="#e77b7b" d="M128.15 171h16.02v1h-16.02zM224.27 178h16.02v1h-16.02zM224.27 181h16.02v1h-16.02z"/>
<path fill="#e1abab" d="M128.15 178h16.02v1h-16.02z"/>
<path fill="#edc9c9" d="M128.15 181h16.02v1h-16.02zM272.33 311h16.02v1h-16.02z"/>
<path fill="#f6e4e4" d="M128.15 182h16.02v1h-16.02zM176.21 260h16.02v1h-16.02zM304.37 314h16.02v1h-16.02zM336.4 325h16.02v2h-16.02zM352.42 329h16.02v1h-16.02zM400.48 356h16.02v1h-16.02z"/>
<path fill="#e7e4f0" d="M128.15 202h16.02v1h-16.02zM208.25 296h16.02v1h-16.02zM352.42 353h16.02v1h-16.02z"/>
<path fill="#9c9cd8" d="M128.15 254h16.02v1h-16.02zM144.17 513h16.02v1h-16.02z"/>
<path fill="#4848b7" d="M128.15 267h16.02v1h-16.02zM224.27 534h16.02v1h-16.02z"/>
<path fill="#7b7be7" d="M128.15 270h16.02v1h-16.02zM128.15 449h16.02v1h-16.02zM320.38 437h16.02v1h-16.02z"/>
<path fill="#ababf0" d="M128.15 277h16.02v1h-16.02zM160.19 452h16.02v1h-16.02zM176.21 386h16.02v1h-16.02zM176.21 528h16.02v1h-16.02zM320.38 364h16.02v1h-16.02zM320.38 540h16.02v1h-16.02zM400.48 510h16.02v1h-16.02z"/>
<path fill="#a5a5ea" d="M128.15 285h16.02v1h-16.02zM144.17 422h16.02v1h-16.02zM176.21 486h16.02v1h-16.02zM224.27 387h16.02v1h-16.02z"/>
<path fill="#4545ea" d="M128.15 288h16.02v2h-16.02zM224.27 528h16.02v2h-16.02z"/>
<path fill="#3636b4" d="M128.15 296h16.02v1h-16.02z"/>
<path fill="#3f3fd5" d="M128.15 298h16.02v1h-16.02z"/>
<path fill="#6f6fff" d="M128.15 299h16.02v1h-16.02zM128.15 527h16.02v1h-16.02z"/>
<path fill="#6c6cde" d="M128.15 303h16.02v1h-16.02z"/>
<path fill="#5151c0" d="M128.15 310h16.02v1h-16.02z"/>
<path fill="#6f6fe7" d="M128.15 312h16.02v1h-16.02zM256.31 388h16.02v1h-16.02z"/>
<path fill="#8d8dff" d="M128.15 314h16.02v1h-16.02zM128.15 398h16.02v1h-16.02zM128.15 478h16.02v1h-16.02zM144.17 523h16.02v1h-16.02zM256.31 339h16.02v2h-16.02zM256.31 391h16.02v1h-16.02zM256.31 514h16.02v1h-16.02zM320.38 414h16.02v1h-16.02z"/>
<path fill="#6969de" d="M128.15 315h16.02v1h-16.02zM256.31 421h16.02v1h-16.02zM320.38 415h16.02v2h-16.02z"/>
<path fill="#3c3cb4" d="M128.15 316h16.02v1h-16.02z"/>
<path fill="#5757d2" d="M128.15 325h16.02v1h-16.02z"/>
<path fill="#5757cf" d="M128.15 326h16.02v1h-16.02z"/>
<path fill="#9999ff" d="M128.15 327h16.02v1h-16.02zM128.15 333h16.02v1h-16.02zM128.15 541h16.02v1h-16.02zM144.17 495h16.02v1h-16.02zM208.25 504h16.02v1h-16.02zM256.31 537h16.02v1h-16.02zM320.38 339h16.02v1h-16.02zM320.38 440h16.02v1h-16.02zM320.38 508h16.02v1h-16.02zM320.38 520h16.02v1h-16.02zM352.42 523h16.02v1h-16.02z"/>
<path fill="#4242ea" d="M128.15 328h16.02v2h-16.02zM160.19 394h16.02v2h-16.02z"/>
<path fill="#9696f6" d="M128.15 331h16.02v1h-16.02zM128.15 359h16.02v1h-16.02z"/>
<path fill="#2d2dba" d="M128.15 332h16.02v1h-16.02zM128.15 497h16.02v1h-16.02z"/>
<path fill="#5151ed" d="M128.15 336h16.02v2h-16.02zM128.15 524h16.02v2h-16.02z"/>
<path fill="#4848ba" d="M128.15 338h16.02v1h-16.02z"/>
<path fill="#6666cc" d="M128.15 341h16.02v1h-16.02zM256.31 315h16.02v1h-16.02z"/>
<path fill="#6363e4" d="M128.15 344h16.02v1h-16.02z"/>
<path fill="#7b7bfc" d="M128.15 345h16.02v1h-16.02z"/>
<path fill="#7b7bff" d="M128.15 346h16.02v1h-16.02zM128.15 440h16.02v1h-16.02zM128.15 455h16.02v1h-16.02zM128.15 500h16.02v1h-16.02zM128.15 533h16.02v1h-16.02zM160.19 480h16.02v1h-16.02zM256.31 519h16.02v1h-16.02zM320.38 425h16.02v1h-16.02zM320.38 536h16.02v1h-16.02z"/>
<path fill="#4545d2" d="M128.15 347h16.02v1h-16.02z"/>
<path fill="#5a5af3" d="M128.15 348h16.02v1h-16.02z"/>
<path fill="#4b4be4" d="M128.15 349h16.02v1h-16.02z"/>
<path fill="#4e4ec3" d="M128.15 350h16.02v1h-16.02z"/>
<path fill="#3030b4" d="M128.15 353h16.02v1h-16.02zM128.15 420h16.02v1h-16.02zM128.15 423h16.02v1h-16.02zM128.15 437h16.02v1h-16.02z"/>
<path fill="#4545c9" d="M128.15 354h16.02v1h-16.02zM128.15 451h16.02v1h-16.02z"/>
<path fill="#4242c9" d="M128.15 357h16.02v1h-16.02z"/>
<path fill="#6666e7" d="M128.15 362h16.02v1h-16.02z"/>
<path fill="#7575f6" d="M128.15 363h16.02v1h-16.02z"/>
<path fill="#7272f3" d="M128.15 364h16.02v1h-16.02zM160.19 516h16.02v1h-16.02z"/>
<path fill="#6c6ced" d="M128.15 365h16.02v1h-16.02z"/>
<path fill="#6f6fcc" d="M128.15 371h16.02v1h-16.02z"/>
<path fill="#6969f3" d="M128.15 372h16.02v1h-16.02z"/>
<path fill="#6060ea" d="M128.15 373h16.02v1h-16.02z"/>
<path fill="#2a2ad2" d="M128.15 378h16.02v1h-16.02zM128.15 508h16.02v1h-16.02z"/>
<path fill="#6060ff" d="M128.15 379h16.02v1h-16.02zM128.15 509h16.02v1h-16.02z"/>
<path fill="#5454b7" d="M128.15 381h16.02v1h-16.02z"/>
<path fill="#4545e4" d="M128.15 382h16.02v1h-16.02z"/>
<path fill="#5454f3" d="M128.15 383h16.02v1h-16.02z"/>
<path fill="#5a5adb" d="M128.15 384h16.02v1h-16.02z"/>
<path fill="#8484ff" d="M128.15 385h16.02v1h-16.02zM128.15 417h16.02v1h-16.02zM128.15 460h16.02v1h-16.02zM208.25 431h16.02v1h-16.02z"/>
<path fill="#8484f0" d="M128.15 386h16.02v1h-16.02z"/>
<path fill="#2a2ad8" d="M128.15 388h16.02v1h-16.02zM128.15 402h16.02v1h-16.02z"/>
<path fill="#5151ff" d="M128.15 389h16.02v1h-16.02z"/>
<path fill="#6c6ce1" d="M128.15 391h16.02v1h-16.02zM256.31 246h16.02v1h-16.02z"/>
<path fill="#5454d2" d="M128.15 397h16.02v1h-16.02zM144.17 522h16.02v1h-16.02zM160.19 457h16.02v1h-16.02z"/>
<path fill="#2d2dbd" d="M128.15 401h16.02v1h-16.02z"/>
<path fill="#5151fc" d="M128.15 403h16.02v1h-16.02z"/>
<path fill="#6363cf" d="M128.15 405h16.02v1h-16.02z"/>
<path fill="#2a2acc" d="M128.15 408h16.02v1h-16.02z"/>
<path fill="#6969ff" d="M128.15 409h16.02v1h-16.02z"/>
<path fill="#6c6cf0" d="M128.15 410h16.02v1h-16.02zM256.31 368h16.02v2h-16.02z"/>
<path fill="#6969ed" d="M128.15 411h16.02v1h-16.02z"/>
<path fill="#6c6ccf" d="M128.15 412h16.02v1h-16.02z"/>
<path fill="#5d5df6" d="M128.15 414h16.02v1h-16.02z"/>
<path fill="#4545e1" d="M128.15 415h16.02v1h-16.02z"/>
<path fill="#4848d2" d="M128.15 416h16.02v1h-16.02z"/>
<path fill="#4242de" d="M128.15 418h16.02v1h-16.02z"/>
<path fill="#5d5df9" d="M128.15 419h16.02v1h-16.02z"/>
<path fill="#7272f0" d="M128.15 426h16.02v1h-16.02zM128.15 464h16.02v2h-16.02zM160.19 338h16.02v2h-16.02zM176.21 374h16.02v2h-16.02zM224.27 320h16.02v2h-16.02zM256.31 401h16.02v1h-16.02zM320.38 542h16.02v2h-16.02zM320.38 546h16.02v2h-16.02z"/>
<path fill="#7575f3" d="M128.15 427h16.02v1h-16.02z"/>
<path fill="#4242ed" d="M128.15 430h16.02v1h-16.02z"/>
<path fill="#3c3ce7" d="M128.15 431h16.02v1h-16.02z"/>
<path fill="#3f3fd8" d="M128.15 432h16.02v1h-16.02z"/>
<path fill="#6666ff" d="M128.15 433h16.02v1h-16.02z"/>
<path fill="#7575ed" d="M128.15 438h16.02v1h-16.02zM128.15 520h16.02v1h-16.02zM160.19 529h16.02v1h-16.02z"/>
<path fill="#7e7ef6" d="M128.15 439h16.02v1h-16.02z"/>
<path fill="#3c3ccf" d="M128.15 441h16.02v1h-16.02zM128.15 501h16.02v1h-16.02z"/>
<path fill="#a5a5e4" d="M128.15 443h16.02v1h-16.02zM144.17 475h16.02v1h-16.02zM160.19 411h16.02v1h-16.02zM272.33 378h16.02v1h-16.02zM352.42 509h16.02v1h-16.02z"/>
<path fill="#8787d5" d="M128.15 445h16.02v1h-16.02zM208.25 447h16.02v1h-16.02z"/>
<path fill="#8484ed" d="M128.15 446h16.02v1h-16.02z"/>
<path fill="#9090f9" d="M128.15 447h16.02v1h-16.02z"/>
<path fill="#4848f9" d="M128.15 452h16.02v1h-16.02z"/>
<path fill="#2a2adb" d="M128.15 453h16.02v1h-16.02z"/>
<path fill="#2d2dc6" d="M128.15 454h16.02v1h-16.02zM128.15 523h16.02v1h-16.02zM256.31 518h16.02v1h-16.02z"/>
<path fill="#4e4ed8" d="M128.15 457h16.02v1h-16.02zM320.38 537h16.02v1h-16.02z"/>
<path fill="#4545cf" d="M128.15 461h16.02v1h-16.02z"/>
<path fill="#5151ea" d="M128.15 470h16.02v1h-16.02zM144.17 521h16.02v1h-16.02z"/>
<path fill="#5757f0" d="M128.15 471h16.02v1h-16.02zM144.17 520h16.02v1h-16.02z"/>
<path fill="#4545cc" d="M128.15 474h16.02v1h-16.02z"/>
<path fill="#8787ff" d="M128.15 475h16.02v1h-16.02zM160.19 519h16.02v1h-16.02zM208.25 476h16.02v1h-16.02zM256.31 481h16.02v1h-16.02z"/>
<path fill="#3636c3" d="M128.15 476h16.02v1h-16.02z"/>
<path fill="#5454c0" d="M128.15 480h16.02v1h-16.02zM224.27 502h16.02v1h-16.02z"/>
<path fill="#3636ae" d="M128.15 483h16.02v1h-16.02z"/>
<path fill="#4848ea" d="M128.15 484h16.02v1h-16.02zM256.31 224h16.02v2h-16.02zM320.38 462h16.02v2h-16.02z"/>
<path fill="#4848ed" d="M128.15 485h16.02v1h-16.02z"/>
<path fill="#4848e1" d="M128.15 486h16.02v1h-16.02z"/>
<path fill="#6363f9" d="M128.15 487h16.02v1h-16.02z"/>
<path fill="#2a2ae7" d="M128.15 492h16.02v2h-16.02z"/>
<path fill="#8d8dea" d="M128.15 494h16.02v1h-16.02zM224.27 485h16.02v1h-16.02z"/>
<path fill="#9c9cfc" d="M128.15 495h16.02v1h-16.02zM208.25 509h16.02v1h-16.02z"/>
<path fill="#7e7eed" d="M128.15 499h16.02v1h-16.02zM224.27 480h16.02v1h-16.02zM256.31 354h16.02v1h-16.02z"/>
<path fill="#3c3cde" d="M128.15 502h16.02v1h-16.02z"/>
<path fill="#5454f6" d="M128.15 503h16.02v1h-16.02z"/>
<path fill="#6c6cff" d="M128.15 504h16.02v1h-16.02zM256.31 456h16.02v1h-16.02z"/>
<path fill="#3030cf" d="M128.15 505h16.02v1h-16.02z"/>
<path fill="#2d2dea" d="M128.15 506h16.02v1h-16.02zM128.15 548h16.02v2h-16.02zM160.19 490h16.02v2h-16.02z"/>
<path fill="#2727e7" d="M128.15 507h16.02v1h-16.02zM128.15 542h16.02v2h-16.02z"/>
<path fill="#5151e4" d="M128.15 510h16.02v1h-16.02z"/>
<path fill="#6666f9" d="M128.15 511h16.02v2h-16.02z"/>
<path fill="#4e4ee1" d="M128.15 513h16.02v1h-16.02z"/>
<path fill="#7878f3" d="M128.15 514h16.02v1h-16.02zM128.15 539h16.02v1h-16.02z"/>
<path fill="#7272ed" d="M128.15 515h16.02v1h-16.02zM128.15 538h16.02v1h-16.02z"/>
<path fill="#6969e4" d="M128.15 516h16.02v1h-16.02z"/>
<path fill="#8181fc" d="M128.15 517h16.02v1h-16.02z"/>
<path fill="#2d2dcc" d="M128.15 518h16.02v1h-16.02zM256.31 457h16.02v1h-16.02z"/>
<path fill="#7272ff" d="M128.15 519h16.02v1h-16.02z"/>
<path fill="#7b7bf3" d="M128.15 521h16.02v1h-16.02z"/>
<path fill="#4242d8" d="M128.15 526h16.02v1h-16.02z"/>
<path fill="#5454fc" d="M128.15 528h16.02v1h-16.02z"/>
<path fill="#3333db" d="M128.15 529h16.02v1h-16.02z"/>
<path fill="#5151d8" d="M128.15 532h16.02v1h-16.02z"/>
<path fill="#5757e1" d="M128.15 534h16.02v1h-16.02z"/>
<path fill="#7575ff" d="M128.15 535h16.02v1h-16.02zM256.31 512h16.02v1h-16.02zM272.33 477h16.02v1h-16.02z"/>
<path fill="#7575fc" d="M128.15 536h16.02v1h-16.02z"/>
<path fill="#5d5de4" d="M128.15 537h16.02v1h-16.02z"/>
<path fill="#7b7be4" d="M128.15 540h16.02v1h-16.02z"/>
<path fill="#3636ea" d="M128.15 546h16.02v2h-16.02z"/>
<path fill="#ea4242" d="M144.17 170h16.02v1h-16.02z"/>
<path fill="#f95151" d="M144.17 171h16.02v1h-16.02z"/>
<path fill="#f67575" d="M144.17 172h16.02v2h-16.02zM192.23 169h16.02v1h-16.02zM224.27 177h16.02v1h-16.02zM304.37 216h16.02v4h-16.02zM336.4 206h16.02v2h-16.02zM336.4 218h16.02v2h-16.02z"/>
<path fill="#ff8181" d="M144.17 176h16.02v1h-16.02zM336.4 191h16.02v1h-16.02zM368.44 202h16.02v1h-16.02z"/>
<path fill="#ea6f6f" d="M144.17 177h16.02v1h-16.02zM192.23 177h16.02v1h-16.02zM368.44 247h16.02v1h-16.02z"/>
<path fill="#d87575" d="M144.17 178h16.02v1h-16.02z"/>
<path fill="#ea9999" d="M144.17 181h16.02v1h-16.02zM208.25 181h16.02v1h-16.02zM272.33 196h16.02v1h-16.02zM288.35 236h16.02v1h-16.02z"/>
<path fill="#f6b4b4" d="M144.17 183h16.02v1h-16.02zM176.21 191h16.02v1h-16.02zM272.33 190h16.02v1h-16.02zM352.42 246h16.02v1h-16.02zM352.42 253h16.02v1h-16.02zM368.44 343h16.02v1h-16.02z"/>
<path fill="#ead5e1" d="M144.17 184h16.02v1h-16.02z"/>
<path fill="#f3deea" d="M144.17 185h16.02v1h-16.02zM176.21 296h16.02v1h-16.02z"/>
<path fill="#ffd8e4" d="M144.17 186h16.02v1h-16.02zM240.29 213h16.02v1h-16.02z"/>
<path fill="#f0aeae" d="M144.17 188h16.02v1h-16.02z"/>
<path fill="#f9a5a5" d="M144.17 194h16.02v2h-16.02zM208.25 191h16.02v1h-16.02zM224.27 206h16.02v2h-16.02zM240.29 206h16.02v2h-16.02zM272.33 214h16.02v2h-16.02zM288.35 214h16.02v2h-16.02zM304.37 264h16.02v1h-16.02zM352.42 224h16.02v2h-16.02zM352.42 232h16.02v1h-16.02zM368.44 294h16.02v2h-16.02zM400.48 261h16.02v2h-16.02z"/>
<path fill="#f9d8d8" d="M144.17 202h16.02v1h-16.02zM192.23 245h16.02v1h-16.02zM304.37 311h16.02v1h-16.02zM336.4 318h16.02v1h-16.02zM368.44 357h16.02v1h-16.02zM368.44 380h16.02v1h-16.02z"/>
<path fill="#f0e1ea" d="M144.17 209h16.02v1h-16.02zM208.25 248h16.02v1h-16.02z"/>
<path fill="#f6cfcf" d="M144.17 212h16.02v1h-16.02zM320.38 238h16.02v1h-16.02z"/>
<path fill="#f9eaf3" d="M144.17 222h16.02v1h-16.02zM384.46 311h16.02v1h-16.02z"/>
<path fill="#f3e7ed" d="M144.17 234h16.02v1h-16.02zM176.21 250h16.02v1h-16.02zM240.29 266h16.02v1h-16.02zM304.37 384h16.02v1h-16.02zM384.46 362h16.02v1h-16.02z"/>
<path fill="#f9edf3" d="M144.17 235h16.02v1h-16.02zM384.46 363h16.02v1h-16.02zM400.48 409h16.02v1h-16.02z"/>
<path fill="#f3e1e1" d="M144.17 242h16.02v1h-16.02zM240.29 237h16.02v1h-16.02zM240.29 342h16.02v1h-16.02z"/>
<path fill="#f9f6fc" d="M144.17 249h16.02v1h-16.02zM208.25 299h16.02v1h-16.02zM304.37 532h16.02v1h-16.02zM400.48 382h16.02v1h-16.02z"/>
<path fill="#c0badb" d="M144.17 255h16.02v1h-16.02z"/>
<path fill="#f6edf6" d="M144.17 273h16.02v1h-16.02zM288.35 437h16.02v1h-16.02zM368.44 432h16.02v1h-16.02zM368.44 527h16.02v1h-16.02z"/>
<path fill="#bdbdf0" d="M144.17 279h16.02v1h-16.02zM144.17 328h16.02v1h-16.02zM160.19 344h16.02v1h-16.02zM192.23 448h16.02v1h-16.02zM192.23 479h16.02v1h-16.02zM208.25 350h16.02v1h-16.02zM272.33 538h16.02v1h-16.02zM320.38 352h16.02v1h-16.02zM400.48 457h16.02v1h-16.02zM400.48 495h16.02v1h-16.02z"/>
<path fill="#6666c6" d="M144.17 341h16.02v1h-16.02z"/>
<path fill="#b1b1db" d="M144.17 359h16.02v1h-16.02zM240.29 325h16.02v1h-16.02zM288.35 457h16.02v1h-16.02z"/>
<path fill="#9090de" d="M144.17 365h16.02v1h-16.02zM352.42 529h16.02v1h-16.02z"/>
<path fill="#7272b4" d="M144.17 388h16.02v1h-16.02z"/>
<path fill="#9c9ce1" d="M144.17 391h16.02v1h-16.02zM160.19 332h16.02v1h-16.02zM208.25 444h16.02v1h-16.02zM224.27 400h16.02v1h-16.02zM224.27 430h16.02v1h-16.02z"/>
<path fill="#dbdbf0" d="M144.17 399h16.02v1h-16.02zM176.21 309h16.02v1h-16.02zM192.23 347h16.02v1h-16.02zM304.37 521h16.02v2h-16.02zM384.46 512h16.02v1h-16.02zM400.48 445h16.02v1h-16.02z"/>
<path fill="#ababdb" d="M144.17 405h16.02v1h-16.02zM288.35 478h16.02v1h-16.02z"/>
<path fill="#ababe1" d="M144.17 409h16.02v1h-16.02z"/>
<path fill="#6f6fcf" d="M144.17 412h16.02v1h-16.02zM224.27 365h16.02v1h-16.02z"/>
<path fill="#c9c9f6" d="M144.17 414h16.02v1h-16.02zM160.19 293h16.02v1h-16.02zM176.21 415h16.02v2h-16.02zM208.25 482h16.02v1h-16.02zM256.31 436h16.02v1h-16.02zM336.4 444h16.02v1h-16.02z"/>
<path fill="#7e7ec6" d="M144.17 431h16.02v1h-16.02zM400.48 475h16.02v1h-16.02z"/>
<path fill="#c3c3e4" d="M144.17 457h16.02v1h-16.02zM304.37 505h16.02v1h-16.02zM320.38 319h16.02v1h-16.02zM400.48 505h16.02v1h-16.02z"/>
<path fill="#9c9cf3" d="M144.17 462h16.02v2h-16.02zM160.19 524h16.02v2h-16.02zM240.29 336h16.02v2h-16.02zM320.38 466h16.02v2h-16.02z"/>
<path fill="#6969db" d="M144.17 470h16.02v1h-16.02zM320.38 438h16.02v1h-16.02z"/>
<path fill="#8787db" d="M144.17 476h16.02v1h-16.02zM160.19 441h16.02v1h-16.02z"/>
<path fill="#7b7bd8" d="M144.17 487h16.02v1h-16.02zM256.31 432h16.02v1h-16.02zM256.31 535h16.02v1h-16.02z"/>
<path fill="#5454cf" d="M144.17 494h16.02v1h-16.02z"/>
<path fill="#a2a2d8" d="M144.17 496h16.02v1h-16.02z"/>
<path fill="#a2a2e7" d="M144.17 498h16.02v1h-16.02zM224.27 359h16.02v1h-16.02zM272.33 440h16.02v1h-16.02z"/>
<path fill="#9696fc" d="M144.17 508h16.02v1h-16.02z"/>
<path fill="#8787ea" d="M144.17 509h16.02v1h-16.02z"/>
<path fill="#a8a8de" d="M144.17 510h16.02v1h-16.02zM224.27 316h16.02v1h-16.02z"/>
<path fill="#7b7bc6" d="M144.17 515h16.02v1h-16.02zM176.21 430h16.02v1h-16.02z"/>
<path fill="#5454c3" d="M144.17 517h16.02v1h-16.02z"/>
<path fill="#7272f9" d="M144.17 518h16.02v1h-16.02z"/>
<path fill="#5a5ae4" d="M144.17 519h16.02v1h-16.02z"/>
<path fill="#8484e4" d="M144.17 537h16.02v1h-16.02zM160.19 432h16.02v1h-16.02zM192.23 457h16.02v1h-16.02z"/>
<path fill="#ff5757" d="M160.19 170h16.02v1h-16.02zM208.25 176h16.02v1h-16.02z"/>
<path fill="#ea9393" d="M160.19 178h16.02v1h-16.02zM304.37 227h16.02v1h-16.02zM336.4 212h16.02v1h-16.02zM336.4 231h16.02v1h-16.02z"/>
<path fill="#f3aeae" d="M160.19 183h16.02v1h-16.02zM208.25 202h16.02v1h-16.02zM384.46 237h16.02v1h-16.02z"/>
<path fill="#edb4b4" d="M160.19 193h16.02v1h-16.02zM272.33 230h16.02v1h-16.02z"/>
<path fill="#dbabab" d="M160.19 200h16.02v1h-16.02z"/>
<path fill="#f6d5d5" d="M160.19 204h16.02v1h-16.02zM192.23 248h16.02v1h-16.02zM352.42 277h16.02v1h-16.02zM368.44 387h16.02v1h-16.02z"/>
<path fill="#b7b7db" d="M160.19 227h16.02v1h-16.02z"/>
<path fill="#e4e1ed" d="M160.19 234h16.02v1h-16.02z"/>
<path fill="#b1a8cf" d="M160.19 242h16.02v1h-16.02z"/>
<path fill="#f3edff" d="M160.19 243h16.02v1h-16.02zM272.33 408h16.02v1h-16.02zM320.38 265h16.02v1h-16.02z"/>
<path fill="#dedbed" d="M160.19 261h16.02v1h-16.02zM320.38 298h16.02v1h-16.02zM336.4 371h16.02v1h-16.02z"/>
<path fill="#7b7bc9" d="M160.19 265h16.02v1h-16.02zM208.25 411h16.02v1h-16.02zM256.31 227h16.02v1h-16.02z"/>
<path fill="#e4e1f0" d="M160.19 310h16.02v1h-16.02zM208.25 267h16.02v1h-16.02zM384.46 479h16.02v1h-16.02zM400.48 422h16.02v1h-16.02z"/>
<path fill="#6363c9" d="M160.19 317h16.02v1h-16.02z"/>
<path fill="#9696d5" d="M160.19 327h16.02v1h-16.02zM208.25 422h16.02v1h-16.02zM224.27 348h16.02v1h-16.02zM240.29 359h16.02v1h-16.02zM256.31 248h16.02v1h-16.02z"/>
<path fill="#a5a5e1" d="M160.19 331h16.02v1h-16.02zM160.19 434h16.02v1h-16.02zM176.21 521h16.02v1h-16.02z"/>
<path fill="#6f6fc6" d="M160.19 351h16.02v1h-16.02z"/>
<path fill="#8484e1" d="M160.19 365h16.02v1h-16.02zM224.27 519h16.02v1h-16.02z"/>
<path fill="#5151bd" d="M160.19 371h16.02v1h-16.02z"/>
<path fill="#5151ba" d="M160.19 372h16.02v1h-16.02z"/>
<path fill="#3636bd" d="M160.19 388h16.02v1h-16.02z"/>
<path fill="#8d8df9" d="M160.19 400h16.02v1h-16.02zM320.38 523h16.02v1h-16.02z"/>
<path fill="#8181e4" d="M160.19 402h16.02v1h-16.02zM224.27 412h16.02v1h-16.02zM272.33 528h16.02v1h-16.02z"/>
<path fill="#7e7ee1" d="M160.19 405h16.02v1h-16.02zM160.19 413h16.02v1h-16.02z"/>
<path fill="#bdbdf6" d="M160.19 415h16.02v1h-16.02zM352.42 516h16.02v1h-16.02z"/>
<path fill="#8484db" d="M160.19 417h16.02v1h-16.02zM224.27 411h16.02v1h-16.02z"/>
<path fill="#9999f0" d="M160.19 420h16.02v1h-16.02zM320.38 513h16.02v1h-16.02zM320.38 517h16.02v1h-16.02z"/>
<path fill="#a5a5ed" d="M160.19 422h16.02v1h-16.02zM176.21 412h16.02v1h-16.02zM320.38 528h16.02v1h-16.02z"/>
<path fill="#8a8ac3" d="M160.19 431h16.02v1h-16.02z"/>
<path fill="#a29fcc" d="M160.19 443h16.02v1h-16.02z"/>
<path fill="#9696e7" d="M160.19 446h16.02v1h-16.02zM160.19 455h16.02v1h-16.02zM208.25 400h16.02v1h-16.02zM224.27 378h16.02v1h-16.02z"/>
<path fill="#7878f0" d="M160.19 458h16.02v2h-16.02zM224.27 542h16.02v2h-16.02zM256.31 198h16.02v2h-16.02zM256.31 256h16.02v2h-16.02zM256.31 445h16.02v1h-16.02zM256.31 492h16.02v2h-16.02z"/>
<path fill="#5757ed" d="M160.19 466h16.02v2h-16.02zM160.19 542h16.02v2h-16.02z"/>
<path fill="#a8a8d8" d="M160.19 476h16.02v1h-16.02z"/>
<path fill="#8484c6" d="M160.19 479h16.02v1h-16.02zM192.23 322h16.02v1h-16.02zM272.33 460h16.02v1h-16.02zM384.46 522h16.02v1h-16.02z"/>
<path fill="#4848d5" d="M160.19 481h16.02v1h-16.02z"/>
<path fill="#4848d8" d="M160.19 482h16.02v1h-16.02z"/>
<path fill="#aeaefc" d="M160.19 484h16.02v1h-16.02zM208.25 485h16.02v1h-16.02zM256.31 495h16.02v2h-16.02zM320.38 354h16.02v1h-16.02z"/>
<path fill="#a2a2f0" d="M160.19 485h16.02v1h-16.02zM208.25 427h16.02v1h-16.02zM208.25 484h16.02v1h-16.02zM256.31 494h16.02v1h-16.02zM256.31 497h16.02v1h-16.02zM320.38 355h16.02v1h-16.02z"/>
<path fill="#7b7be1" d="M160.19 487h16.02v1h-16.02zM224.27 439h16.02v1h-16.02z"/>
<path fill="#8d8dd5" d="M160.19 495h16.02v1h-16.02zM176.21 439h16.02v1h-16.02zM240.29 446h16.02v1h-16.02zM400.48 518h16.02v1h-16.02z"/>
<path fill="#7878de" d="M160.19 499h16.02v1h-16.02zM256.31 386h16.02v1h-16.02z"/>
<path fill="#7878ea" d="M160.19 500h16.02v1h-16.02zM160.19 503h16.02v1h-16.02zM256.31 385h16.02v1h-16.02z"/>
<path fill="#8787f9" d="M160.19 501h16.02v2h-16.02z"/>
<path fill="#2d2db7" d="M160.19 505h16.02v1h-16.02z"/>
<path fill="#2727e4" d="M160.19 506h16.02v1h-16.02z"/>
<path fill="#3030ed" d="M160.19 507h16.02v1h-16.02z"/>
<path fill="#4e4ecc" d="M160.19 509h16.02v1h-16.02z"/>
<path fill="#7878d5" d="M160.19 510h16.02v1h-16.02zM160.19 513h16.02v1h-16.02zM272.33 455h16.02v1h-16.02z"/>
<path fill="#6969ea" d="M160.19 517h16.02v1h-16.02z"/>
<path fill="#6c6ce4" d="M160.19 518h16.02v1h-16.02z"/>
<path fill="#6c6ce7" d="M160.19 526h16.02v1h-16.02zM320.38 534h16.02v1h-16.02z"/>
<path fill="#7b7bf6" d="M160.19 527h16.02v1h-16.02z"/>
<path fill="#8181f6" d="M160.19 528h16.02v1h-16.02z"/>
<path fill="#9c9ce7" d="M160.19 532h16.02v1h-16.02zM256.31 310h16.02v1h-16.02z"/>
<path fill="#8181d8" d="M160.19 537h16.02v1h-16.02zM256.31 449h16.02v1h-16.02zM272.33 481h16.02v1h-16.02zM320.38 386h16.02v1h-16.02z"/>
<path fill="#6f6ff0" d="M160.19 544h16.02v2h-16.02z"/>
<path fill="#3939ea" d="M160.19 548h16.02v2h-16.02z"/>
<path fill="#f94848" d="M176.21 170h16.02v1h-16.02z"/>
<path fill="#e73636" d="M176.21 171h16.02v1h-16.02zM288.35 176h16.02v1h-16.02z"/>
<path fill="#f36666" d="M176.21 176h16.02v1h-16.02z"/>
<path fill="#ff8d8d" d="M176.21 179h16.02v1h-16.02zM368.44 205h16.02v1h-16.02zM400.48 189h16.02v1h-16.02z"/>
<path fill="#ea7b7b" d="M176.21 184h16.02v1h-16.02zM304.37 200h16.02v1h-16.02z"/>
<path fill="#fcbaba" d="M176.21 190h16.02v1h-16.02zM288.35 276h16.02v1h-16.02zM352.42 247h16.02v1h-16.02zM368.44 342h16.02v1h-16.02z"/>
<path fill="#f09f9f" d="M176.21 197h16.02v1h-16.02zM208.25 188h16.02v1h-16.02z"/>
<path fill="#eaa5a5" d="M176.21 204h16.02v1h-16.02zM224.27 200h16.02v1h-16.02z"/>
<path fill="#edc3c3" d="M176.21 233h16.02v1h-16.02zM272.33 260h16.02v1h-16.02z"/>
<path fill="#f6eaf6" d="M176.21 246h16.02v1h-16.02z"/>
<path fill="#fcf3f6" d="M176.21 267h16.02v1h-16.02zM288.35 426h16.02v1h-16.02zM304.37 365h16.02v1h-16.02zM368.44 476h16.02v1h-16.02z"/>
<path fill="#f6eaea" d="M176.21 271h16.02v1h-16.02zM224.27 263h16.02v1h-16.02zM272.33 308h16.02v1h-16.02zM368.44 521h16.02v1h-16.02z"/>
<path fill="#edd8e7" d="M176.21 297h16.02v1h-16.02zM368.44 348h16.02v1h-16.02z"/>
<path fill="#b1b1d8" d="M176.21 331h16.02v1h-16.02zM224.27 540h16.02v1h-16.02z"/>
<path fill="#ccccf0" d="M176.21 351h16.02v1h-16.02zM272.33 390h16.02v1h-16.02zM336.4 460h16.02v1h-16.02z"/>
<path fill="#aeaedb" d="M176.21 365h16.02v1h-16.02zM208.25 279h16.02v1h-16.02zM320.38 344h16.02v1h-16.02zM352.42 388h16.02v1h-16.02z"/>
<path fill="#9090d8" d="M176.21 379h16.02v1h-16.02zM192.23 505h16.02v1h-16.02zM208.25 536h16.02v1h-16.02z"/>
<path fill="#9090e1" d="M176.21 398h16.02v1h-16.02z"/>
<path fill="#7e7ede" d="M176.21 400h16.02v1h-16.02zM208.25 495h16.02v2h-16.02zM224.27 509h16.02v1h-16.02z"/>
<path fill="#6363bd" d="M176.21 420h16.02v1h-16.02z"/>
<path fill="#c3c3e7" d="M176.21 437h16.02v1h-16.02zM208.25 388h16.02v1h-16.02zM288.35 487h16.02v1h-16.02z"/>
<path fill="#8d8dcc" d="M176.21 440h16.02v1h-16.02z"/>
<path fill="#6666c0" d="M176.21 444h16.02v1h-16.02zM256.31 523h16.02v1h-16.02z"/>
<path fill="#b1b1e4" d="M176.21 476h16.02v1h-16.02zM208.25 362h16.02v1h-16.02zM224.27 452h16.02v1h-16.02zM240.29 326h16.02v1h-16.02z"/>
<path fill="#9696d2" d="M176.21 479h16.02v1h-16.02z"/>
<path fill="#ababd5" d="M176.21 516h16.02v1h-16.02z"/>
<path fill="#7e7ec9" d="M176.21 518h16.02v1h-16.02z"/>
<path fill="#9393d5" d="M176.21 539h16.02v1h-16.02zM224.27 476h16.02v1h-16.02zM256.31 298h16.02v1h-16.02z"/>
<path fill="#9090ed" d="M176.21 540h16.02v1h-16.02zM208.25 396h16.02v1h-16.02zM272.33 438h16.02v1h-16.02z"/>
<path fill="#9f9ffc" d="M176.21 541h16.02v1h-16.02zM272.33 439h16.02v1h-16.02z"/>
<path fill="#de7575" d="M192.23 178h16.02v1h-16.02z"/>
<path fill="#f99090" d="M192.23 184h16.02v1h-16.02z"/>
<path fill="#ed9393" d="M192.23 186h16.02v1h-16.02zM240.29 200h16.02v1h-16.02zM336.4 235h16.02v1h-16.02zM336.4 245h16.02v1h-16.02z"/>
<path fill="#f69393" d="M192.23 194h16.02v2h-16.02zM384.46 234h16.02v1h-16.02z"/>
<path fill="#fcaeae" d="M192.23 196h16.02v1h-16.02zM240.29 209h16.02v1h-16.02zM320.38 187h16.02v1h-16.02zM336.4 238h16.02v1h-16.02z"/>
<path fill="#e4abab" d="M192.23 200h16.02v1h-16.02z"/>
<path fill="#f3c0c0" d="M192.23 211h16.02v1h-16.02zM272.33 203h16.02v1h-16.02zM368.44 299h16.02v1h-16.02zM368.44 329h16.02v1h-16.02zM368.44 362h16.02v1h-16.02z"/>
<path fill="#e7cce4" d="M192.23 222h16.02v1h-16.02z"/>
<path fill="#dbc3db" d="M192.23 223h16.02v1h-16.02z"/>
<path fill="#f0e4f9" d="M192.23 250h16.02v1h-16.02z"/>
<path fill="#dbcfe4" d="M192.23 251h16.02v1h-16.02zM240.29 273h16.02v1h-16.02z"/>
<path fill="#f3dede" d="M192.23 253h16.02v1h-16.02zM208.25 222h16.02v1h-16.02zM336.4 299h16.02v1h-16.02zM336.4 311h16.02v1h-16.02zM368.44 414h16.02v1h-16.02zM368.44 427h16.02v1h-16.02z"/>
<path fill="#fff3f9" d="M192.23 264h16.02v1h-16.02zM368.44 480h16.02v1h-16.02z"/>
<path fill="#eaeaf3" d="M192.23 312h16.02v1h-16.02zM384.46 450h16.02v1h-16.02zM400.48 403h16.02v1h-16.02z"/>
<path fill="#dbd5ea" d="M192.23 319h16.02v1h-16.02z"/>
<path fill="#e1e1ed" d="M192.23 326h16.02v1h-16.02zM192.23 443h16.02v1h-16.02zM272.33 348h16.02v1h-16.02zM320.38 276h16.02v1h-16.02z"/>
<path fill="#8787cf" d="M192.23 353h16.02v1h-16.02z"/>
<path fill="#8181c0" d="M192.23 370h16.02v1h-16.02z"/>
<path fill="#bdbde1" d="M192.23 381h16.02v1h-16.02zM224.27 325h16.02v1h-16.02zM240.29 529h16.02v1h-16.02z"/>
<path fill="#7e7ed8" d="M192.23 411h16.02v2h-16.02zM224.27 426h16.02v1h-16.02zM272.33 411h16.02v1h-16.02z"/>
<path fill="#a8a8d5" d="M192.23 422h16.02v1h-16.02zM192.23 455h16.02v1h-16.02z"/>
<path fill="#9c9ccc" d="M192.23 475h16.02v1h-16.02zM384.46 506h16.02v1h-16.02zM384.46 537h16.02v1h-16.02z"/>
<path fill="#b4b4f3" d="M192.23 485h16.02v1h-16.02z"/>
<path fill="#b4b4e4" d="M192.23 486h16.02v1h-16.02zM240.29 496h16.02v1h-16.02z"/>
<path fill="#9393d8" d="M192.23 506h16.02v1h-16.02z"/>
<path fill="#b7b7e4" d="M192.23 527h16.02v1h-16.02zM352.42 478h16.02v1h-16.02z"/>
<path fill="#6f6fd5" d="M192.23 529h16.02v1h-16.02z"/>
<path fill="#f02d2d" d="M208.25 169h16.02v2h-16.02z"/>
<path fill="#ed2a2a" d="M208.25 171h16.02v1h-16.02z"/>
<path fill="#e73f3f" d="M208.25 177h16.02v1h-16.02z"/>
<path fill="#c64e4e" d="M208.25 178h16.02v1h-16.02z"/>
<path fill="#e4c6cc" d="M208.25 184h16.02v1h-16.02zM272.33 272h16.02v1h-16.02zM400.48 249h16.02v1h-16.02z"/>
<path fill="#ffe4ea" d="M208.25 186h16.02v1h-16.02z"/>
<path fill="#d8a8ae" d="M208.25 187h16.02v1h-16.02z"/>
<path fill="#fca5a5" d="M208.25 192h16.02v1h-16.02zM288.35 265h16.02v1h-16.02zM352.42 211h16.02v1h-16.02zM384.46 243h16.02v2h-16.02zM400.48 223h16.02v1h-16.02z"/>
<path fill="#f69f9f" d="M208.25 193h16.02v1h-16.02zM304.37 192h16.02v1h-16.02zM352.42 233h16.02v1h-16.02zM400.48 245h16.02v1h-16.02zM400.48 260h16.02v1h-16.02z"/>
<path fill="#e7d2e4" d="M208.25 208h16.02v1h-16.02z"/>
<path fill="#ead2e7" d="M208.25 209h16.02v1h-16.02zM224.27 197h16.02v1h-16.02z"/>
<path fill="#edd8d8" d="M208.25 210h16.02v1h-16.02z"/>
<path fill="#e1b7b7" d="M208.25 212h16.02v1h-16.02zM336.4 236h16.02v1h-16.02z"/>
<path fill="#ead8f0" d="M208.25 244h16.02v1h-16.02z"/>
<path fill="#d8c6de" d="M208.25 245h16.02v1h-16.02z"/>
<path fill="#d5c6de" d="M208.25 246h16.02v1h-16.02z"/>
<path fill="#f0e1f9" d="M208.25 247h16.02v1h-16.02z"/>
<path fill="#f0dee4" d="M208.25 250h16.02v1h-16.02zM368.44 510h16.02v1h-16.02zM400.48 362h16.02v1h-16.02z"/>
<path fill="#fff0f6" d="M208.25 251h16.02v1h-16.02zM304.37 351h16.02v1h-16.02zM304.37 359h16.02v1h-16.02zM304.37 386h16.02v1h-16.02z"/>
<path fill="#f3eaf6" d="M208.25 318h16.02v1h-16.02zM400.48 340h16.02v1h-16.02z"/>
<path fill="#eadeed" d="M208.25 319h16.02v1h-16.02zM320.38 227h16.02v1h-16.02z"/>
<path fill="#6f6fc0" d="M208.25 322h16.02v1h-16.02z"/>
<path fill="#6969d2" d="M208.25 364h16.02v1h-16.02z"/>
<path fill="#c0c0de" d="M208.25 381h16.02v1h-16.02zM240.29 502h16.02v1h-16.02zM288.35 411h16.02v1h-16.02z"/>
<path fill="#6666d5" d="M208.25 383h16.02v1h-16.02z"/>
<path fill="#6666db" d="M208.25 384h16.02v1h-16.02z"/>
<path fill="#9c9cf9" d="M208.25 397h16.02v1h-16.02z"/>
<path fill="#7878db" d="M208.25 412h16.02v1h-16.02zM256.31 439h16.02v1h-16.02z"/>
<path fill="#9696ea" d="M208.25 421h16.02v1h-16.02z"/>
<path fill="#5d5dde" d="M208.25 430h16.02v1h-16.02z"/>
<path fill="#5454b1" d="M208.25 434h16.02v1h-16.02zM224.27 501h16.02v1h-16.02z"/>
<path fill="#9999e7" d="M208.25 439h16.02v1h-16.02z"/>
<path fill="#7575cf" d="M208.25 450h16.02v1h-16.02zM240.29 532h16.02v1h-16.02z"/>
<path fill="#5d5dcc" d="M208.25 470h16.02v1h-16.02z"/>
<path fill="#5454d5" d="M208.25 477h16.02v1h-16.02zM208.25 517h16.02v1h-16.02z"/>
<path fill="#5454e4" d="M208.25 478h16.02v1h-16.02z"/>
<path fill="#6666f6" d="M208.25 479h16.02v1h-16.02z"/>
<path fill="#6c6cc9" d="M208.25 480h16.02v1h-16.02z"/>
<path fill="#7575d8" d="M208.25 487h16.02v1h-16.02zM256.31 402h16.02v1h-16.02z"/>
<path fill="#7575e1" d="M208.25 505h16.02v1h-16.02zM272.33 456h16.02v1h-16.02zM320.38 509h16.02v1h-16.02z"/>
<path fill="#7575f0" d="M208.25 506h16.02v2h-16.02zM256.31 392h16.02v2h-16.02z"/>
<path fill="#8d8ded" d="M208.25 508h16.02v1h-16.02z"/>
<path fill="#4848b1" d="M208.25 510h16.02v1h-16.02z"/>
<path fill="#6060ab" d="M208.25 529h16.02v1h-16.02z"/>
<path fill="#6969e7" d="M208.25 540h16.02v1h-16.02z"/>
<path fill="#7e7ef9" d="M208.25 541h16.02v1h-16.02zM320.38 535h16.02v1h-16.02z"/>
<path fill="#6969f0" d="M208.25 546h16.02v2h-16.02zM256.31 528h16.02v1h-16.02zM320.38 548h16.02v2h-16.02z"/>
<path fill="#f64e4e" d="M224.27 170h16.02v1h-16.02z"/>
<path fill="#ed4545" d="M224.27 171h16.02v1h-16.02z"/>
<path fill="#e79c9c" d="M224.27 188h16.02v1h-16.02zM240.29 202h16.02v1h-16.02z"/>
<path fill="#eda5a5" d="M224.27 190h16.02v1h-16.02z"/>
<path fill="#e1cce1" d="M224.27 196h16.02v1h-16.02z"/>
<path fill="#e7c0c0" d="M224.27 202h16.02v1h-16.02z"/>
<path fill="#eac9c9" d="M224.27 205h16.02v1h-16.02zM288.35 323h16.02v1h-16.02z"/>
<path fill="#f6d2d2" d="M224.27 233h16.02v1h-16.02zM320.38 190h16.02v1h-16.02zM352.42 258h16.02v1h-16.02zM352.42 342h16.02v1h-16.02zM400.48 312h16.02v1h-16.02z"/>
<path fill="#c3bddb" d="M224.27 267h16.02v1h-16.02zM288.35 412h16.02v1h-16.02zM384.46 411h16.02v2h-16.02z"/>
<path fill="#d8d2e7" d="M224.27 279h16.02v1h-16.02z"/>
<path fill="#7878e1" d="M224.27 292h16.02v1h-16.02z"/>
<path fill="#c6bad8" d="M224.27 326h16.02v1h-16.02z"/>
<path fill="#7878cf" d="M224.27 341h16.02v1h-16.02zM256.31 434h16.02v1h-16.02z"/>
<path fill="#8181cf" d="M224.27 363h16.02v1h-16.02z"/>
<path fill="#e4deed" d="M224.27 388h16.02v1h-16.02z"/>
<path fill="#8787c6" d="M224.27 391h16.02v1h-16.02z"/>
<path fill="#9696c9" d="M224.27 405h16.02v1h-16.02z"/>
<path fill="#b7b7f9" d="M224.27 409h16.02v1h-16.02zM224.27 449h16.02v1h-16.02z"/>
<path fill="#9f9fea" d="M224.27 415h16.02v1h-16.02zM224.27 495h16.02v1h-16.02zM256.31 396h16.02v1h-16.02zM320.38 390h16.02v1h-16.02zM320.38 446h16.02v1h-16.02z"/>
<path fill="#8181de" d="M224.27 443h16.02v1h-16.02z"/>
<path fill="#8181cc" d="M224.27 479h16.02v1h-16.02zM336.4 475h16.02v1h-16.02z"/>
<path fill="#8484f6" d="M224.27 481h16.02v1h-16.02zM256.31 384h16.02v1h-16.02z"/>
<path fill="#7272e4" d="M224.27 487h16.02v1h-16.02z"/>
<path fill="#9393db" d="M224.27 513h16.02v1h-16.02z"/>
<path fill="#6363cc" d="M224.27 515h16.02v1h-16.02z"/>
<path fill="#8484de" d="M224.27 517h16.02v1h-16.02z"/>
<path fill="#8787c9" d="M224.27 522h16.02v1h-16.02zM320.38 332h16.02v1h-16.02z"/>
<path fill="#4e4eed" d="M224.27 548h16.02v2h-16.02zM256.31 366h16.02v2h-16.02z"/>
<path fill="#ff6060" d="M240.29 170h16.02v1h-16.02zM336.4 179h16.02v1h-16.02z"/>
<path fill="#f66f6f" d="M240.29 174h16.02v2h-16.02zM240.29 194h16.02v2h-16.02zM272.33 194h16.02v2h-16.02zM288.35 194h16.02v2h-16.02z"/>
<path fill="#ed5d5d" d="M240.29 177h16.02v1h-16.02zM368.44 181h16.02v1h-16.02z"/>
<path fill="#de6363" d="M240.29 178h16.02v1h-16.02zM368.44 182h16.02v1h-16.02z"/>
<path fill="#f38181" d="M240.29 182h16.02v1h-16.02zM304.37 212h16.02v1h-16.02z"/>
<path fill="#ffdee7" d="M240.29 186h16.02v1h-16.02zM272.33 223h16.02v1h-16.02z"/>
<path fill="#d5a2ab" d="M240.29 187h16.02v1h-16.02z"/>
<path fill="#f0a5a5" d="M240.29 192h16.02v1h-16.02zM352.42 255h16.02v1h-16.02z"/>
<path fill="#e7cfd8" d="M240.29 204h16.02v1h-16.02z"/>
<path fill="#fce1ed" d="M240.29 205h16.02v1h-16.02z"/>
<path fill="#f0c9c9" d="M240.29 244h16.02v1h-16.02zM272.33 263h16.02v1h-16.02z"/>
<path fill="#e7c3c3" d="M240.29 260h16.02v1h-16.02z"/>
<path fill="#fcf0f6" d="M240.29 267h16.02v1h-16.02zM304.37 385h16.02v1h-16.02zM304.37 426h16.02v1h-16.02zM352.42 313h16.02v1h-16.02zM384.46 371h16.02v1h-16.02z"/>
<path fill="#dbd2e7" d="M240.29 298h16.02v1h-16.02zM240.29 409h16.02v1h-16.02zM272.33 318h16.02v1h-16.02z"/>
<path fill="#d5d2e7" d="M240.29 322h16.02v1h-16.02zM240.29 433h16.02v1h-16.02zM288.35 527h16.02v1h-16.02z"/>
<path fill="#9999cf" d="M240.29 451h16.02v1h-16.02zM336.4 411h16.02v1h-16.02z"/>
<path fill="#a2a2d5" d="M240.29 505h16.02v1h-16.02zM352.42 412h16.02v1h-16.02zM384.46 484h16.02v1h-16.02z"/>
<path fill="#6c6ccc" d="M240.29 514h16.02v1h-16.02zM256.31 422h16.02v1h-16.02z"/>
<path fill="#8484d2" d="M240.29 518h16.02v1h-16.02zM256.31 271h16.02v1h-16.02zM256.31 316h16.02v1h-16.02z"/>
<path fill="#ababf3" d="M240.29 536h16.02v1h-16.02zM256.31 453h16.02v1h-16.02zM320.38 403h16.02v1h-16.02zM320.38 460h16.02v1h-16.02zM320.38 532h16.02v1h-16.02zM320.38 539h16.02v1h-16.02z"/>
<path fill="#f66060" d="M256.31 170h16.02v1h-16.02z"/>
<path fill="#f05a5a" d="M256.31 171h16.02v1h-16.02zM352.42 179h16.02v1h-16.02z"/>
<path fill="#e19090" d="M256.31 178h16.02v1h-16.02zM336.4 205h16.02v1h-16.02z"/>
<path fill="#907eb7" d="M256.31 190h16.02v1h-16.02z"/>
<path fill="#e7d5ff" d="M256.31 191h16.02v1h-16.02z"/>
<path fill="#816fb1" d="M256.31 196h16.02v1h-16.02z"/>
<path fill="#eadbff" d="M256.31 197h16.02v1h-16.02z"/>
<path fill="#938dc3" d="M256.31 202h16.02v1h-16.02z"/>
<path fill="#f3f0ff" d="M256.31 203h16.02v1h-16.02z"/>
<path fill="#8a87c0" d="M256.31 210h16.02v1h-16.02z"/>
<path fill="#8181c3" d="M256.31 223h16.02v1h-16.02z"/>
<path fill="#6f6fe1" d="M256.31 238h16.02v1h-16.02zM256.31 338h16.02v1h-16.02z"/>
<path fill="#cfcfe7" d="M256.31 243h16.02v1h-16.02zM304.37 461h16.02v1h-16.02zM352.42 539h16.02v1h-16.02z"/>
<path fill="#6f6fb4" d="M256.31 252h16.02v1h-16.02z"/>
<path fill="#e4d5e7" d="M256.31 254h16.02v1h-16.02z"/>
<path fill="#f0def0" d="M256.31 255h16.02v1h-16.02z"/>
<path fill="#7575c0" d="M256.31 260h16.02v1h-16.02z"/>
<path fill="#8a8aea" d="M256.31 328h16.02v1h-16.02z"/>
<path fill="#9999fc" d="M256.31 329h16.02v1h-16.02zM256.31 451h16.02v1h-16.02z"/>
<path fill="#9393cc" d="M256.31 332h16.02v1h-16.02z"/>
<path fill="#9c9cf6" d="M256.31 334h16.02v2h-16.02z"/>
<path fill="#4b4bcf" d="M256.31 341h16.02v1h-16.02z"/>
<path fill="#7272e1" d="M256.31 349h16.02v1h-16.02z"/>
<path fill="#7575c6" d="M256.31 350h16.02v1h-16.02z"/>
<path fill="#8787f6" d="M256.31 355h16.02v1h-16.02z"/>
<path fill="#8787ed" d="M256.31 356h16.02v1h-16.02z"/>
<path fill="#9090f6" d="M256.31 357h16.02v1h-16.02z"/>
<path fill="#8a8ae4" d="M256.31 362h16.02v1h-16.02z"/>
<path fill="#8787e7" d="M256.31 383h16.02v1h-16.02zM320.38 444h16.02v1h-16.02z"/>
<path fill="#6060db" d="M256.31 390h16.02v1h-16.02z"/>
<path fill="#6f6fed" d="M256.31 400h16.02v1h-16.02z"/>
<path fill="#8a8ae1" d="M256.31 405h16.02v1h-16.02z"/>
<path fill="#5151c9" d="M256.31 411h16.02v2h-16.02z"/>
<path fill="#3030a5" d="M256.31 414h16.02v1h-16.02zM320.38 411h16.02v1h-16.02z"/>
<path fill="#7e7ecc" d="M256.31 417h16.02v1h-16.02zM272.33 412h16.02v1h-16.02z"/>
<path fill="#5d5dc9" d="M256.31 425h16.02v1h-16.02zM320.38 506h16.02v1h-16.02z"/>
<path fill="#5d5dc6" d="M256.31 426h16.02v1h-16.02z"/>
<path fill="#7e7ec0" d="M256.31 431h16.02v1h-16.02zM256.31 443h16.02v1h-16.02z"/>
<path fill="#8a8aed" d="M256.31 450h16.02v1h-16.02z"/>
<path fill="#7272d8" d="M256.31 455h16.02v1h-16.02zM256.31 475h16.02v1h-16.02z"/>
<path fill="#3333ea" d="M256.31 462h16.02v2h-16.02z"/>
<path fill="#3f3fea" d="M256.31 464h16.02v2h-16.02z"/>
<path fill="#6060c0" d="M256.31 470h16.02v1h-16.02z"/>
<path fill="#5a5ad5" d="M256.31 479h16.02v1h-16.02z"/>
<path fill="#5a5ad8" d="M256.31 480h16.02v1h-16.02z"/>
<path fill="#7575d5" d="M256.31 485h16.02v1h-16.02zM320.38 420h16.02v1h-16.02z"/>
<path fill="#7575de" d="M256.31 486h16.02v1h-16.02z"/>
<path fill="#9999c9" d="M256.31 498h16.02v1h-16.02zM320.38 293h16.02v1h-16.02z"/>
<path fill="#ababd2" d="M256.31 501h16.02v1h-16.02z"/>
<path fill="#6969c0" d="M256.31 504h16.02v1h-16.02z"/>
<path fill="#6060ba" d="M256.31 507h16.02v1h-16.02z"/>
<path fill="#8a8af9" d="M256.31 510h16.02v1h-16.02z"/>
<path fill="#7b7bea" d="M256.31 511h16.02v1h-16.02z"/>
<path fill="#3636cc" d="M256.31 513h16.02v1h-16.02z"/>
<path fill="#4848cc" d="M256.31 515h16.02v1h-16.02z"/>
<path fill="#6666cf" d="M256.31 517h16.02v1h-16.02z"/>
<path fill="#8484cf" d="M256.31 520h16.02v1h-16.02z"/>
<path fill="#3c3cc3" d="M256.31 527h16.02v1h-16.02z"/>
<path fill="#f03636" d="M272.33 169h16.02v1h-16.02zM320.38 171h16.02v1h-16.02zM368.44 169h16.02v1h-16.02z"/>
<path fill="#f63333" d="M272.33 170h16.02v1h-16.02z"/>
<path fill="#ea2a2a" d="M272.33 171h16.02v1h-16.02z"/>
<path fill="#f04b4b" d="M272.33 177h16.02v1h-16.02z"/>
<path fill="#ed4e4e" d="M272.33 178h16.02v1h-16.02zM304.37 176h16.02v1h-16.02z"/>
<path fill="#f95a5a" d="M272.33 179h16.02v1h-16.02z"/>
<path fill="#ea6060" d="M272.33 180h16.02v1h-16.02z"/>
<path fill="#de9090" d="M272.33 184h16.02v1h-16.02z"/>
<path fill="#db8d8d" d="M272.33 189h16.02v1h-16.02z"/>
<path fill="#fca8a8" d="M272.33 201h16.02v1h-16.02zM272.33 255h16.02v1h-16.02zM352.42 226h16.02v1h-16.02zM400.48 197h16.02v1h-16.02z"/>
<path fill="#e1a5a5" d="M272.33 208h16.02v1h-16.02z"/>
<path fill="#dbb1ba" d="M272.33 222h16.02v1h-16.02z"/>
<path fill="#e7a5a5" d="M272.33 233h16.02v1h-16.02zM304.37 297h16.02v1h-16.02z"/>
<path fill="#e4a5a5" d="M272.33 234h16.02v1h-16.02z"/>
<path fill="#f39090" d="M272.33 239h16.02v1h-16.02zM304.37 190h16.02v1h-16.02zM336.4 232h16.02v1h-16.02z"/>
<path fill="#e4c3c9" d="M272.33 243h16.02v1h-16.02z"/>
<path fill="#edbaba" d="M272.33 266h16.02v1h-16.02zM272.33 284h16.02v1h-16.02z"/>
<path fill="#eae7f3" d="M272.33 315h16.02v1h-16.02zM352.42 359h16.02v1h-16.02z"/>
<path fill="#c9c9e1" d="M272.33 371h16.02v1h-16.02z"/>
<path fill="#c0b7d8" d="M272.33 409h16.02v1h-16.02z"/>
<path fill="#7272cc" d="M272.33 446h16.02v1h-16.02z"/>
<path fill="#5757de" d="M272.33 476h16.02v1h-16.02z"/>
<path fill="#aeaede" d="M272.33 495h16.02v1h-16.02z"/>
<path fill="#39399c" d="M272.33 505h16.02v1h-16.02z"/>
<path fill="#3939ae" d="M272.33 506h16.02v1h-16.02z"/>
<path fill="#4e4ebd" d="M272.33 518h16.02v1h-16.02z"/>
<path fill="#b7b4d5" d="M272.33 532h16.02v1h-16.02z"/>
<path fill="#f31e1e" d="M288.35 170h16.02v1h-16.02z"/>
<path fill="#ea1515" d="M288.35 171h16.02v1h-16.02z"/>
<path fill="#f01e1e" d="M288.35 174h16.02v2h-16.02zM336.4 169h16.02v1h-16.02z"/>
<path fill="#fc4b4b" d="M288.35 177h16.02v1h-16.02z"/>
<path fill="#fc6363" d="M288.35 179h16.02v1h-16.02z"/>
<path fill="#e45a5a" d="M288.35 182h16.02v1h-16.02z"/>
<path fill="#fc7878" d="M288.35 189h16.02v1h-16.02zM336.4 186h16.02v1h-16.02z"/>
<path fill="#ed7e7e" d="M288.35 193h16.02v1h-16.02zM288.35 238h16.02v1h-16.02zM288.35 246h16.02v1h-16.02z"/>
<path fill="#ea6666" d="M288.35 197h16.02v1h-16.02z"/>
<path fill="#fca2a2" d="M288.35 205h16.02v1h-16.02zM352.42 197h16.02v1h-16.02zM352.42 223h16.02v1h-16.02z"/>
<path fill="#ffe1e4" d="M288.35 208h16.02v1h-16.02z"/>
<path fill="#c37b81" d="M288.35 209h16.02v1h-16.02z"/>
<path fill="#e76c6c" d="M288.35 210h16.02v1h-16.02z"/>
<path fill="#ed9696" d="M288.35 212h16.02v1h-16.02zM384.46 193h16.02v1h-16.02z"/>
<path fill="#ed6363" d="M288.35 223h16.02v1h-16.02zM304.37 185h16.02v1h-16.02z"/>
<path fill="#debac9" d="M288.35 226h16.02v1h-16.02z"/>
<path fill="#f3cfe1" d="M288.35 227h16.02v1h-16.02z"/>
<path fill="#e4b4b4" d="M288.35 230h16.02v1h-16.02z"/>
<path fill="#d28a8a" d="M288.35 233h16.02v1h-16.02z"/>
<path fill="#f07e7e" d="M288.35 245h16.02v1h-16.02z"/>
<path fill="#ed9999" d="M288.35 248h16.02v1h-16.02z"/>
<path fill="#d57b7b" d="M288.35 250h16.02v1h-16.02z"/>
<path fill="#e7aeae" d="M288.35 255h16.02v1h-16.02zM320.38 202h16.02v1h-16.02zM352.42 266h16.02v1h-16.02zM384.46 250h16.02v1h-16.02z"/>
<path fill="#eaa2a2" d="M288.35 260h16.02v1h-16.02z"/>
<path fill="#edb7b7" d="M288.35 297h16.02v1h-16.02z"/>
<path fill="#f0cccc" d="M288.35 312h16.02v1h-16.02z"/>
<path fill="#edcfcf" d="M288.35 362h16.02v1h-16.02zM368.44 364h16.02v1h-16.02z"/>
<path fill="#b1abd2" d="M288.35 433h16.02v1h-16.02z"/>
<path fill="#f0f0f6" d="M288.35 485h16.02v1h-16.02zM336.4 386h16.02v1h-16.02zM336.4 400h16.02v1h-16.02zM336.4 434h16.02v1h-16.02zM384.46 422h16.02v1h-16.02z"/>
<path fill="#9996c6" d="M288.35 539h16.02v1h-16.02z"/>
<path fill="#9696cc" d="M288.35 540h16.02v1h-16.02z"/>
<path fill="#f93f3f" d="M304.37 170h16.02v1h-16.02z"/>
<path fill="#e72d2d" d="M304.37 171h16.02v1h-16.02z"/>
<path fill="#f65757" d="M304.37 177h16.02v1h-16.02z"/>
<path fill="#e76060" d="M304.37 178h16.02v1h-16.02z"/>
<path fill="#ff7878" d="M304.37 179h16.02v2h-16.02zM336.4 182h16.02v1h-16.02z"/>
<path fill="#e44848" d="M304.37 182h16.02v1h-16.02z"/>
<path fill="#ff6363" d="M304.37 183h16.02v1h-16.02zM336.4 176h16.02v1h-16.02zM336.4 180h16.02v1h-16.02zM368.44 179h16.02v1h-16.02z"/>
<path fill="#fc7272" d="M304.37 184h16.02v1h-16.02z"/>
<path fill="#ed6060" d="M304.37 186h16.02v1h-16.02z"/>
<path fill="#fc6f6f" d="M304.37 187h16.02v1h-16.02z"/>
<path fill="#d88181" d="M304.37 197h16.02v1h-16.02z"/>
<path fill="#e47878" d="M304.37 208h16.02v1h-16.02zM352.42 183h16.02v1h-16.02z"/>
<path fill="#dba2a2" d="M304.37 210h16.02v1h-16.02z"/>
<path fill="#f98787" d="M304.37 213h16.02v1h-16.02zM352.42 203h16.02v1h-16.02zM368.44 212h16.02v1h-16.02z"/>
<path fill="#c98d9c" d="M304.37 222h16.02v1h-16.02z"/>
<path fill="#ffc9db" d="M304.37 223h16.02v1h-16.02z"/>
<path fill="#f08d8d" d="M304.37 243h16.02v2h-16.02z"/>
<path fill="#e4a8a8" d="M304.37 250h16.02v1h-16.02z"/>
<path fill="#cf9ca8" d="M304.37 270h16.02v1h-16.02z"/>
<path fill="#ffd2e1" d="M304.37 271h16.02v1h-16.02z"/>
<path fill="#e7cfe1" d="M304.37 278h16.02v2h-16.02zM384.46 253h16.02v1h-16.02z"/>
<path fill="#f3e7f9" d="M304.37 298h16.02v1h-16.02z"/>
<path fill="#e4d8ea" d="M304.37 299h16.02v1h-16.02z"/>
<path fill="#f3eaf0" d="M304.37 313h16.02v1h-16.02z"/>
<path fill="#f0e7ff" d="M304.37 340h16.02v1h-16.02z"/>
<path fill="#9f96c6" d="M304.37 341h16.02v1h-16.02z"/>
<path fill="#f3e4ea" d="M304.37 350h16.02v1h-16.02zM352.42 312h16.02v1h-16.02zM384.46 310h16.02v1h-16.02z"/>
<path fill="#f3eaed" d="M304.37 353h16.02v1h-16.02zM304.37 441h16.02v1h-16.02z"/>
<path fill="#f6f0f3" d="M304.37 364h16.02v1h-16.02z"/>
<path fill="#eddbe7" d="M304.37 370h16.02v1h-16.02z"/>
<path fill="#f3e1ed" d="M304.37 371h16.02v1h-16.02z"/>
<path fill="#c3c0de" d="M304.37 411h16.02v1h-16.02z"/>
<path fill="#c3c3de" d="M304.37 412h16.02v1h-16.02zM384.46 388h16.02v1h-16.02z"/>
<path fill="#b7a2cc" d="M304.37 434h16.02v1h-16.02z"/>
<path fill="#ead5ff" d="M304.37 435h16.02v1h-16.02z"/>
<path fill="#eddbdb" d="M304.37 436h16.02v1h-16.02z"/>
<path fill="#b7b7d8" d="M304.37 457h16.02v1h-16.02z"/>
<path fill="#c6c3de" d="M304.37 506h16.02v1h-16.02z"/>
<path fill="#5d5dae" d="M304.37 518h16.02v1h-16.02z"/>
<path fill="#f33939" d="M320.38 170h16.02v1h-16.02z"/>
<path fill="#f03c3c" d="M320.38 172h16.02v2h-16.02zM352.42 174h16.02v2h-16.02z"/>
<path fill="#e46060" d="M320.38 177h16.02v1h-16.02z"/>
<path fill="#d86666" d="M320.38 178h16.02v1h-16.02z"/>
<path fill="#ea8a8a" d="M320.38 181h16.02v1h-16.02zM352.42 213h16.02v1h-16.02z"/>
<path fill="#eab4b4" d="M320.38 188h16.02v1h-16.02z"/>
<path fill="#f0c3c3" d="M320.38 200h16.02v1h-16.02z"/>
<path fill="#f3e7f6" d="M320.38 226h16.02v1h-16.02zM336.4 296h16.02v1h-16.02zM368.44 443h16.02v1h-16.02zM384.46 340h16.02v1h-16.02z"/>
<path fill="#b7aed2" d="M320.38 264h16.02v1h-16.02z"/>
<path fill="#6969d8" d="M320.38 338h16.02v1h-16.02zM352.42 522h16.02v1h-16.02z"/>
<path fill="#9090cf" d="M320.38 359h16.02v1h-16.02z"/>
<path fill="#5151cf" d="M320.38 388h16.02v1h-16.02z"/>
<path fill="#2a2acf" d="M320.38 412h16.02v1h-16.02z"/>
<path fill="#6363ff" d="M320.38 413h16.02v1h-16.02z"/>
<path fill="#5151db" d="M320.38 424h16.02v1h-16.02z"/>
<path fill="#8181db" d="M320.38 426h16.02v1h-16.02z"/>
<path fill="#a5a5de" d="M320.38 430h16.02v1h-16.02z"/>
<path fill="#7e7ee7" d="M320.38 441h16.02v1h-16.02zM320.38 521h16.02v1h-16.02z"/>
<path fill="#7272d5" d="M320.38 451h16.02v1h-16.02z"/>
<path fill="#8a8adb" d="M320.38 457h16.02v1h-16.02z"/>
<path fill="#8181f9" d="M320.38 471h16.02v1h-16.02z"/>
<path fill="#4545c0" d="M320.38 479h16.02v2h-16.02z"/>
<path fill="#8d8de4" d="M320.38 487h16.02v1h-16.02z"/>
<path fill="#4b4bc3" d="M320.38 495h16.02v1h-16.02z"/>
<path fill="#4e4eab" d="M320.38 496h16.02v1h-16.02z"/>
<path fill="#6060c6" d="M320.38 505h16.02v1h-16.02z"/>
<path fill="#9f9ff9" d="M320.38 512h16.02v1h-16.02z"/>
<path fill="#a2a2f9" d="M320.38 516h16.02v1h-16.02z"/>
<path fill="#6363b7" d="M320.38 526h16.02v1h-16.02z"/>
<path fill="#e72121" d="M336.4 170h16.02v1h-16.02z"/>
<path fill="#d82d2d" d="M336.4 177h16.02v2h-16.02z"/>
<path fill="#e44545" d="M336.4 181h16.02v1h-16.02z"/>
<path fill="#e15454" d="M336.4 183h16.02v1h-16.02z"/>
<path fill="#f66666" d="M336.4 188h16.02v1h-16.02z"/>
<path fill="#e76363" d="M336.4 190h16.02v1h-16.02z"/>
<path fill="#de8787" d="M336.4 200h16.02v1h-16.02z"/>
<path fill="#d89f9f" d="M336.4 208h16.02v1h-16.02z"/>
<path fill="#deb7ba" d="M336.4 222h16.02v1h-16.02z"/>
<path fill="#fff0f3" d="M336.4 223h16.02v1h-16.02zM384.46 273h16.02v1h-16.02zM384.46 316h16.02v1h-16.02zM384.46 482h16.02v1h-16.02z"/>
<path fill="#debacf" d="M336.4 226h16.02v1h-16.02z"/>
<path fill="#edc9de" d="M336.4 227h16.02v1h-16.02z"/>
<path fill="#fc9999" d="M336.4 233h16.02v1h-16.02zM368.44 237h16.02v1h-16.02z"/>
<path fill="#eadeea" d="M336.4 297h16.02v1h-16.02z"/>
<path fill="#f3e1e4" d="M336.4 312h16.02v1h-16.02z"/>
<path fill="#f9f0ff" d="M336.4 322h16.02v1h-16.02z"/>
<path fill="#ccc6e1" d="M336.4 341h16.02v1h-16.02z"/>
<path fill="#4b4bc6" d="M336.4 518h16.02v1h-16.02z"/>
<path fill="#a8a8cf" d="M336.4 520h16.02v1h-16.02z"/>
<path fill="#9c9cd2" d="M336.4 535h16.02v1h-16.02zM352.42 505h16.02v1h-16.02z"/>
<path fill="#ea3333" d="M352.42 170h16.02v1h-16.02z"/>
<path fill="#f96363" d="M352.42 178h16.02v1h-16.02z"/>
<path fill="#e45d5d" d="M352.42 180h16.02v1h-16.02zM368.44 203h16.02v1h-16.02z"/>
<path fill="#f65d5d" d="M352.42 184h16.02v1h-16.02z"/>
<path fill="#f05757" d="M352.42 185h16.02v2h-16.02z"/>
<path fill="#e46363" d="M352.42 188h16.02v1h-16.02z"/>
<path fill="#f68181" d="M352.42 193h16.02v1h-16.02zM368.44 232h16.02v2h-16.02zM400.48 183h16.02v1h-16.02z"/>
<path fill="#f67e7e" d="M352.42 198h16.02v2h-16.02zM368.44 238h16.02v2h-16.02zM400.48 182h16.02v1h-16.02z"/>
<path fill="#d86363" d="M352.42 200h16.02v1h-16.02z"/>
<path fill="#e78a8a" d="M352.42 208h16.02v1h-16.02z"/>
<path fill="#e49f9f" d="M352.42 234h16.02v1h-16.02z"/>
<path fill="#edb1b1" d="M352.42 260h16.02v1h-16.02zM368.44 297h16.02v1h-16.02z"/>
<path fill="#ffedf3" d="M352.42 270h16.02v1h-16.02zM368.44 511h16.02v1h-16.02z"/>
<path fill="#edd8de" d="M352.42 271h16.02v1h-16.02zM368.44 430h16.02v1h-16.02z"/>
<path fill="#edd5de" d="M352.42 292h16.02v1h-16.02z"/>
<path fill="#ffe7f0" d="M352.42 293h16.02v1h-16.02z"/>
<path fill="#f0dbde" d="M352.42 318h16.02v1h-16.02z"/>
<path fill="#edd8db" d="M352.42 323h16.02v1h-16.02zM384.46 483h16.02v1h-16.02zM400.48 349h16.02v1h-16.02z"/>
<path fill="#d5cce4" d="M352.42 341h16.02v1h-16.02zM384.46 405h16.02v1h-16.02z"/>
<path fill="#d8d5e7" d="M352.42 384h16.02v1h-16.02z"/>
<path fill="#9f9fd8" d="M352.42 411h16.02v1h-16.02z"/>
<path fill="#8181c9" d="M352.42 457h16.02v1h-16.02z"/>
<path fill="#8181c6" d="M352.42 518h16.02v1h-16.02z"/>
<path fill="#6f6fbd" d="M352.42 521h16.02v1h-16.02z"/>
<path fill="#f02a2a" d="M368.44 172h16.02v2h-16.02z"/>
<path fill="#db3030" d="M368.44 177h16.02v1h-16.02z"/>
<path fill="#db3333" d="M368.44 178h16.02v1h-16.02z"/>
<path fill="#e73333" d="M368.44 184h16.02v1h-16.02z"/>
<path fill="#fc4848" d="M368.44 185h16.02v1h-16.02z"/>
<path fill="#f64b4b" d="M368.44 186h16.02v1h-16.02z"/>
<path fill="#e14545" d="M368.44 188h16.02v1h-16.02z"/>
<path fill="#ff6969" d="M368.44 189h16.02v1h-16.02zM384.46 182h16.02v1h-16.02z"/>
<path fill="#f66c6c" d="M368.44 190h16.02v1h-16.02z"/>
<path fill="#f06c6c" d="M368.44 192h16.02v1h-16.02zM400.48 185h16.02v2h-16.02z"/>
<path fill="#f97575" d="M368.44 193h16.02v1h-16.02zM400.48 184h16.02v1h-16.02z"/>
<path fill="#f35757" d="M368.44 194h16.02v2h-16.02z"/>
<path fill="#d56969" d="M368.44 200h16.02v1h-16.02z"/>
<path fill="#de6060" d="M368.44 204h16.02v1h-16.02z"/>
<path fill="#e47b7b" d="M368.44 208h16.02v1h-16.02z"/>
<path fill="#ed7272" d="M368.44 210h16.02v1h-16.02z"/>
<path fill="#ffeaed" d="M368.44 222h16.02v1h-16.02z"/>
<path fill="#cc8d90" d="M368.44 223h16.02v1h-16.02z"/>
<path fill="#e18787" d="M368.44 231h16.02v1h-16.02z"/>
<path fill="#ed7575" d="M368.44 234h16.02v1h-16.02z"/>
<path fill="#ed6c6c" d="M368.44 248h16.02v1h-16.02z"/>
<path fill="#de7878" d="M368.44 250h16.02v1h-16.02z"/>
<path fill="#f98a8a" d="M368.44 255h16.02v1h-16.02zM400.48 210h16.02v1h-16.02z"/>
<path fill="#f3a2a2" d="M368.44 263h16.02v1h-16.02z"/>
<path fill="#e79f9f" d="M368.44 266h16.02v1h-16.02z"/>
<path fill="#edcccc" d="M368.44 312h16.02v1h-16.02z"/>
<path fill="#e7b1b1" d="M368.44 333h16.02v1h-16.02z"/>
<path fill="#eab7b7" d="M368.44 345h16.02v1h-16.02z"/>
<path fill="#eddbea" d="M368.44 349h16.02v1h-16.02zM400.48 328h16.02v1h-16.02z"/>
<path fill="#f3d8e7" d="M368.44 350h16.02v1h-16.02z"/>
<path fill="#e7cfde" d="M368.44 351h16.02v1h-16.02zM400.48 276h16.02v1h-16.02z"/>
<path fill="#ede1ed" d="M368.44 396h16.02v1h-16.02zM368.44 442h16.02v1h-16.02z"/>
<path fill="#f3e7f3" d="M368.44 397h16.02v1h-16.02z"/>
<path fill="#edd8ea" d="M368.44 404h16.02v1h-16.02z"/>
<path fill="#d8d5ea" d="M368.44 411h16.02v1h-16.02z"/>
<path fill="#e1d2e4" d="M368.44 412h16.02v1h-16.02z"/>
<path fill="#f0e1f3" d="M368.44 413h16.02v1h-16.02z"/>
<path fill="#f6e7ea" d="M368.44 497h16.02v1h-16.02z"/>
<path fill="#db1b1b" d="M384.46 170h16.02v1h-16.02z"/>
<path fill="#ff4242" d="M384.46 171h16.02v1h-16.02zM400.48 171h16.02v1h-16.02z"/>
<path fill="#e75757" d="M384.46 178h16.02v1h-16.02z"/>
<path fill="#cf8181" d="M384.46 180h16.02v1h-16.02z"/>
<path fill="#e75151" d="M384.46 183h16.02v1h-16.02z"/>
<path fill="#d59090" d="M384.46 188h16.02v1h-16.02z"/>
<path fill="#e17e7e" d="M384.46 190h16.02v1h-16.02z"/>
<path fill="#e48181" d="M384.46 196h16.02v1h-16.02z"/>
<path fill="#de7272" d="M384.46 200h16.02v1h-16.02z"/>
<path fill="#cc909f" d="M384.46 202h16.02v1h-16.02z"/>
<path fill="#ffcfde" d="M384.46 203h16.02v1h-16.02z"/>
<path fill="#ed8181" d="M384.46 208h16.02v1h-16.02z"/>
<path fill="#ea7878" d="M384.46 227h16.02v1h-16.02zM400.48 188h16.02v1h-16.02z"/>
<path fill="#f39c9c" d="M384.46 242h16.02v1h-16.02z"/>
<path fill="#ed9f9f" d="M384.46 246h16.02v1h-16.02z"/>
<path fill="#e7cccc" d="M384.46 272h16.02v1h-16.02z"/>
<path fill="#ead5f0" d="M384.46 308h16.02v1h-16.02z"/>
<path fill="#d2bdd8" d="M384.46 309h16.02v1h-16.02z"/>
<path fill="#eddbde" d="M384.46 317h16.02v1h-16.02z"/>
<path fill="#e7dbea" d="M384.46 341h16.02v1h-16.02z"/>
<path fill="#fceaf3" d="M384.46 348h16.02v1h-16.02z"/>
<path fill="#f0dee7" d="M384.46 349h16.02v1h-16.02z"/>
<path fill="#f0e1e1" d="M384.46 350h16.02v1h-16.02z"/>
<path fill="#c3bad8" d="M384.46 431h16.02v2h-16.02z"/>
<path fill="#dbd5e7" d="M384.46 440h16.02v1h-16.02z"/>
<path fill="#d2c9e1" d="M384.46 495h16.02v1h-16.02zM400.48 379h16.02v1h-16.02z"/>
<path fill="#9c9cc9" d="M384.46 505h16.02v1h-16.02z"/>
<path fill="#f3f0f9" d="M384.46 515h16.02v1h-16.02z"/>
<path fill="#8484c9" d="M384.46 521h16.02v1h-16.02z"/>
<path fill="#ed1818" d="M400.48 169h16.02v1h-16.02z"/>
<path fill="#de1e1e" d="M400.48 170h16.02v1h-16.02z"/>
<path fill="#ff5a5a" d="M400.48 176h16.02v1h-16.02z"/>
<path fill="#d82727" d="M400.48 177h16.02v1h-16.02z"/>
<path fill="#d22a2a" d="M400.48 178h16.02v1h-16.02z"/>
<path fill="#ff6f6f" d="M400.48 180h16.02v1h-16.02z"/>
<path fill="#f97272" d="M400.48 187h16.02v1h-16.02z"/>
<path fill="#e49090" d="M400.48 190h16.02v1h-16.02z"/>
<path fill="#ea9c9c" d="M400.48 193h16.02v1h-16.02z"/>
<path fill="#e77575" d="M400.48 202h16.02v1h-16.02z"/>
<path fill="#e16666" d="M400.48 209h16.02v1h-16.02z"/>
<path fill="#d5a5a5" d="M400.48 212h16.02v1h-16.02z"/>
<path fill="#de7b7b" d="M400.48 233h16.02v1h-16.02z"/>
<path fill="#e1aeae" d="M400.48 243h16.02v1h-16.02z"/>
<path fill="#d8abb1" d="M400.48 246h16.02v1h-16.02z"/>
<path fill="#eaabab" d="M400.48 250h16.02v1h-16.02z"/>
<path fill="#eaa8a8" d="M400.48 266h16.02v1h-16.02z"/>
<path fill="#f0d8e7" d="M400.48 277h16.02v1h-16.02z"/>
<path fill="#e4c9de" d="M400.48 318h16.02v1h-16.02z"/>
<path fill="#e7c9de" d="M400.48 319h16.02v1h-16.02z"/>
<path fill="#e7deed" d="M400.48 341h16.02v1h-16.02z"/>
<path fill="#cfc6e1" d="M400.48 388h16.02v1h-16.02z"/>
<path fill="#f0e4f0" d="M400.48 419h16.02v1h-16.02z"/>
<path fill="#c6c0de" d="M400.48 502h16.02v1h-16.02z"/>
<path fill="#ccc9e4" d="M400.48 534h16.02v1h-16.02z"/>
<path fill="#d2cfe7" d="M400.48 537h16.02v1h-16.02z"/>
</g>
<rect x="0.00" y="124" width="16.32" height="13" fill="#1eeb1e"/>
<rect x="16.02" y="124" width="16.32" height="13" fill="#0a0ae6"/>
<rect x="32.04" y="124" width="16.32" height="13" fill="#1eeb1e"/>
<rect x="48.06" y="124" width="16.32" height="13" fill="#0a0ae6"/>
<rect x="64.08" y="124" width="16.32" height="13" fill="#1eeb1e"/>
<rect x="80.10" y="124" width="16.32" height="13" fill="#0a0ae6"/>
<rect x="96.12" y="124" width="16.32" height="13" fill="#1eeb1e"/>
<rect x="112.13" y="124" width="16.32" height="13" fill="#0a0ae6"/>
<rect x="128.15" y="124" width="16.32" height="13" fill="#1eeb1e"/>
<rect x="144.17" y="124" width="16.32" height="13" fill="#1eeb1e"/>
<rect x="160.19" y="124" width="16.32" height="13" fill="#0a0ae6"/>
<rect x="176.21" y="124" width="16.32" height="13" fill="#0a0ae6"/>
<rect x="192.23" y="124" width="16.32" height="13" fill="#1eeb1e"/>
<rect x="208.25" y="124" width="16.32" height="13" fill="#0a0ae6"/>
<rect x="224.27" y="124" width="16.32" height="13" fill="#1eeb1e"/>
<rect x="240.29" y="124" width="16.32" height="13" fill="#0a0ae6"/>
<rect x="256.31" y="124" width="16.32" height="13" fill="#1eeb1e"/>
<rect x="272.33" y="124" width="16.32" height="13" fill="#0a0ae6"/>
<rect x="288.35" y="124" width="16.32" height="13" fill="#1eeb1e"/>
<rect x="304.37" y="124" width="16.32" height="13" fill="#0a0ae6"/>
<rect x="320.38" y="124" width="16.32" height="13" fill="#1eeb1e"/>
<rect x="336.40" y="124" width="16.32" height="13" fill="#1eeb1e"/>
<rect x="352.42" y="124" width="16.32" height="13" fill="#0a0ae6"/>
<rect x="368.44" y="124" width="16.32" height="13" fill="#0a0ae6"/>
<rect x="384.46" y="124" width="16.32" height="13" fill="#1eeb1e"/>
<rect x="400.48" y="124" width="16.32" height="13" fill="#0a0ae6"/>
</svg>
<svg width="520" height="551" viewBox="0 0 520 551">
<circle cx="6.10" cy="116" r="5" fill="#e6007a"/>
<circle cx="22.24" cy="116" r="5" fill="#e6007a"/>
<circle cx="38.38" cy="116" r="5" fill="#fff200"/>
<circle cx="54.52" cy="116" r="5" fill="#fff200"/>
<circle cx="70.66" cy="116" r="5" fill="#19aee8"/>
<circle cx="86.80" cy="116" r="5" fill="#19aee8"/>
<circle cx="102.94" cy="116" r="5" fill="#d07a28"/>
<circle cx="119.08" cy="116" r="5" fill="#d07a28"/>
<circle cx="135.22" cy="116" r="5" fill="#3aa03a"/>
<circle cx="151.36" cy="116" r="5" fill="#1f3e8c"/>
<circle cx="167.50" cy="116" r="5" fill="#3aa03a"/>
<circle cx="183.64" cy="116" r="5" fill="#1f3e8c"/>
<circle cx="199.78" cy="116" r="5" fill="#e8141e"/>
<circle cx="215.92" cy="116" r="5" fill="#e8141e"/>
<circle cx="232.06" cy="116" r="5" fill="#cc7a9a"/>
<circle cx="248.20" cy="116" r="5" fill="#cc7a9a"/>
<circle cx="264.34" cy="116" r="5" fill="#10b89c"/>
<circle cx="280.48" cy="116" r="5" fill="#10b89c"/>
<circle cx="296.62" cy="116" r="5" fill="#9bcc31"/>
<circle cx="312.76" cy="116" r="5" fill="#9bcc31"/>
<circle cx="328.90" cy="116" r="5" fill="#8e1a8e"/>
<circle cx="345.04" cy="116" r="5" fill="#1c1018"/>
<circle cx="361.18" cy="116" r="5" fill="#1c1018"/>
<circle cx="377.32" cy="116" r="5" fill="#8e1a8e"/>
<circle cx="393.46" cy="116" r="5" fill="#636363"/>
<circle cx="409.60" cy="116" r="5" fill="#636363"/>
<path fill="none" stroke="#1a1a72" stroke-width="1.7" stroke-linecap="square" d="M9.0 169.0V160.0H25.0V169.0M41.1 169.0V160.0H57.1V169.0M17.0 160.0V153.0H49.1V160.0M73.1 169.0V160.0H89.2V169.0M105.2 169.0V161.5H121.2V169.0M81.1 160.0V154.5H113.2V161.5M33.0 153.0V149.0H97.2V154.5M169.3 169.0V160.0H185.3V169.0M153.3 169.0V157.5H177.3V160.0M137.2 169.0V156.0H165.3V157.5M233.4 169.0V159.6H249.5V169.0M217.4 169.0V155.6H241.4V159.6M201.4 169.0V152.4H229.4V155.6M151.3 156.0V148.4H215.4V152.4M65.1 149.0V144.5H183.3V148.4M265.5 169.0V152.4H281.5V169.0M297.5 169.0V164.5H313.6V169.0M345.6 169.0V159.5H361.7V169.0M329.6 169.0V154.0H353.6V159.5M341.6 154.0V152.5H377.7V169.0M305.6 164.5V150.5H359.7V152.5M393.7 169.0V154.0H409.8V169.0M332.6 150.5V146.5H401.7V154.0M273.5 152.4V141.0H367.2V146.5M124.2 144.5V139.5H320.3V141.0"/>
<circle cx="435.7" cy="165.00" r="4.9" fill="#1c1018"/>
<circle cx="435.7" cy="181.08" r="4.9" fill="#19aee8"/>
<circle cx="435.7" cy="197.16" r="4.9" fill="#e6007a"/>
<circle cx="435.7" cy="213.24" r="4.9" fill="#fff200"/>
<circle cx="435.7" cy="229.32" r="4.9" fill="#3aa03a"/>
<circle cx="435.7" cy="245.40" r="4.9" fill="#1f3e8c"/>
<circle cx="435.7" cy="261.48" r="4.9" fill="#d07a28"/>
<circle cx="435.7" cy="277.56" r="4.9" fill="#9bcc31"/>
<circle cx="435.7" cy="293.64" r="4.9" fill="#e8141e"/>
<circle cx="435.7" cy="309.72" r="4.9" fill="#10b89c"/>
<circle cx="435.7" cy="325.80" r="4.9" fill="#636363"/>
<circle cx="435.7" cy="341.88" r="4.9" fill="#8e1a8e"/>
<circle cx="435.7" cy="357.96" r="4.9" fill="#cc7a9a"/>
<rect x="431.2" y="404.0" width="11" height="11" fill="#ee0a0a" stroke="#000" stroke-width="1"/>
<rect x="431.2" y="420.0" width="11" height="11" fill="#ffffff" stroke="#000" stroke-width="1"/>
<rect x="431.2" y="436.0" width="11" height="11" fill="#0a0ae6" stroke="#000" stroke-width="1"/>
<rect x="431.2" y="497.0" width="11" height="11" fill="#1eeb1e" stroke="#000" stroke-width="1"/>
<rect x="431.2" y="513.0" width="11" height="11" fill="#0a0ae6" stroke="#000" stroke-width="1"/>
</svg>
<svg width="520" height="551" viewBox="0 0 520 551" style="filter:grayscale(1) blur(0.25px)" font-size="13" fill="#000">
<text transform="translate(10.30,103.5) rotate(-90)" letter-spacing="0.25">11-05 Gp3</text>
<text transform="translate(26.44,103.5) rotate(-90)" letter-spacing="0.25">11-05 Gp4</text>
<text transform="translate(42.58,103.5) rotate(-90)" letter-spacing="0.25">11-06 Gp3</text>
<text transform="translate(58.72,103.5) rotate(-90)" letter-spacing="0.25">11-06 Gp4</text>
<text transform="translate(74.86,103.5) rotate(-90)" letter-spacing="0.25">11-04 Gp3</text>
<text transform="translate(91.00,103.5) rotate(-90)" letter-spacing="0.25">11-04 Gp4</text>
<text transform="translate(107.14,103.5) rotate(-90)" letter-spacing="0.25">11-09 Gp3</text>
<text transform="translate(123.28,103.5) rotate(-90)" letter-spacing="0.25">11-09 Gp4</text>
<text transform="translate(139.42,103.5) rotate(-90)" letter-spacing="0.25">11-07 area 1 Gp3</text>
<text transform="translate(155.56,103.5) rotate(-90)" letter-spacing="0.25">11-07 area 2 Gp3</text>
<text transform="translate(171.70,103.5) rotate(-90)" letter-spacing="0.25">11-07 area 1 Gp4</text>
<text transform="translate(187.84,103.5) rotate(-90)" letter-spacing="0.25">11-07 area 2 Gp4</text>
<text transform="translate(203.98,103.5) rotate(-90)" letter-spacing="0.25">11-13 Gp3</text>
<text transform="translate(220.12,103.5) rotate(-90)" letter-spacing="0.25">11-13 Gp4</text>
<text transform="translate(236.26,103.5) rotate(-90)" letter-spacing="0.25">12-03 Gp3</text>
<text transform="translate(252.40,103.5) rotate(-90)" letter-spacing="0.25">12-03 Gp4</text>
<text transform="translate(268.54,103.5) rotate(-90)" letter-spacing="0.25">11-14 Gp3</text>
<text transform="translate(284.68,103.5) rotate(-90)" letter-spacing="0.25">11-14 Gp4</text>
<text transform="translate(300.82,103.5) rotate(-90)" letter-spacing="0.25">11-12 Gp3</text>
<text transform="translate(316.96,103.5) rotate(-90)" letter-spacing="0.25">11-12 Gp4</text>
<text transform="translate(333.10,103.5) rotate(-90)" letter-spacing="0.25">12-02 Gp3</text>
<text transform="translate(349.24,103.5) rotate(-90)" letter-spacing="0.25">11-03 Gp3</text>
<text transform="translate(365.38,103.5) rotate(-90)" letter-spacing="0.25">11-03 Gp4</text>
<text transform="translate(381.52,103.5) rotate(-90)" letter-spacing="0.25">12-02 Gp4</text>
<text transform="translate(397.66,103.5) rotate(-90)" letter-spacing="0.25">12-01 Gp3</text>
<text transform="translate(413.80,103.5) rotate(-90)" letter-spacing="0.25">12-01 Gp4</text>
<text x="431" y="148.5" letter-spacing="0.4">Sample</text>
<text x="444.5" y="170.00" letter-spacing="0.1">11-03</text>
<text x="444.5" y="186.08" letter-spacing="0.1">11-04</text>
<text x="444.5" y="202.16" letter-spacing="0.1">11-05</text>
<text x="444.5" y="218.24" letter-spacing="0.1">11-06</text>
<text x="444.5" y="234.32" letter-spacing="0.1">11-07 Area 1</text>
<text x="444.5" y="250.40" letter-spacing="0.1">11-07 Area 2</text>
<text x="444.5" y="266.48" letter-spacing="0.1">11-09</text>
<text x="444.5" y="282.56" letter-spacing="0.1">11-12</text>
<text x="444.5" y="298.64" letter-spacing="0.1">11-13</text>
<text x="444.5" y="314.72" letter-spacing="0.1">11-14</text>
<text x="444.5" y="330.80" letter-spacing="0.1">12-01</text>
<text x="444.5" y="346.88" letter-spacing="0.1">12-02</text>
<text x="444.5" y="362.96" letter-spacing="0.1">12-03</text>
<text x="431.5" y="394.3" letter-spacing="0.3">Expression</text>
<text x="444" y="413.7" letter-spacing="0.2">High</text>
<text x="444" y="429.7" letter-spacing="0.2">Median</text>
<text x="444" y="445.7" letter-spacing="0.2">Low</text>
<text x="431.5" y="489.3" letter-spacing="0.3">Gleason</text>
<text x="444.5" y="506.7" letter-spacing="0.2">Pattern 3</text>
<text x="444.5" y="522.7" letter-spacing="0.2">Pattern 4</text>
</svg></body></html>
